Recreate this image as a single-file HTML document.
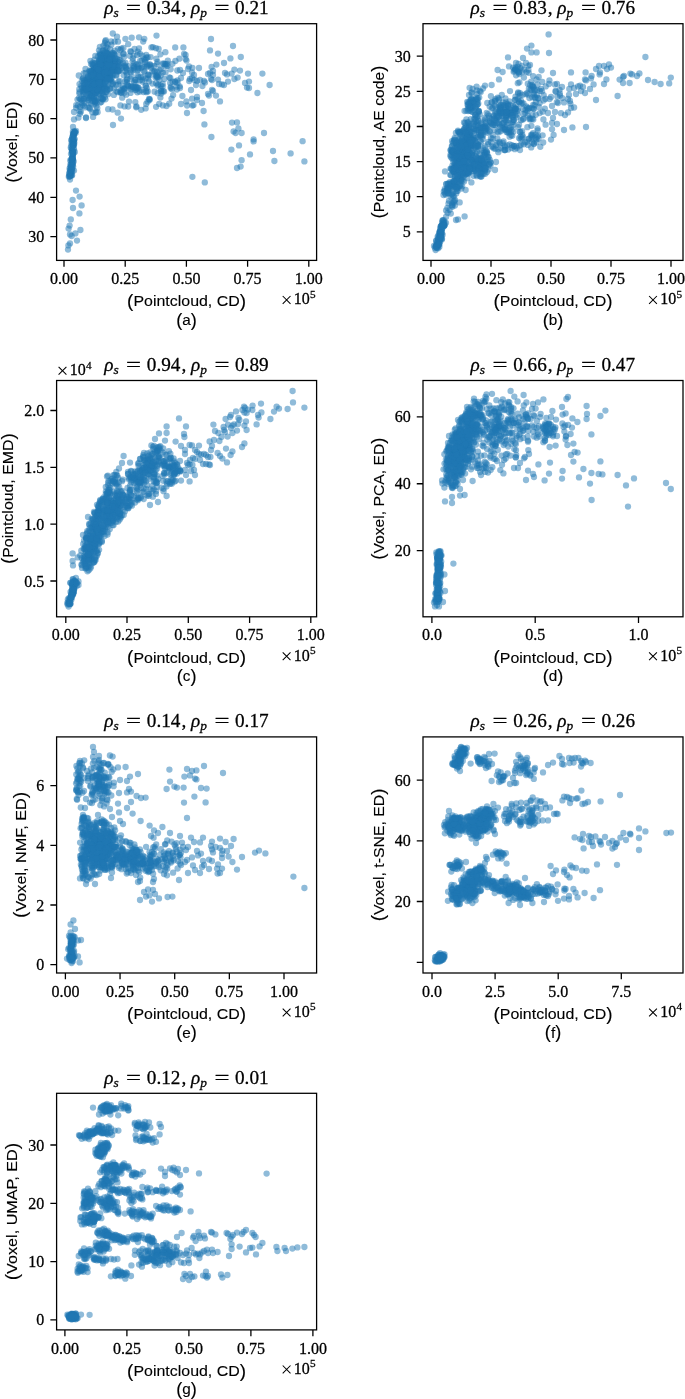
<!DOCTYPE html>
<html lang="en">
<head>
<meta charset="utf-8">
<title>Scatter plots: distance correlations</title>
<style>
html,body{margin:0;padding:0;background:#fff;}
body{width:685px;height:1399px;overflow:hidden;font-family:"Liberation Serif",serif;}
svg{display:block;will-change:transform;}
text{fill:#000;stroke:#000;stroke-width:0.28px;}
text.sans{stroke-width:0.12px;}
</style>
</head>
<body>
<svg width="685" height="1399" viewBox="0 0 685 1399">
<rect width="685" height="1399" fill="#fff"/>
<g id="plot-a">
<clipPath id="clip-a"><rect x="56.6" y="23.7" width="260" height="236.7"/></clipPath>
<g clip-path="url(#clip-a)" fill="#1f77b4" fill-opacity="0.5">
<circle cx="74.8" cy="152.0" r="3.15"/><circle cx="73.5" cy="152.5" r="3.15"/><circle cx="73.0" cy="154.4" r="3.15"/><circle cx="72.8" cy="154.6" r="3.15"/><circle cx="71.9" cy="160.0" r="3.15"/><circle cx="73.6" cy="145.0" r="3.15"/><circle cx="73.4" cy="135.1" r="3.15"/><circle cx="75.6" cy="133.0" r="3.15"/><circle cx="69.3" cy="176.1" r="3.15"/><circle cx="72.4" cy="159.3" r="3.15"/><circle cx="72.5" cy="138.1" r="3.15"/><circle cx="74.0" cy="133.7" r="3.15"/><circle cx="73.6" cy="139.7" r="3.15"/><circle cx="72.4" cy="152.3" r="3.15"/><circle cx="72.1" cy="151.2" r="3.15"/><circle cx="73.0" cy="160.5" r="3.15"/><circle cx="73.1" cy="154.0" r="3.15"/><circle cx="74.2" cy="143.9" r="3.15"/><circle cx="68.8" cy="176.7" r="3.15"/><circle cx="71.8" cy="163.6" r="3.15"/><circle cx="73.1" cy="145.5" r="3.15"/><circle cx="73.2" cy="134.2" r="3.15"/><circle cx="73.1" cy="166.4" r="3.15"/><circle cx="71.8" cy="148.7" r="3.15"/><circle cx="70.8" cy="175.1" r="3.15"/><circle cx="73.6" cy="140.6" r="3.15"/><circle cx="70.5" cy="172.8" r="3.15"/><circle cx="71.6" cy="149.2" r="3.15"/><circle cx="70.9" cy="166.8" r="3.15"/><circle cx="72.6" cy="143.3" r="3.15"/><circle cx="70.4" cy="175.3" r="3.15"/><circle cx="71.0" cy="165.8" r="3.15"/><circle cx="73.4" cy="135.6" r="3.15"/><circle cx="73.9" cy="133.7" r="3.15"/><circle cx="72.9" cy="156.8" r="3.15"/><circle cx="72.1" cy="151.5" r="3.15"/><circle cx="72.3" cy="136.9" r="3.15"/><circle cx="71.2" cy="160.6" r="3.15"/><circle cx="72.8" cy="140.7" r="3.15"/><circle cx="71.6" cy="143.3" r="3.15"/><circle cx="73.5" cy="145.0" r="3.15"/><circle cx="70.9" cy="171.7" r="3.15"/><circle cx="70.3" cy="170.2" r="3.15"/><circle cx="70.2" cy="160.4" r="3.15"/><circle cx="73.6" cy="140.8" r="3.15"/><circle cx="71.4" cy="146.0" r="3.15"/><circle cx="72.8" cy="144.6" r="3.15"/><circle cx="72.0" cy="157.8" r="3.15"/><circle cx="74.2" cy="142.2" r="3.15"/><circle cx="73.2" cy="151.9" r="3.15"/><circle cx="72.1" cy="175.2" r="3.15"/><circle cx="71.0" cy="170.8" r="3.15"/><circle cx="72.4" cy="139.3" r="3.15"/><circle cx="69.6" cy="168.5" r="3.15"/><circle cx="72.8" cy="142.4" r="3.15"/><circle cx="69.4" cy="174.1" r="3.15"/><circle cx="71.6" cy="139.9" r="3.15"/><circle cx="72.8" cy="158.8" r="3.15"/><circle cx="72.6" cy="150.4" r="3.15"/><circle cx="70.7" cy="175.3" r="3.15"/><circle cx="73.7" cy="142.0" r="3.15"/><circle cx="72.1" cy="168.9" r="3.15"/><circle cx="72.3" cy="158.5" r="3.15"/><circle cx="71.1" cy="164.1" r="3.15"/><circle cx="73.9" cy="134.2" r="3.15"/><circle cx="70.0" cy="170.1" r="3.15"/><circle cx="72.5" cy="159.3" r="3.15"/><circle cx="71.4" cy="140.2" r="3.15"/><circle cx="74.4" cy="131.8" r="3.15"/><circle cx="73.0" cy="133.7" r="3.15"/><circle cx="74.5" cy="139.2" r="3.15"/><circle cx="72.9" cy="137.0" r="3.15"/><circle cx="70.8" cy="147.5" r="3.15"/><circle cx="73.7" cy="161.4" r="3.15"/><circle cx="72.3" cy="162.8" r="3.15"/><circle cx="74.5" cy="132.6" r="3.15"/><circle cx="72.9" cy="131.7" r="3.15"/><circle cx="71.7" cy="175.4" r="3.15"/><circle cx="75.0" cy="132.0" r="3.15"/><circle cx="72.5" cy="164.7" r="3.15"/><circle cx="72.8" cy="145.6" r="3.15"/><circle cx="72.3" cy="156.1" r="3.15"/><circle cx="70.3" cy="164.8" r="3.15"/><circle cx="72.7" cy="163.4" r="3.15"/><circle cx="70.6" cy="167.4" r="3.15"/><circle cx="72.3" cy="162.6" r="3.15"/><circle cx="70.3" cy="172.4" r="3.15"/><circle cx="72.2" cy="167.4" r="3.15"/><circle cx="72.4" cy="170.8" r="3.15"/><circle cx="73.5" cy="148.6" r="3.15"/><circle cx="72.5" cy="157.8" r="3.15"/><circle cx="72.3" cy="160.4" r="3.15"/><circle cx="69.6" cy="176.6" r="3.15"/><circle cx="74.0" cy="149.0" r="3.15"/><circle cx="72.6" cy="164.9" r="3.15"/><circle cx="71.8" cy="169.6" r="3.15"/><circle cx="74.0" cy="134.9" r="3.15"/><circle cx="72.4" cy="158.7" r="3.15"/><circle cx="72.4" cy="153.1" r="3.15"/><circle cx="71.0" cy="153.8" r="3.15"/><circle cx="71.4" cy="159.2" r="3.15"/><circle cx="74.6" cy="131.5" r="3.15"/><circle cx="73.5" cy="144.9" r="3.15"/><circle cx="74.3" cy="138.8" r="3.15"/><circle cx="71.6" cy="172.7" r="3.15"/><circle cx="70.0" cy="176.0" r="3.15"/><circle cx="70.0" cy="179.6" r="3.15"/><circle cx="74.0" cy="170.6" r="3.15"/><circle cx="69.2" cy="173.0" r="3.15"/><circle cx="76.0" cy="190.6" r="3.15"/><circle cx="79.6" cy="196.6" r="3.15"/><circle cx="72.6" cy="200.0" r="3.15"/><circle cx="81.6" cy="205.4" r="3.15"/><circle cx="73.0" cy="208.0" r="3.15"/><circle cx="79.4" cy="213.4" r="3.15"/><circle cx="70.8" cy="219.4" r="3.15"/><circle cx="69.6" cy="225.6" r="3.15"/><circle cx="68.6" cy="228.6" r="3.15"/><circle cx="80.4" cy="230.0" r="3.15"/><circle cx="75.4" cy="233.4" r="3.15"/><circle cx="70.0" cy="234.4" r="3.15"/><circle cx="71.6" cy="236.0" r="3.15"/><circle cx="77.0" cy="240.6" r="3.15"/><circle cx="70.0" cy="243.4" r="3.15"/><circle cx="68.4" cy="245.4" r="3.15"/><circle cx="68.0" cy="249.6" r="3.15"/><circle cx="74.0" cy="119.4" r="3.15"/><circle cx="73.0" cy="127.0" r="3.15"/><circle cx="76.0" cy="131.0" r="3.15"/><circle cx="74.0" cy="112.0" r="3.15"/><circle cx="79.6" cy="111.0" r="3.15"/><circle cx="86.0" cy="117.4" r="3.15"/><circle cx="96.0" cy="112.0" r="3.15"/><circle cx="113.0" cy="125.0" r="3.15"/><circle cx="121.0" cy="118.6" r="3.15"/><circle cx="96.5" cy="91.9" r="3.15"/><circle cx="93.5" cy="84.1" r="3.15"/><circle cx="86.4" cy="81.3" r="3.15"/><circle cx="113.5" cy="69.2" r="3.15"/><circle cx="86.7" cy="90.1" r="3.15"/><circle cx="103.7" cy="62.7" r="3.15"/><circle cx="92.2" cy="64.6" r="3.15"/><circle cx="104.1" cy="78.0" r="3.15"/><circle cx="94.4" cy="97.6" r="3.15"/><circle cx="100.2" cy="81.5" r="3.15"/><circle cx="104.8" cy="61.8" r="3.15"/><circle cx="97.2" cy="63.3" r="3.15"/><circle cx="99.2" cy="63.6" r="3.15"/><circle cx="107.2" cy="79.5" r="3.15"/><circle cx="80.9" cy="111.8" r="3.15"/><circle cx="110.3" cy="79.5" r="3.15"/><circle cx="109.7" cy="74.1" r="3.15"/><circle cx="97.6" cy="68.6" r="3.15"/><circle cx="96.8" cy="82.2" r="3.15"/><circle cx="101.6" cy="81.1" r="3.15"/><circle cx="114.4" cy="68.4" r="3.15"/><circle cx="101.2" cy="72.2" r="3.15"/><circle cx="109.8" cy="71.4" r="3.15"/><circle cx="94.7" cy="67.2" r="3.15"/><circle cx="96.7" cy="67.1" r="3.15"/><circle cx="96.7" cy="102.6" r="3.15"/><circle cx="98.3" cy="83.2" r="3.15"/><circle cx="106.6" cy="60.4" r="3.15"/><circle cx="91.6" cy="70.8" r="3.15"/><circle cx="102.7" cy="73.2" r="3.15"/><circle cx="99.2" cy="63.6" r="3.15"/><circle cx="100.3" cy="54.1" r="3.15"/><circle cx="98.0" cy="79.3" r="3.15"/><circle cx="95.3" cy="92.9" r="3.15"/><circle cx="95.4" cy="112.8" r="3.15"/><circle cx="106.6" cy="58.0" r="3.15"/><circle cx="88.4" cy="81.2" r="3.15"/><circle cx="106.1" cy="72.4" r="3.15"/><circle cx="85.6" cy="80.0" r="3.15"/><circle cx="96.9" cy="91.1" r="3.15"/><circle cx="76.1" cy="107.8" r="3.15"/><circle cx="103.6" cy="72.6" r="3.15"/><circle cx="112.5" cy="54.8" r="3.15"/><circle cx="89.5" cy="95.8" r="3.15"/><circle cx="106.5" cy="92.1" r="3.15"/><circle cx="94.4" cy="104.3" r="3.15"/><circle cx="99.0" cy="79.7" r="3.15"/><circle cx="102.1" cy="93.2" r="3.15"/><circle cx="90.6" cy="91.8" r="3.15"/><circle cx="95.0" cy="68.6" r="3.15"/><circle cx="102.8" cy="69.9" r="3.15"/><circle cx="100.8" cy="98.0" r="3.15"/><circle cx="109.9" cy="75.5" r="3.15"/><circle cx="105.9" cy="66.9" r="3.15"/><circle cx="105.1" cy="64.8" r="3.15"/><circle cx="99.2" cy="86.3" r="3.15"/><circle cx="103.8" cy="61.1" r="3.15"/><circle cx="81.6" cy="102.8" r="3.15"/><circle cx="103.0" cy="76.2" r="3.15"/><circle cx="97.1" cy="69.1" r="3.15"/><circle cx="97.1" cy="78.1" r="3.15"/><circle cx="79.4" cy="93.3" r="3.15"/><circle cx="92.9" cy="78.7" r="3.15"/><circle cx="89.4" cy="77.9" r="3.15"/><circle cx="110.7" cy="58.0" r="3.15"/><circle cx="104.6" cy="86.2" r="3.15"/><circle cx="77.9" cy="105.4" r="3.15"/><circle cx="99.7" cy="80.4" r="3.15"/><circle cx="99.7" cy="55.5" r="3.15"/><circle cx="96.7" cy="67.2" r="3.15"/><circle cx="100.5" cy="79.0" r="3.15"/><circle cx="82.7" cy="91.3" r="3.15"/><circle cx="105.6" cy="77.9" r="3.15"/><circle cx="91.0" cy="63.9" r="3.15"/><circle cx="111.4" cy="58.7" r="3.15"/><circle cx="93.8" cy="80.8" r="3.15"/><circle cx="90.7" cy="71.2" r="3.15"/><circle cx="108.9" cy="67.5" r="3.15"/><circle cx="93.1" cy="85.9" r="3.15"/><circle cx="94.1" cy="63.6" r="3.15"/><circle cx="95.0" cy="102.5" r="3.15"/><circle cx="110.9" cy="59.0" r="3.15"/><circle cx="100.8" cy="75.6" r="3.15"/><circle cx="107.0" cy="52.8" r="3.15"/><circle cx="102.8" cy="63.0" r="3.15"/><circle cx="96.5" cy="81.2" r="3.15"/><circle cx="91.6" cy="82.4" r="3.15"/><circle cx="100.8" cy="78.2" r="3.15"/><circle cx="102.1" cy="56.8" r="3.15"/><circle cx="96.0" cy="68.4" r="3.15"/><circle cx="105.2" cy="67.8" r="3.15"/><circle cx="97.7" cy="65.6" r="3.15"/><circle cx="81.8" cy="87.8" r="3.15"/><circle cx="88.6" cy="78.4" r="3.15"/><circle cx="91.4" cy="96.1" r="3.15"/><circle cx="114.2" cy="53.8" r="3.15"/><circle cx="83.7" cy="105.9" r="3.15"/><circle cx="107.6" cy="66.0" r="3.15"/><circle cx="107.9" cy="86.4" r="3.15"/><circle cx="101.5" cy="78.0" r="3.15"/><circle cx="102.1" cy="67.9" r="3.15"/><circle cx="102.1" cy="91.7" r="3.15"/><circle cx="98.0" cy="56.5" r="3.15"/><circle cx="108.4" cy="65.6" r="3.15"/><circle cx="103.5" cy="65.4" r="3.15"/><circle cx="100.3" cy="80.2" r="3.15"/><circle cx="120.5" cy="60.0" r="3.15"/><circle cx="94.4" cy="99.5" r="3.15"/><circle cx="104.6" cy="64.8" r="3.15"/><circle cx="89.7" cy="93.7" r="3.15"/><circle cx="97.3" cy="86.5" r="3.15"/><circle cx="106.9" cy="76.3" r="3.15"/><circle cx="94.1" cy="69.0" r="3.15"/><circle cx="100.2" cy="79.2" r="3.15"/><circle cx="105.3" cy="70.1" r="3.15"/><circle cx="123.4" cy="54.2" r="3.15"/><circle cx="99.6" cy="79.3" r="3.15"/><circle cx="106.0" cy="76.0" r="3.15"/><circle cx="97.2" cy="81.7" r="3.15"/><circle cx="86.8" cy="87.1" r="3.15"/><circle cx="94.2" cy="69.9" r="3.15"/><circle cx="111.1" cy="71.5" r="3.15"/><circle cx="101.7" cy="75.4" r="3.15"/><circle cx="87.2" cy="80.7" r="3.15"/><circle cx="99.2" cy="68.2" r="3.15"/><circle cx="104.7" cy="72.4" r="3.15"/><circle cx="117.1" cy="65.9" r="3.15"/><circle cx="103.0" cy="74.6" r="3.15"/><circle cx="93.9" cy="100.9" r="3.15"/><circle cx="85.8" cy="90.2" r="3.15"/><circle cx="99.9" cy="78.3" r="3.15"/><circle cx="101.5" cy="90.8" r="3.15"/><circle cx="94.8" cy="90.4" r="3.15"/><circle cx="77.5" cy="99.6" r="3.15"/><circle cx="112.9" cy="61.2" r="3.15"/><circle cx="92.9" cy="92.8" r="3.15"/><circle cx="80.6" cy="98.9" r="3.15"/><circle cx="109.4" cy="65.0" r="3.15"/><circle cx="100.9" cy="70.3" r="3.15"/><circle cx="94.5" cy="74.0" r="3.15"/><circle cx="103.8" cy="58.3" r="3.15"/><circle cx="103.0" cy="87.5" r="3.15"/><circle cx="91.5" cy="82.3" r="3.15"/><circle cx="101.5" cy="55.0" r="3.15"/><circle cx="92.0" cy="95.3" r="3.15"/><circle cx="100.0" cy="73.4" r="3.15"/><circle cx="92.5" cy="87.5" r="3.15"/><circle cx="102.0" cy="74.5" r="3.15"/><circle cx="108.4" cy="64.2" r="3.15"/><circle cx="107.5" cy="72.3" r="3.15"/><circle cx="83.7" cy="94.1" r="3.15"/><circle cx="96.0" cy="100.3" r="3.15"/><circle cx="103.3" cy="67.2" r="3.15"/><circle cx="99.8" cy="82.3" r="3.15"/><circle cx="94.1" cy="78.9" r="3.15"/><circle cx="92.4" cy="71.6" r="3.15"/><circle cx="111.2" cy="81.2" r="3.15"/><circle cx="99.1" cy="60.9" r="3.15"/><circle cx="98.8" cy="65.9" r="3.15"/><circle cx="93.6" cy="84.0" r="3.15"/><circle cx="104.5" cy="53.3" r="3.15"/><circle cx="96.0" cy="80.7" r="3.15"/><circle cx="97.5" cy="90.6" r="3.15"/><circle cx="102.4" cy="76.8" r="3.15"/><circle cx="100.2" cy="74.2" r="3.15"/><circle cx="99.4" cy="94.6" r="3.15"/><circle cx="107.2" cy="63.4" r="3.15"/><circle cx="102.8" cy="80.6" r="3.15"/><circle cx="101.8" cy="70.9" r="3.15"/><circle cx="115.0" cy="61.7" r="3.15"/><circle cx="105.6" cy="69.5" r="3.15"/><circle cx="96.2" cy="97.7" r="3.15"/><circle cx="101.8" cy="61.0" r="3.15"/><circle cx="106.4" cy="76.4" r="3.15"/><circle cx="105.7" cy="72.4" r="3.15"/><circle cx="101.2" cy="63.7" r="3.15"/><circle cx="92.0" cy="90.7" r="3.15"/><circle cx="99.8" cy="53.1" r="3.15"/><circle cx="102.8" cy="90.2" r="3.15"/><circle cx="96.0" cy="83.8" r="3.15"/><circle cx="109.5" cy="72.3" r="3.15"/><circle cx="88.1" cy="91.4" r="3.15"/><circle cx="93.4" cy="86.1" r="3.15"/><circle cx="102.6" cy="50.9" r="3.15"/><circle cx="89.5" cy="81.9" r="3.15"/><circle cx="92.1" cy="95.9" r="3.15"/><circle cx="115.4" cy="71.1" r="3.15"/><circle cx="98.2" cy="81.2" r="3.15"/><circle cx="101.6" cy="81.2" r="3.15"/><circle cx="94.4" cy="69.1" r="3.15"/><circle cx="108.5" cy="69.3" r="3.15"/><circle cx="106.1" cy="66.1" r="3.15"/><circle cx="97.3" cy="72.3" r="3.15"/><circle cx="87.9" cy="92.0" r="3.15"/><circle cx="90.6" cy="85.6" r="3.15"/><circle cx="94.8" cy="72.9" r="3.15"/><circle cx="109.3" cy="56.3" r="3.15"/><circle cx="103.8" cy="84.7" r="3.15"/><circle cx="100.9" cy="54.9" r="3.15"/><circle cx="92.2" cy="95.2" r="3.15"/><circle cx="105.4" cy="60.9" r="3.15"/><circle cx="106.0" cy="46.7" r="3.15"/><circle cx="110.9" cy="62.5" r="3.15"/><circle cx="90.2" cy="73.7" r="3.15"/><circle cx="100.6" cy="86.2" r="3.15"/><circle cx="94.0" cy="83.4" r="3.15"/><circle cx="102.7" cy="72.2" r="3.15"/><circle cx="103.0" cy="83.4" r="3.15"/><circle cx="95.3" cy="63.2" r="3.15"/><circle cx="97.2" cy="73.1" r="3.15"/><circle cx="113.3" cy="53.1" r="3.15"/><circle cx="100.0" cy="71.2" r="3.15"/><circle cx="93.8" cy="80.5" r="3.15"/><circle cx="107.7" cy="53.0" r="3.15"/><circle cx="97.0" cy="89.4" r="3.15"/><circle cx="103.2" cy="65.1" r="3.15"/><circle cx="98.8" cy="93.5" r="3.15"/><circle cx="95.3" cy="55.8" r="3.15"/><circle cx="103.6" cy="95.6" r="3.15"/><circle cx="84.7" cy="84.9" r="3.15"/><circle cx="102.0" cy="65.5" r="3.15"/><circle cx="94.5" cy="59.6" r="3.15"/><circle cx="111.4" cy="57.1" r="3.15"/><circle cx="92.6" cy="82.0" r="3.15"/><circle cx="100.4" cy="64.0" r="3.15"/><circle cx="101.4" cy="63.9" r="3.15"/><circle cx="93.2" cy="66.2" r="3.15"/><circle cx="84.6" cy="82.7" r="3.15"/><circle cx="92.7" cy="82.4" r="3.15"/><circle cx="98.0" cy="80.4" r="3.15"/><circle cx="85.0" cy="107.4" r="3.15"/><circle cx="93.8" cy="70.4" r="3.15"/><circle cx="85.6" cy="72.8" r="3.15"/><circle cx="86.2" cy="90.2" r="3.15"/><circle cx="95.3" cy="101.4" r="3.15"/><circle cx="102.8" cy="69.3" r="3.15"/><circle cx="103.8" cy="86.0" r="3.15"/><circle cx="106.2" cy="65.2" r="3.15"/><circle cx="95.4" cy="79.4" r="3.15"/><circle cx="96.0" cy="82.7" r="3.15"/><circle cx="89.4" cy="98.4" r="3.15"/><circle cx="104.4" cy="66.1" r="3.15"/><circle cx="91.4" cy="94.9" r="3.15"/><circle cx="85.0" cy="88.3" r="3.15"/><circle cx="111.1" cy="41.5" r="3.15"/><circle cx="83.8" cy="88.4" r="3.15"/><circle cx="93.4" cy="80.7" r="3.15"/><circle cx="76.2" cy="105.1" r="3.15"/><circle cx="100.5" cy="59.2" r="3.15"/><circle cx="91.1" cy="103.6" r="3.15"/><circle cx="97.3" cy="107.9" r="3.15"/><circle cx="84.0" cy="99.1" r="3.15"/><circle cx="90.3" cy="89.6" r="3.15"/><circle cx="82.4" cy="100.6" r="3.15"/><circle cx="107.6" cy="71.4" r="3.15"/><circle cx="112.9" cy="59.1" r="3.15"/><circle cx="100.4" cy="78.1" r="3.15"/><circle cx="99.0" cy="65.9" r="3.15"/><circle cx="103.4" cy="71.6" r="3.15"/><circle cx="97.6" cy="77.1" r="3.15"/><circle cx="96.6" cy="67.1" r="3.15"/><circle cx="90.5" cy="97.8" r="3.15"/><circle cx="94.4" cy="68.6" r="3.15"/><circle cx="102.5" cy="71.9" r="3.15"/><circle cx="100.6" cy="79.9" r="3.15"/><circle cx="102.5" cy="70.8" r="3.15"/><circle cx="102.4" cy="65.0" r="3.15"/><circle cx="90.7" cy="96.6" r="3.15"/><circle cx="102.6" cy="66.7" r="3.15"/><circle cx="103.3" cy="67.5" r="3.15"/><circle cx="83.9" cy="85.4" r="3.15"/><circle cx="91.2" cy="83.0" r="3.15"/><circle cx="108.6" cy="79.0" r="3.15"/><circle cx="85.7" cy="96.6" r="3.15"/><circle cx="111.9" cy="63.2" r="3.15"/><circle cx="97.3" cy="81.3" r="3.15"/><circle cx="110.1" cy="75.8" r="3.15"/><circle cx="90.2" cy="83.1" r="3.15"/><circle cx="100.2" cy="62.4" r="3.15"/><circle cx="106.2" cy="81.1" r="3.15"/><circle cx="98.5" cy="77.9" r="3.15"/><circle cx="95.0" cy="72.0" r="3.15"/><circle cx="102.5" cy="75.1" r="3.15"/><circle cx="86.4" cy="98.2" r="3.15"/><circle cx="99.2" cy="83.1" r="3.15"/><circle cx="103.3" cy="65.1" r="3.15"/><circle cx="105.0" cy="42.8" r="3.15"/><circle cx="102.2" cy="80.5" r="3.15"/><circle cx="95.8" cy="75.7" r="3.15"/><circle cx="98.2" cy="78.4" r="3.15"/><circle cx="103.1" cy="79.3" r="3.15"/><circle cx="88.3" cy="103.2" r="3.15"/><circle cx="95.4" cy="81.7" r="3.15"/><circle cx="114.5" cy="55.0" r="3.15"/><circle cx="90.4" cy="60.8" r="3.15"/><circle cx="93.3" cy="65.2" r="3.15"/><circle cx="89.1" cy="90.5" r="3.15"/><circle cx="99.9" cy="46.8" r="3.15"/><circle cx="114.8" cy="63.5" r="3.15"/><circle cx="107.5" cy="62.0" r="3.15"/><circle cx="104.1" cy="56.9" r="3.15"/><circle cx="100.6" cy="78.9" r="3.15"/><circle cx="93.2" cy="87.5" r="3.15"/><circle cx="99.4" cy="70.0" r="3.15"/><circle cx="105.0" cy="60.1" r="3.15"/><circle cx="91.8" cy="90.0" r="3.15"/><circle cx="91.4" cy="81.0" r="3.15"/><circle cx="113.4" cy="70.5" r="3.15"/><circle cx="95.9" cy="82.1" r="3.15"/><circle cx="92.2" cy="75.8" r="3.15"/><circle cx="106.9" cy="60.2" r="3.15"/><circle cx="106.9" cy="56.8" r="3.15"/><circle cx="108.7" cy="80.2" r="3.15"/><circle cx="100.3" cy="78.8" r="3.15"/><circle cx="106.7" cy="55.8" r="3.15"/><circle cx="101.0" cy="60.4" r="3.15"/><circle cx="94.8" cy="78.4" r="3.15"/><circle cx="102.7" cy="62.8" r="3.15"/><circle cx="97.2" cy="87.7" r="3.15"/><circle cx="103.2" cy="50.5" r="3.15"/><circle cx="105.3" cy="41.1" r="3.15"/><circle cx="90.0" cy="83.6" r="3.15"/><circle cx="112.4" cy="53.0" r="3.15"/><circle cx="107.6" cy="74.9" r="3.15"/><circle cx="103.8" cy="63.4" r="3.15"/><circle cx="86.7" cy="82.0" r="3.15"/><circle cx="104.4" cy="59.1" r="3.15"/><circle cx="97.8" cy="80.3" r="3.15"/><circle cx="106.7" cy="69.5" r="3.15"/><circle cx="114.5" cy="70.4" r="3.15"/><circle cx="100.0" cy="59.0" r="3.15"/><circle cx="97.1" cy="66.1" r="3.15"/><circle cx="92.1" cy="98.1" r="3.15"/><circle cx="90.3" cy="88.7" r="3.15"/><circle cx="110.4" cy="65.3" r="3.15"/><circle cx="95.0" cy="73.0" r="3.15"/><circle cx="88.6" cy="97.6" r="3.15"/><circle cx="95.8" cy="77.3" r="3.15"/><circle cx="102.9" cy="63.8" r="3.15"/><circle cx="91.9" cy="80.3" r="3.15"/><circle cx="106.9" cy="65.0" r="3.15"/><circle cx="84.5" cy="102.8" r="3.15"/><circle cx="97.6" cy="82.7" r="3.15"/><circle cx="79.9" cy="106.8" r="3.15"/><circle cx="94.2" cy="79.4" r="3.15"/><circle cx="95.4" cy="74.9" r="3.15"/><circle cx="99.7" cy="79.7" r="3.15"/><circle cx="102.2" cy="88.2" r="3.15"/><circle cx="96.5" cy="84.0" r="3.15"/><circle cx="101.9" cy="70.7" r="3.15"/><circle cx="106.2" cy="56.1" r="3.15"/><circle cx="97.9" cy="91.2" r="3.15"/><circle cx="93.6" cy="81.5" r="3.15"/><circle cx="102.6" cy="76.0" r="3.15"/><circle cx="103.9" cy="80.3" r="3.15"/><circle cx="87.9" cy="84.4" r="3.15"/><circle cx="94.7" cy="83.2" r="3.15"/><circle cx="123.4" cy="48.0" r="3.15"/><circle cx="96.2" cy="76.9" r="3.15"/><circle cx="98.9" cy="82.0" r="3.15"/><circle cx="97.2" cy="89.0" r="3.15"/><circle cx="87.1" cy="79.3" r="3.15"/><circle cx="96.0" cy="90.3" r="3.15"/><circle cx="108.0" cy="59.6" r="3.15"/><circle cx="106.4" cy="77.7" r="3.15"/><circle cx="92.5" cy="83.5" r="3.15"/><circle cx="108.0" cy="55.3" r="3.15"/><circle cx="84.4" cy="87.7" r="3.15"/><circle cx="95.9" cy="92.9" r="3.15"/><circle cx="96.6" cy="74.2" r="3.15"/><circle cx="94.5" cy="72.5" r="3.15"/><circle cx="107.7" cy="65.0" r="3.15"/><circle cx="105.6" cy="60.0" r="3.15"/><circle cx="103.9" cy="55.4" r="3.15"/><circle cx="115.0" cy="61.1" r="3.15"/><circle cx="109.6" cy="74.9" r="3.15"/><circle cx="107.6" cy="44.2" r="3.15"/><circle cx="88.3" cy="83.7" r="3.15"/><circle cx="100.6" cy="63.9" r="3.15"/><circle cx="88.6" cy="100.1" r="3.15"/><circle cx="101.4" cy="98.4" r="3.15"/><circle cx="101.9" cy="79.0" r="3.15"/><circle cx="87.3" cy="85.9" r="3.15"/><circle cx="107.9" cy="71.0" r="3.15"/><circle cx="88.8" cy="84.3" r="3.15"/><circle cx="101.7" cy="80.7" r="3.15"/><circle cx="103.7" cy="87.6" r="3.15"/><circle cx="109.6" cy="71.4" r="3.15"/><circle cx="85.4" cy="87.6" r="3.15"/><circle cx="90.2" cy="89.9" r="3.15"/><circle cx="109.9" cy="58.6" r="3.15"/><circle cx="94.6" cy="70.6" r="3.15"/><circle cx="100.2" cy="70.1" r="3.15"/><circle cx="98.1" cy="72.5" r="3.15"/><circle cx="91.6" cy="94.0" r="3.15"/><circle cx="101.6" cy="62.3" r="3.15"/><circle cx="112.6" cy="74.5" r="3.15"/><circle cx="112.8" cy="66.1" r="3.15"/><circle cx="100.6" cy="82.8" r="3.15"/><circle cx="95.1" cy="88.8" r="3.15"/><circle cx="94.4" cy="86.5" r="3.15"/><circle cx="92.3" cy="96.9" r="3.15"/><circle cx="98.0" cy="80.7" r="3.15"/><circle cx="83.0" cy="78.3" r="3.15"/><circle cx="99.1" cy="86.9" r="3.15"/><circle cx="97.6" cy="75.8" r="3.15"/><circle cx="115.1" cy="68.4" r="3.15"/><circle cx="106.6" cy="65.2" r="3.15"/><circle cx="88.4" cy="88.5" r="3.15"/><circle cx="107.3" cy="61.4" r="3.15"/><circle cx="103.1" cy="77.0" r="3.15"/><circle cx="83.2" cy="78.7" r="3.15"/><circle cx="105.1" cy="78.8" r="3.15"/><circle cx="99.1" cy="79.5" r="3.15"/><circle cx="114.4" cy="68.8" r="3.15"/><circle cx="95.7" cy="93.0" r="3.15"/><circle cx="107.4" cy="47.8" r="3.15"/><circle cx="110.2" cy="65.3" r="3.15"/><circle cx="114.7" cy="50.7" r="3.15"/><circle cx="96.5" cy="75.8" r="3.15"/><circle cx="98.8" cy="88.4" r="3.15"/><circle cx="110.0" cy="88.5" r="3.15"/><circle cx="99.3" cy="61.2" r="3.15"/><circle cx="123.6" cy="53.6" r="3.15"/><circle cx="101.3" cy="102.1" r="3.15"/><circle cx="117.2" cy="66.1" r="3.15"/><circle cx="102.9" cy="89.0" r="3.15"/><circle cx="97.3" cy="72.5" r="3.15"/><circle cx="112.1" cy="58.0" r="3.15"/><circle cx="105.4" cy="71.3" r="3.15"/><circle cx="112.4" cy="58.1" r="3.15"/><circle cx="83.6" cy="90.1" r="3.15"/><circle cx="82.2" cy="105.0" r="3.15"/><circle cx="90.8" cy="83.1" r="3.15"/><circle cx="111.3" cy="44.7" r="3.15"/><circle cx="92.6" cy="89.7" r="3.15"/><circle cx="107.5" cy="89.6" r="3.15"/><circle cx="88.1" cy="76.9" r="3.15"/><circle cx="110.4" cy="88.7" r="3.15"/><circle cx="101.1" cy="73.4" r="3.15"/><circle cx="106.4" cy="69.0" r="3.15"/><circle cx="93.9" cy="84.8" r="3.15"/><circle cx="111.5" cy="54.6" r="3.15"/><circle cx="100.0" cy="64.9" r="3.15"/><circle cx="120.3" cy="92.6" r="3.15"/><circle cx="97.6" cy="112.2" r="3.15"/><circle cx="101.6" cy="76.4" r="3.15"/><circle cx="102.9" cy="99.6" r="3.15"/><circle cx="101.5" cy="90.1" r="3.15"/><circle cx="102.7" cy="59.7" r="3.15"/><circle cx="86.1" cy="87.7" r="3.15"/><circle cx="79.1" cy="98.0" r="3.15"/><circle cx="107.0" cy="85.4" r="3.15"/><circle cx="105.1" cy="88.2" r="3.15"/><circle cx="117.0" cy="58.8" r="3.15"/><circle cx="109.1" cy="62.1" r="3.15"/><circle cx="109.7" cy="64.4" r="3.15"/><circle cx="89.7" cy="107.8" r="3.15"/><circle cx="88.7" cy="88.1" r="3.15"/><circle cx="90.9" cy="75.1" r="3.15"/><circle cx="108.1" cy="94.2" r="3.15"/><circle cx="99.4" cy="74.2" r="3.15"/><circle cx="95.2" cy="101.5" r="3.15"/><circle cx="97.9" cy="87.5" r="3.15"/><circle cx="91.3" cy="73.3" r="3.15"/><circle cx="93.5" cy="76.6" r="3.15"/><circle cx="103.0" cy="76.1" r="3.15"/><circle cx="107.3" cy="90.2" r="3.15"/><circle cx="79.5" cy="84.1" r="3.15"/><circle cx="97.1" cy="87.6" r="3.15"/><circle cx="102.9" cy="70.8" r="3.15"/><circle cx="96.9" cy="73.5" r="3.15"/><circle cx="101.8" cy="57.0" r="3.15"/><circle cx="95.8" cy="80.5" r="3.15"/><circle cx="100.8" cy="84.6" r="3.15"/><circle cx="96.0" cy="88.5" r="3.15"/><circle cx="97.8" cy="68.0" r="3.15"/><circle cx="88.6" cy="107.6" r="3.15"/><circle cx="90.2" cy="82.1" r="3.15"/><circle cx="108.6" cy="74.4" r="3.15"/><circle cx="128.2" cy="44.2" r="3.15"/><circle cx="104.0" cy="76.1" r="3.15"/><circle cx="105.9" cy="66.5" r="3.15"/><circle cx="99.2" cy="84.9" r="3.15"/><circle cx="120.3" cy="50.0" r="3.15"/><circle cx="102.5" cy="66.7" r="3.15"/><circle cx="109.1" cy="65.4" r="3.15"/><circle cx="116.3" cy="85.0" r="3.15"/><circle cx="99.1" cy="80.3" r="3.15"/><circle cx="94.8" cy="91.1" r="3.15"/><circle cx="109.3" cy="60.6" r="3.15"/><circle cx="115.6" cy="66.3" r="3.15"/><circle cx="83.9" cy="80.1" r="3.15"/><circle cx="114.7" cy="41.7" r="3.15"/><circle cx="87.9" cy="78.0" r="3.15"/><circle cx="113.5" cy="70.6" r="3.15"/><circle cx="96.1" cy="72.1" r="3.15"/><circle cx="83.3" cy="93.5" r="3.15"/><circle cx="106.5" cy="78.6" r="3.15"/><circle cx="95.6" cy="93.2" r="3.15"/><circle cx="91.9" cy="89.1" r="3.15"/><circle cx="98.4" cy="69.6" r="3.15"/><circle cx="100.6" cy="83.7" r="3.15"/><circle cx="96.9" cy="66.2" r="3.15"/><circle cx="99.3" cy="60.5" r="3.15"/><circle cx="90.1" cy="109.1" r="3.15"/><circle cx="119.1" cy="71.0" r="3.15"/><circle cx="99.9" cy="67.4" r="3.15"/><circle cx="110.0" cy="73.1" r="3.15"/><circle cx="99.8" cy="78.5" r="3.15"/><circle cx="119.7" cy="70.2" r="3.15"/><circle cx="93.9" cy="90.9" r="3.15"/><circle cx="118.7" cy="70.8" r="3.15"/><circle cx="103.4" cy="45.6" r="3.15"/><circle cx="105.8" cy="58.1" r="3.15"/><circle cx="93.1" cy="116.9" r="3.15"/><circle cx="97.9" cy="77.0" r="3.15"/><circle cx="107.9" cy="78.4" r="3.15"/><circle cx="97.3" cy="89.9" r="3.15"/><circle cx="100.3" cy="102.5" r="3.15"/><circle cx="102.5" cy="74.8" r="3.15"/><circle cx="109.2" cy="78.7" r="3.15"/><circle cx="115.3" cy="66.5" r="3.15"/><circle cx="91.0" cy="72.8" r="3.15"/><circle cx="113.4" cy="75.2" r="3.15"/><circle cx="107.2" cy="61.2" r="3.15"/><circle cx="108.5" cy="53.9" r="3.15"/><circle cx="98.7" cy="88.5" r="3.15"/><circle cx="103.2" cy="66.9" r="3.15"/><circle cx="79.3" cy="89.2" r="3.15"/><circle cx="110.2" cy="60.1" r="3.15"/><circle cx="102.1" cy="65.6" r="3.15"/><circle cx="106.0" cy="71.9" r="3.15"/><circle cx="92.3" cy="75.5" r="3.15"/><circle cx="102.5" cy="98.7" r="3.15"/><circle cx="78.4" cy="117.7" r="3.15"/><circle cx="115.4" cy="60.4" r="3.15"/><circle cx="92.6" cy="83.0" r="3.15"/><circle cx="108.2" cy="109.2" r="3.15"/><circle cx="97.4" cy="89.3" r="3.15"/><circle cx="117.9" cy="61.8" r="3.15"/><circle cx="101.4" cy="70.1" r="3.15"/><circle cx="95.5" cy="73.9" r="3.15"/><circle cx="96.7" cy="67.4" r="3.15"/><circle cx="105.1" cy="82.0" r="3.15"/><circle cx="100.4" cy="64.3" r="3.15"/><circle cx="97.2" cy="77.0" r="3.15"/><circle cx="102.6" cy="93.0" r="3.15"/><circle cx="98.9" cy="70.1" r="3.15"/><circle cx="89.5" cy="70.3" r="3.15"/><circle cx="81.3" cy="86.0" r="3.15"/><circle cx="105.5" cy="91.9" r="3.15"/><circle cx="98.8" cy="76.8" r="3.15"/><circle cx="99.4" cy="74.7" r="3.15"/><circle cx="89.2" cy="71.7" r="3.15"/><circle cx="92.3" cy="75.9" r="3.15"/><circle cx="101.1" cy="77.3" r="3.15"/><circle cx="90.5" cy="71.7" r="3.15"/><circle cx="105.4" cy="50.3" r="3.15"/><circle cx="95.0" cy="83.6" r="3.15"/><circle cx="83.7" cy="83.2" r="3.15"/><circle cx="110.2" cy="79.6" r="3.15"/><circle cx="78.8" cy="75.5" r="3.15"/><circle cx="94.1" cy="97.9" r="3.15"/><circle cx="83.6" cy="98.6" r="3.15"/><circle cx="88.8" cy="88.2" r="3.15"/><circle cx="111.8" cy="77.7" r="3.15"/><circle cx="115.0" cy="59.1" r="3.15"/><circle cx="93.0" cy="74.5" r="3.15"/><circle cx="83.7" cy="73.5" r="3.15"/><circle cx="118.1" cy="48.8" r="3.15"/><circle cx="105.5" cy="72.6" r="3.15"/><circle cx="110.4" cy="56.8" r="3.15"/><circle cx="91.5" cy="75.4" r="3.15"/><circle cx="98.8" cy="84.5" r="3.15"/><circle cx="101.3" cy="58.9" r="3.15"/><circle cx="84.6" cy="92.1" r="3.15"/><circle cx="105.5" cy="99.3" r="3.15"/><circle cx="79.9" cy="113.8" r="3.15"/><circle cx="111.5" cy="70.3" r="3.15"/><circle cx="93.1" cy="87.5" r="3.15"/><circle cx="80.4" cy="99.3" r="3.15"/><circle cx="86.0" cy="118.0" r="3.15"/><circle cx="88.7" cy="84.8" r="3.15"/><circle cx="86.4" cy="88.9" r="3.15"/><circle cx="94.0" cy="84.3" r="3.15"/><circle cx="104.6" cy="51.9" r="3.15"/><circle cx="99.0" cy="82.4" r="3.15"/><circle cx="110.9" cy="68.4" r="3.15"/><circle cx="109.8" cy="64.3" r="3.15"/><circle cx="105.6" cy="77.7" r="3.15"/><circle cx="100.1" cy="76.4" r="3.15"/><circle cx="81.8" cy="80.6" r="3.15"/><circle cx="98.2" cy="69.6" r="3.15"/><circle cx="112.8" cy="84.4" r="3.15"/><circle cx="96.2" cy="106.3" r="3.15"/><circle cx="85.5" cy="68.8" r="3.15"/><circle cx="88.1" cy="76.3" r="3.15"/><circle cx="106.7" cy="64.5" r="3.15"/><circle cx="107.1" cy="53.7" r="3.15"/><circle cx="106.5" cy="68.1" r="3.15"/><circle cx="92.3" cy="112.3" r="3.15"/><circle cx="79.5" cy="92.1" r="3.15"/><circle cx="92.8" cy="62.9" r="3.15"/><circle cx="92.4" cy="101.1" r="3.15"/><circle cx="86.9" cy="83.3" r="3.15"/><circle cx="107.9" cy="64.2" r="3.15"/><circle cx="116.5" cy="75.5" r="3.15"/><circle cx="123.4" cy="88.3" r="3.15"/><circle cx="102.7" cy="99.1" r="3.15"/><circle cx="167.8" cy="60.6" r="3.15"/><circle cx="158.6" cy="49.0" r="3.15"/><circle cx="170.7" cy="86.8" r="3.15"/><circle cx="137.7" cy="75.0" r="3.15"/><circle cx="124.6" cy="88.3" r="3.15"/><circle cx="144.0" cy="71.6" r="3.15"/><circle cx="149.7" cy="99.2" r="3.15"/><circle cx="145.1" cy="62.0" r="3.15"/><circle cx="141.9" cy="66.7" r="3.15"/><circle cx="176.8" cy="89.6" r="3.15"/><circle cx="124.0" cy="57.1" r="3.15"/><circle cx="158.1" cy="84.4" r="3.15"/><circle cx="165.4" cy="52.2" r="3.15"/><circle cx="125.0" cy="81.4" r="3.15"/><circle cx="145.6" cy="108.4" r="3.15"/><circle cx="172.5" cy="81.7" r="3.15"/><circle cx="164.0" cy="91.4" r="3.15"/><circle cx="149.5" cy="100.0" r="3.15"/><circle cx="139.7" cy="91.7" r="3.15"/><circle cx="164.4" cy="78.9" r="3.15"/><circle cx="157.1" cy="63.9" r="3.15"/><circle cx="140.6" cy="77.0" r="3.15"/><circle cx="141.2" cy="109.8" r="3.15"/><circle cx="158.1" cy="77.4" r="3.15"/><circle cx="145.9" cy="86.0" r="3.15"/><circle cx="161.4" cy="91.5" r="3.15"/><circle cx="135.9" cy="89.6" r="3.15"/><circle cx="121.3" cy="48.7" r="3.15"/><circle cx="160.7" cy="75.6" r="3.15"/><circle cx="146.2" cy="55.0" r="3.15"/><circle cx="128.5" cy="66.1" r="3.15"/><circle cx="120.4" cy="105.4" r="3.15"/><circle cx="117.7" cy="92.2" r="3.15"/><circle cx="135.2" cy="90.1" r="3.15"/><circle cx="104.7" cy="74.1" r="3.15"/><circle cx="142.4" cy="81.7" r="3.15"/><circle cx="146.5" cy="92.2" r="3.15"/><circle cx="148.1" cy="78.7" r="3.15"/><circle cx="117.9" cy="71.8" r="3.15"/><circle cx="136.3" cy="87.2" r="3.15"/><circle cx="193.5" cy="105.1" r="3.15"/><circle cx="138.5" cy="88.0" r="3.15"/><circle cx="112.7" cy="83.7" r="3.15"/><circle cx="175.4" cy="61.0" r="3.15"/><circle cx="159.4" cy="79.9" r="3.15"/><circle cx="187.1" cy="105.5" r="3.15"/><circle cx="142.3" cy="80.0" r="3.15"/><circle cx="163.6" cy="64.0" r="3.15"/><circle cx="162.6" cy="86.4" r="3.15"/><circle cx="118.4" cy="64.2" r="3.15"/><circle cx="122.0" cy="68.1" r="3.15"/><circle cx="189.2" cy="81.0" r="3.15"/><circle cx="149.4" cy="64.7" r="3.15"/><circle cx="170.8" cy="88.2" r="3.15"/><circle cx="179.4" cy="58.7" r="3.15"/><circle cx="127.2" cy="79.0" r="3.15"/><circle cx="146.8" cy="87.9" r="3.15"/><circle cx="155.6" cy="77.4" r="3.15"/><circle cx="141.7" cy="60.6" r="3.15"/><circle cx="138.8" cy="68.1" r="3.15"/><circle cx="163.1" cy="91.3" r="3.15"/><circle cx="131.8" cy="86.8" r="3.15"/><circle cx="123.7" cy="75.2" r="3.15"/><circle cx="124.2" cy="92.7" r="3.15"/><circle cx="134.4" cy="87.9" r="3.15"/><circle cx="137.1" cy="55.0" r="3.15"/><circle cx="157.5" cy="85.6" r="3.15"/><circle cx="157.5" cy="61.9" r="3.15"/><circle cx="155.9" cy="48.2" r="3.15"/><circle cx="192.1" cy="98.7" r="3.15"/><circle cx="167.4" cy="63.9" r="3.15"/><circle cx="160.9" cy="85.6" r="3.15"/><circle cx="166.5" cy="106.0" r="3.15"/><circle cx="109.5" cy="59.3" r="3.15"/><circle cx="118.7" cy="66.8" r="3.15"/><circle cx="131.3" cy="89.4" r="3.15"/><circle cx="110.2" cy="49.5" r="3.15"/><circle cx="150.2" cy="64.4" r="3.15"/><circle cx="149.0" cy="81.4" r="3.15"/><circle cx="172.4" cy="63.8" r="3.15"/><circle cx="122.2" cy="97.7" r="3.15"/><circle cx="147.6" cy="57.2" r="3.15"/><circle cx="152.9" cy="47.1" r="3.15"/><circle cx="105.7" cy="83.3" r="3.15"/><circle cx="156.1" cy="106.8" r="3.15"/><circle cx="137.7" cy="66.5" r="3.15"/><circle cx="171.5" cy="98.6" r="3.15"/><circle cx="135.6" cy="82.5" r="3.15"/><circle cx="126.2" cy="94.7" r="3.15"/><circle cx="135.8" cy="79.9" r="3.15"/><circle cx="186.5" cy="60.6" r="3.15"/><circle cx="128.2" cy="106.5" r="3.15"/><circle cx="157.4" cy="76.7" r="3.15"/><circle cx="119.6" cy="80.9" r="3.15"/><circle cx="118.0" cy="41.7" r="3.15"/><circle cx="126.6" cy="79.9" r="3.15"/><circle cx="156.7" cy="75.6" r="3.15"/><circle cx="134.5" cy="48.9" r="3.15"/><circle cx="125.5" cy="62.9" r="3.15"/><circle cx="137.6" cy="87.1" r="3.15"/><circle cx="104.9" cy="97.0" r="3.15"/><circle cx="113.0" cy="82.7" r="3.15"/><circle cx="156.0" cy="83.2" r="3.15"/><circle cx="144.4" cy="59.0" r="3.15"/><circle cx="176.6" cy="86.6" r="3.15"/><circle cx="126.8" cy="82.3" r="3.15"/><circle cx="157.6" cy="93.2" r="3.15"/><circle cx="110.5" cy="78.4" r="3.15"/><circle cx="131.1" cy="87.3" r="3.15"/><circle cx="140.0" cy="53.8" r="3.15"/><circle cx="123.6" cy="66.3" r="3.15"/><circle cx="113.9" cy="88.7" r="3.15"/><circle cx="141.4" cy="68.1" r="3.15"/><circle cx="169.3" cy="77.4" r="3.15"/><circle cx="170.3" cy="78.0" r="3.15"/><circle cx="121.4" cy="92.4" r="3.15"/><circle cx="165.5" cy="72.3" r="3.15"/><circle cx="136.5" cy="106.4" r="3.15"/><circle cx="177.3" cy="70.5" r="3.15"/><circle cx="121.3" cy="92.6" r="3.15"/><circle cx="154.8" cy="71.5" r="3.15"/><circle cx="146.9" cy="66.4" r="3.15"/><circle cx="118.6" cy="81.6" r="3.15"/><circle cx="118.6" cy="55.2" r="3.15"/><circle cx="143.6" cy="92.1" r="3.15"/><circle cx="130.6" cy="72.5" r="3.15"/><circle cx="123.0" cy="62.9" r="3.15"/><circle cx="127.4" cy="85.0" r="3.15"/><circle cx="121.9" cy="90.0" r="3.15"/><circle cx="156.4" cy="58.7" r="3.15"/><circle cx="165.4" cy="66.2" r="3.15"/><circle cx="120.4" cy="90.5" r="3.15"/><circle cx="148.2" cy="74.9" r="3.15"/><circle cx="161.3" cy="93.6" r="3.15"/><circle cx="133.6" cy="67.9" r="3.15"/><circle cx="104.5" cy="72.9" r="3.15"/><circle cx="159.2" cy="103.9" r="3.15"/><circle cx="175.3" cy="82.1" r="3.15"/><circle cx="165.1" cy="64.0" r="3.15"/><circle cx="173.1" cy="95.1" r="3.15"/><circle cx="113.3" cy="66.2" r="3.15"/><circle cx="134.1" cy="82.2" r="3.15"/><circle cx="133.3" cy="65.8" r="3.15"/><circle cx="156.0" cy="75.4" r="3.15"/><circle cx="105.9" cy="52.7" r="3.15"/><circle cx="179.7" cy="86.3" r="3.15"/><circle cx="138.1" cy="64.4" r="3.15"/><circle cx="119.8" cy="62.4" r="3.15"/><circle cx="159.7" cy="70.0" r="3.15"/><circle cx="175.2" cy="47.4" r="3.15"/><circle cx="130.4" cy="51.2" r="3.15"/><circle cx="167.4" cy="65.9" r="3.15"/><circle cx="107.3" cy="78.9" r="3.15"/><circle cx="140.1" cy="60.9" r="3.15"/><circle cx="144.6" cy="71.4" r="3.15"/><circle cx="122.6" cy="86.2" r="3.15"/><circle cx="137.8" cy="70.6" r="3.15"/><circle cx="150.6" cy="57.1" r="3.15"/><circle cx="160.8" cy="88.9" r="3.15"/><circle cx="147.1" cy="64.5" r="3.15"/><circle cx="111.4" cy="72.6" r="3.15"/><circle cx="118.5" cy="84.4" r="3.15"/><circle cx="126.6" cy="72.5" r="3.15"/><circle cx="135.3" cy="102.1" r="3.15"/><circle cx="136.5" cy="64.5" r="3.15"/><circle cx="162.8" cy="72.6" r="3.15"/><circle cx="135.1" cy="80.0" r="3.15"/><circle cx="119.7" cy="65.8" r="3.15"/><circle cx="138.5" cy="69.1" r="3.15"/><circle cx="130.5" cy="92.9" r="3.15"/><circle cx="154.1" cy="71.4" r="3.15"/><circle cx="177.6" cy="82.9" r="3.15"/><circle cx="161.0" cy="91.2" r="3.15"/><circle cx="146.4" cy="57.9" r="3.15"/><circle cx="151.4" cy="47.4" r="3.15"/><circle cx="146.2" cy="103.9" r="3.15"/><circle cx="162.8" cy="105.4" r="3.15"/><circle cx="192.4" cy="67.8" r="3.15"/><circle cx="137.7" cy="51.6" r="3.15"/><circle cx="104.9" cy="89.1" r="3.15"/><circle cx="131.1" cy="85.6" r="3.15"/><circle cx="137.4" cy="88.2" r="3.15"/><circle cx="125.1" cy="71.2" r="3.15"/><circle cx="135.4" cy="87.5" r="3.15"/><circle cx="147.6" cy="101.7" r="3.15"/><circle cx="130.4" cy="78.9" r="3.15"/><circle cx="132.8" cy="70.5" r="3.15"/><circle cx="142.9" cy="77.1" r="3.15"/><circle cx="147.8" cy="91.4" r="3.15"/><circle cx="131.0" cy="51.8" r="3.15"/><circle cx="136.2" cy="107.3" r="3.15"/><circle cx="124.5" cy="88.8" r="3.15"/><circle cx="125.6" cy="66.9" r="3.15"/><circle cx="175.2" cy="81.4" r="3.15"/><circle cx="163.1" cy="63.4" r="3.15"/><circle cx="151.2" cy="67.7" r="3.15"/><circle cx="158.3" cy="74.8" r="3.15"/><circle cx="139.9" cy="80.3" r="3.15"/><circle cx="133.6" cy="55.7" r="3.15"/><circle cx="134.1" cy="66.9" r="3.15"/><circle cx="146.1" cy="91.2" r="3.15"/><circle cx="152.4" cy="71.5" r="3.15"/><circle cx="162.7" cy="83.9" r="3.15"/><circle cx="177.5" cy="80.3" r="3.15"/><circle cx="143.2" cy="41.6" r="3.15"/><circle cx="169.2" cy="103.7" r="3.15"/><circle cx="137.3" cy="92.3" r="3.15"/><circle cx="134.3" cy="63.4" r="3.15"/><circle cx="125.8" cy="68.1" r="3.15"/><circle cx="170.6" cy="69.3" r="3.15"/><circle cx="129.7" cy="55.8" r="3.15"/><circle cx="138.4" cy="77.2" r="3.15"/><circle cx="128.7" cy="86.3" r="3.15"/><circle cx="148.5" cy="74.7" r="3.15"/><circle cx="184.1" cy="54.0" r="3.15"/><circle cx="160.8" cy="69.0" r="3.15"/><circle cx="149.6" cy="75.6" r="3.15"/><circle cx="124.6" cy="106.4" r="3.15"/><circle cx="134.5" cy="69.6" r="3.15"/><circle cx="154.6" cy="91.7" r="3.15"/><circle cx="131.6" cy="76.5" r="3.15"/><circle cx="132.6" cy="61.3" r="3.15"/><circle cx="113.8" cy="94.9" r="3.15"/><circle cx="117.7" cy="112.7" r="3.15"/><circle cx="145.7" cy="78.5" r="3.15"/><circle cx="142.4" cy="55.7" r="3.15"/><circle cx="129.0" cy="101.6" r="3.15"/><circle cx="160.4" cy="54.3" r="3.15"/><circle cx="154.3" cy="66.2" r="3.15"/><circle cx="157.0" cy="72.0" r="3.15"/><circle cx="144.2" cy="66.3" r="3.15"/><circle cx="172.0" cy="89.2" r="3.15"/><circle cx="141.4" cy="89.9" r="3.15"/><circle cx="108.7" cy="65.1" r="3.15"/><circle cx="133.1" cy="86.9" r="3.15"/><circle cx="149.0" cy="99.0" r="3.15"/><circle cx="127.9" cy="85.7" r="3.15"/><circle cx="132.8" cy="58.5" r="3.15"/><circle cx="152.4" cy="83.6" r="3.15"/><circle cx="125.9" cy="88.5" r="3.15"/><circle cx="116.4" cy="91.3" r="3.15"/><circle cx="145.4" cy="60.1" r="3.15"/><circle cx="160.4" cy="97.6" r="3.15"/><circle cx="126.8" cy="69.3" r="3.15"/><circle cx="115.9" cy="75.3" r="3.15"/><circle cx="127.0" cy="75.0" r="3.15"/><circle cx="125.0" cy="65.6" r="3.15"/><circle cx="130.6" cy="70.3" r="3.15"/><circle cx="151.5" cy="65.8" r="3.15"/><circle cx="166.0" cy="64.5" r="3.15"/><circle cx="139.0" cy="48.5" r="3.15"/><circle cx="119.4" cy="60.5" r="3.15"/><circle cx="147.8" cy="66.3" r="3.15"/><circle cx="170.2" cy="82.9" r="3.15"/><circle cx="156.8" cy="77.0" r="3.15"/><circle cx="107.2" cy="72.4" r="3.15"/><circle cx="145.6" cy="85.4" r="3.15"/><circle cx="117.9" cy="70.5" r="3.15"/><circle cx="115.4" cy="58.1" r="3.15"/><circle cx="112.5" cy="109.5" r="3.15"/><circle cx="112.8" cy="33.5" r="3.15"/><circle cx="117.0" cy="36.7" r="3.15"/><circle cx="125.4" cy="38.8" r="3.15"/><circle cx="131.7" cy="37.7" r="3.15"/><circle cx="139.0" cy="37.3" r="3.15"/><circle cx="144.3" cy="38.8" r="3.15"/><circle cx="156.5" cy="35.6" r="3.15"/><circle cx="105.8" cy="40.2" r="3.15"/><circle cx="99.0" cy="50.3" r="3.15"/><circle cx="211.0" cy="39.0" r="3.15"/><circle cx="233.0" cy="46.0" r="3.15"/><circle cx="210.0" cy="50.4" r="3.15"/><circle cx="218.0" cy="53.6" r="3.15"/><circle cx="230.4" cy="58.4" r="3.15"/><circle cx="240.8" cy="57.0" r="3.15"/><circle cx="183.4" cy="47.4" r="3.15"/><circle cx="185.6" cy="55.0" r="3.15"/><circle cx="185.6" cy="59.0" r="3.15"/><circle cx="224.0" cy="63.0" r="3.15"/><circle cx="216.4" cy="64.6" r="3.15"/><circle cx="211.6" cy="67.0" r="3.15"/><circle cx="199.0" cy="68.0" r="3.15"/><circle cx="189.0" cy="66.4" r="3.15"/><circle cx="188.0" cy="69.0" r="3.15"/><circle cx="192.0" cy="72.4" r="3.15"/><circle cx="194.0" cy="75.0" r="3.15"/><circle cx="192.0" cy="78.0" r="3.15"/><circle cx="190.0" cy="79.0" r="3.15"/><circle cx="194.4" cy="80.0" r="3.15"/><circle cx="197.0" cy="81.0" r="3.15"/><circle cx="200.0" cy="80.0" r="3.15"/><circle cx="204.0" cy="81.0" r="3.15"/><circle cx="205.0" cy="82.4" r="3.15"/><circle cx="196.0" cy="85.0" r="3.15"/><circle cx="202.4" cy="86.0" r="3.15"/><circle cx="191.0" cy="90.0" r="3.15"/><circle cx="208.0" cy="74.0" r="3.15"/><circle cx="210.0" cy="73.0" r="3.15"/><circle cx="213.0" cy="71.0" r="3.15"/><circle cx="213.0" cy="75.0" r="3.15"/><circle cx="211.0" cy="79.0" r="3.15"/><circle cx="212.0" cy="80.0" r="3.15"/><circle cx="218.0" cy="79.6" r="3.15"/><circle cx="219.0" cy="84.0" r="3.15"/><circle cx="222.0" cy="84.4" r="3.15"/><circle cx="224.0" cy="85.0" r="3.15"/><circle cx="228.0" cy="81.6" r="3.15"/><circle cx="225.0" cy="73.0" r="3.15"/><circle cx="227.0" cy="74.4" r="3.15"/><circle cx="231.6" cy="73.6" r="3.15"/><circle cx="234.4" cy="69.6" r="3.15"/><circle cx="240.0" cy="70.6" r="3.15"/><circle cx="234.4" cy="79.0" r="3.15"/><circle cx="237.6" cy="77.6" r="3.15"/><circle cx="248.0" cy="73.6" r="3.15"/><circle cx="262.4" cy="73.6" r="3.15"/><circle cx="269.6" cy="85.0" r="3.15"/><circle cx="249.0" cy="81.6" r="3.15"/><circle cx="245.0" cy="83.0" r="3.15"/><circle cx="247.0" cy="87.6" r="3.15"/><circle cx="249.0" cy="88.0" r="3.15"/><circle cx="257.4" cy="93.0" r="3.15"/><circle cx="212.0" cy="90.0" r="3.15"/><circle cx="213.0" cy="91.0" r="3.15"/><circle cx="208.0" cy="94.0" r="3.15"/><circle cx="209.0" cy="95.6" r="3.15"/><circle cx="216.0" cy="95.6" r="3.15"/><circle cx="220.0" cy="101.4" r="3.15"/><circle cx="197.0" cy="97.0" r="3.15"/><circle cx="197.0" cy="100.0" r="3.15"/><circle cx="202.0" cy="103.0" r="3.15"/><circle cx="203.6" cy="111.0" r="3.15"/><circle cx="192.4" cy="105.6" r="3.15"/><circle cx="187.0" cy="113.0" r="3.15"/><circle cx="186.4" cy="101.4" r="3.15"/><circle cx="182.4" cy="96.0" r="3.15"/><circle cx="181.0" cy="104.0" r="3.15"/><circle cx="180.0" cy="88.0" r="3.15"/><circle cx="181.0" cy="78.0" r="3.15"/><circle cx="183.0" cy="73.0" r="3.15"/><circle cx="180.0" cy="70.0" r="3.15"/><circle cx="204.4" cy="124.4" r="3.15"/><circle cx="211.4" cy="137.0" r="3.15"/><circle cx="232.0" cy="122.6" r="3.15"/><circle cx="237.0" cy="122.4" r="3.15"/><circle cx="238.4" cy="128.4" r="3.15"/><circle cx="233.6" cy="131.4" r="3.15"/><circle cx="235.6" cy="133.0" r="3.15"/><circle cx="241.6" cy="133.0" r="3.15"/><circle cx="264.0" cy="133.0" r="3.15"/><circle cx="253.6" cy="139.4" r="3.15"/><circle cx="253.6" cy="141.4" r="3.15"/><circle cx="239.0" cy="145.4" r="3.15"/><circle cx="231.4" cy="149.6" r="3.15"/><circle cx="250.0" cy="154.4" r="3.15"/><circle cx="273.0" cy="151.0" r="3.15"/><circle cx="290.6" cy="153.4" r="3.15"/><circle cx="302.6" cy="141.2" r="3.15"/><circle cx="241.6" cy="160.2" r="3.15"/><circle cx="240.6" cy="166.6" r="3.15"/><circle cx="237.0" cy="168.0" r="3.15"/><circle cx="274.4" cy="161.0" r="3.15"/><circle cx="304.4" cy="161.4" r="3.15"/><circle cx="192.4" cy="176.8" r="3.15"/><circle cx="204.8" cy="182.4" r="3.15"/>
</g>
<rect x="56.6" y="23.7" width="260" height="236.7" fill="none" stroke="#000" stroke-width="1.28"/>
<text x="64" y="284" font-family='"Liberation Serif", serif' font-size="16" text-anchor="middle">0.00</text>
<text x="125.2" y="284" font-family='"Liberation Serif", serif' font-size="16" text-anchor="middle">0.25</text>
<text x="186.4" y="284" font-family='"Liberation Serif", serif' font-size="16" text-anchor="middle">0.50</text>
<text x="247.6" y="284" font-family='"Liberation Serif", serif' font-size="16" text-anchor="middle">0.75</text>
<text x="308.8" y="284" font-family='"Liberation Serif", serif' font-size="16" text-anchor="middle">1.00</text>
<text x="44.3" y="45.5" font-family='"Liberation Serif", serif' font-size="16" text-anchor="end">80</text>
<text x="44.3" y="84.8" font-family='"Liberation Serif", serif' font-size="16" text-anchor="end">70</text>
<text x="44.3" y="124.1" font-family='"Liberation Serif", serif' font-size="16" text-anchor="end">60</text>
<text x="44.3" y="163.4" font-family='"Liberation Serif", serif' font-size="16" text-anchor="end">50</text>
<text x="44.3" y="202.8" font-family='"Liberation Serif", serif' font-size="16" text-anchor="end">40</text>
<text x="44.3" y="242.1" font-family='"Liberation Serif", serif' font-size="16" text-anchor="end">30</text>
<path d="M64 260.4v6.24M125.2 260.4v6.24M186.4 260.4v6.24M247.6 260.4v6.24M308.8 260.4v6.24M56.6 40h-6.24M56.6 79.3h-6.24M56.6 118.6h-6.24M56.6 157.9h-6.24M56.6 197.3h-6.24M56.6 236.6h-6.24" stroke="#000" stroke-width="1.28" fill="none"/>
<path d="M282.7 296L290.5 303.8M282.7 303.8L290.5 296" stroke="#000" stroke-width="1.05" fill="none"/>
<text x="293.8" y="304.4" font-family='"Liberation Serif", serif' font-size="16" text-anchor="start">10</text>
<text x="310" y="297.8" font-family='"Liberation Serif", serif' font-size="11.2" text-anchor="start">5</text>
<text x="104.2" y="13.9" font-family='"Liberation Serif", serif' font-size="19.2" text-anchor="start" font-style="italic">ρ</text>
<text x="113.4" y="16.9" font-family='"Liberation Serif", serif' font-size="13.4" text-anchor="start" font-style="italic">s</text>
<text x="126" y="13.9" font-family='"Liberation Serif", serif' font-size="19.2" text-anchor="start" textLength="15" lengthAdjust="spacingAndGlyphs">=</text>
<text x="146.8" y="13.9" font-family='"Liberation Serif", serif' font-size="19.2" text-anchor="start">0.34</text>
<text x="181.4" y="13.9" font-family='"Liberation Serif", serif' font-size="19.2" text-anchor="start">,</text>
<text x="190.9" y="13.9" font-family='"Liberation Serif", serif' font-size="19.2" text-anchor="start" font-style="italic">ρ</text>
<text x="200.2" y="16.9" font-family='"Liberation Serif", serif' font-size="13.4" text-anchor="start" font-style="italic">p</text>
<text x="214.5" y="13.9" font-family='"Liberation Serif", serif' font-size="19.2" text-anchor="start" textLength="15" lengthAdjust="spacingAndGlyphs">=</text>
<text x="235" y="13.9" font-family='"Liberation Serif", serif' font-size="19.2" text-anchor="start">0.21</text>
<text x="186.6" y="306.3" font-family='"Liberation Sans", sans-serif' font-size="15.3" text-anchor="middle" textLength="119" lengthAdjust="spacingAndGlyphs" class="sans"><tspan font-size="18.2" dy="0.7">(</tspan><tspan dy="-0.7">Pointcloud, CD</tspan><tspan font-size="18.2" dy="0.7">)</tspan></text>
<text x="186.6" y="324.9" font-family='"Liberation Sans", sans-serif' font-size="15.3" text-anchor="middle" class="sans"><tspan font-size="18.2" dy="0.7">(</tspan><tspan dy="-0.7">a</tspan><tspan font-size="18.2" dy="0.7">)</tspan></text>
<g transform="translate(17.1 142.05) rotate(-90)"><text x="0" y="0" font-family='"Liberation Sans", sans-serif' font-size="15.3" text-anchor="middle" textLength="81.5" lengthAdjust="spacingAndGlyphs" class="sans"><tspan font-size="18.2" dy="0.7">(</tspan><tspan dy="-0.7">Voxel, ED</tspan><tspan font-size="18.2" dy="0.7">)</tspan></text></g>
</g>
<g id="plot-b">
<clipPath id="clip-b"><rect x="423" y="23.7" width="260" height="236.7"/></clipPath>
<g clip-path="url(#clip-b)" fill="#1f77b4" fill-opacity="0.5">
<circle cx="446.0" cy="222.8" r="3.15"/><circle cx="436.3" cy="245.9" r="3.15"/><circle cx="439.8" cy="231.3" r="3.15"/><circle cx="438.1" cy="245.0" r="3.15"/><circle cx="437.1" cy="242.8" r="3.15"/><circle cx="440.3" cy="235.6" r="3.15"/><circle cx="438.2" cy="248.2" r="3.15"/><circle cx="440.7" cy="236.8" r="3.15"/><circle cx="440.3" cy="233.9" r="3.15"/><circle cx="435.8" cy="246.6" r="3.15"/><circle cx="441.2" cy="225.8" r="3.15"/><circle cx="440.4" cy="230.6" r="3.15"/><circle cx="442.8" cy="220.5" r="3.15"/><circle cx="440.8" cy="238.4" r="3.15"/><circle cx="440.4" cy="232.0" r="3.15"/><circle cx="436.2" cy="245.8" r="3.15"/><circle cx="439.8" cy="234.9" r="3.15"/><circle cx="438.4" cy="235.3" r="3.15"/><circle cx="441.8" cy="230.3" r="3.15"/><circle cx="439.6" cy="239.5" r="3.15"/><circle cx="443.0" cy="225.3" r="3.15"/><circle cx="437.7" cy="245.8" r="3.15"/><circle cx="436.5" cy="247.3" r="3.15"/><circle cx="444.4" cy="225.5" r="3.15"/><circle cx="438.4" cy="238.9" r="3.15"/><circle cx="439.5" cy="240.0" r="3.15"/><circle cx="441.7" cy="226.1" r="3.15"/><circle cx="437.0" cy="245.4" r="3.15"/><circle cx="442.0" cy="226.0" r="3.15"/><circle cx="436.2" cy="241.1" r="3.15"/><circle cx="442.1" cy="233.3" r="3.15"/><circle cx="443.1" cy="221.3" r="3.15"/><circle cx="438.1" cy="243.8" r="3.15"/><circle cx="439.6" cy="236.6" r="3.15"/><circle cx="437.2" cy="248.0" r="3.15"/><circle cx="442.5" cy="220.3" r="3.15"/><circle cx="444.1" cy="225.9" r="3.15"/><circle cx="443.8" cy="220.2" r="3.15"/><circle cx="440.5" cy="226.7" r="3.15"/><circle cx="442.0" cy="238.5" r="3.15"/><circle cx="439.1" cy="243.3" r="3.15"/><circle cx="438.5" cy="243.1" r="3.15"/><circle cx="444.5" cy="222.1" r="3.15"/><circle cx="437.0" cy="245.5" r="3.15"/><circle cx="441.3" cy="233.6" r="3.15"/><circle cx="444.1" cy="225.7" r="3.15"/><circle cx="436.2" cy="240.7" r="3.15"/><circle cx="441.1" cy="236.2" r="3.15"/><circle cx="440.8" cy="239.2" r="3.15"/><circle cx="442.1" cy="222.6" r="3.15"/><circle cx="440.3" cy="228.5" r="3.15"/><circle cx="443.9" cy="225.1" r="3.15"/><circle cx="441.5" cy="230.3" r="3.15"/><circle cx="440.6" cy="237.1" r="3.15"/><circle cx="441.1" cy="226.1" r="3.15"/><circle cx="442.4" cy="224.8" r="3.15"/><circle cx="436.6" cy="245.2" r="3.15"/><circle cx="440.1" cy="232.3" r="3.15"/><circle cx="443.0" cy="224.7" r="3.15"/><circle cx="435.7" cy="245.9" r="3.15"/><circle cx="437.7" cy="241.6" r="3.15"/><circle cx="439.6" cy="232.2" r="3.15"/><circle cx="442.3" cy="228.1" r="3.15"/><circle cx="435.0" cy="248.0" r="3.15"/><circle cx="438.9" cy="244.8" r="3.15"/><circle cx="443.8" cy="223.9" r="3.15"/><circle cx="439.4" cy="244.0" r="3.15"/><circle cx="439.5" cy="235.6" r="3.15"/><circle cx="442.2" cy="228.6" r="3.15"/><circle cx="439.7" cy="234.7" r="3.15"/><circle cx="439.5" cy="232.3" r="3.15"/><circle cx="439.8" cy="233.3" r="3.15"/><circle cx="439.4" cy="246.7" r="3.15"/><circle cx="444.2" cy="223.8" r="3.15"/><circle cx="441.5" cy="226.1" r="3.15"/><circle cx="441.0" cy="229.1" r="3.15"/><circle cx="438.3" cy="239.2" r="3.15"/><circle cx="438.2" cy="238.3" r="3.15"/><circle cx="441.9" cy="239.5" r="3.15"/><circle cx="437.6" cy="236.9" r="3.15"/><circle cx="441.2" cy="235.2" r="3.15"/><circle cx="440.7" cy="232.7" r="3.15"/><circle cx="438.0" cy="246.2" r="3.15"/><circle cx="437.9" cy="242.3" r="3.15"/><circle cx="442.6" cy="234.8" r="3.15"/><circle cx="436.7" cy="245.2" r="3.15"/><circle cx="441.0" cy="232.4" r="3.15"/><circle cx="440.5" cy="236.1" r="3.15"/><circle cx="442.4" cy="224.1" r="3.15"/><circle cx="440.0" cy="241.9" r="3.15"/><circle cx="436.6" cy="247.2" r="3.15"/><circle cx="442.6" cy="225.4" r="3.15"/><circle cx="438.6" cy="244.6" r="3.15"/><circle cx="444.6" cy="225.1" r="3.15"/><circle cx="440.5" cy="237.5" r="3.15"/><circle cx="434.0" cy="246.0" r="3.15"/><circle cx="435.6" cy="250.0" r="3.15"/><circle cx="446.0" cy="217.0" r="3.15"/><circle cx="451.9" cy="203.3" r="3.15"/><circle cx="455.1" cy="199.9" r="3.15"/><circle cx="454.9" cy="205.5" r="3.15"/><circle cx="459.7" cy="202.4" r="3.15"/><circle cx="450.8" cy="213.6" r="3.15"/><circle cx="447.6" cy="212.8" r="3.15"/><circle cx="449.0" cy="200.7" r="3.15"/><circle cx="451.8" cy="205.7" r="3.15"/><circle cx="454.3" cy="202.6" r="3.15"/><circle cx="448.5" cy="203.5" r="3.15"/><circle cx="449.6" cy="209.8" r="3.15"/><circle cx="454.5" cy="200.8" r="3.15"/><circle cx="446.1" cy="210.5" r="3.15"/><circle cx="452.5" cy="204.9" r="3.15"/><circle cx="452.4" cy="206.8" r="3.15"/><circle cx="447.4" cy="207.8" r="3.15"/><circle cx="444.8" cy="188.9" r="3.15"/><circle cx="453.8" cy="182.1" r="3.15"/><circle cx="454.3" cy="184.1" r="3.15"/><circle cx="453.9" cy="196.3" r="3.15"/><circle cx="452.4" cy="185.7" r="3.15"/><circle cx="453.1" cy="195.9" r="3.15"/><circle cx="448.3" cy="183.8" r="3.15"/><circle cx="457.7" cy="188.0" r="3.15"/><circle cx="456.7" cy="183.5" r="3.15"/><circle cx="451.3" cy="197.6" r="3.15"/><circle cx="448.2" cy="190.3" r="3.15"/><circle cx="456.5" cy="188.9" r="3.15"/><circle cx="447.6" cy="187.5" r="3.15"/><circle cx="462.1" cy="186.3" r="3.15"/><circle cx="447.7" cy="193.3" r="3.15"/><circle cx="451.7" cy="194.8" r="3.15"/><circle cx="447.7" cy="187.9" r="3.15"/><circle cx="461.2" cy="179.5" r="3.15"/><circle cx="453.2" cy="192.4" r="3.15"/><circle cx="454.1" cy="185.9" r="3.15"/><circle cx="453.6" cy="201.8" r="3.15"/><circle cx="446.5" cy="183.9" r="3.15"/><circle cx="449.1" cy="187.4" r="3.15"/><circle cx="459.7" cy="186.3" r="3.15"/><circle cx="458.7" cy="181.8" r="3.15"/><circle cx="448.8" cy="193.2" r="3.15"/><circle cx="454.8" cy="186.2" r="3.15"/><circle cx="451.7" cy="190.1" r="3.15"/><circle cx="448.7" cy="188.3" r="3.15"/><circle cx="444.8" cy="190.7" r="3.15"/><circle cx="447.1" cy="190.3" r="3.15"/><circle cx="457.4" cy="187.4" r="3.15"/><circle cx="454.9" cy="182.7" r="3.15"/><circle cx="456.8" cy="190.9" r="3.15"/><circle cx="445.9" cy="194.7" r="3.15"/><circle cx="459.2" cy="178.5" r="3.15"/><circle cx="443.5" cy="195.0" r="3.15"/><circle cx="460.6" cy="185.3" r="3.15"/><circle cx="455.3" cy="178.6" r="3.15"/><circle cx="464.0" cy="181.5" r="3.15"/><circle cx="454.1" cy="184.3" r="3.15"/><circle cx="452.1" cy="185.2" r="3.15"/><circle cx="461.1" cy="180.9" r="3.15"/><circle cx="447.1" cy="189.2" r="3.15"/><circle cx="457.6" cy="190.9" r="3.15"/><circle cx="457.1" cy="179.4" r="3.15"/><circle cx="452.5" cy="183.5" r="3.15"/><circle cx="446.1" cy="184.1" r="3.15"/><circle cx="461.2" cy="180.1" r="3.15"/><circle cx="456.4" cy="186.8" r="3.15"/><circle cx="459.3" cy="181.2" r="3.15"/><circle cx="458.5" cy="177.5" r="3.15"/><circle cx="448.1" cy="183.6" r="3.15"/><circle cx="445.1" cy="193.6" r="3.15"/><circle cx="450.3" cy="187.9" r="3.15"/><circle cx="450.3" cy="183.5" r="3.15"/><circle cx="447.5" cy="191.0" r="3.15"/><circle cx="453.2" cy="181.2" r="3.15"/><circle cx="452.4" cy="184.9" r="3.15"/><circle cx="456.2" cy="193.6" r="3.15"/><circle cx="443.8" cy="191.7" r="3.15"/><circle cx="461.4" cy="188.6" r="3.15"/><circle cx="451.3" cy="185.0" r="3.15"/><circle cx="459.6" cy="185.0" r="3.15"/><circle cx="456.3" cy="179.4" r="3.15"/><circle cx="451.9" cy="193.8" r="3.15"/><circle cx="449.8" cy="182.1" r="3.15"/><circle cx="447.9" cy="193.1" r="3.15"/><circle cx="454.9" cy="176.8" r="3.15"/><circle cx="451.6" cy="183.3" r="3.15"/><circle cx="475.1" cy="169.7" r="3.15"/><circle cx="480.0" cy="176.3" r="3.15"/><circle cx="471.2" cy="145.7" r="3.15"/><circle cx="458.5" cy="153.1" r="3.15"/><circle cx="454.0" cy="140.1" r="3.15"/><circle cx="465.4" cy="172.9" r="3.15"/><circle cx="469.2" cy="135.5" r="3.15"/><circle cx="473.0" cy="140.1" r="3.15"/><circle cx="451.5" cy="157.8" r="3.15"/><circle cx="480.8" cy="135.2" r="3.15"/><circle cx="473.4" cy="160.1" r="3.15"/><circle cx="481.7" cy="150.3" r="3.15"/><circle cx="461.0" cy="165.3" r="3.15"/><circle cx="469.4" cy="167.4" r="3.15"/><circle cx="464.0" cy="132.1" r="3.15"/><circle cx="467.8" cy="152.0" r="3.15"/><circle cx="483.1" cy="148.1" r="3.15"/><circle cx="477.8" cy="146.7" r="3.15"/><circle cx="480.6" cy="136.3" r="3.15"/><circle cx="482.5" cy="163.0" r="3.15"/><circle cx="454.3" cy="165.0" r="3.15"/><circle cx="482.2" cy="159.6" r="3.15"/><circle cx="476.5" cy="174.9" r="3.15"/><circle cx="455.9" cy="142.7" r="3.15"/><circle cx="472.1" cy="154.2" r="3.15"/><circle cx="489.8" cy="160.0" r="3.15"/><circle cx="475.9" cy="159.3" r="3.15"/><circle cx="480.9" cy="158.2" r="3.15"/><circle cx="466.8" cy="144.8" r="3.15"/><circle cx="464.0" cy="142.8" r="3.15"/><circle cx="453.3" cy="152.3" r="3.15"/><circle cx="464.6" cy="175.0" r="3.15"/><circle cx="482.6" cy="161.5" r="3.15"/><circle cx="454.8" cy="158.7" r="3.15"/><circle cx="467.7" cy="172.9" r="3.15"/><circle cx="460.2" cy="132.2" r="3.15"/><circle cx="476.2" cy="163.0" r="3.15"/><circle cx="460.6" cy="175.0" r="3.15"/><circle cx="490.7" cy="162.7" r="3.15"/><circle cx="456.1" cy="164.9" r="3.15"/><circle cx="481.2" cy="165.0" r="3.15"/><circle cx="464.1" cy="155.3" r="3.15"/><circle cx="474.5" cy="171.1" r="3.15"/><circle cx="452.0" cy="146.6" r="3.15"/><circle cx="463.1" cy="168.1" r="3.15"/><circle cx="468.1" cy="171.9" r="3.15"/><circle cx="464.8" cy="132.5" r="3.15"/><circle cx="478.0" cy="144.5" r="3.15"/><circle cx="473.8" cy="165.8" r="3.15"/><circle cx="469.0" cy="165.1" r="3.15"/><circle cx="475.9" cy="171.1" r="3.15"/><circle cx="481.9" cy="173.7" r="3.15"/><circle cx="481.2" cy="141.9" r="3.15"/><circle cx="471.0" cy="167.1" r="3.15"/><circle cx="482.8" cy="164.9" r="3.15"/><circle cx="485.2" cy="169.7" r="3.15"/><circle cx="472.6" cy="160.3" r="3.15"/><circle cx="451.7" cy="151.9" r="3.15"/><circle cx="480.4" cy="174.3" r="3.15"/><circle cx="485.5" cy="149.9" r="3.15"/><circle cx="459.5" cy="172.9" r="3.15"/><circle cx="477.4" cy="137.2" r="3.15"/><circle cx="474.1" cy="133.0" r="3.15"/><circle cx="481.7" cy="168.8" r="3.15"/><circle cx="460.6" cy="154.2" r="3.15"/><circle cx="457.1" cy="158.8" r="3.15"/><circle cx="468.1" cy="168.0" r="3.15"/><circle cx="454.7" cy="137.9" r="3.15"/><circle cx="466.1" cy="127.4" r="3.15"/><circle cx="459.9" cy="160.1" r="3.15"/><circle cx="462.2" cy="137.7" r="3.15"/><circle cx="458.0" cy="174.2" r="3.15"/><circle cx="451.6" cy="155.1" r="3.15"/><circle cx="458.8" cy="164.4" r="3.15"/><circle cx="467.1" cy="144.1" r="3.15"/><circle cx="470.2" cy="159.7" r="3.15"/><circle cx="453.2" cy="171.9" r="3.15"/><circle cx="461.2" cy="167.0" r="3.15"/><circle cx="458.0" cy="131.7" r="3.15"/><circle cx="460.3" cy="134.5" r="3.15"/><circle cx="453.5" cy="171.2" r="3.15"/><circle cx="472.0" cy="152.9" r="3.15"/><circle cx="471.2" cy="169.0" r="3.15"/><circle cx="471.1" cy="159.5" r="3.15"/><circle cx="466.7" cy="143.4" r="3.15"/><circle cx="474.2" cy="129.0" r="3.15"/><circle cx="481.5" cy="176.6" r="3.15"/><circle cx="472.9" cy="161.6" r="3.15"/><circle cx="484.9" cy="170.7" r="3.15"/><circle cx="484.2" cy="152.4" r="3.15"/><circle cx="453.6" cy="168.2" r="3.15"/><circle cx="485.3" cy="163.4" r="3.15"/><circle cx="476.0" cy="143.4" r="3.15"/><circle cx="482.8" cy="138.9" r="3.15"/><circle cx="460.0" cy="173.9" r="3.15"/><circle cx="466.5" cy="156.8" r="3.15"/><circle cx="478.9" cy="173.8" r="3.15"/><circle cx="459.1" cy="132.1" r="3.15"/><circle cx="471.4" cy="138.9" r="3.15"/><circle cx="467.7" cy="133.0" r="3.15"/><circle cx="453.7" cy="156.5" r="3.15"/><circle cx="452.1" cy="141.1" r="3.15"/><circle cx="466.2" cy="132.2" r="3.15"/><circle cx="483.7" cy="173.7" r="3.15"/><circle cx="451.2" cy="168.8" r="3.15"/><circle cx="457.3" cy="164.9" r="3.15"/><circle cx="452.4" cy="165.7" r="3.15"/><circle cx="456.8" cy="144.9" r="3.15"/><circle cx="485.9" cy="167.5" r="3.15"/><circle cx="456.5" cy="173.7" r="3.15"/><circle cx="480.9" cy="176.6" r="3.15"/><circle cx="457.9" cy="154.9" r="3.15"/><circle cx="459.7" cy="138.6" r="3.15"/><circle cx="464.9" cy="151.0" r="3.15"/><circle cx="488.4" cy="157.2" r="3.15"/><circle cx="473.2" cy="164.3" r="3.15"/><circle cx="457.8" cy="168.7" r="3.15"/><circle cx="481.9" cy="169.2" r="3.15"/><circle cx="468.8" cy="155.2" r="3.15"/><circle cx="453.0" cy="150.9" r="3.15"/><circle cx="476.9" cy="176.2" r="3.15"/><circle cx="481.6" cy="171.4" r="3.15"/><circle cx="490.2" cy="162.3" r="3.15"/><circle cx="463.7" cy="172.3" r="3.15"/><circle cx="450.6" cy="156.5" r="3.15"/><circle cx="469.1" cy="172.7" r="3.15"/><circle cx="475.9" cy="137.7" r="3.15"/><circle cx="481.4" cy="167.6" r="3.15"/><circle cx="465.5" cy="138.8" r="3.15"/><circle cx="473.3" cy="137.4" r="3.15"/><circle cx="472.0" cy="145.0" r="3.15"/><circle cx="463.3" cy="162.9" r="3.15"/><circle cx="460.3" cy="144.4" r="3.15"/><circle cx="473.5" cy="175.8" r="3.15"/><circle cx="456.2" cy="143.1" r="3.15"/><circle cx="461.3" cy="143.5" r="3.15"/><circle cx="470.3" cy="169.5" r="3.15"/><circle cx="457.5" cy="164.3" r="3.15"/><circle cx="468.0" cy="156.8" r="3.15"/><circle cx="471.0" cy="158.4" r="3.15"/><circle cx="457.4" cy="159.0" r="3.15"/><circle cx="466.7" cy="167.7" r="3.15"/><circle cx="474.9" cy="148.3" r="3.15"/><circle cx="478.8" cy="132.1" r="3.15"/><circle cx="480.7" cy="131.9" r="3.15"/><circle cx="462.4" cy="159.3" r="3.15"/><circle cx="450.8" cy="149.6" r="3.15"/><circle cx="466.2" cy="174.1" r="3.15"/><circle cx="473.8" cy="169.0" r="3.15"/><circle cx="464.3" cy="147.0" r="3.15"/><circle cx="479.3" cy="166.5" r="3.15"/><circle cx="478.9" cy="135.1" r="3.15"/><circle cx="467.6" cy="143.7" r="3.15"/><circle cx="459.6" cy="133.3" r="3.15"/><circle cx="481.3" cy="134.6" r="3.15"/><circle cx="464.7" cy="128.3" r="3.15"/><circle cx="479.4" cy="159.5" r="3.15"/><circle cx="483.7" cy="163.5" r="3.15"/><circle cx="476.7" cy="157.7" r="3.15"/><circle cx="465.1" cy="165.8" r="3.15"/><circle cx="459.7" cy="141.8" r="3.15"/><circle cx="454.7" cy="139.4" r="3.15"/><circle cx="485.6" cy="152.5" r="3.15"/><circle cx="480.8" cy="172.0" r="3.15"/><circle cx="477.8" cy="145.9" r="3.15"/><circle cx="467.2" cy="172.9" r="3.15"/><circle cx="478.5" cy="145.5" r="3.15"/><circle cx="484.6" cy="166.3" r="3.15"/><circle cx="480.2" cy="141.1" r="3.15"/><circle cx="478.4" cy="161.1" r="3.15"/><circle cx="485.1" cy="153.7" r="3.15"/><circle cx="488.9" cy="164.4" r="3.15"/><circle cx="458.7" cy="157.1" r="3.15"/><circle cx="458.1" cy="159.1" r="3.15"/><circle cx="464.2" cy="168.0" r="3.15"/><circle cx="484.9" cy="146.5" r="3.15"/><circle cx="474.6" cy="139.3" r="3.15"/><circle cx="465.6" cy="149.9" r="3.15"/><circle cx="479.7" cy="153.5" r="3.15"/><circle cx="456.6" cy="160.7" r="3.15"/><circle cx="471.5" cy="154.4" r="3.15"/><circle cx="468.6" cy="171.9" r="3.15"/><circle cx="477.3" cy="161.4" r="3.15"/><circle cx="470.9" cy="148.0" r="3.15"/><circle cx="467.8" cy="162.3" r="3.15"/><circle cx="468.2" cy="130.9" r="3.15"/><circle cx="451.9" cy="145.8" r="3.15"/><circle cx="465.7" cy="150.8" r="3.15"/><circle cx="458.3" cy="139.3" r="3.15"/><circle cx="468.6" cy="142.3" r="3.15"/><circle cx="460.8" cy="152.6" r="3.15"/><circle cx="450.5" cy="150.4" r="3.15"/><circle cx="487.4" cy="159.8" r="3.15"/><circle cx="478.3" cy="169.8" r="3.15"/><circle cx="458.1" cy="168.0" r="3.15"/><circle cx="466.3" cy="173.6" r="3.15"/><circle cx="475.9" cy="148.5" r="3.15"/><circle cx="484.7" cy="154.9" r="3.15"/><circle cx="469.2" cy="136.8" r="3.15"/><circle cx="482.8" cy="134.9" r="3.15"/><circle cx="462.5" cy="131.9" r="3.15"/><circle cx="451.7" cy="151.5" r="3.15"/><circle cx="464.4" cy="128.3" r="3.15"/><circle cx="469.3" cy="142.1" r="3.15"/><circle cx="459.6" cy="155.2" r="3.15"/><circle cx="463.8" cy="130.1" r="3.15"/><circle cx="459.8" cy="161.3" r="3.15"/><circle cx="474.4" cy="140.1" r="3.15"/><circle cx="472.5" cy="141.0" r="3.15"/><circle cx="461.4" cy="150.7" r="3.15"/><circle cx="463.7" cy="171.1" r="3.15"/><circle cx="463.4" cy="173.3" r="3.15"/><circle cx="468.8" cy="172.2" r="3.15"/><circle cx="455.6" cy="147.6" r="3.15"/><circle cx="464.3" cy="167.5" r="3.15"/><circle cx="467.1" cy="136.2" r="3.15"/><circle cx="453.0" cy="142.9" r="3.15"/><circle cx="467.9" cy="173.9" r="3.15"/><circle cx="477.2" cy="166.5" r="3.15"/><circle cx="463.7" cy="143.9" r="3.15"/><circle cx="467.2" cy="139.3" r="3.15"/><circle cx="471.0" cy="139.3" r="3.15"/><circle cx="471.3" cy="164.6" r="3.15"/><circle cx="469.3" cy="134.7" r="3.15"/><circle cx="488.7" cy="169.4" r="3.15"/><circle cx="486.9" cy="171.9" r="3.15"/><circle cx="465.4" cy="159.5" r="3.15"/><circle cx="469.6" cy="157.4" r="3.15"/><circle cx="465.8" cy="171.3" r="3.15"/><circle cx="462.8" cy="156.2" r="3.15"/><circle cx="480.2" cy="135.3" r="3.15"/><circle cx="472.7" cy="152.2" r="3.15"/><circle cx="475.2" cy="141.4" r="3.15"/><circle cx="461.4" cy="175.9" r="3.15"/><circle cx="474.9" cy="155.7" r="3.15"/><circle cx="478.9" cy="166.0" r="3.15"/><circle cx="457.4" cy="167.6" r="3.15"/><circle cx="470.1" cy="135.1" r="3.15"/><circle cx="485.3" cy="173.8" r="3.15"/><circle cx="470.9" cy="160.1" r="3.15"/><circle cx="466.5" cy="165.1" r="3.15"/><circle cx="472.3" cy="145.7" r="3.15"/><circle cx="451.6" cy="169.2" r="3.15"/><circle cx="453.9" cy="141.7" r="3.15"/><circle cx="468.9" cy="138.2" r="3.15"/><circle cx="468.7" cy="150.0" r="3.15"/><circle cx="472.1" cy="160.9" r="3.15"/><circle cx="478.6" cy="129.9" r="3.15"/><circle cx="459.8" cy="133.3" r="3.15"/><circle cx="463.8" cy="150.8" r="3.15"/><circle cx="462.3" cy="151.4" r="3.15"/><circle cx="460.8" cy="149.3" r="3.15"/><circle cx="452.4" cy="151.4" r="3.15"/><circle cx="467.6" cy="135.4" r="3.15"/><circle cx="467.2" cy="143.1" r="3.15"/><circle cx="459.5" cy="172.3" r="3.15"/><circle cx="469.2" cy="125.7" r="3.15"/><circle cx="465.6" cy="146.9" r="3.15"/><circle cx="458.0" cy="157.4" r="3.15"/><circle cx="455.1" cy="165.8" r="3.15"/><circle cx="457.4" cy="164.4" r="3.15"/><circle cx="463.3" cy="142.9" r="3.15"/><circle cx="463.1" cy="158.8" r="3.15"/><circle cx="464.5" cy="155.6" r="3.15"/><circle cx="461.2" cy="154.5" r="3.15"/><circle cx="471.8" cy="154.8" r="3.15"/><circle cx="461.2" cy="144.6" r="3.15"/><circle cx="452.8" cy="152.4" r="3.15"/><circle cx="453.4" cy="162.1" r="3.15"/><circle cx="458.3" cy="151.3" r="3.15"/><circle cx="464.2" cy="159.1" r="3.15"/><circle cx="469.0" cy="153.0" r="3.15"/><circle cx="459.0" cy="161.1" r="3.15"/><circle cx="463.9" cy="150.6" r="3.15"/><circle cx="465.9" cy="152.1" r="3.15"/><circle cx="450.5" cy="168.6" r="3.15"/><circle cx="454.9" cy="171.2" r="3.15"/><circle cx="461.9" cy="157.9" r="3.15"/><circle cx="453.9" cy="150.7" r="3.15"/><circle cx="468.1" cy="147.2" r="3.15"/><circle cx="452.7" cy="159.3" r="3.15"/><circle cx="468.9" cy="147.6" r="3.15"/><circle cx="462.5" cy="166.9" r="3.15"/><circle cx="461.0" cy="149.0" r="3.15"/><circle cx="463.4" cy="177.0" r="3.15"/><circle cx="466.5" cy="150.2" r="3.15"/><circle cx="457.1" cy="146.6" r="3.15"/><circle cx="458.6" cy="167.8" r="3.15"/><circle cx="470.9" cy="136.3" r="3.15"/><circle cx="467.4" cy="156.0" r="3.15"/><circle cx="464.6" cy="138.1" r="3.15"/><circle cx="462.1" cy="163.7" r="3.15"/><circle cx="467.9" cy="159.2" r="3.15"/><circle cx="459.7" cy="153.6" r="3.15"/><circle cx="467.0" cy="139.7" r="3.15"/><circle cx="471.2" cy="145.8" r="3.15"/><circle cx="470.2" cy="146.2" r="3.15"/><circle cx="464.5" cy="158.6" r="3.15"/><circle cx="465.4" cy="165.2" r="3.15"/><circle cx="466.4" cy="153.6" r="3.15"/><circle cx="455.3" cy="155.0" r="3.15"/><circle cx="474.2" cy="131.1" r="3.15"/><circle cx="468.0" cy="146.2" r="3.15"/><circle cx="456.4" cy="166.6" r="3.15"/><circle cx="460.0" cy="151.3" r="3.15"/><circle cx="458.4" cy="156.9" r="3.15"/><circle cx="472.6" cy="139.3" r="3.15"/><circle cx="460.5" cy="151.2" r="3.15"/><circle cx="466.0" cy="144.5" r="3.15"/><circle cx="461.0" cy="155.8" r="3.15"/><circle cx="463.0" cy="150.5" r="3.15"/><circle cx="453.2" cy="151.3" r="3.15"/><circle cx="462.6" cy="173.2" r="3.15"/><circle cx="473.5" cy="145.1" r="3.15"/><circle cx="450.6" cy="174.8" r="3.15"/><circle cx="456.2" cy="143.9" r="3.15"/><circle cx="461.8" cy="145.4" r="3.15"/><circle cx="465.7" cy="145.2" r="3.15"/><circle cx="456.4" cy="151.3" r="3.15"/><circle cx="457.8" cy="168.1" r="3.15"/><circle cx="474.0" cy="123.6" r="3.15"/><circle cx="454.5" cy="168.1" r="3.15"/><circle cx="453.9" cy="180.8" r="3.15"/><circle cx="458.2" cy="169.7" r="3.15"/><circle cx="460.6" cy="149.9" r="3.15"/><circle cx="459.1" cy="142.5" r="3.15"/><circle cx="463.7" cy="157.5" r="3.15"/><circle cx="458.5" cy="163.9" r="3.15"/><circle cx="470.7" cy="128.2" r="3.15"/><circle cx="451.8" cy="149.9" r="3.15"/><circle cx="457.8" cy="150.3" r="3.15"/><circle cx="463.4" cy="143.9" r="3.15"/><circle cx="467.8" cy="155.5" r="3.15"/><circle cx="459.6" cy="155.0" r="3.15"/><circle cx="475.9" cy="125.5" r="3.15"/><circle cx="470.3" cy="131.4" r="3.15"/><circle cx="454.2" cy="186.9" r="3.15"/><circle cx="461.3" cy="142.2" r="3.15"/><circle cx="453.9" cy="172.0" r="3.15"/><circle cx="463.4" cy="153.5" r="3.15"/><circle cx="467.6" cy="136.2" r="3.15"/><circle cx="458.3" cy="146.0" r="3.15"/><circle cx="465.3" cy="147.8" r="3.15"/><circle cx="476.3" cy="153.8" r="3.15"/><circle cx="460.2" cy="147.3" r="3.15"/><circle cx="456.1" cy="187.4" r="3.15"/><circle cx="458.6" cy="164.6" r="3.15"/><circle cx="459.4" cy="160.8" r="3.15"/><circle cx="460.2" cy="157.4" r="3.15"/><circle cx="460.1" cy="159.3" r="3.15"/><circle cx="471.6" cy="132.0" r="3.15"/><circle cx="459.9" cy="160.8" r="3.15"/><circle cx="461.4" cy="177.4" r="3.15"/><circle cx="463.3" cy="160.8" r="3.15"/><circle cx="454.7" cy="181.5" r="3.15"/><circle cx="455.1" cy="163.0" r="3.15"/><circle cx="456.4" cy="160.6" r="3.15"/><circle cx="464.1" cy="142.8" r="3.15"/><circle cx="469.1" cy="151.8" r="3.15"/><circle cx="456.8" cy="143.2" r="3.15"/><circle cx="462.1" cy="153.4" r="3.15"/><circle cx="455.0" cy="140.7" r="3.15"/><circle cx="466.8" cy="147.6" r="3.15"/><circle cx="465.5" cy="152.4" r="3.15"/><circle cx="470.2" cy="144.9" r="3.15"/><circle cx="455.7" cy="156.4" r="3.15"/><circle cx="454.2" cy="172.0" r="3.15"/><circle cx="455.9" cy="133.0" r="3.15"/><circle cx="455.5" cy="155.4" r="3.15"/><circle cx="467.3" cy="143.0" r="3.15"/><circle cx="478.1" cy="144.9" r="3.15"/><circle cx="459.6" cy="153.1" r="3.15"/><circle cx="464.5" cy="161.7" r="3.15"/><circle cx="465.8" cy="165.4" r="3.15"/><circle cx="460.1" cy="179.4" r="3.15"/><circle cx="455.1" cy="175.7" r="3.15"/><circle cx="452.6" cy="170.1" r="3.15"/><circle cx="457.7" cy="151.0" r="3.15"/><circle cx="459.1" cy="171.2" r="3.15"/><circle cx="454.8" cy="154.8" r="3.15"/><circle cx="463.7" cy="164.2" r="3.15"/><circle cx="458.0" cy="165.9" r="3.15"/><circle cx="463.4" cy="155.6" r="3.15"/><circle cx="466.0" cy="146.3" r="3.15"/><circle cx="468.6" cy="142.8" r="3.15"/><circle cx="465.8" cy="139.5" r="3.15"/><circle cx="464.2" cy="134.4" r="3.15"/><circle cx="465.2" cy="134.5" r="3.15"/><circle cx="467.7" cy="129.0" r="3.15"/><circle cx="462.9" cy="152.2" r="3.15"/><circle cx="465.2" cy="140.8" r="3.15"/><circle cx="467.3" cy="136.6" r="3.15"/><circle cx="465.6" cy="163.3" r="3.15"/><circle cx="459.8" cy="154.3" r="3.15"/><circle cx="462.2" cy="152.5" r="3.15"/><circle cx="462.3" cy="174.6" r="3.15"/><circle cx="462.6" cy="130.8" r="3.15"/><circle cx="461.6" cy="142.0" r="3.15"/><circle cx="460.7" cy="167.4" r="3.15"/><circle cx="459.1" cy="162.1" r="3.15"/><circle cx="463.2" cy="164.8" r="3.15"/><circle cx="468.9" cy="136.0" r="3.15"/><circle cx="470.1" cy="138.1" r="3.15"/><circle cx="466.2" cy="145.4" r="3.15"/><circle cx="457.6" cy="175.4" r="3.15"/><circle cx="469.2" cy="130.2" r="3.15"/><circle cx="459.6" cy="145.5" r="3.15"/><circle cx="456.4" cy="169.4" r="3.15"/><circle cx="468.9" cy="127.0" r="3.15"/><circle cx="469.7" cy="132.9" r="3.15"/><circle cx="450.5" cy="155.0" r="3.15"/><circle cx="464.3" cy="140.2" r="3.15"/><circle cx="461.6" cy="162.0" r="3.15"/><circle cx="475.1" cy="146.4" r="3.15"/><circle cx="452.8" cy="151.2" r="3.15"/><circle cx="466.8" cy="165.5" r="3.15"/><circle cx="468.1" cy="137.6" r="3.15"/><circle cx="465.0" cy="158.6" r="3.15"/><circle cx="462.8" cy="151.9" r="3.15"/><circle cx="466.6" cy="133.3" r="3.15"/><circle cx="466.7" cy="139.4" r="3.15"/><circle cx="463.2" cy="138.2" r="3.15"/><circle cx="453.9" cy="168.6" r="3.15"/><circle cx="468.8" cy="156.5" r="3.15"/><circle cx="464.1" cy="151.8" r="3.15"/><circle cx="461.2" cy="153.2" r="3.15"/><circle cx="463.5" cy="144.0" r="3.15"/><circle cx="463.4" cy="142.6" r="3.15"/><circle cx="457.3" cy="154.2" r="3.15"/><circle cx="458.6" cy="154.9" r="3.15"/><circle cx="466.8" cy="152.8" r="3.15"/><circle cx="470.6" cy="124.1" r="3.15"/><circle cx="462.4" cy="181.0" r="3.15"/><circle cx="463.6" cy="145.9" r="3.15"/><circle cx="458.0" cy="159.0" r="3.15"/><circle cx="463.9" cy="160.5" r="3.15"/><circle cx="469.9" cy="152.2" r="3.15"/><circle cx="467.6" cy="152.0" r="3.15"/><circle cx="467.7" cy="147.3" r="3.15"/><circle cx="459.0" cy="150.0" r="3.15"/><circle cx="464.1" cy="146.5" r="3.15"/><circle cx="466.4" cy="143.3" r="3.15"/><circle cx="458.4" cy="164.3" r="3.15"/><circle cx="461.5" cy="172.5" r="3.15"/><circle cx="457.7" cy="157.1" r="3.15"/><circle cx="462.3" cy="142.8" r="3.15"/><circle cx="456.8" cy="163.7" r="3.15"/><circle cx="456.3" cy="150.1" r="3.15"/><circle cx="459.9" cy="161.2" r="3.15"/><circle cx="467.3" cy="144.4" r="3.15"/><circle cx="459.2" cy="132.2" r="3.15"/><circle cx="462.2" cy="157.6" r="3.15"/><circle cx="476.7" cy="146.7" r="3.15"/><circle cx="469.3" cy="144.6" r="3.15"/><circle cx="469.6" cy="139.8" r="3.15"/><circle cx="467.3" cy="178.2" r="3.15"/><circle cx="467.0" cy="137.1" r="3.15"/><circle cx="459.4" cy="140.7" r="3.15"/><circle cx="457.3" cy="175.9" r="3.15"/><circle cx="465.7" cy="145.3" r="3.15"/><circle cx="459.6" cy="144.0" r="3.15"/><circle cx="453.9" cy="158.4" r="3.15"/><circle cx="461.1" cy="146.5" r="3.15"/><circle cx="467.7" cy="149.3" r="3.15"/><circle cx="461.6" cy="140.9" r="3.15"/><circle cx="454.7" cy="148.3" r="3.15"/><circle cx="465.4" cy="167.2" r="3.15"/><circle cx="457.9" cy="147.5" r="3.15"/><circle cx="456.8" cy="167.5" r="3.15"/><circle cx="460.6" cy="162.1" r="3.15"/><circle cx="450.5" cy="175.1" r="3.15"/><circle cx="467.5" cy="155.1" r="3.15"/><circle cx="462.9" cy="161.8" r="3.15"/><circle cx="465.2" cy="132.6" r="3.15"/><circle cx="470.0" cy="140.3" r="3.15"/><circle cx="463.9" cy="161.7" r="3.15"/><circle cx="471.3" cy="140.5" r="3.15"/><circle cx="464.1" cy="167.6" r="3.15"/><circle cx="470.4" cy="142.6" r="3.15"/><circle cx="459.2" cy="171.6" r="3.15"/><circle cx="488.4" cy="156.9" r="3.15"/><circle cx="474.1" cy="166.6" r="3.15"/><circle cx="489.4" cy="164.2" r="3.15"/><circle cx="484.4" cy="156.3" r="3.15"/><circle cx="480.5" cy="168.0" r="3.15"/><circle cx="479.9" cy="159.7" r="3.15"/><circle cx="478.9" cy="163.2" r="3.15"/><circle cx="478.2" cy="165.6" r="3.15"/><circle cx="486.5" cy="156.8" r="3.15"/><circle cx="479.6" cy="159.1" r="3.15"/><circle cx="461.7" cy="168.2" r="3.15"/><circle cx="481.5" cy="163.6" r="3.15"/><circle cx="476.5" cy="164.7" r="3.15"/><circle cx="466.3" cy="168.4" r="3.15"/><circle cx="478.1" cy="159.8" r="3.15"/><circle cx="471.1" cy="167.4" r="3.15"/><circle cx="476.2" cy="167.0" r="3.15"/><circle cx="474.3" cy="164.1" r="3.15"/><circle cx="475.4" cy="162.4" r="3.15"/><circle cx="486.9" cy="152.5" r="3.15"/><circle cx="479.6" cy="169.2" r="3.15"/><circle cx="472.4" cy="168.7" r="3.15"/><circle cx="487.2" cy="153.9" r="3.15"/><circle cx="481.3" cy="158.0" r="3.15"/><circle cx="480.8" cy="167.0" r="3.15"/><circle cx="470.3" cy="162.5" r="3.15"/><circle cx="469.9" cy="167.9" r="3.15"/><circle cx="483.2" cy="168.0" r="3.15"/><circle cx="470.5" cy="169.3" r="3.15"/><circle cx="459.9" cy="164.3" r="3.15"/><circle cx="485.7" cy="162.1" r="3.15"/><circle cx="474.3" cy="164.4" r="3.15"/><circle cx="478.2" cy="167.9" r="3.15"/><circle cx="469.3" cy="169.4" r="3.15"/><circle cx="482.6" cy="167.8" r="3.15"/><circle cx="483.8" cy="165.3" r="3.15"/><circle cx="486.8" cy="151.3" r="3.15"/><circle cx="478.5" cy="168.9" r="3.15"/><circle cx="490.5" cy="165.7" r="3.15"/><circle cx="478.6" cy="161.0" r="3.15"/><circle cx="475.2" cy="169.4" r="3.15"/><circle cx="485.2" cy="168.1" r="3.15"/><circle cx="476.1" cy="157.3" r="3.15"/><circle cx="483.4" cy="155.1" r="3.15"/><circle cx="485.3" cy="168.4" r="3.15"/><circle cx="484.6" cy="162.3" r="3.15"/><circle cx="474.1" cy="164.8" r="3.15"/><circle cx="484.2" cy="161.2" r="3.15"/><circle cx="477.5" cy="158.7" r="3.15"/><circle cx="473.0" cy="171.2" r="3.15"/><circle cx="483.8" cy="164.4" r="3.15"/><circle cx="477.3" cy="151.6" r="3.15"/><circle cx="469.8" cy="168.1" r="3.15"/><circle cx="481.4" cy="159.2" r="3.15"/><circle cx="478.3" cy="165.2" r="3.15"/><circle cx="493.1" cy="146.8" r="3.15"/><circle cx="499.4" cy="142.0" r="3.15"/><circle cx="488.1" cy="144.1" r="3.15"/><circle cx="505.0" cy="150.0" r="3.15"/><circle cx="505.2" cy="150.0" r="3.15"/><circle cx="512.1" cy="145.1" r="3.15"/><circle cx="514.0" cy="146.1" r="3.15"/><circle cx="495.2" cy="148.8" r="3.15"/><circle cx="514.8" cy="149.2" r="3.15"/><circle cx="498.4" cy="149.3" r="3.15"/><circle cx="493.6" cy="148.3" r="3.15"/><circle cx="504.8" cy="146.8" r="3.15"/><circle cx="495.9" cy="145.2" r="3.15"/><circle cx="500.8" cy="148.0" r="3.15"/><circle cx="507.3" cy="145.3" r="3.15"/><circle cx="504.1" cy="150.0" r="3.15"/><circle cx="514.0" cy="146.2" r="3.15"/><circle cx="508.2" cy="149.5" r="3.15"/><circle cx="498.3" cy="152.2" r="3.15"/><circle cx="511.6" cy="148.0" r="3.15"/><circle cx="504.6" cy="145.5" r="3.15"/><circle cx="490.8" cy="141.6" r="3.15"/><circle cx="491.5" cy="146.5" r="3.15"/><circle cx="488.3" cy="141.9" r="3.15"/><circle cx="516.8" cy="147.8" r="3.15"/><circle cx="503.5" cy="141.3" r="3.15"/><circle cx="509.7" cy="144.5" r="3.15"/><circle cx="499.9" cy="143.3" r="3.15"/><circle cx="537.7" cy="130.5" r="3.15"/><circle cx="527.8" cy="144.9" r="3.15"/><circle cx="542.6" cy="135.3" r="3.15"/><circle cx="533.7" cy="143.5" r="3.15"/><circle cx="536.5" cy="139.3" r="3.15"/><circle cx="531.8" cy="136.0" r="3.15"/><circle cx="520.6" cy="136.6" r="3.15"/><circle cx="538.0" cy="135.7" r="3.15"/><circle cx="538.5" cy="138.7" r="3.15"/><circle cx="522.3" cy="134.9" r="3.15"/><circle cx="532.3" cy="137.3" r="3.15"/><circle cx="521.0" cy="144.7" r="3.15"/><circle cx="531.2" cy="147.4" r="3.15"/><circle cx="537.3" cy="136.8" r="3.15"/><circle cx="529.0" cy="138.6" r="3.15"/><circle cx="519.9" cy="131.9" r="3.15"/><circle cx="531.1" cy="134.9" r="3.15"/><circle cx="531.5" cy="138.7" r="3.15"/><circle cx="528.5" cy="139.0" r="3.15"/><circle cx="526.6" cy="142.1" r="3.15"/><circle cx="543.2" cy="142.5" r="3.15"/><circle cx="533.1" cy="133.1" r="3.15"/><circle cx="536.7" cy="142.3" r="3.15"/><circle cx="533.9" cy="144.0" r="3.15"/><circle cx="520.4" cy="131.9" r="3.15"/><circle cx="532.0" cy="142.4" r="3.15"/><circle cx="540.3" cy="146.8" r="3.15"/><circle cx="532.2" cy="134.6" r="3.15"/><circle cx="519.7" cy="145.7" r="3.15"/><circle cx="521.9" cy="138.4" r="3.15"/><circle cx="523.7" cy="144.3" r="3.15"/><circle cx="535.5" cy="137.8" r="3.15"/><circle cx="537.5" cy="128.3" r="3.15"/><circle cx="520.5" cy="139.2" r="3.15"/><circle cx="525.2" cy="142.3" r="3.15"/><circle cx="519.0" cy="138.1" r="3.15"/><circle cx="497.0" cy="143.0" r="3.15"/><circle cx="491.0" cy="138.0" r="3.15"/><circle cx="516.0" cy="146.0" r="3.15"/><circle cx="520.0" cy="150.0" r="3.15"/><circle cx="489.8" cy="122.2" r="3.15"/><circle cx="481.2" cy="132.6" r="3.15"/><circle cx="495.7" cy="120.1" r="3.15"/><circle cx="483.5" cy="126.8" r="3.15"/><circle cx="488.5" cy="126.7" r="3.15"/><circle cx="477.9" cy="125.5" r="3.15"/><circle cx="478.7" cy="121.1" r="3.15"/><circle cx="489.8" cy="131.8" r="3.15"/><circle cx="480.5" cy="128.5" r="3.15"/><circle cx="476.6" cy="130.1" r="3.15"/><circle cx="480.7" cy="126.7" r="3.15"/><circle cx="491.9" cy="124.0" r="3.15"/><circle cx="479.9" cy="128.4" r="3.15"/><circle cx="493.6" cy="124.8" r="3.15"/><circle cx="474.2" cy="121.9" r="3.15"/><circle cx="485.1" cy="130.8" r="3.15"/><circle cx="484.9" cy="126.5" r="3.15"/><circle cx="483.6" cy="128.6" r="3.15"/><circle cx="478.3" cy="120.0" r="3.15"/><circle cx="485.1" cy="121.3" r="3.15"/><circle cx="485.1" cy="119.3" r="3.15"/><circle cx="493.1" cy="135.2" r="3.15"/><circle cx="487.0" cy="126.0" r="3.15"/><circle cx="481.1" cy="122.8" r="3.15"/><circle cx="495.1" cy="125.0" r="3.15"/><circle cx="485.4" cy="127.0" r="3.15"/><circle cx="497.7" cy="131.5" r="3.15"/><circle cx="492.7" cy="138.7" r="3.15"/><circle cx="482.4" cy="136.4" r="3.15"/><circle cx="486.6" cy="128.3" r="3.15"/><circle cx="482.1" cy="124.4" r="3.15"/><circle cx="475.8" cy="129.3" r="3.15"/><circle cx="482.3" cy="128.1" r="3.15"/><circle cx="498.6" cy="132.4" r="3.15"/><circle cx="490.0" cy="121.2" r="3.15"/><circle cx="469.1" cy="124.3" r="3.15"/><circle cx="494.6" cy="129.8" r="3.15"/><circle cx="484.5" cy="117.8" r="3.15"/><circle cx="474.1" cy="128.5" r="3.15"/><circle cx="485.5" cy="131.7" r="3.15"/><circle cx="487.4" cy="132.8" r="3.15"/><circle cx="484.5" cy="129.8" r="3.15"/><circle cx="519.0" cy="124.7" r="3.15"/><circle cx="504.7" cy="126.9" r="3.15"/><circle cx="511.5" cy="126.9" r="3.15"/><circle cx="511.1" cy="135.2" r="3.15"/><circle cx="535.7" cy="134.6" r="3.15"/><circle cx="502.6" cy="127.9" r="3.15"/><circle cx="500.6" cy="131.2" r="3.15"/><circle cx="507.6" cy="132.5" r="3.15"/><circle cx="505.4" cy="128.7" r="3.15"/><circle cx="508.9" cy="132.4" r="3.15"/><circle cx="512.3" cy="135.8" r="3.15"/><circle cx="510.6" cy="132.1" r="3.15"/><circle cx="497.4" cy="138.6" r="3.15"/><circle cx="504.7" cy="129.7" r="3.15"/><circle cx="509.3" cy="129.8" r="3.15"/><circle cx="513.4" cy="131.7" r="3.15"/><circle cx="522.9" cy="137.0" r="3.15"/><circle cx="502.7" cy="143.0" r="3.15"/><circle cx="506.8" cy="124.7" r="3.15"/><circle cx="527.4" cy="127.2" r="3.15"/><circle cx="499.7" cy="126.9" r="3.15"/><circle cx="503.8" cy="129.4" r="3.15"/><circle cx="508.6" cy="130.8" r="3.15"/><circle cx="511.6" cy="130.2" r="3.15"/><circle cx="471.7" cy="92.5" r="3.15"/><circle cx="471.6" cy="93.2" r="3.15"/><circle cx="475.5" cy="115.4" r="3.15"/><circle cx="473.3" cy="110.0" r="3.15"/><circle cx="470.7" cy="102.9" r="3.15"/><circle cx="477.3" cy="104.7" r="3.15"/><circle cx="468.1" cy="109.0" r="3.15"/><circle cx="478.5" cy="111.0" r="3.15"/><circle cx="475.6" cy="108.6" r="3.15"/><circle cx="468.2" cy="102.5" r="3.15"/><circle cx="471.9" cy="106.7" r="3.15"/><circle cx="473.2" cy="100.0" r="3.15"/><circle cx="471.6" cy="111.5" r="3.15"/><circle cx="479.7" cy="114.2" r="3.15"/><circle cx="480.7" cy="92.0" r="3.15"/><circle cx="471.3" cy="98.8" r="3.15"/><circle cx="471.7" cy="99.2" r="3.15"/><circle cx="468.7" cy="107.9" r="3.15"/><circle cx="470.8" cy="119.1" r="3.15"/><circle cx="470.0" cy="100.7" r="3.15"/><circle cx="475.5" cy="99.5" r="3.15"/><circle cx="468.6" cy="106.1" r="3.15"/><circle cx="473.8" cy="119.4" r="3.15"/><circle cx="477.0" cy="122.9" r="3.15"/><circle cx="475.3" cy="115.2" r="3.15"/><circle cx="472.1" cy="103.7" r="3.15"/><circle cx="476.8" cy="116.9" r="3.15"/><circle cx="468.2" cy="111.1" r="3.15"/><circle cx="475.3" cy="125.5" r="3.15"/><circle cx="471.3" cy="99.9" r="3.15"/><circle cx="473.1" cy="107.2" r="3.15"/><circle cx="476.4" cy="99.4" r="3.15"/><circle cx="477.6" cy="116.4" r="3.15"/><circle cx="477.6" cy="99.7" r="3.15"/><circle cx="471.2" cy="103.2" r="3.15"/><circle cx="477.5" cy="104.5" r="3.15"/><circle cx="465.8" cy="125.3" r="3.15"/><circle cx="478.3" cy="103.6" r="3.15"/><circle cx="466.4" cy="119.5" r="3.15"/><circle cx="469.6" cy="87.8" r="3.15"/><circle cx="477.1" cy="102.0" r="3.15"/><circle cx="473.6" cy="103.7" r="3.15"/><circle cx="475.4" cy="114.4" r="3.15"/><circle cx="464.0" cy="122.5" r="3.15"/><circle cx="483.0" cy="88.5" r="3.15"/><circle cx="470.4" cy="107.1" r="3.15"/><circle cx="470.6" cy="107.7" r="3.15"/><circle cx="477.2" cy="93.8" r="3.15"/><circle cx="479.2" cy="97.6" r="3.15"/><circle cx="475.1" cy="118.8" r="3.15"/><circle cx="478.6" cy="111.7" r="3.15"/><circle cx="479.8" cy="91.0" r="3.15"/><circle cx="468.9" cy="103.1" r="3.15"/><circle cx="471.1" cy="108.3" r="3.15"/><circle cx="470.0" cy="110.7" r="3.15"/><circle cx="472.8" cy="101.3" r="3.15"/><circle cx="476.6" cy="86.6" r="3.15"/><circle cx="466.4" cy="110.7" r="3.15"/><circle cx="476.5" cy="97.5" r="3.15"/><circle cx="471.1" cy="106.3" r="3.15"/><circle cx="467.2" cy="101.8" r="3.15"/><circle cx="477.8" cy="98.2" r="3.15"/><circle cx="476.0" cy="121.0" r="3.15"/><circle cx="468.0" cy="122.2" r="3.15"/><circle cx="467.5" cy="104.8" r="3.15"/><circle cx="478.7" cy="112.0" r="3.15"/><circle cx="470.6" cy="102.6" r="3.15"/><circle cx="477.0" cy="90.4" r="3.15"/><circle cx="470.1" cy="106.4" r="3.15"/><circle cx="478.9" cy="110.9" r="3.15"/><circle cx="467.8" cy="122.6" r="3.15"/><circle cx="472.8" cy="112.1" r="3.15"/><circle cx="468.1" cy="104.7" r="3.15"/><circle cx="475.6" cy="106.8" r="3.15"/><circle cx="475.5" cy="106.2" r="3.15"/><circle cx="515.4" cy="115.3" r="3.15"/><circle cx="510.7" cy="112.7" r="3.15"/><circle cx="500.3" cy="110.3" r="3.15"/><circle cx="503.9" cy="111.6" r="3.15"/><circle cx="506.4" cy="117.7" r="3.15"/><circle cx="495.3" cy="118.0" r="3.15"/><circle cx="499.1" cy="106.1" r="3.15"/><circle cx="505.0" cy="109.9" r="3.15"/><circle cx="501.8" cy="113.4" r="3.15"/><circle cx="506.5" cy="132.1" r="3.15"/><circle cx="507.2" cy="115.1" r="3.15"/><circle cx="506.1" cy="111.9" r="3.15"/><circle cx="499.8" cy="113.5" r="3.15"/><circle cx="488.0" cy="114.2" r="3.15"/><circle cx="525.3" cy="113.1" r="3.15"/><circle cx="500.9" cy="111.4" r="3.15"/><circle cx="512.7" cy="116.8" r="3.15"/><circle cx="497.6" cy="97.6" r="3.15"/><circle cx="521.0" cy="120.2" r="3.15"/><circle cx="502.6" cy="113.1" r="3.15"/><circle cx="498.3" cy="116.7" r="3.15"/><circle cx="489.6" cy="117.8" r="3.15"/><circle cx="508.6" cy="112.9" r="3.15"/><circle cx="515.9" cy="108.8" r="3.15"/><circle cx="500.2" cy="108.3" r="3.15"/><circle cx="491.6" cy="102.2" r="3.15"/><circle cx="501.9" cy="116.0" r="3.15"/><circle cx="508.7" cy="110.4" r="3.15"/><circle cx="494.8" cy="101.2" r="3.15"/><circle cx="515.7" cy="104.8" r="3.15"/><circle cx="507.9" cy="105.8" r="3.15"/><circle cx="514.9" cy="99.8" r="3.15"/><circle cx="510.0" cy="115.5" r="3.15"/><circle cx="504.4" cy="105.7" r="3.15"/><circle cx="506.5" cy="112.1" r="3.15"/><circle cx="492.8" cy="108.1" r="3.15"/><circle cx="522.9" cy="119.5" r="3.15"/><circle cx="505.1" cy="119.7" r="3.15"/><circle cx="513.5" cy="121.9" r="3.15"/><circle cx="495.4" cy="99.2" r="3.15"/><circle cx="517.6" cy="109.2" r="3.15"/><circle cx="505.7" cy="116.6" r="3.15"/><circle cx="499.7" cy="111.8" r="3.15"/><circle cx="529.1" cy="107.9" r="3.15"/><circle cx="515.0" cy="108.8" r="3.15"/><circle cx="503.6" cy="118.5" r="3.15"/><circle cx="507.5" cy="110.6" r="3.15"/><circle cx="512.7" cy="110.1" r="3.15"/><circle cx="493.4" cy="115.3" r="3.15"/><circle cx="495.6" cy="106.8" r="3.15"/><circle cx="515.2" cy="112.3" r="3.15"/><circle cx="509.6" cy="136.7" r="3.15"/><circle cx="496.7" cy="120.5" r="3.15"/><circle cx="502.7" cy="112.2" r="3.15"/><circle cx="509.5" cy="114.0" r="3.15"/><circle cx="507.3" cy="112.0" r="3.15"/><circle cx="510.5" cy="105.0" r="3.15"/><circle cx="500.7" cy="108.0" r="3.15"/><circle cx="523.1" cy="109.2" r="3.15"/><circle cx="515.0" cy="109.3" r="3.15"/><circle cx="498.7" cy="123.3" r="3.15"/><circle cx="500.3" cy="113.3" r="3.15"/><circle cx="505.6" cy="107.0" r="3.15"/><circle cx="506.7" cy="115.2" r="3.15"/><circle cx="513.8" cy="120.1" r="3.15"/><circle cx="489.5" cy="130.7" r="3.15"/><circle cx="503.3" cy="105.0" r="3.15"/><circle cx="507.9" cy="122.8" r="3.15"/><circle cx="509.0" cy="120.0" r="3.15"/><circle cx="498.8" cy="111.7" r="3.15"/><circle cx="515.5" cy="96.6" r="3.15"/><circle cx="491.8" cy="108.5" r="3.15"/><circle cx="513.2" cy="105.9" r="3.15"/><circle cx="499.8" cy="125.3" r="3.15"/><circle cx="500.5" cy="105.0" r="3.15"/><circle cx="494.7" cy="105.4" r="3.15"/><circle cx="514.3" cy="111.1" r="3.15"/><circle cx="486.7" cy="113.0" r="3.15"/><circle cx="506.1" cy="116.5" r="3.15"/><circle cx="491.8" cy="102.5" r="3.15"/><circle cx="491.4" cy="119.1" r="3.15"/><circle cx="506.1" cy="120.6" r="3.15"/><circle cx="509.2" cy="112.9" r="3.15"/><circle cx="498.9" cy="98.4" r="3.15"/><circle cx="493.8" cy="116.4" r="3.15"/><circle cx="491.1" cy="122.8" r="3.15"/><circle cx="511.3" cy="111.7" r="3.15"/><circle cx="529.6" cy="117.9" r="3.15"/><circle cx="494.0" cy="123.0" r="3.15"/><circle cx="509.7" cy="128.0" r="3.15"/><circle cx="500.9" cy="105.5" r="3.15"/><circle cx="500.4" cy="106.8" r="3.15"/><circle cx="518.2" cy="92.3" r="3.15"/><circle cx="496.6" cy="115.8" r="3.15"/><circle cx="497.1" cy="112.7" r="3.15"/><circle cx="512.7" cy="112.9" r="3.15"/><circle cx="502.9" cy="123.2" r="3.15"/><circle cx="485.9" cy="123.0" r="3.15"/><circle cx="495.4" cy="111.4" r="3.15"/><circle cx="493.0" cy="124.9" r="3.15"/><circle cx="506.1" cy="102.3" r="3.15"/><circle cx="505.6" cy="129.5" r="3.15"/><circle cx="509.5" cy="101.3" r="3.15"/><circle cx="533.9" cy="108.8" r="3.15"/><circle cx="557.3" cy="96.6" r="3.15"/><circle cx="533.1" cy="87.0" r="3.15"/><circle cx="543.6" cy="100.5" r="3.15"/><circle cx="527.6" cy="110.8" r="3.15"/><circle cx="487.3" cy="103.0" r="3.15"/><circle cx="536.6" cy="79.4" r="3.15"/><circle cx="531.4" cy="125.8" r="3.15"/><circle cx="523.4" cy="118.7" r="3.15"/><circle cx="523.5" cy="103.4" r="3.15"/><circle cx="508.0" cy="104.2" r="3.15"/><circle cx="510.1" cy="113.4" r="3.15"/><circle cx="552.0" cy="129.2" r="3.15"/><circle cx="511.0" cy="113.4" r="3.15"/><circle cx="490.9" cy="96.1" r="3.15"/><circle cx="497.2" cy="117.5" r="3.15"/><circle cx="533.1" cy="76.1" r="3.15"/><circle cx="499.6" cy="119.7" r="3.15"/><circle cx="533.2" cy="108.9" r="3.15"/><circle cx="538.0" cy="98.0" r="3.15"/><circle cx="509.3" cy="109.4" r="3.15"/><circle cx="538.8" cy="107.0" r="3.15"/><circle cx="512.1" cy="115.6" r="3.15"/><circle cx="537.0" cy="95.1" r="3.15"/><circle cx="545.7" cy="86.4" r="3.15"/><circle cx="539.8" cy="90.8" r="3.15"/><circle cx="535.9" cy="102.2" r="3.15"/><circle cx="534.6" cy="105.2" r="3.15"/><circle cx="539.6" cy="103.1" r="3.15"/><circle cx="494.2" cy="119.1" r="3.15"/><circle cx="535.8" cy="114.8" r="3.15"/><circle cx="521.0" cy="100.6" r="3.15"/><circle cx="519.3" cy="102.3" r="3.15"/><circle cx="559.8" cy="93.5" r="3.15"/><circle cx="495.5" cy="113.3" r="3.15"/><circle cx="523.7" cy="113.9" r="3.15"/><circle cx="506.4" cy="108.2" r="3.15"/><circle cx="559.6" cy="89.8" r="3.15"/><circle cx="532.2" cy="97.3" r="3.15"/><circle cx="513.5" cy="120.0" r="3.15"/><circle cx="544.8" cy="108.6" r="3.15"/><circle cx="507.9" cy="105.4" r="3.15"/><circle cx="527.2" cy="107.7" r="3.15"/><circle cx="532.4" cy="118.7" r="3.15"/><circle cx="555.7" cy="91.7" r="3.15"/><circle cx="527.8" cy="115.5" r="3.15"/><circle cx="545.6" cy="124.7" r="3.15"/><circle cx="569.3" cy="88.9" r="3.15"/><circle cx="522.3" cy="95.0" r="3.15"/><circle cx="513.9" cy="107.6" r="3.15"/><circle cx="519.0" cy="101.7" r="3.15"/><circle cx="543.7" cy="95.2" r="3.15"/><circle cx="549.4" cy="80.5" r="3.15"/><circle cx="506.2" cy="104.1" r="3.15"/><circle cx="488.9" cy="115.8" r="3.15"/><circle cx="542.7" cy="111.7" r="3.15"/><circle cx="506.7" cy="112.3" r="3.15"/><circle cx="499.6" cy="110.0" r="3.15"/><circle cx="516.5" cy="117.3" r="3.15"/><circle cx="503.3" cy="112.9" r="3.15"/><circle cx="525.6" cy="109.9" r="3.15"/><circle cx="496.8" cy="123.0" r="3.15"/><circle cx="561.0" cy="113.2" r="3.15"/><circle cx="532.0" cy="107.8" r="3.15"/><circle cx="562.2" cy="98.1" r="3.15"/><circle cx="528.4" cy="108.9" r="3.15"/><circle cx="515.3" cy="99.8" r="3.15"/><circle cx="513.1" cy="125.0" r="3.15"/><circle cx="501.9" cy="124.4" r="3.15"/><circle cx="505.4" cy="98.4" r="3.15"/><circle cx="519.7" cy="95.9" r="3.15"/><circle cx="539.7" cy="113.1" r="3.15"/><circle cx="530.5" cy="89.5" r="3.15"/><circle cx="482.8" cy="127.4" r="3.15"/><circle cx="541.5" cy="70.3" r="3.15"/><circle cx="510.0" cy="91.1" r="3.15"/><circle cx="513.0" cy="115.7" r="3.15"/><circle cx="537.5" cy="84.7" r="3.15"/><circle cx="538.3" cy="98.5" r="3.15"/><circle cx="534.8" cy="97.2" r="3.15"/><circle cx="518.0" cy="93.4" r="3.15"/><circle cx="532.2" cy="85.9" r="3.15"/><circle cx="522.2" cy="131.1" r="3.15"/><circle cx="543.4" cy="119.4" r="3.15"/><circle cx="495.3" cy="100.6" r="3.15"/><circle cx="529.4" cy="98.1" r="3.15"/><circle cx="542.3" cy="81.9" r="3.15"/><circle cx="528.4" cy="69.7" r="3.15"/><circle cx="489.7" cy="106.6" r="3.15"/><circle cx="498.9" cy="116.5" r="3.15"/><circle cx="545.4" cy="98.9" r="3.15"/><circle cx="526.3" cy="106.3" r="3.15"/><circle cx="515.9" cy="108.5" r="3.15"/><circle cx="574.1" cy="107.5" r="3.15"/><circle cx="532.4" cy="115.0" r="3.15"/><circle cx="522.0" cy="103.1" r="3.15"/><circle cx="534.7" cy="89.5" r="3.15"/><circle cx="533.2" cy="105.0" r="3.15"/><circle cx="518.1" cy="127.2" r="3.15"/><circle cx="506.2" cy="112.1" r="3.15"/><circle cx="556.8" cy="102.2" r="3.15"/><circle cx="529.4" cy="119.2" r="3.15"/><circle cx="503.9" cy="123.0" r="3.15"/><circle cx="554.9" cy="84.4" r="3.15"/><circle cx="533.8" cy="94.7" r="3.15"/><circle cx="498.9" cy="100.0" r="3.15"/><circle cx="520.0" cy="93.1" r="3.15"/><circle cx="542.0" cy="91.2" r="3.15"/><circle cx="537.0" cy="89.8" r="3.15"/><circle cx="517.7" cy="98.9" r="3.15"/><circle cx="533.3" cy="119.5" r="3.15"/><circle cx="503.1" cy="102.4" r="3.15"/><circle cx="538.7" cy="77.0" r="3.15"/><circle cx="517.6" cy="110.9" r="3.15"/><circle cx="517.8" cy="114.5" r="3.15"/><circle cx="527.9" cy="94.5" r="3.15"/><circle cx="501.8" cy="95.0" r="3.15"/><circle cx="485.6" cy="128.5" r="3.15"/><circle cx="512.2" cy="122.1" r="3.15"/><circle cx="535.4" cy="98.2" r="3.15"/><circle cx="520.9" cy="103.9" r="3.15"/><circle cx="530.7" cy="119.5" r="3.15"/><circle cx="530.0" cy="64.9" r="3.15"/><circle cx="520.4" cy="68.2" r="3.15"/><circle cx="515.5" cy="69.6" r="3.15"/><circle cx="528.7" cy="72.8" r="3.15"/><circle cx="521.9" cy="66.0" r="3.15"/><circle cx="514.9" cy="69.5" r="3.15"/><circle cx="519.0" cy="72.2" r="3.15"/><circle cx="518.5" cy="63.9" r="3.15"/><circle cx="519.3" cy="74.1" r="3.15"/><circle cx="524.1" cy="69.6" r="3.15"/><circle cx="517.7" cy="70.8" r="3.15"/><circle cx="528.3" cy="65.8" r="3.15"/><circle cx="514.3" cy="70.7" r="3.15"/><circle cx="522.3" cy="72.2" r="3.15"/><circle cx="515.5" cy="67.4" r="3.15"/><circle cx="516.1" cy="75.3" r="3.15"/><circle cx="523.9" cy="77.6" r="3.15"/><circle cx="517.4" cy="69.5" r="3.15"/><circle cx="518.4" cy="72.4" r="3.15"/><circle cx="513.6" cy="71.7" r="3.15"/><circle cx="517.7" cy="66.9" r="3.15"/><circle cx="513.0" cy="67.6" r="3.15"/><circle cx="526.5" cy="72.1" r="3.15"/><circle cx="515.5" cy="69.3" r="3.15"/><circle cx="525.7" cy="94.2" r="3.15"/><circle cx="519.4" cy="82.3" r="3.15"/><circle cx="534.6" cy="90.4" r="3.15"/><circle cx="532.4" cy="84.9" r="3.15"/><circle cx="533.4" cy="87.1" r="3.15"/><circle cx="531.4" cy="90.0" r="3.15"/><circle cx="527.2" cy="92.9" r="3.15"/><circle cx="533.5" cy="93.1" r="3.15"/><circle cx="527.8" cy="83.7" r="3.15"/><circle cx="528.9" cy="88.7" r="3.15"/><circle cx="540.9" cy="88.9" r="3.15"/><circle cx="530.2" cy="85.1" r="3.15"/><circle cx="517.8" cy="83.2" r="3.15"/><circle cx="531.2" cy="81.6" r="3.15"/><circle cx="548.6" cy="34.4" r="3.15"/><circle cx="531.4" cy="45.6" r="3.15"/><circle cx="527.0" cy="48.6" r="3.15"/><circle cx="531.4" cy="52.4" r="3.15"/><circle cx="536.6" cy="52.4" r="3.15"/><circle cx="549.0" cy="53.0" r="3.15"/><circle cx="508.0" cy="57.4" r="3.15"/><circle cx="523.0" cy="58.0" r="3.15"/><circle cx="516.0" cy="63.0" r="3.15"/><circle cx="526.0" cy="63.0" r="3.15"/><circle cx="497.6" cy="70.0" r="3.15"/><circle cx="502.6" cy="72.0" r="3.15"/><circle cx="509.0" cy="66.4" r="3.15"/><circle cx="499.0" cy="79.4" r="3.15"/><circle cx="472.6" cy="89.0" r="3.15"/><circle cx="485.0" cy="85.6" r="3.15"/><circle cx="491.6" cy="85.0" r="3.15"/><circle cx="469.0" cy="95.0" r="3.15"/><circle cx="458.0" cy="130.6" r="3.15"/><circle cx="465.0" cy="123.0" r="3.15"/><circle cx="464.6" cy="111.0" r="3.15"/><circle cx="464.6" cy="216.4" r="3.15"/><circle cx="456.0" cy="220.0" r="3.15"/><circle cx="458.0" cy="219.4" r="3.15"/><circle cx="465.6" cy="190.0" r="3.15"/><circle cx="471.4" cy="182.4" r="3.15"/><circle cx="496.0" cy="162.0" r="3.15"/><circle cx="495.0" cy="170.0" r="3.15"/><circle cx="445.0" cy="171.4" r="3.15"/><circle cx="645.4" cy="57.0" r="3.15"/><circle cx="553.0" cy="73.0" r="3.15"/><circle cx="571.0" cy="72.4" r="3.15"/><circle cx="585.6" cy="72.4" r="3.15"/><circle cx="599.0" cy="66.0" r="3.15"/><circle cx="604.0" cy="66.0" r="3.15"/><circle cx="609.0" cy="64.4" r="3.15"/><circle cx="611.0" cy="67.6" r="3.15"/><circle cx="607.0" cy="69.0" r="3.15"/><circle cx="596.0" cy="69.0" r="3.15"/><circle cx="600.0" cy="72.4" r="3.15"/><circle cx="599.6" cy="74.4" r="3.15"/><circle cx="591.6" cy="76.0" r="3.15"/><circle cx="591.0" cy="78.4" r="3.15"/><circle cx="585.0" cy="79.4" r="3.15"/><circle cx="586.0" cy="80.4" r="3.15"/><circle cx="606.4" cy="79.4" r="3.15"/><circle cx="604.0" cy="84.0" r="3.15"/><circle cx="593.6" cy="84.4" r="3.15"/><circle cx="590.0" cy="89.0" r="3.15"/><circle cx="585.0" cy="93.0" r="3.15"/><circle cx="580.0" cy="85.6" r="3.15"/><circle cx="578.0" cy="86.4" r="3.15"/><circle cx="574.0" cy="88.0" r="3.15"/><circle cx="571.0" cy="84.4" r="3.15"/><circle cx="583.0" cy="87.0" r="3.15"/><circle cx="581.0" cy="91.0" r="3.15"/><circle cx="576.0" cy="94.0" r="3.15"/><circle cx="569.0" cy="95.0" r="3.15"/><circle cx="568.0" cy="99.0" r="3.15"/><circle cx="570.0" cy="101.0" r="3.15"/><circle cx="570.4" cy="103.6" r="3.15"/><circle cx="564.0" cy="102.4" r="3.15"/><circle cx="558.0" cy="103.0" r="3.15"/><circle cx="560.0" cy="95.6" r="3.15"/><circle cx="555.6" cy="91.0" r="3.15"/><circle cx="557.0" cy="84.0" r="3.15"/><circle cx="562.0" cy="87.0" r="3.15"/><circle cx="549.0" cy="84.0" r="3.15"/><circle cx="551.0" cy="97.0" r="3.15"/><circle cx="549.6" cy="99.0" r="3.15"/><circle cx="552.0" cy="106.0" r="3.15"/><circle cx="555.0" cy="112.0" r="3.15"/><circle cx="548.0" cy="113.0" r="3.15"/><circle cx="553.0" cy="118.0" r="3.15"/><circle cx="552.0" cy="123.0" r="3.15"/><circle cx="557.0" cy="124.0" r="3.15"/><circle cx="564.0" cy="130.0" r="3.15"/><circle cx="572.4" cy="127.4" r="3.15"/><circle cx="586.0" cy="127.0" r="3.15"/><circle cx="553.6" cy="135.0" r="3.15"/><circle cx="551.0" cy="139.6" r="3.15"/><circle cx="571.0" cy="108.0" r="3.15"/><circle cx="568.0" cy="112.4" r="3.15"/><circle cx="565.0" cy="115.0" r="3.15"/><circle cx="596.0" cy="100.0" r="3.15"/><circle cx="617.6" cy="96.0" r="3.15"/><circle cx="619.6" cy="79.6" r="3.15"/><circle cx="623.0" cy="77.0" r="3.15"/><circle cx="624.0" cy="76.0" r="3.15"/><circle cx="623.0" cy="83.0" r="3.15"/><circle cx="629.6" cy="83.0" r="3.15"/><circle cx="630.4" cy="73.6" r="3.15"/><circle cx="632.0" cy="74.4" r="3.15"/><circle cx="637.0" cy="76.0" r="3.15"/><circle cx="639.4" cy="73.4" r="3.15"/><circle cx="648.0" cy="80.0" r="3.15"/><circle cx="654.6" cy="82.0" r="3.15"/><circle cx="660.6" cy="84.0" r="3.15"/><circle cx="669.2" cy="83.4" r="3.15"/><circle cx="670.8" cy="77.6" r="3.15"/>
</g>
<rect x="423" y="23.7" width="260" height="236.7" fill="none" stroke="#000" stroke-width="1.28"/>
<text x="431" y="284" font-family='"Liberation Serif", serif' font-size="16" text-anchor="middle">0.00</text>
<text x="491" y="284" font-family='"Liberation Serif", serif' font-size="16" text-anchor="middle">0.25</text>
<text x="551" y="284" font-family='"Liberation Serif", serif' font-size="16" text-anchor="middle">0.50</text>
<text x="611" y="284" font-family='"Liberation Serif", serif' font-size="16" text-anchor="middle">0.75</text>
<text x="671" y="284" font-family='"Liberation Serif", serif' font-size="16" text-anchor="middle">1.00</text>
<text x="410.7" y="61.7" font-family='"Liberation Serif", serif' font-size="16" text-anchor="end">30</text>
<text x="410.7" y="96.8" font-family='"Liberation Serif", serif' font-size="16" text-anchor="end">25</text>
<text x="410.7" y="132" font-family='"Liberation Serif", serif' font-size="16" text-anchor="end">20</text>
<text x="410.7" y="167.1" font-family='"Liberation Serif", serif' font-size="16" text-anchor="end">15</text>
<text x="410.7" y="202.2" font-family='"Liberation Serif", serif' font-size="16" text-anchor="end">10</text>
<text x="410.7" y="237.4" font-family='"Liberation Serif", serif' font-size="16" text-anchor="end">5</text>
<path d="M431 260.4v6.24M491 260.4v6.24M551 260.4v6.24M611 260.4v6.24M671 260.4v6.24M423 56.2h-6.24M423 91.3h-6.24M423 126.5h-6.24M423 161.6h-6.24M423 196.7h-6.24M423 231.9h-6.24" stroke="#000" stroke-width="1.28" fill="none"/>
<path d="M649.1 296L656.9 303.8M649.1 303.8L656.9 296" stroke="#000" stroke-width="1.05" fill="none"/>
<text x="660.2" y="304.4" font-family='"Liberation Serif", serif' font-size="16" text-anchor="start">10</text>
<text x="676.4" y="297.8" font-family='"Liberation Serif", serif' font-size="11.2" text-anchor="start">5</text>
<text x="470.6" y="13.9" font-family='"Liberation Serif", serif' font-size="19.2" text-anchor="start" font-style="italic">ρ</text>
<text x="479.8" y="16.9" font-family='"Liberation Serif", serif' font-size="13.4" text-anchor="start" font-style="italic">s</text>
<text x="492.4" y="13.9" font-family='"Liberation Serif", serif' font-size="19.2" text-anchor="start" textLength="15" lengthAdjust="spacingAndGlyphs">=</text>
<text x="513.2" y="13.9" font-family='"Liberation Serif", serif' font-size="19.2" text-anchor="start">0.83</text>
<text x="547.8" y="13.9" font-family='"Liberation Serif", serif' font-size="19.2" text-anchor="start">,</text>
<text x="557.3" y="13.9" font-family='"Liberation Serif", serif' font-size="19.2" text-anchor="start" font-style="italic">ρ</text>
<text x="566.6" y="16.9" font-family='"Liberation Serif", serif' font-size="13.4" text-anchor="start" font-style="italic">p</text>
<text x="580.9" y="13.9" font-family='"Liberation Serif", serif' font-size="19.2" text-anchor="start" textLength="15" lengthAdjust="spacingAndGlyphs">=</text>
<text x="601.4" y="13.9" font-family='"Liberation Serif", serif' font-size="19.2" text-anchor="start">0.76</text>
<text x="553" y="306.3" font-family='"Liberation Sans", sans-serif' font-size="15.3" text-anchor="middle" textLength="119" lengthAdjust="spacingAndGlyphs" class="sans"><tspan font-size="18.2" dy="0.7">(</tspan><tspan dy="-0.7">Pointcloud, CD</tspan><tspan font-size="18.2" dy="0.7">)</tspan></text>
<text x="553" y="324.9" font-family='"Liberation Sans", sans-serif' font-size="15.3" text-anchor="middle" class="sans"><tspan font-size="18.2" dy="0.7">(</tspan><tspan dy="-0.7">b</tspan><tspan font-size="18.2" dy="0.7">)</tspan></text>
<g transform="translate(383.5 142.05) rotate(-90)"><text x="0" y="0" font-family='"Liberation Sans", sans-serif' font-size="15.3" text-anchor="middle" textLength="152.9" lengthAdjust="spacingAndGlyphs" class="sans"><tspan font-size="18.2" dy="0.7">(</tspan><tspan dy="-0.7">Pointcloud, AE code</tspan><tspan font-size="18.2" dy="0.7">)</tspan></text></g>
</g>
<g id="plot-c">
<clipPath id="clip-c"><rect x="56.6" y="380.5" width="260" height="236.3"/></clipPath>
<g clip-path="url(#clip-c)" fill="#1f77b4" fill-opacity="0.5">
<circle cx="74.0" cy="588.9" r="3.15"/><circle cx="74.5" cy="585.0" r="3.15"/><circle cx="72.2" cy="584.6" r="3.15"/><circle cx="70.9" cy="596.1" r="3.15"/><circle cx="73.2" cy="592.6" r="3.15"/><circle cx="73.3" cy="590.8" r="3.15"/><circle cx="69.2" cy="597.9" r="3.15"/><circle cx="72.6" cy="594.6" r="3.15"/><circle cx="76.4" cy="582.4" r="3.15"/><circle cx="69.1" cy="602.7" r="3.15"/><circle cx="69.1" cy="603.1" r="3.15"/><circle cx="73.9" cy="588.3" r="3.15"/><circle cx="72.2" cy="584.8" r="3.15"/><circle cx="71.6" cy="591.1" r="3.15"/><circle cx="68.4" cy="604.0" r="3.15"/><circle cx="71.2" cy="595.0" r="3.15"/><circle cx="67.6" cy="604.5" r="3.15"/><circle cx="67.3" cy="602.9" r="3.15"/><circle cx="73.2" cy="591.3" r="3.15"/><circle cx="70.0" cy="601.2" r="3.15"/><circle cx="73.5" cy="584.3" r="3.15"/><circle cx="67.9" cy="599.2" r="3.15"/><circle cx="72.6" cy="587.7" r="3.15"/><circle cx="72.9" cy="582.7" r="3.15"/><circle cx="72.1" cy="589.9" r="3.15"/><circle cx="73.3" cy="593.8" r="3.15"/><circle cx="69.9" cy="599.8" r="3.15"/><circle cx="71.2" cy="594.2" r="3.15"/><circle cx="73.6" cy="592.0" r="3.15"/><circle cx="69.4" cy="602.9" r="3.15"/><circle cx="72.5" cy="589.4" r="3.15"/><circle cx="74.8" cy="581.1" r="3.15"/><circle cx="70.0" cy="603.6" r="3.15"/><circle cx="71.4" cy="599.4" r="3.15"/><circle cx="70.5" cy="591.9" r="3.15"/><circle cx="72.2" cy="592.0" r="3.15"/><circle cx="71.0" cy="598.0" r="3.15"/><circle cx="72.9" cy="595.1" r="3.15"/><circle cx="72.0" cy="592.5" r="3.15"/><circle cx="70.4" cy="598.3" r="3.15"/><circle cx="73.8" cy="591.9" r="3.15"/><circle cx="71.8" cy="595.5" r="3.15"/><circle cx="71.7" cy="597.6" r="3.15"/><circle cx="69.9" cy="604.1" r="3.15"/><circle cx="72.5" cy="583.1" r="3.15"/><circle cx="72.1" cy="588.0" r="3.15"/><circle cx="75.3" cy="583.1" r="3.15"/><circle cx="70.1" cy="604.2" r="3.15"/><circle cx="68.7" cy="600.0" r="3.15"/><circle cx="74.4" cy="581.8" r="3.15"/><circle cx="70.5" cy="598.6" r="3.15"/><circle cx="73.2" cy="593.0" r="3.15"/><circle cx="71.7" cy="594.4" r="3.15"/><circle cx="70.8" cy="597.0" r="3.15"/><circle cx="72.9" cy="581.5" r="3.15"/><circle cx="75.4" cy="584.5" r="3.15"/><circle cx="71.8" cy="584.1" r="3.15"/><circle cx="72.7" cy="593.6" r="3.15"/><circle cx="72.9" cy="590.2" r="3.15"/><circle cx="73.6" cy="581.5" r="3.15"/><circle cx="68.2" cy="602.7" r="3.15"/><circle cx="73.2" cy="589.5" r="3.15"/><circle cx="69.3" cy="604.0" r="3.15"/><circle cx="74.4" cy="587.7" r="3.15"/><circle cx="68.9" cy="602.8" r="3.15"/><circle cx="73.9" cy="587.4" r="3.15"/><circle cx="74.3" cy="589.1" r="3.15"/><circle cx="74.7" cy="582.4" r="3.15"/><circle cx="71.4" cy="597.5" r="3.15"/><circle cx="70.7" cy="603.5" r="3.15"/><circle cx="74.2" cy="583.3" r="3.15"/><circle cx="76.8" cy="585.7" r="3.15"/><circle cx="78.5" cy="581.4" r="3.15"/><circle cx="75.3" cy="581.4" r="3.15"/><circle cx="73.2" cy="579.4" r="3.15"/><circle cx="72.1" cy="583.7" r="3.15"/><circle cx="76.5" cy="582.9" r="3.15"/><circle cx="74.7" cy="581.5" r="3.15"/><circle cx="78.5" cy="585.0" r="3.15"/><circle cx="76.6" cy="583.1" r="3.15"/><circle cx="70.2" cy="582.8" r="3.15"/><circle cx="72.7" cy="579.1" r="3.15"/><circle cx="75.9" cy="577.9" r="3.15"/><circle cx="70.7" cy="582.8" r="3.15"/><circle cx="68.6" cy="606.6" r="3.15"/><circle cx="106.6" cy="509.6" r="3.15"/><circle cx="89.2" cy="554.6" r="3.15"/><circle cx="94.9" cy="529.2" r="3.15"/><circle cx="87.4" cy="543.3" r="3.15"/><circle cx="126.7" cy="495.6" r="3.15"/><circle cx="110.8" cy="500.7" r="3.15"/><circle cx="111.2" cy="509.9" r="3.15"/><circle cx="112.6" cy="509.4" r="3.15"/><circle cx="109.1" cy="512.8" r="3.15"/><circle cx="114.9" cy="494.3" r="3.15"/><circle cx="92.9" cy="530.6" r="3.15"/><circle cx="101.3" cy="501.1" r="3.15"/><circle cx="92.9" cy="525.5" r="3.15"/><circle cx="109.7" cy="494.2" r="3.15"/><circle cx="129.7" cy="492.5" r="3.15"/><circle cx="94.8" cy="518.1" r="3.15"/><circle cx="88.5" cy="555.2" r="3.15"/><circle cx="98.4" cy="505.8" r="3.15"/><circle cx="107.0" cy="518.5" r="3.15"/><circle cx="94.6" cy="544.0" r="3.15"/><circle cx="120.1" cy="494.4" r="3.15"/><circle cx="86.3" cy="538.1" r="3.15"/><circle cx="89.8" cy="547.9" r="3.15"/><circle cx="113.4" cy="513.0" r="3.15"/><circle cx="89.8" cy="542.7" r="3.15"/><circle cx="107.6" cy="532.4" r="3.15"/><circle cx="106.6" cy="502.2" r="3.15"/><circle cx="86.5" cy="539.4" r="3.15"/><circle cx="99.7" cy="536.7" r="3.15"/><circle cx="127.3" cy="507.6" r="3.15"/><circle cx="96.7" cy="515.5" r="3.15"/><circle cx="88.7" cy="570.2" r="3.15"/><circle cx="83.6" cy="548.8" r="3.15"/><circle cx="83.9" cy="559.6" r="3.15"/><circle cx="95.7" cy="557.5" r="3.15"/><circle cx="96.8" cy="536.6" r="3.15"/><circle cx="107.5" cy="523.2" r="3.15"/><circle cx="106.4" cy="510.6" r="3.15"/><circle cx="104.7" cy="498.8" r="3.15"/><circle cx="89.3" cy="557.4" r="3.15"/><circle cx="107.7" cy="526.9" r="3.15"/><circle cx="106.8" cy="504.3" r="3.15"/><circle cx="115.3" cy="514.8" r="3.15"/><circle cx="120.2" cy="515.8" r="3.15"/><circle cx="101.9" cy="541.0" r="3.15"/><circle cx="89.4" cy="539.1" r="3.15"/><circle cx="96.5" cy="526.6" r="3.15"/><circle cx="112.8" cy="521.2" r="3.15"/><circle cx="97.0" cy="504.8" r="3.15"/><circle cx="97.2" cy="517.6" r="3.15"/><circle cx="81.8" cy="558.2" r="3.15"/><circle cx="127.1" cy="498.6" r="3.15"/><circle cx="93.9" cy="527.0" r="3.15"/><circle cx="94.3" cy="522.1" r="3.15"/><circle cx="99.9" cy="524.4" r="3.15"/><circle cx="99.6" cy="529.8" r="3.15"/><circle cx="98.7" cy="509.4" r="3.15"/><circle cx="92.1" cy="541.2" r="3.15"/><circle cx="94.8" cy="513.6" r="3.15"/><circle cx="86.5" cy="547.2" r="3.15"/><circle cx="122.7" cy="501.3" r="3.15"/><circle cx="99.1" cy="549.8" r="3.15"/><circle cx="101.7" cy="531.8" r="3.15"/><circle cx="99.6" cy="530.1" r="3.15"/><circle cx="100.9" cy="511.0" r="3.15"/><circle cx="109.7" cy="492.3" r="3.15"/><circle cx="87.0" cy="544.5" r="3.15"/><circle cx="99.2" cy="517.4" r="3.15"/><circle cx="123.6" cy="495.4" r="3.15"/><circle cx="85.7" cy="553.1" r="3.15"/><circle cx="123.7" cy="515.0" r="3.15"/><circle cx="100.8" cy="532.5" r="3.15"/><circle cx="89.5" cy="524.9" r="3.15"/><circle cx="85.0" cy="545.9" r="3.15"/><circle cx="92.6" cy="526.9" r="3.15"/><circle cx="94.0" cy="561.4" r="3.15"/><circle cx="99.1" cy="523.5" r="3.15"/><circle cx="117.3" cy="506.4" r="3.15"/><circle cx="91.7" cy="518.6" r="3.15"/><circle cx="108.0" cy="523.6" r="3.15"/><circle cx="89.9" cy="548.4" r="3.15"/><circle cx="101.5" cy="532.7" r="3.15"/><circle cx="130.6" cy="504.8" r="3.15"/><circle cx="137.1" cy="499.3" r="3.15"/><circle cx="94.1" cy="546.6" r="3.15"/><circle cx="96.1" cy="530.3" r="3.15"/><circle cx="112.7" cy="524.9" r="3.15"/><circle cx="100.2" cy="541.4" r="3.15"/><circle cx="90.6" cy="523.1" r="3.15"/><circle cx="97.4" cy="528.7" r="3.15"/><circle cx="99.1" cy="503.7" r="3.15"/><circle cx="99.3" cy="509.7" r="3.15"/><circle cx="121.4" cy="492.1" r="3.15"/><circle cx="95.0" cy="523.8" r="3.15"/><circle cx="106.4" cy="515.2" r="3.15"/><circle cx="119.5" cy="513.4" r="3.15"/><circle cx="117.4" cy="517.1" r="3.15"/><circle cx="125.8" cy="505.5" r="3.15"/><circle cx="110.7" cy="503.1" r="3.15"/><circle cx="105.8" cy="494.0" r="3.15"/><circle cx="115.8" cy="521.9" r="3.15"/><circle cx="113.8" cy="503.6" r="3.15"/><circle cx="97.3" cy="512.9" r="3.15"/><circle cx="105.9" cy="497.8" r="3.15"/><circle cx="128.5" cy="507.9" r="3.15"/><circle cx="99.9" cy="511.5" r="3.15"/><circle cx="98.7" cy="511.8" r="3.15"/><circle cx="107.1" cy="496.0" r="3.15"/><circle cx="98.3" cy="506.4" r="3.15"/><circle cx="126.6" cy="496.9" r="3.15"/><circle cx="109.7" cy="529.2" r="3.15"/><circle cx="107.0" cy="503.2" r="3.15"/><circle cx="89.1" cy="524.0" r="3.15"/><circle cx="135.1" cy="502.5" r="3.15"/><circle cx="107.3" cy="503.6" r="3.15"/><circle cx="131.9" cy="505.7" r="3.15"/><circle cx="91.0" cy="545.8" r="3.15"/><circle cx="88.2" cy="567.2" r="3.15"/><circle cx="116.0" cy="498.8" r="3.15"/><circle cx="91.3" cy="558.7" r="3.15"/><circle cx="91.0" cy="566.8" r="3.15"/><circle cx="85.7" cy="561.5" r="3.15"/><circle cx="90.2" cy="540.5" r="3.15"/><circle cx="109.1" cy="498.0" r="3.15"/><circle cx="112.0" cy="505.4" r="3.15"/><circle cx="115.1" cy="495.2" r="3.15"/><circle cx="89.1" cy="538.3" r="3.15"/><circle cx="92.2" cy="528.8" r="3.15"/><circle cx="86.9" cy="537.9" r="3.15"/><circle cx="129.7" cy="491.4" r="3.15"/><circle cx="90.6" cy="560.0" r="3.15"/><circle cx="118.2" cy="521.5" r="3.15"/><circle cx="97.4" cy="552.8" r="3.15"/><circle cx="117.3" cy="513.1" r="3.15"/><circle cx="87.2" cy="531.2" r="3.15"/><circle cx="118.4" cy="513.6" r="3.15"/><circle cx="89.2" cy="555.9" r="3.15"/><circle cx="117.0" cy="491.1" r="3.15"/><circle cx="95.6" cy="560.1" r="3.15"/><circle cx="102.8" cy="498.8" r="3.15"/><circle cx="94.8" cy="528.2" r="3.15"/><circle cx="87.1" cy="547.7" r="3.15"/><circle cx="120.9" cy="517.6" r="3.15"/><circle cx="96.2" cy="526.3" r="3.15"/><circle cx="106.7" cy="514.1" r="3.15"/><circle cx="91.8" cy="559.2" r="3.15"/><circle cx="93.8" cy="543.0" r="3.15"/><circle cx="112.3" cy="511.2" r="3.15"/><circle cx="121.7" cy="497.0" r="3.15"/><circle cx="85.4" cy="568.4" r="3.15"/><circle cx="104.6" cy="536.0" r="3.15"/><circle cx="104.2" cy="509.2" r="3.15"/><circle cx="91.7" cy="550.8" r="3.15"/><circle cx="119.4" cy="510.8" r="3.15"/><circle cx="107.5" cy="494.1" r="3.15"/><circle cx="98.4" cy="510.7" r="3.15"/><circle cx="124.2" cy="502.1" r="3.15"/><circle cx="105.2" cy="499.6" r="3.15"/><circle cx="95.2" cy="556.4" r="3.15"/><circle cx="81.5" cy="564.4" r="3.15"/><circle cx="131.8" cy="502.4" r="3.15"/><circle cx="110.2" cy="522.9" r="3.15"/><circle cx="86.4" cy="567.6" r="3.15"/><circle cx="93.2" cy="540.9" r="3.15"/><circle cx="98.3" cy="508.1" r="3.15"/><circle cx="111.0" cy="500.7" r="3.15"/><circle cx="104.8" cy="510.0" r="3.15"/><circle cx="86.7" cy="556.1" r="3.15"/><circle cx="112.9" cy="519.2" r="3.15"/><circle cx="120.0" cy="516.7" r="3.15"/><circle cx="118.3" cy="496.6" r="3.15"/><circle cx="97.4" cy="540.2" r="3.15"/><circle cx="96.6" cy="521.6" r="3.15"/><circle cx="102.3" cy="534.4" r="3.15"/><circle cx="91.4" cy="527.2" r="3.15"/><circle cx="101.4" cy="504.4" r="3.15"/><circle cx="124.8" cy="511.4" r="3.15"/><circle cx="96.5" cy="518.9" r="3.15"/><circle cx="102.1" cy="512.7" r="3.15"/><circle cx="128.0" cy="506.0" r="3.15"/><circle cx="89.6" cy="555.9" r="3.15"/><circle cx="97.1" cy="539.3" r="3.15"/><circle cx="128.6" cy="498.8" r="3.15"/><circle cx="87.2" cy="548.6" r="3.15"/><circle cx="112.5" cy="519.2" r="3.15"/><circle cx="97.9" cy="553.4" r="3.15"/><circle cx="101.5" cy="512.3" r="3.15"/><circle cx="102.7" cy="502.6" r="3.15"/><circle cx="96.3" cy="538.5" r="3.15"/><circle cx="96.6" cy="523.6" r="3.15"/><circle cx="90.3" cy="568.4" r="3.15"/><circle cx="118.6" cy="500.5" r="3.15"/><circle cx="88.5" cy="549.9" r="3.15"/><circle cx="118.3" cy="492.2" r="3.15"/><circle cx="96.4" cy="515.7" r="3.15"/><circle cx="82.0" cy="567.9" r="3.15"/><circle cx="108.4" cy="503.4" r="3.15"/><circle cx="116.3" cy="493.1" r="3.15"/><circle cx="89.5" cy="565.4" r="3.15"/><circle cx="137.6" cy="497.5" r="3.15"/><circle cx="120.6" cy="505.2" r="3.15"/><circle cx="124.7" cy="507.2" r="3.15"/><circle cx="107.4" cy="499.4" r="3.15"/><circle cx="113.9" cy="500.4" r="3.15"/><circle cx="111.4" cy="506.0" r="3.15"/><circle cx="130.3" cy="499.5" r="3.15"/><circle cx="111.1" cy="499.8" r="3.15"/><circle cx="87.5" cy="547.8" r="3.15"/><circle cx="131.1" cy="494.9" r="3.15"/><circle cx="113.0" cy="512.4" r="3.15"/><circle cx="113.7" cy="518.0" r="3.15"/><circle cx="92.6" cy="520.5" r="3.15"/><circle cx="118.0" cy="515.9" r="3.15"/><circle cx="129.2" cy="501.7" r="3.15"/><circle cx="113.4" cy="504.0" r="3.15"/><circle cx="93.6" cy="562.4" r="3.15"/><circle cx="84.1" cy="540.4" r="3.15"/><circle cx="123.2" cy="509.5" r="3.15"/><circle cx="97.0" cy="541.9" r="3.15"/><circle cx="90.2" cy="541.9" r="3.15"/><circle cx="109.2" cy="492.1" r="3.15"/><circle cx="89.7" cy="536.0" r="3.15"/><circle cx="128.8" cy="498.1" r="3.15"/><circle cx="84.6" cy="557.4" r="3.15"/><circle cx="107.0" cy="493.3" r="3.15"/><circle cx="101.9" cy="504.2" r="3.15"/><circle cx="113.2" cy="513.8" r="3.15"/><circle cx="103.0" cy="531.1" r="3.15"/><circle cx="121.8" cy="505.5" r="3.15"/><circle cx="126.8" cy="503.3" r="3.15"/><circle cx="116.9" cy="504.8" r="3.15"/><circle cx="119.8" cy="514.1" r="3.15"/><circle cx="94.3" cy="546.9" r="3.15"/><circle cx="104.0" cy="526.6" r="3.15"/><circle cx="112.7" cy="520.9" r="3.15"/><circle cx="118.9" cy="499.2" r="3.15"/><circle cx="96.8" cy="525.2" r="3.15"/><circle cx="108.8" cy="510.6" r="3.15"/><circle cx="97.4" cy="512.1" r="3.15"/><circle cx="96.9" cy="555.7" r="3.15"/><circle cx="116.9" cy="509.9" r="3.15"/><circle cx="93.4" cy="519.5" r="3.15"/><circle cx="87.4" cy="563.7" r="3.15"/><circle cx="103.6" cy="497.4" r="3.15"/><circle cx="138.6" cy="498.8" r="3.15"/><circle cx="122.7" cy="502.8" r="3.15"/><circle cx="110.4" cy="508.4" r="3.15"/><circle cx="88.5" cy="559.4" r="3.15"/><circle cx="88.5" cy="548.3" r="3.15"/><circle cx="86.1" cy="538.8" r="3.15"/><circle cx="138.5" cy="497.9" r="3.15"/><circle cx="111.5" cy="523.1" r="3.15"/><circle cx="98.2" cy="544.2" r="3.15"/><circle cx="122.4" cy="490.9" r="3.15"/><circle cx="104.5" cy="531.5" r="3.15"/><circle cx="83.2" cy="544.0" r="3.15"/><circle cx="129.5" cy="505.6" r="3.15"/><circle cx="94.4" cy="562.0" r="3.15"/><circle cx="106.2" cy="509.0" r="3.15"/><circle cx="92.9" cy="528.7" r="3.15"/><circle cx="96.2" cy="550.8" r="3.15"/><circle cx="90.0" cy="548.3" r="3.15"/><circle cx="94.5" cy="512.9" r="3.15"/><circle cx="128.4" cy="496.8" r="3.15"/><circle cx="93.1" cy="548.5" r="3.15"/><circle cx="98.7" cy="522.7" r="3.15"/><circle cx="85.4" cy="566.0" r="3.15"/><circle cx="111.2" cy="515.6" r="3.15"/><circle cx="99.1" cy="544.2" r="3.15"/><circle cx="100.0" cy="501.0" r="3.15"/><circle cx="94.7" cy="512.9" r="3.15"/><circle cx="99.0" cy="543.1" r="3.15"/><circle cx="111.3" cy="511.0" r="3.15"/><circle cx="131.6" cy="495.6" r="3.15"/><circle cx="108.8" cy="521.8" r="3.15"/><circle cx="110.1" cy="493.3" r="3.15"/><circle cx="100.4" cy="502.4" r="3.15"/><circle cx="86.6" cy="533.8" r="3.15"/><circle cx="114.4" cy="491.5" r="3.15"/><circle cx="87.4" cy="557.8" r="3.15"/><circle cx="102.7" cy="499.2" r="3.15"/><circle cx="113.4" cy="519.9" r="3.15"/><circle cx="95.2" cy="546.6" r="3.15"/><circle cx="126.8" cy="505.8" r="3.15"/><circle cx="98.3" cy="532.2" r="3.15"/><circle cx="110.6" cy="512.3" r="3.15"/><circle cx="94.9" cy="543.0" r="3.15"/><circle cx="117.2" cy="518.7" r="3.15"/><circle cx="90.2" cy="531.7" r="3.15"/><circle cx="137.9" cy="500.2" r="3.15"/><circle cx="93.5" cy="523.3" r="3.15"/><circle cx="85.8" cy="552.2" r="3.15"/><circle cx="87.3" cy="554.9" r="3.15"/><circle cx="122.0" cy="499.3" r="3.15"/><circle cx="93.8" cy="551.6" r="3.15"/><circle cx="88.8" cy="558.1" r="3.15"/><circle cx="92.6" cy="538.5" r="3.15"/><circle cx="107.2" cy="508.3" r="3.15"/><circle cx="94.0" cy="511.8" r="3.15"/><circle cx="88.7" cy="530.8" r="3.15"/><circle cx="98.4" cy="511.4" r="3.15"/><circle cx="97.9" cy="515.9" r="3.15"/><circle cx="134.2" cy="495.9" r="3.15"/><circle cx="105.3" cy="520.4" r="3.15"/><circle cx="121.7" cy="500.6" r="3.15"/><circle cx="98.7" cy="538.9" r="3.15"/><circle cx="110.3" cy="516.2" r="3.15"/><circle cx="119.2" cy="513.2" r="3.15"/><circle cx="112.0" cy="509.3" r="3.15"/><circle cx="91.5" cy="541.5" r="3.15"/><circle cx="116.2" cy="517.3" r="3.15"/><circle cx="116.8" cy="505.0" r="3.15"/><circle cx="116.5" cy="496.1" r="3.15"/><circle cx="99.1" cy="536.9" r="3.15"/><circle cx="120.5" cy="490.8" r="3.15"/><circle cx="96.4" cy="524.5" r="3.15"/><circle cx="122.7" cy="494.6" r="3.15"/><circle cx="111.9" cy="503.0" r="3.15"/><circle cx="87.5" cy="532.8" r="3.15"/><circle cx="85.3" cy="547.6" r="3.15"/><circle cx="111.6" cy="517.0" r="3.15"/><circle cx="121.7" cy="498.0" r="3.15"/><circle cx="104.6" cy="510.3" r="3.15"/><circle cx="128.1" cy="508.4" r="3.15"/><circle cx="86.6" cy="537.9" r="3.15"/><circle cx="104.9" cy="528.9" r="3.15"/><circle cx="108.4" cy="513.6" r="3.15"/><circle cx="105.6" cy="526.6" r="3.15"/><circle cx="113.5" cy="507.3" r="3.15"/><circle cx="121.9" cy="515.2" r="3.15"/><circle cx="125.5" cy="502.6" r="3.15"/><circle cx="87.2" cy="547.3" r="3.15"/><circle cx="90.0" cy="555.8" r="3.15"/><circle cx="115.7" cy="503.1" r="3.15"/><circle cx="103.4" cy="501.8" r="3.15"/><circle cx="102.9" cy="520.7" r="3.15"/><circle cx="96.3" cy="534.4" r="3.15"/><circle cx="99.0" cy="513.5" r="3.15"/><circle cx="89.3" cy="536.0" r="3.15"/><circle cx="107.1" cy="503.8" r="3.15"/><circle cx="113.0" cy="504.1" r="3.15"/><circle cx="118.4" cy="504.8" r="3.15"/><circle cx="92.8" cy="518.8" r="3.15"/><circle cx="102.3" cy="515.8" r="3.15"/><circle cx="119.7" cy="519.6" r="3.15"/><circle cx="86.0" cy="537.4" r="3.15"/><circle cx="100.3" cy="500.0" r="3.15"/><circle cx="131.7" cy="500.2" r="3.15"/><circle cx="103.3" cy="511.0" r="3.15"/><circle cx="113.5" cy="525.3" r="3.15"/><circle cx="94.3" cy="548.8" r="3.15"/><circle cx="107.5" cy="534.6" r="3.15"/><circle cx="99.5" cy="515.7" r="3.15"/><circle cx="94.0" cy="547.3" r="3.15"/><circle cx="91.7" cy="539.1" r="3.15"/><circle cx="92.9" cy="532.4" r="3.15"/><circle cx="110.3" cy="518.4" r="3.15"/><circle cx="90.0" cy="548.9" r="3.15"/><circle cx="104.3" cy="520.5" r="3.15"/><circle cx="91.5" cy="555.9" r="3.15"/><circle cx="84.3" cy="548.7" r="3.15"/><circle cx="94.2" cy="539.7" r="3.15"/><circle cx="77.7" cy="557.4" r="3.15"/><circle cx="117.6" cy="499.0" r="3.15"/><circle cx="92.8" cy="538.0" r="3.15"/><circle cx="86.2" cy="547.7" r="3.15"/><circle cx="85.3" cy="563.4" r="3.15"/><circle cx="91.5" cy="542.5" r="3.15"/><circle cx="100.3" cy="518.6" r="3.15"/><circle cx="87.7" cy="551.0" r="3.15"/><circle cx="91.5" cy="539.1" r="3.15"/><circle cx="97.0" cy="537.1" r="3.15"/><circle cx="110.2" cy="511.8" r="3.15"/><circle cx="119.8" cy="506.9" r="3.15"/><circle cx="91.1" cy="551.6" r="3.15"/><circle cx="91.9" cy="549.7" r="3.15"/><circle cx="88.2" cy="546.5" r="3.15"/><circle cx="116.0" cy="507.6" r="3.15"/><circle cx="94.3" cy="546.3" r="3.15"/><circle cx="85.3" cy="549.3" r="3.15"/><circle cx="108.5" cy="513.3" r="3.15"/><circle cx="105.9" cy="514.8" r="3.15"/><circle cx="96.2" cy="530.5" r="3.15"/><circle cx="104.5" cy="509.8" r="3.15"/><circle cx="83.8" cy="555.8" r="3.15"/><circle cx="111.6" cy="510.6" r="3.15"/><circle cx="108.6" cy="510.2" r="3.15"/><circle cx="101.8" cy="541.9" r="3.15"/><circle cx="107.7" cy="519.0" r="3.15"/><circle cx="105.3" cy="524.0" r="3.15"/><circle cx="98.4" cy="526.5" r="3.15"/><circle cx="116.9" cy="512.5" r="3.15"/><circle cx="95.0" cy="547.0" r="3.15"/><circle cx="115.0" cy="509.1" r="3.15"/><circle cx="90.5" cy="559.2" r="3.15"/><circle cx="109.4" cy="517.1" r="3.15"/><circle cx="119.2" cy="502.2" r="3.15"/><circle cx="92.5" cy="544.3" r="3.15"/><circle cx="105.8" cy="519.8" r="3.15"/><circle cx="96.3" cy="531.4" r="3.15"/><circle cx="118.8" cy="504.6" r="3.15"/><circle cx="85.9" cy="568.1" r="3.15"/><circle cx="93.7" cy="536.2" r="3.15"/><circle cx="112.6" cy="511.7" r="3.15"/><circle cx="106.5" cy="512.4" r="3.15"/><circle cx="90.9" cy="548.6" r="3.15"/><circle cx="87.5" cy="571.3" r="3.15"/><circle cx="95.3" cy="545.5" r="3.15"/><circle cx="103.2" cy="507.3" r="3.15"/><circle cx="98.2" cy="518.4" r="3.15"/><circle cx="91.1" cy="547.5" r="3.15"/><circle cx="95.1" cy="536.8" r="3.15"/><circle cx="111.9" cy="512.0" r="3.15"/><circle cx="116.0" cy="511.9" r="3.15"/><circle cx="89.0" cy="554.7" r="3.15"/><circle cx="92.7" cy="535.4" r="3.15"/><circle cx="94.9" cy="559.5" r="3.15"/><circle cx="115.3" cy="504.5" r="3.15"/><circle cx="90.3" cy="549.6" r="3.15"/><circle cx="93.0" cy="535.7" r="3.15"/><circle cx="101.5" cy="527.8" r="3.15"/><circle cx="88.7" cy="557.7" r="3.15"/><circle cx="86.3" cy="549.3" r="3.15"/><circle cx="95.4" cy="551.2" r="3.15"/><circle cx="119.4" cy="506.1" r="3.15"/><circle cx="116.5" cy="500.6" r="3.15"/><circle cx="100.8" cy="536.0" r="3.15"/><circle cx="108.6" cy="510.0" r="3.15"/><circle cx="89.6" cy="528.1" r="3.15"/><circle cx="106.9" cy="516.0" r="3.15"/><circle cx="108.5" cy="508.8" r="3.15"/><circle cx="118.1" cy="508.3" r="3.15"/><circle cx="99.4" cy="519.7" r="3.15"/><circle cx="115.0" cy="503.6" r="3.15"/><circle cx="92.3" cy="546.0" r="3.15"/><circle cx="113.6" cy="503.7" r="3.15"/><circle cx="96.3" cy="521.8" r="3.15"/><circle cx="117.7" cy="503.3" r="3.15"/><circle cx="91.9" cy="539.0" r="3.15"/><circle cx="93.2" cy="548.7" r="3.15"/><circle cx="101.8" cy="515.2" r="3.15"/><circle cx="89.1" cy="563.3" r="3.15"/><circle cx="105.9" cy="518.4" r="3.15"/><circle cx="103.3" cy="522.2" r="3.15"/><circle cx="92.5" cy="563.1" r="3.15"/><circle cx="94.6" cy="543.5" r="3.15"/><circle cx="117.0" cy="503.0" r="3.15"/><circle cx="93.2" cy="535.7" r="3.15"/><circle cx="107.4" cy="502.5" r="3.15"/><circle cx="84.9" cy="557.0" r="3.15"/><circle cx="103.5" cy="531.3" r="3.15"/><circle cx="103.0" cy="528.3" r="3.15"/><circle cx="88.3" cy="552.2" r="3.15"/><circle cx="95.7" cy="527.2" r="3.15"/><circle cx="91.0" cy="537.9" r="3.15"/><circle cx="109.6" cy="497.3" r="3.15"/><circle cx="96.4" cy="536.5" r="3.15"/><circle cx="96.9" cy="539.9" r="3.15"/><circle cx="84.0" cy="561.0" r="3.15"/><circle cx="110.4" cy="510.6" r="3.15"/><circle cx="81.8" cy="565.2" r="3.15"/><circle cx="103.3" cy="525.8" r="3.15"/><circle cx="83.0" cy="561.9" r="3.15"/><circle cx="84.4" cy="558.9" r="3.15"/><circle cx="104.8" cy="517.7" r="3.15"/><circle cx="97.2" cy="550.4" r="3.15"/><circle cx="96.2" cy="527.9" r="3.15"/><circle cx="108.1" cy="523.6" r="3.15"/><circle cx="88.6" cy="555.0" r="3.15"/><circle cx="93.1" cy="536.6" r="3.15"/><circle cx="116.0" cy="498.1" r="3.15"/><circle cx="86.7" cy="564.2" r="3.15"/><circle cx="97.9" cy="529.5" r="3.15"/><circle cx="92.5" cy="534.4" r="3.15"/><circle cx="81.3" cy="550.7" r="3.15"/><circle cx="120.0" cy="511.4" r="3.15"/><circle cx="120.2" cy="513.1" r="3.15"/><circle cx="116.9" cy="496.0" r="3.15"/><circle cx="95.5" cy="524.8" r="3.15"/><circle cx="106.4" cy="515.2" r="3.15"/><circle cx="125.4" cy="500.6" r="3.15"/><circle cx="116.7" cy="507.8" r="3.15"/><circle cx="100.1" cy="528.7" r="3.15"/><circle cx="118.5" cy="500.4" r="3.15"/><circle cx="96.0" cy="538.1" r="3.15"/><circle cx="97.1" cy="532.0" r="3.15"/><circle cx="80.3" cy="555.4" r="3.15"/><circle cx="103.4" cy="508.6" r="3.15"/><circle cx="115.0" cy="506.4" r="3.15"/><circle cx="88.1" cy="558.7" r="3.15"/><circle cx="113.0" cy="515.4" r="3.15"/><circle cx="105.9" cy="516.6" r="3.15"/><circle cx="94.8" cy="540.1" r="3.15"/><circle cx="122.9" cy="494.8" r="3.15"/><circle cx="86.7" cy="559.7" r="3.15"/><circle cx="90.9" cy="554.4" r="3.15"/><circle cx="96.6" cy="538.8" r="3.15"/><circle cx="109.3" cy="516.1" r="3.15"/><circle cx="84.6" cy="563.6" r="3.15"/><circle cx="86.1" cy="545.3" r="3.15"/><circle cx="93.4" cy="552.7" r="3.15"/><circle cx="98.3" cy="532.3" r="3.15"/><circle cx="101.8" cy="519.7" r="3.15"/><circle cx="90.5" cy="552.2" r="3.15"/><circle cx="115.1" cy="507.1" r="3.15"/><circle cx="98.8" cy="535.8" r="3.15"/><circle cx="104.8" cy="516.9" r="3.15"/><circle cx="89.2" cy="547.2" r="3.15"/><circle cx="88.1" cy="554.3" r="3.15"/><circle cx="102.0" cy="525.8" r="3.15"/><circle cx="88.7" cy="560.3" r="3.15"/><circle cx="107.1" cy="521.3" r="3.15"/><circle cx="103.3" cy="517.2" r="3.15"/><circle cx="90.5" cy="538.8" r="3.15"/><circle cx="114.6" cy="508.7" r="3.15"/><circle cx="86.2" cy="566.2" r="3.15"/><circle cx="118.1" cy="510.8" r="3.15"/><circle cx="107.3" cy="510.3" r="3.15"/><circle cx="97.2" cy="529.2" r="3.15"/><circle cx="112.3" cy="506.5" r="3.15"/><circle cx="157.0" cy="482.2" r="3.15"/><circle cx="138.8" cy="482.1" r="3.15"/><circle cx="134.2" cy="482.9" r="3.15"/><circle cx="170.1" cy="483.9" r="3.15"/><circle cx="163.8" cy="461.2" r="3.15"/><circle cx="171.3" cy="482.6" r="3.15"/><circle cx="143.6" cy="491.6" r="3.15"/><circle cx="180.4" cy="471.4" r="3.15"/><circle cx="169.3" cy="467.7" r="3.15"/><circle cx="131.3" cy="471.4" r="3.15"/><circle cx="122.7" cy="479.6" r="3.15"/><circle cx="133.8" cy="478.2" r="3.15"/><circle cx="163.6" cy="488.8" r="3.15"/><circle cx="163.3" cy="480.8" r="3.15"/><circle cx="147.1" cy="484.9" r="3.15"/><circle cx="166.3" cy="481.1" r="3.15"/><circle cx="148.1" cy="456.4" r="3.15"/><circle cx="147.2" cy="495.4" r="3.15"/><circle cx="157.1" cy="482.9" r="3.15"/><circle cx="143.2" cy="455.2" r="3.15"/><circle cx="149.2" cy="455.4" r="3.15"/><circle cx="176.7" cy="464.6" r="3.15"/><circle cx="141.1" cy="477.8" r="3.15"/><circle cx="144.2" cy="460.7" r="3.15"/><circle cx="146.1" cy="481.2" r="3.15"/><circle cx="130.1" cy="485.7" r="3.15"/><circle cx="171.3" cy="478.5" r="3.15"/><circle cx="160.1" cy="457.9" r="3.15"/><circle cx="108.7" cy="492.3" r="3.15"/><circle cx="170.5" cy="474.3" r="3.15"/><circle cx="162.3" cy="465.3" r="3.15"/><circle cx="158.2" cy="456.2" r="3.15"/><circle cx="171.8" cy="483.7" r="3.15"/><circle cx="175.0" cy="466.0" r="3.15"/><circle cx="168.7" cy="467.2" r="3.15"/><circle cx="117.2" cy="475.6" r="3.15"/><circle cx="169.7" cy="459.5" r="3.15"/><circle cx="146.6" cy="470.2" r="3.15"/><circle cx="142.5" cy="492.6" r="3.15"/><circle cx="140.1" cy="472.5" r="3.15"/><circle cx="117.6" cy="486.2" r="3.15"/><circle cx="153.7" cy="489.4" r="3.15"/><circle cx="115.2" cy="481.6" r="3.15"/><circle cx="175.4" cy="472.6" r="3.15"/><circle cx="155.9" cy="493.9" r="3.15"/><circle cx="107.3" cy="492.5" r="3.15"/><circle cx="158.2" cy="447.2" r="3.15"/><circle cx="116.4" cy="475.2" r="3.15"/><circle cx="167.0" cy="465.7" r="3.15"/><circle cx="140.8" cy="480.0" r="3.15"/><circle cx="177.1" cy="464.4" r="3.15"/><circle cx="142.9" cy="473.9" r="3.15"/><circle cx="159.0" cy="461.6" r="3.15"/><circle cx="157.2" cy="449.9" r="3.15"/><circle cx="156.0" cy="491.2" r="3.15"/><circle cx="143.4" cy="456.8" r="3.15"/><circle cx="137.1" cy="490.7" r="3.15"/><circle cx="158.2" cy="450.5" r="3.15"/><circle cx="178.5" cy="470.4" r="3.15"/><circle cx="156.0" cy="481.1" r="3.15"/><circle cx="144.0" cy="488.6" r="3.15"/><circle cx="168.9" cy="451.1" r="3.15"/><circle cx="158.2" cy="479.0" r="3.15"/><circle cx="112.4" cy="483.6" r="3.15"/><circle cx="166.0" cy="460.2" r="3.15"/><circle cx="157.4" cy="451.1" r="3.15"/><circle cx="177.7" cy="467.0" r="3.15"/><circle cx="174.2" cy="461.4" r="3.15"/><circle cx="133.4" cy="473.9" r="3.15"/><circle cx="172.6" cy="471.2" r="3.15"/><circle cx="159.1" cy="448.4" r="3.15"/><circle cx="154.6" cy="481.0" r="3.15"/><circle cx="170.8" cy="466.6" r="3.15"/><circle cx="152.1" cy="454.1" r="3.15"/><circle cx="152.3" cy="491.1" r="3.15"/><circle cx="118.2" cy="478.0" r="3.15"/><circle cx="143.4" cy="480.0" r="3.15"/><circle cx="156.7" cy="486.9" r="3.15"/><circle cx="139.6" cy="469.4" r="3.15"/><circle cx="179.5" cy="469.3" r="3.15"/><circle cx="175.6" cy="469.4" r="3.15"/><circle cx="169.5" cy="458.9" r="3.15"/><circle cx="174.2" cy="474.0" r="3.15"/><circle cx="152.5" cy="486.0" r="3.15"/><circle cx="138.6" cy="466.0" r="3.15"/><circle cx="110.5" cy="487.7" r="3.15"/><circle cx="166.5" cy="486.4" r="3.15"/><circle cx="164.6" cy="463.0" r="3.15"/><circle cx="143.3" cy="468.1" r="3.15"/><circle cx="164.1" cy="473.1" r="3.15"/><circle cx="114.6" cy="474.8" r="3.15"/><circle cx="167.0" cy="483.7" r="3.15"/><circle cx="114.9" cy="483.1" r="3.15"/><circle cx="136.6" cy="493.1" r="3.15"/><circle cx="149.1" cy="493.8" r="3.15"/><circle cx="130.5" cy="477.4" r="3.15"/><circle cx="127.5" cy="488.0" r="3.15"/><circle cx="167.8" cy="481.1" r="3.15"/><circle cx="174.9" cy="462.9" r="3.15"/><circle cx="136.7" cy="481.3" r="3.15"/><circle cx="145.8" cy="471.1" r="3.15"/><circle cx="170.0" cy="468.0" r="3.15"/><circle cx="108.0" cy="491.6" r="3.15"/><circle cx="173.6" cy="458.5" r="3.15"/><circle cx="175.6" cy="480.7" r="3.15"/><circle cx="162.6" cy="476.0" r="3.15"/><circle cx="173.5" cy="465.2" r="3.15"/><circle cx="139.7" cy="482.5" r="3.15"/><circle cx="166.7" cy="472.9" r="3.15"/><circle cx="170.8" cy="457.9" r="3.15"/><circle cx="122.1" cy="481.2" r="3.15"/><circle cx="157.2" cy="450.9" r="3.15"/><circle cx="165.2" cy="454.6" r="3.15"/><circle cx="141.0" cy="487.8" r="3.15"/><circle cx="163.5" cy="491.2" r="3.15"/><circle cx="174.5" cy="474.3" r="3.15"/><circle cx="153.0" cy="453.7" r="3.15"/><circle cx="140.4" cy="458.9" r="3.15"/><circle cx="136.2" cy="482.4" r="3.15"/><circle cx="163.5" cy="464.4" r="3.15"/><circle cx="180.3" cy="470.7" r="3.15"/><circle cx="151.4" cy="445.4" r="3.15"/><circle cx="140.2" cy="479.6" r="3.15"/><circle cx="144.1" cy="459.8" r="3.15"/><circle cx="159.2" cy="456.3" r="3.15"/><circle cx="168.8" cy="468.7" r="3.15"/><circle cx="164.4" cy="472.8" r="3.15"/><circle cx="171.9" cy="480.2" r="3.15"/><circle cx="163.2" cy="448.3" r="3.15"/><circle cx="137.8" cy="489.0" r="3.15"/><circle cx="148.2" cy="494.2" r="3.15"/><circle cx="119.2" cy="487.0" r="3.15"/><circle cx="141.7" cy="470.5" r="3.15"/><circle cx="164.5" cy="474.4" r="3.15"/><circle cx="154.7" cy="457.5" r="3.15"/><circle cx="140.7" cy="497.9" r="3.15"/><circle cx="156.5" cy="447.7" r="3.15"/><circle cx="141.2" cy="496.6" r="3.15"/><circle cx="158.8" cy="457.2" r="3.15"/><circle cx="109.5" cy="489.9" r="3.15"/><circle cx="172.7" cy="465.8" r="3.15"/><circle cx="148.8" cy="495.9" r="3.15"/><circle cx="129.0" cy="479.6" r="3.15"/><circle cx="153.0" cy="446.8" r="3.15"/><circle cx="140.1" cy="484.6" r="3.15"/><circle cx="130.4" cy="476.8" r="3.15"/><circle cx="153.7" cy="481.5" r="3.15"/><circle cx="143.6" cy="470.3" r="3.15"/><circle cx="150.5" cy="476.4" r="3.15"/><circle cx="154.9" cy="451.8" r="3.15"/><circle cx="156.9" cy="468.8" r="3.15"/><circle cx="148.3" cy="459.8" r="3.15"/><circle cx="113.5" cy="475.1" r="3.15"/><circle cx="163.5" cy="461.7" r="3.15"/><circle cx="128.0" cy="471.8" r="3.15"/><circle cx="140.4" cy="471.0" r="3.15"/><circle cx="135.1" cy="471.4" r="3.15"/><circle cx="147.3" cy="453.5" r="3.15"/><circle cx="173.6" cy="469.6" r="3.15"/><circle cx="131.4" cy="480.1" r="3.15"/><circle cx="150.3" cy="489.3" r="3.15"/><circle cx="152.9" cy="496.7" r="3.15"/><circle cx="141.0" cy="480.9" r="3.15"/><circle cx="153.0" cy="469.6" r="3.15"/><circle cx="113.6" cy="482.1" r="3.15"/><circle cx="105.9" cy="491.3" r="3.15"/><circle cx="155.6" cy="452.7" r="3.15"/><circle cx="143.7" cy="499.0" r="3.15"/><circle cx="148.7" cy="478.8" r="3.15"/><circle cx="136.2" cy="487.3" r="3.15"/><circle cx="105.8" cy="486.9" r="3.15"/><circle cx="141.7" cy="482.4" r="3.15"/><circle cx="108.6" cy="480.9" r="3.15"/><circle cx="159.4" cy="447.0" r="3.15"/><circle cx="135.1" cy="477.3" r="3.15"/><circle cx="130.3" cy="490.1" r="3.15"/><circle cx="150.1" cy="459.1" r="3.15"/><circle cx="165.2" cy="468.4" r="3.15"/><circle cx="170.6" cy="457.7" r="3.15"/><circle cx="161.5" cy="487.7" r="3.15"/><circle cx="156.0" cy="482.9" r="3.15"/><circle cx="138.2" cy="463.8" r="3.15"/><circle cx="147.4" cy="468.0" r="3.15"/><circle cx="164.3" cy="464.8" r="3.15"/><circle cx="147.6" cy="459.1" r="3.15"/><circle cx="146.2" cy="488.8" r="3.15"/><circle cx="128.1" cy="473.9" r="3.15"/><circle cx="148.5" cy="474.0" r="3.15"/><circle cx="138.6" cy="462.9" r="3.15"/><circle cx="116.5" cy="483.3" r="3.15"/><circle cx="147.9" cy="462.9" r="3.15"/><circle cx="145.8" cy="460.6" r="3.15"/><circle cx="143.7" cy="476.9" r="3.15"/><circle cx="136.0" cy="473.9" r="3.15"/><circle cx="138.3" cy="476.4" r="3.15"/><circle cx="136.2" cy="476.1" r="3.15"/><circle cx="129.7" cy="489.9" r="3.15"/><circle cx="135.1" cy="478.9" r="3.15"/><circle cx="143.2" cy="457.5" r="3.15"/><circle cx="152.1" cy="467.8" r="3.15"/><circle cx="159.2" cy="463.6" r="3.15"/><circle cx="132.9" cy="477.1" r="3.15"/><circle cx="147.8" cy="460.5" r="3.15"/><circle cx="143.7" cy="476.7" r="3.15"/><circle cx="150.2" cy="452.4" r="3.15"/><circle cx="151.1" cy="464.0" r="3.15"/><circle cx="158.5" cy="457.9" r="3.15"/><circle cx="132.9" cy="477.8" r="3.15"/><circle cx="142.6" cy="475.2" r="3.15"/><circle cx="131.6" cy="489.6" r="3.15"/><circle cx="134.7" cy="478.3" r="3.15"/><circle cx="143.9" cy="483.0" r="3.15"/><circle cx="140.4" cy="482.2" r="3.15"/><circle cx="158.0" cy="461.4" r="3.15"/><circle cx="162.9" cy="452.4" r="3.15"/><circle cx="138.4" cy="478.8" r="3.15"/><circle cx="137.2" cy="487.7" r="3.15"/><circle cx="148.6" cy="465.6" r="3.15"/><circle cx="154.0" cy="474.5" r="3.15"/><circle cx="146.2" cy="467.2" r="3.15"/><circle cx="142.5" cy="467.8" r="3.15"/><circle cx="153.3" cy="464.1" r="3.15"/><circle cx="143.5" cy="465.1" r="3.15"/><circle cx="134.7" cy="474.4" r="3.15"/><circle cx="154.2" cy="468.6" r="3.15"/><circle cx="138.1" cy="470.9" r="3.15"/><circle cx="145.9" cy="467.3" r="3.15"/><circle cx="154.8" cy="465.5" r="3.15"/><circle cx="154.8" cy="474.3" r="3.15"/><circle cx="152.1" cy="464.3" r="3.15"/><circle cx="154.1" cy="463.4" r="3.15"/><circle cx="141.7" cy="471.7" r="3.15"/><circle cx="149.2" cy="466.0" r="3.15"/><circle cx="139.8" cy="476.8" r="3.15"/><circle cx="146.3" cy="467.9" r="3.15"/><circle cx="157.2" cy="451.9" r="3.15"/><circle cx="148.4" cy="473.5" r="3.15"/><circle cx="155.5" cy="470.2" r="3.15"/><circle cx="133.3" cy="480.0" r="3.15"/><circle cx="148.3" cy="474.6" r="3.15"/><circle cx="153.8" cy="476.9" r="3.15"/><circle cx="151.3" cy="466.3" r="3.15"/><circle cx="160.3" cy="446.2" r="3.15"/><circle cx="131.4" cy="477.3" r="3.15"/><circle cx="156.8" cy="475.5" r="3.15"/><circle cx="150.2" cy="470.5" r="3.15"/><circle cx="151.6" cy="458.6" r="3.15"/><circle cx="142.1" cy="470.0" r="3.15"/><circle cx="152.5" cy="462.5" r="3.15"/><circle cx="153.4" cy="448.8" r="3.15"/><circle cx="160.5" cy="450.6" r="3.15"/><circle cx="144.5" cy="463.2" r="3.15"/><circle cx="145.0" cy="472.5" r="3.15"/><circle cx="150.2" cy="459.6" r="3.15"/><circle cx="146.7" cy="463.4" r="3.15"/><circle cx="151.8" cy="466.3" r="3.15"/><circle cx="153.6" cy="477.4" r="3.15"/><circle cx="147.4" cy="469.2" r="3.15"/><circle cx="144.5" cy="479.9" r="3.15"/><circle cx="156.0" cy="461.2" r="3.15"/><circle cx="151.5" cy="471.5" r="3.15"/><circle cx="150.6" cy="470.5" r="3.15"/><circle cx="158.1" cy="464.5" r="3.15"/><circle cx="152.6" cy="458.5" r="3.15"/><circle cx="139.8" cy="480.6" r="3.15"/><circle cx="149.5" cy="457.9" r="3.15"/><circle cx="166.5" cy="454.6" r="3.15"/><circle cx="146.4" cy="464.5" r="3.15"/><circle cx="140.8" cy="482.8" r="3.15"/><circle cx="148.1" cy="470.0" r="3.15"/><circle cx="157.1" cy="465.9" r="3.15"/><circle cx="138.2" cy="482.4" r="3.15"/><circle cx="149.6" cy="466.6" r="3.15"/><circle cx="128.6" cy="477.7" r="3.15"/><circle cx="153.8" cy="462.1" r="3.15"/><circle cx="154.2" cy="473.6" r="3.15"/><circle cx="138.4" cy="482.6" r="3.15"/><circle cx="136.7" cy="472.0" r="3.15"/><circle cx="131.2" cy="482.4" r="3.15"/><circle cx="132.8" cy="475.2" r="3.15"/><circle cx="148.4" cy="470.8" r="3.15"/><circle cx="152.1" cy="465.4" r="3.15"/><circle cx="145.3" cy="472.8" r="3.15"/><circle cx="140.2" cy="477.0" r="3.15"/><circle cx="144.2" cy="467.6" r="3.15"/><circle cx="113.3" cy="480.9" r="3.15"/><circle cx="108.0" cy="485.3" r="3.15"/><circle cx="109.3" cy="487.5" r="3.15"/><circle cx="107.0" cy="476.4" r="3.15"/><circle cx="116.3" cy="472.0" r="3.15"/><circle cx="112.5" cy="478.4" r="3.15"/><circle cx="114.9" cy="479.9" r="3.15"/><circle cx="111.7" cy="479.1" r="3.15"/><circle cx="107.9" cy="475.6" r="3.15"/><circle cx="108.6" cy="489.7" r="3.15"/><circle cx="110.5" cy="480.7" r="3.15"/><circle cx="119.0" cy="468.4" r="3.15"/><circle cx="116.3" cy="484.5" r="3.15"/><circle cx="118.8" cy="482.3" r="3.15"/><circle cx="108.2" cy="482.6" r="3.15"/><circle cx="113.1" cy="481.2" r="3.15"/><circle cx="174.7" cy="481.5" r="3.15"/><circle cx="169.5" cy="466.8" r="3.15"/><circle cx="177.1" cy="473.6" r="3.15"/><circle cx="172.6" cy="469.2" r="3.15"/><circle cx="164.6" cy="460.9" r="3.15"/><circle cx="175.7" cy="471.5" r="3.15"/><circle cx="164.5" cy="466.6" r="3.15"/><circle cx="177.9" cy="470.9" r="3.15"/><circle cx="173.6" cy="467.0" r="3.15"/><circle cx="172.0" cy="462.8" r="3.15"/><circle cx="165.7" cy="466.1" r="3.15"/><circle cx="169.6" cy="482.2" r="3.15"/><circle cx="173.7" cy="474.7" r="3.15"/><circle cx="168.4" cy="465.6" r="3.15"/><circle cx="174.8" cy="473.1" r="3.15"/><circle cx="173.1" cy="479.7" r="3.15"/><circle cx="170.4" cy="453.7" r="3.15"/><circle cx="171.4" cy="473.0" r="3.15"/><circle cx="72.6" cy="553.4" r="3.15"/><circle cx="72.6" cy="561.0" r="3.15"/><circle cx="73.0" cy="565.4" r="3.15"/><circle cx="83.0" cy="535.0" r="3.15"/><circle cx="88.0" cy="517.0" r="3.15"/><circle cx="166.6" cy="496.0" r="3.15"/><circle cx="158.0" cy="502.0" r="3.15"/><circle cx="150.0" cy="505.0" r="3.15"/><circle cx="123.6" cy="456.0" r="3.15"/><circle cx="122.0" cy="463.0" r="3.15"/><circle cx="130.0" cy="462.6" r="3.15"/><circle cx="131.0" cy="471.0" r="3.15"/><circle cx="128.0" cy="474.0" r="3.15"/><circle cx="179.0" cy="418.4" r="3.15"/><circle cx="166.6" cy="426.4" r="3.15"/><circle cx="166.6" cy="433.0" r="3.15"/><circle cx="159.0" cy="433.4" r="3.15"/><circle cx="165.0" cy="440.6" r="3.15"/><circle cx="175.6" cy="441.6" r="3.15"/><circle cx="155.0" cy="439.0" r="3.15"/><circle cx="154.0" cy="446.0" r="3.15"/><circle cx="144.0" cy="453.0" r="3.15"/><circle cx="140.0" cy="459.0" r="3.15"/><circle cx="292.6" cy="391.0" r="3.15"/><circle cx="293.0" cy="402.4" r="3.15"/><circle cx="304.4" cy="407.6" r="3.15"/><circle cx="287.6" cy="409.0" r="3.15"/><circle cx="276.6" cy="406.6" r="3.15"/><circle cx="279.0" cy="408.6" r="3.15"/><circle cx="274.0" cy="411.6" r="3.15"/><circle cx="270.4" cy="419.0" r="3.15"/><circle cx="261.0" cy="403.6" r="3.15"/><circle cx="261.4" cy="412.4" r="3.15"/><circle cx="258.0" cy="415.0" r="3.15"/><circle cx="258.6" cy="417.6" r="3.15"/><circle cx="256.6" cy="424.4" r="3.15"/><circle cx="252.6" cy="405.6" r="3.15"/><circle cx="252.4" cy="410.0" r="3.15"/><circle cx="244.0" cy="406.6" r="3.15"/><circle cx="245.0" cy="408.0" r="3.15"/><circle cx="248.0" cy="409.6" r="3.15"/><circle cx="242.4" cy="410.0" r="3.15"/><circle cx="244.4" cy="412.6" r="3.15"/><circle cx="246.6" cy="413.0" r="3.15"/><circle cx="236.0" cy="411.4" r="3.15"/><circle cx="231.0" cy="415.0" r="3.15"/><circle cx="230.0" cy="417.0" r="3.15"/><circle cx="225.6" cy="419.0" r="3.15"/><circle cx="238.4" cy="418.0" r="3.15"/><circle cx="239.4" cy="420.0" r="3.15"/><circle cx="246.0" cy="421.4" r="3.15"/><circle cx="244.4" cy="425.6" r="3.15"/><circle cx="238.0" cy="424.0" r="3.15"/><circle cx="234.0" cy="424.4" r="3.15"/><circle cx="232.4" cy="425.6" r="3.15"/><circle cx="228.0" cy="424.6" r="3.15"/><circle cx="231.0" cy="428.0" r="3.15"/><circle cx="246.6" cy="430.0" r="3.15"/><circle cx="237.0" cy="430.6" r="3.15"/><circle cx="232.4" cy="433.0" r="3.15"/><circle cx="223.6" cy="427.0" r="3.15"/><circle cx="224.0" cy="430.0" r="3.15"/><circle cx="225.0" cy="432.0" r="3.15"/><circle cx="227.6" cy="436.6" r="3.15"/><circle cx="213.4" cy="424.6" r="3.15"/><circle cx="215.0" cy="431.0" r="3.15"/><circle cx="218.4" cy="433.0" r="3.15"/><circle cx="221.4" cy="437.0" r="3.15"/><circle cx="219.4" cy="441.0" r="3.15"/><circle cx="214.0" cy="440.0" r="3.15"/><circle cx="209.6" cy="441.4" r="3.15"/><circle cx="212.0" cy="446.0" r="3.15"/><circle cx="211.0" cy="450.0" r="3.15"/><circle cx="226.0" cy="448.6" r="3.15"/><circle cx="232.4" cy="451.4" r="3.15"/><circle cx="230.6" cy="455.0" r="3.15"/><circle cx="242.0" cy="447.0" r="3.15"/><circle cx="244.4" cy="443.4" r="3.15"/><circle cx="217.6" cy="453.0" r="3.15"/><circle cx="220.0" cy="456.0" r="3.15"/><circle cx="222.4" cy="458.6" r="3.15"/><circle cx="227.0" cy="462.4" r="3.15"/><circle cx="186.0" cy="426.4" r="3.15"/><circle cx="184.0" cy="434.0" r="3.15"/><circle cx="184.4" cy="437.0" r="3.15"/><circle cx="181.0" cy="446.0" r="3.15"/><circle cx="185.0" cy="450.0" r="3.15"/><circle cx="185.0" cy="454.0" r="3.15"/><circle cx="189.6" cy="445.0" r="3.15"/><circle cx="192.0" cy="445.4" r="3.15"/><circle cx="199.0" cy="445.6" r="3.15"/><circle cx="195.0" cy="450.0" r="3.15"/><circle cx="197.0" cy="452.0" r="3.15"/><circle cx="199.0" cy="454.0" r="3.15"/><circle cx="201.0" cy="454.6" r="3.15"/><circle cx="204.0" cy="454.0" r="3.15"/><circle cx="206.0" cy="455.0" r="3.15"/><circle cx="208.0" cy="457.0" r="3.15"/><circle cx="210.4" cy="457.0" r="3.15"/><circle cx="193.0" cy="458.0" r="3.15"/><circle cx="195.0" cy="459.0" r="3.15"/><circle cx="190.0" cy="460.0" r="3.15"/><circle cx="187.0" cy="463.0" r="3.15"/><circle cx="188.0" cy="465.0" r="3.15"/><circle cx="189.6" cy="464.4" r="3.15"/><circle cx="192.4" cy="465.0" r="3.15"/><circle cx="194.0" cy="470.0" r="3.15"/><circle cx="191.0" cy="471.0" r="3.15"/><circle cx="185.0" cy="470.0" r="3.15"/><circle cx="186.0" cy="475.0" r="3.15"/><circle cx="195.0" cy="475.0" r="3.15"/><circle cx="189.6" cy="481.4" r="3.15"/><circle cx="181.0" cy="480.6" r="3.15"/><circle cx="180.0" cy="461.0" r="3.15"/><circle cx="200.0" cy="460.0" r="3.15"/><circle cx="203.0" cy="464.0" r="3.15"/><circle cx="206.0" cy="464.0" r="3.15"/><circle cx="209.0" cy="464.4" r="3.15"/><circle cx="210.0" cy="465.0" r="3.15"/><circle cx="180.0" cy="471.0" r="3.15"/>
</g>
<rect x="56.6" y="380.5" width="260" height="236.3" fill="none" stroke="#000" stroke-width="1.28"/>
<text x="65.8" y="640.4" font-family='"Liberation Serif", serif' font-size="16" text-anchor="middle">0.00</text>
<text x="127" y="640.4" font-family='"Liberation Serif", serif' font-size="16" text-anchor="middle">0.25</text>
<text x="188.3" y="640.4" font-family='"Liberation Serif", serif' font-size="16" text-anchor="middle">0.50</text>
<text x="249.6" y="640.4" font-family='"Liberation Serif", serif' font-size="16" text-anchor="middle">0.75</text>
<text x="310.8" y="640.4" font-family='"Liberation Serif", serif' font-size="16" text-anchor="middle">1.00</text>
<text x="44.3" y="416" font-family='"Liberation Serif", serif' font-size="16" text-anchor="end">2.0</text>
<text x="44.3" y="472.8" font-family='"Liberation Serif", serif' font-size="16" text-anchor="end">1.5</text>
<text x="44.3" y="529.7" font-family='"Liberation Serif", serif' font-size="16" text-anchor="end">1.0</text>
<text x="44.3" y="586.5" font-family='"Liberation Serif", serif' font-size="16" text-anchor="end">0.5</text>
<path d="M65.8 616.8v6.24M127 616.8v6.24M188.3 616.8v6.24M249.6 616.8v6.24M310.8 616.8v6.24M56.6 410.5h-6.24M56.6 467.3h-6.24M56.6 524.2h-6.24M56.6 581h-6.24" stroke="#000" stroke-width="1.28" fill="none"/>
<path d="M282.7 652.4L290.5 660.2M282.7 660.2L290.5 652.4" stroke="#000" stroke-width="1.05" fill="none"/>
<text x="293.8" y="660.8" font-family='"Liberation Serif", serif' font-size="16" text-anchor="start">10</text>
<text x="310" y="654.2" font-family='"Liberation Serif", serif' font-size="11.2" text-anchor="start">5</text>
<path d="M58.6 366.8L66.4 374.6M58.6 374.6L66.4 366.8" stroke="#000" stroke-width="1.05" fill="none"/>
<text x="69.7" y="375.2" font-family='"Liberation Serif", serif' font-size="16" text-anchor="start">10</text>
<text x="85.9" y="368.6" font-family='"Liberation Serif", serif' font-size="11.2" text-anchor="start">4</text>
<text x="104.2" y="370.7" font-family='"Liberation Serif", serif' font-size="19.2" text-anchor="start" font-style="italic">ρ</text>
<text x="113.4" y="373.7" font-family='"Liberation Serif", serif' font-size="13.4" text-anchor="start" font-style="italic">s</text>
<text x="126" y="370.7" font-family='"Liberation Serif", serif' font-size="19.2" text-anchor="start" textLength="15" lengthAdjust="spacingAndGlyphs">=</text>
<text x="146.8" y="370.7" font-family='"Liberation Serif", serif' font-size="19.2" text-anchor="start">0.94</text>
<text x="181.4" y="370.7" font-family='"Liberation Serif", serif' font-size="19.2" text-anchor="start">,</text>
<text x="190.9" y="370.7" font-family='"Liberation Serif", serif' font-size="19.2" text-anchor="start" font-style="italic">ρ</text>
<text x="200.2" y="373.7" font-family='"Liberation Serif", serif' font-size="13.4" text-anchor="start" font-style="italic">p</text>
<text x="214.5" y="370.7" font-family='"Liberation Serif", serif' font-size="19.2" text-anchor="start" textLength="15" lengthAdjust="spacingAndGlyphs">=</text>
<text x="235" y="370.7" font-family='"Liberation Serif", serif' font-size="19.2" text-anchor="start">0.89</text>
<text x="186.6" y="662.7" font-family='"Liberation Sans", sans-serif' font-size="15.3" text-anchor="middle" textLength="119" lengthAdjust="spacingAndGlyphs" class="sans"><tspan font-size="18.2" dy="0.7">(</tspan><tspan dy="-0.7">Pointcloud, CD</tspan><tspan font-size="18.2" dy="0.7">)</tspan></text>
<text x="186.6" y="681.3" font-family='"Liberation Sans", sans-serif' font-size="15.3" text-anchor="middle" class="sans"><tspan font-size="18.2" dy="0.7">(</tspan><tspan dy="-0.7">c</tspan><tspan font-size="18.2" dy="0.7">)</tspan></text>
<g transform="translate(13.4 498.65) rotate(-90)"><text x="0" y="0" font-family='"Liberation Sans", sans-serif' font-size="15.3" text-anchor="middle" textLength="130.7" lengthAdjust="spacingAndGlyphs" class="sans"><tspan font-size="18.2" dy="0.7">(</tspan><tspan dy="-0.7">Pointcloud, EMD</tspan><tspan font-size="18.2" dy="0.7">)</tspan></text></g>
</g>
<g id="plot-d">
<clipPath id="clip-d"><rect x="423" y="380.5" width="260" height="236.3"/></clipPath>
<g clip-path="url(#clip-d)" fill="#1f77b4" fill-opacity="0.5">
<circle cx="438.1" cy="583.2" r="3.15"/><circle cx="440.0" cy="555.5" r="3.15"/><circle cx="437.9" cy="572.9" r="3.15"/><circle cx="436.5" cy="583.0" r="3.15"/><circle cx="436.8" cy="564.9" r="3.15"/><circle cx="437.6" cy="568.6" r="3.15"/><circle cx="438.3" cy="559.3" r="3.15"/><circle cx="437.8" cy="595.2" r="3.15"/><circle cx="439.7" cy="565.4" r="3.15"/><circle cx="440.2" cy="570.8" r="3.15"/><circle cx="437.4" cy="599.9" r="3.15"/><circle cx="438.8" cy="557.9" r="3.15"/><circle cx="439.5" cy="559.3" r="3.15"/><circle cx="440.9" cy="565.0" r="3.15"/><circle cx="437.2" cy="596.5" r="3.15"/><circle cx="438.6" cy="555.5" r="3.15"/><circle cx="439.1" cy="567.2" r="3.15"/><circle cx="437.8" cy="586.5" r="3.15"/><circle cx="437.9" cy="570.7" r="3.15"/><circle cx="438.6" cy="556.8" r="3.15"/><circle cx="438.8" cy="559.0" r="3.15"/><circle cx="439.4" cy="568.3" r="3.15"/><circle cx="437.3" cy="581.8" r="3.15"/><circle cx="436.8" cy="582.4" r="3.15"/><circle cx="438.2" cy="601.9" r="3.15"/><circle cx="439.9" cy="565.2" r="3.15"/><circle cx="438.1" cy="580.9" r="3.15"/><circle cx="437.5" cy="557.2" r="3.15"/><circle cx="438.3" cy="568.9" r="3.15"/><circle cx="438.0" cy="599.6" r="3.15"/><circle cx="439.0" cy="601.0" r="3.15"/><circle cx="436.8" cy="563.8" r="3.15"/><circle cx="437.1" cy="597.3" r="3.15"/><circle cx="438.6" cy="556.7" r="3.15"/><circle cx="438.6" cy="568.9" r="3.15"/><circle cx="436.3" cy="581.2" r="3.15"/><circle cx="440.0" cy="558.9" r="3.15"/><circle cx="437.9" cy="580.2" r="3.15"/><circle cx="438.2" cy="564.8" r="3.15"/><circle cx="437.0" cy="579.5" r="3.15"/><circle cx="439.2" cy="552.7" r="3.15"/><circle cx="439.6" cy="567.4" r="3.15"/><circle cx="438.7" cy="588.6" r="3.15"/><circle cx="438.5" cy="554.9" r="3.15"/><circle cx="439.7" cy="583.3" r="3.15"/><circle cx="437.4" cy="564.9" r="3.15"/><circle cx="437.8" cy="591.9" r="3.15"/><circle cx="437.9" cy="593.6" r="3.15"/><circle cx="439.5" cy="568.4" r="3.15"/><circle cx="438.8" cy="573.5" r="3.15"/><circle cx="437.1" cy="594.9" r="3.15"/><circle cx="439.5" cy="567.9" r="3.15"/><circle cx="439.2" cy="596.9" r="3.15"/><circle cx="438.7" cy="565.9" r="3.15"/><circle cx="438.5" cy="574.3" r="3.15"/><circle cx="439.3" cy="556.5" r="3.15"/><circle cx="438.2" cy="572.3" r="3.15"/><circle cx="438.3" cy="554.0" r="3.15"/><circle cx="437.4" cy="569.2" r="3.15"/><circle cx="437.3" cy="593.8" r="3.15"/><circle cx="435.1" cy="599.2" r="3.15"/><circle cx="437.3" cy="576.4" r="3.15"/><circle cx="438.0" cy="567.5" r="3.15"/><circle cx="440.2" cy="555.1" r="3.15"/><circle cx="436.9" cy="595.1" r="3.15"/><circle cx="437.2" cy="558.5" r="3.15"/><circle cx="437.5" cy="557.7" r="3.15"/><circle cx="436.9" cy="588.4" r="3.15"/><circle cx="438.4" cy="561.5" r="3.15"/><circle cx="438.8" cy="567.0" r="3.15"/><circle cx="440.0" cy="572.2" r="3.15"/><circle cx="438.3" cy="590.9" r="3.15"/><circle cx="438.7" cy="599.3" r="3.15"/><circle cx="440.5" cy="577.3" r="3.15"/><circle cx="436.4" cy="600.1" r="3.15"/><circle cx="438.6" cy="560.0" r="3.15"/><circle cx="435.3" cy="601.5" r="3.15"/><circle cx="439.7" cy="563.5" r="3.15"/><circle cx="440.1" cy="586.3" r="3.15"/><circle cx="439.2" cy="584.0" r="3.15"/><circle cx="440.0" cy="591.6" r="3.15"/><circle cx="438.4" cy="557.6" r="3.15"/><circle cx="438.6" cy="568.9" r="3.15"/><circle cx="440.8" cy="575.5" r="3.15"/><circle cx="438.2" cy="588.9" r="3.15"/><circle cx="437.5" cy="601.8" r="3.15"/><circle cx="436.0" cy="582.9" r="3.15"/><circle cx="435.9" cy="593.2" r="3.15"/><circle cx="438.4" cy="567.1" r="3.15"/><circle cx="436.4" cy="577.5" r="3.15"/><circle cx="436.8" cy="593.1" r="3.15"/><circle cx="435.4" cy="593.5" r="3.15"/><circle cx="439.2" cy="561.3" r="3.15"/><circle cx="437.2" cy="558.5" r="3.15"/><circle cx="438.2" cy="597.5" r="3.15"/><circle cx="440.3" cy="582.9" r="3.15"/><circle cx="440.4" cy="551.1" r="3.15"/><circle cx="438.7" cy="568.2" r="3.15"/><circle cx="437.7" cy="561.6" r="3.15"/><circle cx="436.6" cy="598.5" r="3.15"/><circle cx="440.0" cy="558.1" r="3.15"/><circle cx="437.9" cy="594.0" r="3.15"/><circle cx="439.5" cy="559.2" r="3.15"/><circle cx="438.8" cy="586.6" r="3.15"/><circle cx="438.4" cy="559.5" r="3.15"/><circle cx="440.5" cy="593.0" r="3.15"/><circle cx="437.1" cy="557.2" r="3.15"/><circle cx="441.0" cy="567.1" r="3.15"/><circle cx="437.6" cy="552.8" r="3.15"/><circle cx="439.1" cy="588.7" r="3.15"/><circle cx="436.1" cy="584.9" r="3.15"/><circle cx="438.8" cy="594.3" r="3.15"/><circle cx="437.5" cy="575.4" r="3.15"/><circle cx="438.2" cy="556.9" r="3.15"/><circle cx="438.8" cy="567.3" r="3.15"/><circle cx="438.1" cy="575.3" r="3.15"/><circle cx="441.2" cy="556.1" r="3.15"/><circle cx="438.6" cy="590.2" r="3.15"/><circle cx="436.3" cy="575.7" r="3.15"/><circle cx="437.1" cy="592.9" r="3.15"/><circle cx="436.8" cy="589.9" r="3.15"/><circle cx="439.0" cy="558.6" r="3.15"/><circle cx="439.6" cy="559.1" r="3.15"/><circle cx="438.9" cy="551.2" r="3.15"/><circle cx="439.6" cy="574.7" r="3.15"/><circle cx="440.7" cy="563.9" r="3.15"/><circle cx="437.9" cy="590.9" r="3.15"/><circle cx="436.6" cy="554.6" r="3.15"/><circle cx="439.8" cy="579.7" r="3.15"/><circle cx="439.5" cy="569.0" r="3.15"/><circle cx="438.1" cy="587.6" r="3.15"/><circle cx="438.6" cy="583.8" r="3.15"/><circle cx="438.6" cy="598.5" r="3.15"/><circle cx="440.9" cy="573.7" r="3.15"/><circle cx="438.0" cy="570.6" r="3.15"/><circle cx="439.1" cy="551.9" r="3.15"/><circle cx="436.4" cy="579.1" r="3.15"/><circle cx="439.5" cy="598.8" r="3.15"/><circle cx="437.3" cy="561.1" r="3.15"/><circle cx="440.0" cy="567.2" r="3.15"/><circle cx="436.3" cy="552.3" r="3.15"/><circle cx="439.2" cy="563.0" r="3.15"/><circle cx="437.1" cy="573.4" r="3.15"/><circle cx="438.2" cy="589.0" r="3.15"/><circle cx="435.9" cy="601.2" r="3.15"/><circle cx="436.2" cy="598.5" r="3.15"/><circle cx="441.4" cy="555.1" r="3.15"/><circle cx="436.9" cy="575.0" r="3.15"/><circle cx="436.8" cy="582.9" r="3.15"/><circle cx="439.5" cy="553.3" r="3.15"/><circle cx="440.5" cy="555.2" r="3.15"/><circle cx="437.4" cy="576.4" r="3.15"/><circle cx="438.5" cy="567.3" r="3.15"/><circle cx="440.2" cy="551.8" r="3.15"/><circle cx="437.6" cy="589.0" r="3.15"/><circle cx="438.9" cy="598.5" r="3.15"/><circle cx="439.7" cy="575.8" r="3.15"/><circle cx="439.4" cy="598.8" r="3.15"/><circle cx="438.7" cy="561.3" r="3.15"/><circle cx="441.2" cy="561.5" r="3.15"/><circle cx="434.0" cy="602.4" r="3.15"/><circle cx="435.0" cy="606.4" r="3.15"/><circle cx="439.0" cy="606.4" r="3.15"/><circle cx="443.0" cy="602.0" r="3.15"/><circle cx="453.4" cy="563.6" r="3.15"/><circle cx="445.0" cy="591.0" r="3.15"/><circle cx="444.4" cy="574.4" r="3.15"/><circle cx="437.0" cy="605.0" r="3.15"/><circle cx="451.5" cy="440.4" r="3.15"/><circle cx="466.1" cy="421.8" r="3.15"/><circle cx="464.8" cy="436.6" r="3.15"/><circle cx="458.2" cy="442.3" r="3.15"/><circle cx="458.1" cy="433.9" r="3.15"/><circle cx="475.3" cy="412.5" r="3.15"/><circle cx="455.8" cy="441.9" r="3.15"/><circle cx="457.6" cy="483.8" r="3.15"/><circle cx="465.5" cy="466.6" r="3.15"/><circle cx="471.4" cy="452.5" r="3.15"/><circle cx="464.5" cy="419.8" r="3.15"/><circle cx="483.0" cy="400.8" r="3.15"/><circle cx="462.0" cy="421.4" r="3.15"/><circle cx="460.6" cy="474.5" r="3.15"/><circle cx="455.8" cy="434.9" r="3.15"/><circle cx="461.7" cy="474.5" r="3.15"/><circle cx="456.3" cy="479.9" r="3.15"/><circle cx="451.5" cy="460.5" r="3.15"/><circle cx="457.3" cy="474.4" r="3.15"/><circle cx="463.2" cy="447.9" r="3.15"/><circle cx="463.1" cy="437.1" r="3.15"/><circle cx="462.1" cy="439.4" r="3.15"/><circle cx="475.5" cy="420.6" r="3.15"/><circle cx="463.7" cy="467.6" r="3.15"/><circle cx="445.9" cy="459.5" r="3.15"/><circle cx="458.8" cy="440.8" r="3.15"/><circle cx="446.7" cy="450.6" r="3.15"/><circle cx="460.4" cy="472.1" r="3.15"/><circle cx="472.9" cy="440.4" r="3.15"/><circle cx="460.1" cy="447.3" r="3.15"/><circle cx="448.1" cy="455.6" r="3.15"/><circle cx="449.3" cy="459.4" r="3.15"/><circle cx="469.0" cy="460.8" r="3.15"/><circle cx="451.4" cy="463.3" r="3.15"/><circle cx="475.3" cy="413.3" r="3.15"/><circle cx="475.7" cy="415.1" r="3.15"/><circle cx="484.1" cy="402.1" r="3.15"/><circle cx="479.6" cy="430.7" r="3.15"/><circle cx="477.5" cy="410.4" r="3.15"/><circle cx="453.5" cy="439.2" r="3.15"/><circle cx="463.4" cy="452.8" r="3.15"/><circle cx="472.6" cy="423.0" r="3.15"/><circle cx="470.1" cy="439.9" r="3.15"/><circle cx="475.0" cy="415.9" r="3.15"/><circle cx="462.2" cy="457.1" r="3.15"/><circle cx="471.7" cy="418.5" r="3.15"/><circle cx="455.6" cy="446.2" r="3.15"/><circle cx="478.2" cy="402.0" r="3.15"/><circle cx="456.3" cy="468.9" r="3.15"/><circle cx="465.1" cy="460.2" r="3.15"/><circle cx="454.5" cy="461.2" r="3.15"/><circle cx="474.1" cy="428.3" r="3.15"/><circle cx="473.6" cy="429.3" r="3.15"/><circle cx="453.7" cy="471.9" r="3.15"/><circle cx="459.9" cy="467.2" r="3.15"/><circle cx="452.7" cy="488.0" r="3.15"/><circle cx="468.7" cy="425.4" r="3.15"/><circle cx="455.3" cy="482.4" r="3.15"/><circle cx="465.5" cy="462.9" r="3.15"/><circle cx="470.0" cy="436.6" r="3.15"/><circle cx="472.2" cy="449.1" r="3.15"/><circle cx="460.3" cy="448.4" r="3.15"/><circle cx="448.1" cy="457.1" r="3.15"/><circle cx="471.1" cy="441.8" r="3.15"/><circle cx="448.3" cy="451.1" r="3.15"/><circle cx="466.4" cy="412.2" r="3.15"/><circle cx="472.7" cy="451.2" r="3.15"/><circle cx="454.2" cy="435.0" r="3.15"/><circle cx="480.6" cy="418.1" r="3.15"/><circle cx="462.9" cy="451.8" r="3.15"/><circle cx="480.2" cy="415.6" r="3.15"/><circle cx="472.2" cy="434.5" r="3.15"/><circle cx="461.2" cy="426.1" r="3.15"/><circle cx="461.5" cy="466.3" r="3.15"/><circle cx="458.3" cy="461.9" r="3.15"/><circle cx="464.8" cy="419.4" r="3.15"/><circle cx="476.8" cy="414.9" r="3.15"/><circle cx="449.3" cy="464.7" r="3.15"/><circle cx="472.7" cy="407.6" r="3.15"/><circle cx="457.6" cy="446.9" r="3.15"/><circle cx="460.7" cy="420.6" r="3.15"/><circle cx="450.5" cy="459.0" r="3.15"/><circle cx="454.7" cy="477.3" r="3.15"/><circle cx="456.6" cy="436.1" r="3.15"/><circle cx="461.6" cy="436.1" r="3.15"/><circle cx="455.6" cy="485.9" r="3.15"/><circle cx="477.6" cy="417.3" r="3.15"/><circle cx="452.5" cy="434.3" r="3.15"/><circle cx="476.2" cy="415.1" r="3.15"/><circle cx="482.2" cy="414.9" r="3.15"/><circle cx="452.6" cy="440.6" r="3.15"/><circle cx="475.0" cy="401.9" r="3.15"/><circle cx="455.8" cy="482.3" r="3.15"/><circle cx="464.0" cy="454.1" r="3.15"/><circle cx="449.0" cy="477.9" r="3.15"/><circle cx="455.2" cy="474.4" r="3.15"/><circle cx="464.3" cy="453.2" r="3.15"/><circle cx="465.0" cy="440.5" r="3.15"/><circle cx="479.1" cy="406.1" r="3.15"/><circle cx="461.9" cy="418.9" r="3.15"/><circle cx="461.4" cy="417.9" r="3.15"/><circle cx="448.8" cy="480.3" r="3.15"/><circle cx="451.2" cy="456.6" r="3.15"/><circle cx="468.1" cy="429.3" r="3.15"/><circle cx="448.1" cy="469.9" r="3.15"/><circle cx="456.7" cy="446.5" r="3.15"/><circle cx="459.3" cy="466.2" r="3.15"/><circle cx="463.6" cy="442.6" r="3.15"/><circle cx="459.4" cy="421.7" r="3.15"/><circle cx="473.4" cy="431.0" r="3.15"/><circle cx="462.0" cy="450.0" r="3.15"/><circle cx="455.0" cy="434.0" r="3.15"/><circle cx="446.5" cy="478.0" r="3.15"/><circle cx="447.4" cy="458.4" r="3.15"/><circle cx="453.2" cy="472.0" r="3.15"/><circle cx="462.0" cy="457.6" r="3.15"/><circle cx="476.0" cy="444.5" r="3.15"/><circle cx="456.5" cy="441.1" r="3.15"/><circle cx="455.9" cy="461.5" r="3.15"/><circle cx="477.7" cy="404.3" r="3.15"/><circle cx="474.5" cy="441.9" r="3.15"/><circle cx="460.5" cy="433.4" r="3.15"/><circle cx="452.2" cy="461.1" r="3.15"/><circle cx="448.6" cy="449.5" r="3.15"/><circle cx="455.6" cy="428.3" r="3.15"/><circle cx="469.4" cy="429.6" r="3.15"/><circle cx="453.3" cy="454.3" r="3.15"/><circle cx="461.0" cy="447.8" r="3.15"/><circle cx="472.6" cy="412.4" r="3.15"/><circle cx="470.8" cy="406.9" r="3.15"/><circle cx="467.7" cy="446.7" r="3.15"/><circle cx="462.7" cy="472.0" r="3.15"/><circle cx="472.6" cy="419.1" r="3.15"/><circle cx="464.1" cy="436.6" r="3.15"/><circle cx="453.0" cy="454.7" r="3.15"/><circle cx="464.3" cy="440.6" r="3.15"/><circle cx="466.0" cy="413.8" r="3.15"/><circle cx="451.1" cy="483.2" r="3.15"/><circle cx="463.0" cy="443.2" r="3.15"/><circle cx="452.9" cy="455.9" r="3.15"/><circle cx="459.5" cy="450.3" r="3.15"/><circle cx="479.8" cy="407.4" r="3.15"/><circle cx="469.1" cy="423.8" r="3.15"/><circle cx="457.9" cy="445.4" r="3.15"/><circle cx="465.3" cy="451.4" r="3.15"/><circle cx="484.3" cy="402.5" r="3.15"/><circle cx="471.2" cy="418.2" r="3.15"/><circle cx="472.7" cy="429.2" r="3.15"/><circle cx="458.6" cy="475.5" r="3.15"/><circle cx="473.7" cy="401.3" r="3.15"/><circle cx="456.1" cy="434.1" r="3.15"/><circle cx="452.3" cy="437.6" r="3.15"/><circle cx="461.3" cy="442.2" r="3.15"/><circle cx="445.7" cy="469.0" r="3.15"/><circle cx="461.4" cy="472.3" r="3.15"/><circle cx="446.9" cy="467.0" r="3.15"/><circle cx="456.1" cy="435.5" r="3.15"/><circle cx="468.5" cy="428.6" r="3.15"/><circle cx="457.3" cy="473.3" r="3.15"/><circle cx="470.3" cy="447.1" r="3.15"/><circle cx="456.4" cy="433.1" r="3.15"/><circle cx="454.8" cy="450.3" r="3.15"/><circle cx="476.5" cy="404.2" r="3.15"/><circle cx="453.2" cy="467.9" r="3.15"/><circle cx="461.7" cy="456.1" r="3.15"/><circle cx="463.0" cy="469.3" r="3.15"/><circle cx="468.3" cy="412.6" r="3.15"/><circle cx="467.8" cy="409.6" r="3.15"/><circle cx="453.6" cy="453.8" r="3.15"/><circle cx="474.3" cy="412.3" r="3.15"/><circle cx="469.7" cy="433.2" r="3.15"/><circle cx="463.3" cy="418.5" r="3.15"/><circle cx="462.8" cy="431.7" r="3.15"/><circle cx="454.1" cy="444.6" r="3.15"/><circle cx="456.3" cy="438.6" r="3.15"/><circle cx="479.0" cy="405.0" r="3.15"/><circle cx="475.9" cy="434.2" r="3.15"/><circle cx="456.3" cy="447.3" r="3.15"/><circle cx="446.7" cy="464.5" r="3.15"/><circle cx="463.9" cy="452.0" r="3.15"/><circle cx="478.4" cy="426.1" r="3.15"/><circle cx="474.3" cy="427.3" r="3.15"/><circle cx="454.8" cy="429.6" r="3.15"/><circle cx="456.0" cy="466.7" r="3.15"/><circle cx="462.3" cy="460.0" r="3.15"/><circle cx="465.8" cy="454.6" r="3.15"/><circle cx="454.8" cy="477.2" r="3.15"/><circle cx="458.1" cy="439.8" r="3.15"/><circle cx="448.8" cy="445.9" r="3.15"/><circle cx="452.3" cy="484.8" r="3.15"/><circle cx="462.2" cy="420.1" r="3.15"/><circle cx="471.2" cy="411.7" r="3.15"/><circle cx="465.4" cy="439.7" r="3.15"/><circle cx="468.5" cy="459.4" r="3.15"/><circle cx="450.8" cy="468.7" r="3.15"/><circle cx="458.7" cy="467.9" r="3.15"/><circle cx="479.6" cy="431.2" r="3.15"/><circle cx="450.1" cy="458.0" r="3.15"/><circle cx="458.9" cy="453.5" r="3.15"/><circle cx="462.4" cy="417.2" r="3.15"/><circle cx="451.4" cy="440.5" r="3.15"/><circle cx="464.2" cy="441.7" r="3.15"/><circle cx="469.2" cy="427.4" r="3.15"/><circle cx="460.5" cy="436.5" r="3.15"/><circle cx="473.1" cy="422.4" r="3.15"/><circle cx="465.3" cy="467.4" r="3.15"/><circle cx="456.9" cy="449.7" r="3.15"/><circle cx="480.0" cy="408.0" r="3.15"/><circle cx="477.9" cy="430.0" r="3.15"/><circle cx="472.2" cy="410.2" r="3.15"/><circle cx="467.9" cy="442.4" r="3.15"/><circle cx="456.8" cy="432.4" r="3.15"/><circle cx="459.2" cy="425.3" r="3.15"/><circle cx="480.1" cy="426.4" r="3.15"/><circle cx="457.0" cy="435.9" r="3.15"/><circle cx="460.5" cy="440.1" r="3.15"/><circle cx="449.9" cy="442.9" r="3.15"/><circle cx="462.4" cy="459.1" r="3.15"/><circle cx="479.7" cy="416.5" r="3.15"/><circle cx="467.9" cy="424.2" r="3.15"/><circle cx="469.8" cy="418.5" r="3.15"/><circle cx="476.5" cy="425.2" r="3.15"/><circle cx="476.5" cy="432.7" r="3.15"/><circle cx="456.4" cy="457.3" r="3.15"/><circle cx="451.9" cy="487.7" r="3.15"/><circle cx="469.1" cy="457.9" r="3.15"/><circle cx="469.0" cy="445.7" r="3.15"/><circle cx="470.4" cy="423.0" r="3.15"/><circle cx="466.6" cy="449.9" r="3.15"/><circle cx="479.5" cy="413.5" r="3.15"/><circle cx="463.7" cy="456.3" r="3.15"/><circle cx="459.8" cy="464.4" r="3.15"/><circle cx="469.0" cy="408.7" r="3.15"/><circle cx="467.1" cy="422.3" r="3.15"/><circle cx="458.3" cy="447.7" r="3.15"/><circle cx="451.3" cy="456.0" r="3.15"/><circle cx="455.0" cy="473.4" r="3.15"/><circle cx="453.7" cy="461.3" r="3.15"/><circle cx="473.7" cy="438.4" r="3.15"/><circle cx="460.7" cy="430.8" r="3.15"/><circle cx="451.6" cy="485.7" r="3.15"/><circle cx="469.6" cy="444.3" r="3.15"/><circle cx="472.6" cy="449.0" r="3.15"/><circle cx="457.2" cy="459.2" r="3.15"/><circle cx="470.9" cy="425.5" r="3.15"/><circle cx="447.2" cy="475.8" r="3.15"/><circle cx="471.8" cy="413.8" r="3.15"/><circle cx="459.6" cy="442.1" r="3.15"/><circle cx="453.7" cy="455.8" r="3.15"/><circle cx="470.1" cy="410.6" r="3.15"/><circle cx="477.4" cy="413.7" r="3.15"/><circle cx="467.7" cy="441.4" r="3.15"/><circle cx="474.0" cy="413.6" r="3.15"/><circle cx="454.0" cy="476.1" r="3.15"/><circle cx="461.6" cy="461.1" r="3.15"/><circle cx="447.8" cy="479.3" r="3.15"/><circle cx="474.7" cy="434.5" r="3.15"/><circle cx="459.9" cy="430.6" r="3.15"/><circle cx="477.3" cy="423.3" r="3.15"/><circle cx="461.1" cy="453.6" r="3.15"/><circle cx="464.9" cy="444.2" r="3.15"/><circle cx="449.8" cy="457.2" r="3.15"/><circle cx="455.2" cy="485.7" r="3.15"/><circle cx="452.6" cy="487.1" r="3.15"/><circle cx="460.6" cy="432.3" r="3.15"/><circle cx="452.8" cy="451.6" r="3.15"/><circle cx="466.5" cy="458.5" r="3.15"/><circle cx="466.7" cy="415.8" r="3.15"/><circle cx="444.5" cy="463.6" r="3.15"/><circle cx="467.0" cy="425.4" r="3.15"/><circle cx="467.2" cy="423.3" r="3.15"/><circle cx="474.0" cy="417.2" r="3.15"/><circle cx="474.8" cy="425.8" r="3.15"/><circle cx="462.6" cy="459.0" r="3.15"/><circle cx="457.9" cy="435.2" r="3.15"/><circle cx="467.7" cy="420.7" r="3.15"/><circle cx="469.4" cy="429.8" r="3.15"/><circle cx="466.0" cy="429.0" r="3.15"/><circle cx="471.6" cy="424.8" r="3.15"/><circle cx="459.5" cy="426.2" r="3.15"/><circle cx="468.3" cy="415.5" r="3.15"/><circle cx="467.9" cy="463.9" r="3.15"/><circle cx="453.4" cy="451.5" r="3.15"/><circle cx="481.9" cy="408.0" r="3.15"/><circle cx="448.3" cy="481.6" r="3.15"/><circle cx="463.1" cy="447.4" r="3.15"/><circle cx="455.5" cy="468.2" r="3.15"/><circle cx="476.5" cy="425.5" r="3.15"/><circle cx="476.5" cy="424.4" r="3.15"/><circle cx="469.0" cy="445.7" r="3.15"/><circle cx="476.4" cy="431.6" r="3.15"/><circle cx="466.4" cy="460.0" r="3.15"/><circle cx="477.0" cy="436.7" r="3.15"/><circle cx="464.8" cy="421.1" r="3.15"/><circle cx="465.7" cy="441.7" r="3.15"/><circle cx="481.0" cy="415.1" r="3.15"/><circle cx="470.3" cy="414.0" r="3.15"/><circle cx="474.8" cy="406.6" r="3.15"/><circle cx="456.9" cy="456.1" r="3.15"/><circle cx="453.8" cy="473.3" r="3.15"/><circle cx="450.3" cy="461.0" r="3.15"/><circle cx="457.0" cy="444.3" r="3.15"/><circle cx="454.6" cy="458.9" r="3.15"/><circle cx="455.2" cy="471.2" r="3.15"/><circle cx="470.6" cy="417.3" r="3.15"/><circle cx="449.1" cy="452.6" r="3.15"/><circle cx="453.5" cy="477.6" r="3.15"/><circle cx="469.7" cy="446.4" r="3.15"/><circle cx="459.5" cy="442.5" r="3.15"/><circle cx="455.0" cy="463.7" r="3.15"/><circle cx="459.9" cy="436.3" r="3.15"/><circle cx="466.2" cy="450.1" r="3.15"/><circle cx="482.3" cy="430.0" r="3.15"/><circle cx="466.3" cy="445.4" r="3.15"/><circle cx="457.3" cy="439.5" r="3.15"/><circle cx="467.4" cy="439.8" r="3.15"/><circle cx="464.9" cy="433.4" r="3.15"/><circle cx="465.0" cy="415.8" r="3.15"/><circle cx="453.0" cy="465.7" r="3.15"/><circle cx="459.6" cy="450.1" r="3.15"/><circle cx="472.2" cy="437.7" r="3.15"/><circle cx="457.2" cy="436.1" r="3.15"/><circle cx="460.5" cy="436.5" r="3.15"/><circle cx="472.4" cy="456.5" r="3.15"/><circle cx="457.5" cy="455.1" r="3.15"/><circle cx="453.4" cy="449.5" r="3.15"/><circle cx="458.4" cy="446.2" r="3.15"/><circle cx="458.5" cy="475.3" r="3.15"/><circle cx="447.7" cy="460.8" r="3.15"/><circle cx="460.0" cy="458.1" r="3.15"/><circle cx="449.7" cy="450.8" r="3.15"/><circle cx="462.4" cy="447.1" r="3.15"/><circle cx="459.6" cy="470.1" r="3.15"/><circle cx="476.3" cy="429.5" r="3.15"/><circle cx="460.1" cy="445.8" r="3.15"/><circle cx="461.6" cy="454.2" r="3.15"/><circle cx="462.8" cy="458.2" r="3.15"/><circle cx="478.5" cy="420.1" r="3.15"/><circle cx="465.3" cy="447.8" r="3.15"/><circle cx="467.5" cy="436.0" r="3.15"/><circle cx="466.5" cy="445.6" r="3.15"/><circle cx="459.9" cy="434.1" r="3.15"/><circle cx="457.8" cy="460.8" r="3.15"/><circle cx="448.3" cy="475.3" r="3.15"/><circle cx="455.6" cy="454.1" r="3.15"/><circle cx="457.5" cy="449.4" r="3.15"/><circle cx="456.0" cy="463.1" r="3.15"/><circle cx="472.4" cy="434.0" r="3.15"/><circle cx="468.1" cy="448.5" r="3.15"/><circle cx="463.3" cy="432.4" r="3.15"/><circle cx="454.4" cy="451.0" r="3.15"/><circle cx="456.4" cy="444.0" r="3.15"/><circle cx="474.0" cy="442.8" r="3.15"/><circle cx="455.1" cy="460.2" r="3.15"/><circle cx="452.2" cy="460.7" r="3.15"/><circle cx="456.5" cy="450.8" r="3.15"/><circle cx="467.1" cy="455.2" r="3.15"/><circle cx="456.2" cy="459.2" r="3.15"/><circle cx="456.2" cy="462.9" r="3.15"/><circle cx="463.5" cy="433.7" r="3.15"/><circle cx="455.4" cy="440.9" r="3.15"/><circle cx="445.6" cy="480.3" r="3.15"/><circle cx="451.9" cy="456.2" r="3.15"/><circle cx="457.1" cy="462.7" r="3.15"/><circle cx="451.0" cy="467.0" r="3.15"/><circle cx="448.6" cy="447.9" r="3.15"/><circle cx="460.7" cy="448.1" r="3.15"/><circle cx="469.3" cy="424.3" r="3.15"/><circle cx="471.3" cy="417.3" r="3.15"/><circle cx="449.6" cy="472.4" r="3.15"/><circle cx="464.6" cy="438.8" r="3.15"/><circle cx="454.5" cy="459.0" r="3.15"/><circle cx="447.2" cy="461.2" r="3.15"/><circle cx="463.8" cy="458.1" r="3.15"/><circle cx="457.3" cy="437.6" r="3.15"/><circle cx="442.1" cy="480.4" r="3.15"/><circle cx="451.4" cy="452.8" r="3.15"/><circle cx="462.6" cy="464.3" r="3.15"/><circle cx="458.3" cy="465.4" r="3.15"/><circle cx="472.9" cy="430.7" r="3.15"/><circle cx="467.8" cy="439.2" r="3.15"/><circle cx="462.4" cy="446.3" r="3.15"/><circle cx="451.3" cy="448.1" r="3.15"/><circle cx="468.7" cy="434.2" r="3.15"/><circle cx="459.6" cy="433.2" r="3.15"/><circle cx="462.2" cy="448.8" r="3.15"/><circle cx="452.6" cy="451.8" r="3.15"/><circle cx="448.5" cy="469.8" r="3.15"/><circle cx="462.0" cy="449.3" r="3.15"/><circle cx="454.7" cy="437.1" r="3.15"/><circle cx="460.1" cy="435.3" r="3.15"/><circle cx="452.7" cy="448.3" r="3.15"/><circle cx="468.5" cy="439.0" r="3.15"/><circle cx="460.4" cy="459.0" r="3.15"/><circle cx="460.9" cy="464.8" r="3.15"/><circle cx="468.9" cy="440.1" r="3.15"/><circle cx="470.8" cy="451.5" r="3.15"/><circle cx="459.7" cy="445.8" r="3.15"/><circle cx="460.9" cy="428.7" r="3.15"/><circle cx="468.9" cy="434.9" r="3.15"/><circle cx="454.8" cy="457.4" r="3.15"/><circle cx="450.8" cy="482.6" r="3.15"/><circle cx="452.9" cy="453.9" r="3.15"/><circle cx="469.0" cy="430.3" r="3.15"/><circle cx="471.5" cy="427.4" r="3.15"/><circle cx="464.0" cy="451.5" r="3.15"/><circle cx="464.4" cy="432.1" r="3.15"/><circle cx="468.8" cy="433.6" r="3.15"/><circle cx="460.6" cy="449.3" r="3.15"/><circle cx="467.2" cy="459.4" r="3.15"/><circle cx="448.3" cy="469.7" r="3.15"/><circle cx="463.7" cy="450.1" r="3.15"/><circle cx="466.7" cy="436.0" r="3.15"/><circle cx="460.3" cy="429.6" r="3.15"/><circle cx="454.1" cy="457.5" r="3.15"/><circle cx="450.1" cy="463.6" r="3.15"/><circle cx="456.8" cy="463.7" r="3.15"/><circle cx="468.6" cy="450.9" r="3.15"/><circle cx="454.7" cy="459.9" r="3.15"/><circle cx="476.8" cy="424.9" r="3.15"/><circle cx="456.8" cy="470.9" r="3.15"/><circle cx="472.9" cy="415.7" r="3.15"/><circle cx="468.4" cy="444.3" r="3.15"/><circle cx="467.0" cy="417.4" r="3.15"/><circle cx="467.8" cy="448.7" r="3.15"/><circle cx="461.6" cy="422.2" r="3.15"/><circle cx="448.9" cy="447.2" r="3.15"/><circle cx="482.8" cy="419.2" r="3.15"/><circle cx="455.1" cy="455.7" r="3.15"/><circle cx="466.3" cy="424.4" r="3.15"/><circle cx="465.6" cy="444.5" r="3.15"/><circle cx="468.8" cy="457.6" r="3.15"/><circle cx="459.9" cy="436.6" r="3.15"/><circle cx="460.5" cy="440.4" r="3.15"/><circle cx="464.9" cy="445.7" r="3.15"/><circle cx="465.1" cy="437.8" r="3.15"/><circle cx="464.3" cy="453.7" r="3.15"/><circle cx="448.0" cy="442.9" r="3.15"/><circle cx="461.6" cy="451.2" r="3.15"/><circle cx="442.4" cy="483.6" r="3.15"/><circle cx="457.2" cy="457.0" r="3.15"/><circle cx="450.1" cy="462.3" r="3.15"/><circle cx="462.9" cy="424.8" r="3.15"/><circle cx="445.3" cy="482.4" r="3.15"/><circle cx="456.5" cy="448.9" r="3.15"/><circle cx="459.1" cy="452.8" r="3.15"/><circle cx="464.8" cy="429.1" r="3.15"/><circle cx="461.5" cy="448.3" r="3.15"/><circle cx="471.7" cy="424.6" r="3.15"/><circle cx="459.5" cy="429.7" r="3.15"/><circle cx="473.4" cy="431.1" r="3.15"/><circle cx="459.0" cy="453.0" r="3.15"/><circle cx="446.4" cy="463.5" r="3.15"/><circle cx="464.8" cy="458.0" r="3.15"/><circle cx="472.3" cy="424.1" r="3.15"/><circle cx="464.6" cy="445.1" r="3.15"/><circle cx="461.8" cy="431.4" r="3.15"/><circle cx="458.7" cy="465.9" r="3.15"/><circle cx="459.2" cy="456.1" r="3.15"/><circle cx="469.1" cy="413.6" r="3.15"/><circle cx="481.1" cy="415.7" r="3.15"/><circle cx="469.3" cy="450.6" r="3.15"/><circle cx="456.4" cy="443.6" r="3.15"/><circle cx="460.5" cy="458.2" r="3.15"/><circle cx="460.2" cy="444.3" r="3.15"/><circle cx="475.5" cy="431.5" r="3.15"/><circle cx="449.8" cy="447.6" r="3.15"/><circle cx="459.7" cy="458.6" r="3.15"/><circle cx="446.2" cy="474.6" r="3.15"/><circle cx="471.3" cy="433.7" r="3.15"/><circle cx="459.9" cy="444.5" r="3.15"/><circle cx="452.6" cy="462.8" r="3.15"/><circle cx="464.9" cy="440.5" r="3.15"/><circle cx="466.8" cy="433.0" r="3.15"/><circle cx="454.9" cy="451.1" r="3.15"/><circle cx="448.3" cy="463.3" r="3.15"/><circle cx="456.0" cy="466.6" r="3.15"/><circle cx="453.5" cy="485.5" r="3.15"/><circle cx="453.4" cy="463.5" r="3.15"/><circle cx="462.9" cy="440.8" r="3.15"/><circle cx="463.6" cy="446.6" r="3.15"/><circle cx="462.9" cy="451.6" r="3.15"/><circle cx="461.1" cy="449.2" r="3.15"/><circle cx="459.8" cy="446.7" r="3.15"/><circle cx="461.6" cy="456.6" r="3.15"/><circle cx="469.6" cy="428.5" r="3.15"/><circle cx="454.8" cy="450.0" r="3.15"/><circle cx="460.0" cy="431.9" r="3.15"/><circle cx="466.1" cy="433.9" r="3.15"/><circle cx="459.7" cy="448.4" r="3.15"/><circle cx="467.4" cy="421.1" r="3.15"/><circle cx="458.3" cy="441.6" r="3.15"/><circle cx="459.6" cy="456.1" r="3.15"/><circle cx="456.6" cy="456.1" r="3.15"/><circle cx="452.1" cy="472.6" r="3.15"/><circle cx="453.1" cy="440.9" r="3.15"/><circle cx="457.9" cy="463.8" r="3.15"/><circle cx="455.5" cy="453.1" r="3.15"/><circle cx="457.7" cy="456.5" r="3.15"/><circle cx="449.7" cy="465.9" r="3.15"/><circle cx="460.7" cy="449.0" r="3.15"/><circle cx="459.3" cy="460.9" r="3.15"/><circle cx="473.8" cy="428.6" r="3.15"/><circle cx="458.4" cy="467.6" r="3.15"/><circle cx="456.7" cy="463.6" r="3.15"/><circle cx="457.8" cy="455.6" r="3.15"/><circle cx="451.0" cy="473.7" r="3.15"/><circle cx="467.4" cy="436.3" r="3.15"/><circle cx="480.2" cy="433.4" r="3.15"/><circle cx="456.1" cy="454.2" r="3.15"/><circle cx="480.3" cy="413.0" r="3.15"/><circle cx="461.0" cy="462.5" r="3.15"/><circle cx="454.0" cy="443.4" r="3.15"/><circle cx="468.0" cy="430.2" r="3.15"/><circle cx="451.1" cy="462.4" r="3.15"/><circle cx="466.5" cy="418.9" r="3.15"/><circle cx="451.9" cy="478.5" r="3.15"/><circle cx="459.6" cy="451.3" r="3.15"/><circle cx="466.5" cy="428.1" r="3.15"/><circle cx="466.6" cy="414.5" r="3.15"/><circle cx="468.3" cy="461.2" r="3.15"/><circle cx="472.2" cy="456.7" r="3.15"/><circle cx="464.8" cy="416.0" r="3.15"/><circle cx="460.5" cy="469.0" r="3.15"/><circle cx="457.3" cy="480.7" r="3.15"/><circle cx="456.9" cy="460.6" r="3.15"/><circle cx="447.2" cy="470.5" r="3.15"/><circle cx="465.0" cy="444.8" r="3.15"/><circle cx="452.3" cy="444.9" r="3.15"/><circle cx="452.6" cy="455.9" r="3.15"/><circle cx="454.3" cy="463.7" r="3.15"/><circle cx="451.1" cy="466.6" r="3.15"/><circle cx="453.5" cy="449.5" r="3.15"/><circle cx="459.6" cy="466.7" r="3.15"/><circle cx="478.9" cy="414.1" r="3.15"/><circle cx="455.8" cy="452.5" r="3.15"/><circle cx="469.3" cy="435.4" r="3.15"/><circle cx="467.6" cy="434.8" r="3.15"/><circle cx="461.7" cy="434.9" r="3.15"/><circle cx="465.1" cy="473.6" r="3.15"/><circle cx="447.8" cy="447.7" r="3.15"/><circle cx="448.3" cy="449.4" r="3.15"/><circle cx="447.4" cy="459.9" r="3.15"/><circle cx="456.1" cy="452.2" r="3.15"/><circle cx="457.0" cy="437.6" r="3.15"/><circle cx="470.2" cy="428.9" r="3.15"/><circle cx="479.2" cy="439.0" r="3.15"/><circle cx="454.6" cy="455.9" r="3.15"/><circle cx="464.9" cy="444.1" r="3.15"/><circle cx="452.9" cy="458.7" r="3.15"/><circle cx="459.4" cy="458.8" r="3.15"/><circle cx="446.4" cy="451.6" r="3.15"/><circle cx="443.5" cy="469.3" r="3.15"/><circle cx="469.9" cy="430.8" r="3.15"/><circle cx="444.4" cy="454.2" r="3.15"/><circle cx="456.3" cy="447.8" r="3.15"/><circle cx="451.3" cy="475.5" r="3.15"/><circle cx="465.8" cy="443.8" r="3.15"/><circle cx="463.9" cy="431.5" r="3.15"/><circle cx="462.6" cy="450.9" r="3.15"/><circle cx="448.8" cy="461.1" r="3.15"/><circle cx="456.7" cy="446.6" r="3.15"/><circle cx="454.9" cy="449.0" r="3.15"/><circle cx="456.5" cy="454.8" r="3.15"/><circle cx="476.5" cy="434.7" r="3.15"/><circle cx="460.6" cy="447.5" r="3.15"/><circle cx="465.5" cy="427.4" r="3.15"/><circle cx="466.9" cy="431.6" r="3.15"/><circle cx="447.6" cy="483.7" r="3.15"/><circle cx="454.8" cy="478.0" r="3.15"/><circle cx="494.1" cy="411.5" r="3.15"/><circle cx="495.0" cy="429.6" r="3.15"/><circle cx="506.3" cy="423.6" r="3.15"/><circle cx="502.0" cy="464.7" r="3.15"/><circle cx="513.4" cy="423.1" r="3.15"/><circle cx="508.3" cy="402.0" r="3.15"/><circle cx="498.0" cy="418.9" r="3.15"/><circle cx="507.7" cy="422.3" r="3.15"/><circle cx="490.5" cy="435.7" r="3.15"/><circle cx="509.4" cy="406.0" r="3.15"/><circle cx="489.3" cy="405.5" r="3.15"/><circle cx="510.3" cy="455.6" r="3.15"/><circle cx="482.4" cy="445.6" r="3.15"/><circle cx="497.6" cy="427.5" r="3.15"/><circle cx="508.1" cy="418.8" r="3.15"/><circle cx="515.9" cy="457.4" r="3.15"/><circle cx="520.2" cy="439.2" r="3.15"/><circle cx="512.7" cy="440.8" r="3.15"/><circle cx="489.7" cy="437.3" r="3.15"/><circle cx="484.9" cy="422.9" r="3.15"/><circle cx="513.8" cy="422.9" r="3.15"/><circle cx="490.5" cy="408.7" r="3.15"/><circle cx="495.1" cy="411.6" r="3.15"/><circle cx="501.1" cy="428.5" r="3.15"/><circle cx="528.0" cy="418.9" r="3.15"/><circle cx="501.3" cy="402.2" r="3.15"/><circle cx="493.0" cy="445.6" r="3.15"/><circle cx="515.6" cy="457.2" r="3.15"/><circle cx="495.6" cy="432.6" r="3.15"/><circle cx="505.7" cy="458.6" r="3.15"/><circle cx="528.4" cy="430.8" r="3.15"/><circle cx="486.9" cy="409.1" r="3.15"/><circle cx="493.2" cy="439.5" r="3.15"/><circle cx="492.7" cy="432.2" r="3.15"/><circle cx="496.4" cy="400.2" r="3.15"/><circle cx="494.5" cy="411.5" r="3.15"/><circle cx="485.1" cy="430.3" r="3.15"/><circle cx="494.8" cy="421.5" r="3.15"/><circle cx="502.1" cy="441.4" r="3.15"/><circle cx="493.3" cy="408.5" r="3.15"/><circle cx="487.1" cy="427.1" r="3.15"/><circle cx="504.9" cy="423.0" r="3.15"/><circle cx="505.9" cy="433.0" r="3.15"/><circle cx="515.9" cy="443.9" r="3.15"/><circle cx="507.1" cy="439.9" r="3.15"/><circle cx="526.4" cy="427.0" r="3.15"/><circle cx="486.7" cy="425.5" r="3.15"/><circle cx="510.0" cy="426.5" r="3.15"/><circle cx="503.9" cy="427.8" r="3.15"/><circle cx="494.3" cy="453.6" r="3.15"/><circle cx="483.8" cy="435.2" r="3.15"/><circle cx="512.6" cy="425.5" r="3.15"/><circle cx="528.1" cy="440.6" r="3.15"/><circle cx="491.6" cy="431.9" r="3.15"/><circle cx="505.3" cy="428.5" r="3.15"/><circle cx="511.6" cy="432.4" r="3.15"/><circle cx="485.8" cy="423.1" r="3.15"/><circle cx="508.9" cy="423.3" r="3.15"/><circle cx="489.9" cy="424.7" r="3.15"/><circle cx="496.6" cy="428.3" r="3.15"/><circle cx="516.0" cy="450.1" r="3.15"/><circle cx="483.6" cy="443.0" r="3.15"/><circle cx="487.1" cy="449.1" r="3.15"/><circle cx="527.7" cy="436.5" r="3.15"/><circle cx="523.1" cy="427.9" r="3.15"/><circle cx="504.0" cy="433.8" r="3.15"/><circle cx="508.8" cy="412.1" r="3.15"/><circle cx="515.1" cy="419.0" r="3.15"/><circle cx="516.2" cy="455.0" r="3.15"/><circle cx="505.0" cy="437.0" r="3.15"/><circle cx="483.8" cy="434.0" r="3.15"/><circle cx="504.3" cy="428.0" r="3.15"/><circle cx="503.2" cy="430.0" r="3.15"/><circle cx="501.2" cy="435.6" r="3.15"/><circle cx="491.0" cy="421.6" r="3.15"/><circle cx="499.5" cy="426.7" r="3.15"/><circle cx="502.8" cy="399.4" r="3.15"/><circle cx="511.2" cy="443.9" r="3.15"/><circle cx="492.5" cy="451.4" r="3.15"/><circle cx="489.1" cy="413.6" r="3.15"/><circle cx="506.0" cy="441.2" r="3.15"/><circle cx="504.1" cy="409.4" r="3.15"/><circle cx="514.3" cy="396.6" r="3.15"/><circle cx="534.1" cy="436.4" r="3.15"/><circle cx="524.6" cy="421.8" r="3.15"/><circle cx="512.2" cy="413.9" r="3.15"/><circle cx="496.5" cy="426.9" r="3.15"/><circle cx="501.1" cy="425.6" r="3.15"/><circle cx="492.0" cy="393.8" r="3.15"/><circle cx="494.3" cy="426.7" r="3.15"/><circle cx="496.5" cy="429.0" r="3.15"/><circle cx="508.8" cy="420.2" r="3.15"/><circle cx="523.2" cy="431.1" r="3.15"/><circle cx="482.5" cy="419.4" r="3.15"/><circle cx="505.5" cy="429.5" r="3.15"/><circle cx="496.2" cy="423.8" r="3.15"/><circle cx="498.4" cy="427.2" r="3.15"/><circle cx="499.4" cy="425.4" r="3.15"/><circle cx="526.4" cy="402.5" r="3.15"/><circle cx="512.4" cy="432.9" r="3.15"/><circle cx="505.8" cy="454.4" r="3.15"/><circle cx="499.3" cy="407.7" r="3.15"/><circle cx="487.2" cy="439.6" r="3.15"/><circle cx="496.7" cy="442.1" r="3.15"/><circle cx="497.5" cy="430.1" r="3.15"/><circle cx="517.3" cy="429.5" r="3.15"/><circle cx="519.1" cy="435.2" r="3.15"/><circle cx="496.9" cy="419.9" r="3.15"/><circle cx="505.3" cy="443.6" r="3.15"/><circle cx="511.8" cy="420.4" r="3.15"/><circle cx="498.9" cy="425.5" r="3.15"/><circle cx="499.4" cy="440.2" r="3.15"/><circle cx="489.8" cy="431.3" r="3.15"/><circle cx="490.7" cy="450.9" r="3.15"/><circle cx="499.1" cy="435.2" r="3.15"/><circle cx="495.3" cy="427.7" r="3.15"/><circle cx="517.6" cy="413.7" r="3.15"/><circle cx="482.8" cy="432.2" r="3.15"/><circle cx="515.0" cy="443.1" r="3.15"/><circle cx="520.0" cy="428.9" r="3.15"/><circle cx="501.3" cy="416.8" r="3.15"/><circle cx="516.9" cy="435.8" r="3.15"/><circle cx="511.2" cy="410.9" r="3.15"/><circle cx="511.2" cy="407.1" r="3.15"/><circle cx="508.2" cy="446.5" r="3.15"/><circle cx="491.2" cy="415.2" r="3.15"/><circle cx="495.4" cy="445.8" r="3.15"/><circle cx="512.8" cy="419.7" r="3.15"/><circle cx="488.4" cy="437.2" r="3.15"/><circle cx="524.0" cy="458.3" r="3.15"/><circle cx="494.3" cy="436.1" r="3.15"/><circle cx="528.3" cy="450.1" r="3.15"/><circle cx="483.1" cy="417.4" r="3.15"/><circle cx="500.9" cy="408.0" r="3.15"/><circle cx="489.5" cy="442.6" r="3.15"/><circle cx="498.8" cy="415.6" r="3.15"/><circle cx="499.4" cy="422.2" r="3.15"/><circle cx="491.9" cy="427.0" r="3.15"/><circle cx="493.8" cy="458.8" r="3.15"/><circle cx="489.3" cy="436.7" r="3.15"/><circle cx="486.2" cy="425.4" r="3.15"/><circle cx="495.4" cy="432.9" r="3.15"/><circle cx="528.2" cy="413.3" r="3.15"/><circle cx="483.6" cy="446.4" r="3.15"/><circle cx="502.0" cy="406.7" r="3.15"/><circle cx="492.5" cy="442.1" r="3.15"/><circle cx="518.8" cy="417.4" r="3.15"/><circle cx="503.7" cy="445.0" r="3.15"/><circle cx="508.6" cy="405.0" r="3.15"/><circle cx="514.3" cy="449.1" r="3.15"/><circle cx="497.9" cy="421.3" r="3.15"/><circle cx="498.3" cy="412.2" r="3.15"/><circle cx="491.9" cy="412.6" r="3.15"/><circle cx="500.6" cy="420.6" r="3.15"/><circle cx="495.8" cy="415.8" r="3.15"/><circle cx="496.5" cy="438.3" r="3.15"/><circle cx="511.1" cy="408.6" r="3.15"/><circle cx="488.7" cy="429.0" r="3.15"/><circle cx="494.3" cy="433.1" r="3.15"/><circle cx="495.5" cy="446.0" r="3.15"/><circle cx="501.6" cy="455.6" r="3.15"/><circle cx="509.2" cy="432.9" r="3.15"/><circle cx="500.6" cy="436.3" r="3.15"/><circle cx="486.1" cy="420.5" r="3.15"/><circle cx="485.4" cy="401.2" r="3.15"/><circle cx="512.0" cy="438.5" r="3.15"/><circle cx="496.2" cy="444.0" r="3.15"/><circle cx="492.2" cy="421.2" r="3.15"/><circle cx="496.0" cy="408.4" r="3.15"/><circle cx="494.9" cy="444.2" r="3.15"/><circle cx="518.6" cy="422.3" r="3.15"/><circle cx="498.9" cy="414.1" r="3.15"/><circle cx="497.0" cy="416.7" r="3.15"/><circle cx="507.4" cy="420.3" r="3.15"/><circle cx="521.3" cy="426.7" r="3.15"/><circle cx="486.5" cy="394.5" r="3.15"/><circle cx="509.3" cy="402.3" r="3.15"/><circle cx="505.6" cy="409.5" r="3.15"/><circle cx="499.5" cy="412.6" r="3.15"/><circle cx="504.6" cy="410.2" r="3.15"/><circle cx="498.0" cy="431.5" r="3.15"/><circle cx="492.3" cy="433.3" r="3.15"/><circle cx="494.9" cy="429.4" r="3.15"/><circle cx="492.3" cy="444.9" r="3.15"/><circle cx="494.3" cy="427.2" r="3.15"/><circle cx="505.0" cy="403.5" r="3.15"/><circle cx="497.8" cy="450.0" r="3.15"/><circle cx="525.7" cy="416.4" r="3.15"/><circle cx="488.3" cy="413.0" r="3.15"/><circle cx="516.2" cy="423.4" r="3.15"/><circle cx="496.1" cy="430.2" r="3.15"/><circle cx="516.5" cy="437.8" r="3.15"/><circle cx="486.3" cy="398.6" r="3.15"/><circle cx="526.2" cy="414.7" r="3.15"/><circle cx="499.7" cy="431.2" r="3.15"/><circle cx="507.3" cy="453.8" r="3.15"/><circle cx="495.5" cy="459.1" r="3.15"/><circle cx="499.6" cy="423.9" r="3.15"/><circle cx="495.7" cy="417.7" r="3.15"/><circle cx="500.2" cy="438.9" r="3.15"/><circle cx="475.0" cy="461.7" r="3.15"/><circle cx="485.5" cy="466.6" r="3.15"/><circle cx="492.3" cy="467.2" r="3.15"/><circle cx="471.0" cy="469.3" r="3.15"/><circle cx="480.8" cy="464.3" r="3.15"/><circle cx="480.1" cy="472.1" r="3.15"/><circle cx="490.5" cy="456.0" r="3.15"/><circle cx="478.0" cy="460.5" r="3.15"/><circle cx="490.3" cy="457.5" r="3.15"/><circle cx="477.1" cy="467.9" r="3.15"/><circle cx="485.9" cy="463.0" r="3.15"/><circle cx="500.3" cy="470.1" r="3.15"/><circle cx="482.5" cy="469.1" r="3.15"/><circle cx="477.1" cy="456.1" r="3.15"/><circle cx="481.0" cy="455.7" r="3.15"/><circle cx="478.9" cy="465.2" r="3.15"/><circle cx="484.5" cy="455.3" r="3.15"/><circle cx="485.2" cy="471.9" r="3.15"/><circle cx="477.9" cy="451.6" r="3.15"/><circle cx="472.0" cy="466.7" r="3.15"/><circle cx="477.3" cy="465.8" r="3.15"/><circle cx="485.9" cy="468.0" r="3.15"/><circle cx="484.1" cy="467.9" r="3.15"/><circle cx="487.0" cy="464.3" r="3.15"/><circle cx="477.6" cy="464.0" r="3.15"/><circle cx="472.4" cy="459.6" r="3.15"/><circle cx="484.7" cy="461.9" r="3.15"/><circle cx="478.4" cy="468.2" r="3.15"/><circle cx="546.1" cy="425.7" r="3.15"/><circle cx="536.7" cy="437.7" r="3.15"/><circle cx="510.8" cy="419.1" r="3.15"/><circle cx="534.2" cy="416.1" r="3.15"/><circle cx="543.4" cy="442.2" r="3.15"/><circle cx="532.0" cy="425.5" r="3.15"/><circle cx="566.1" cy="436.0" r="3.15"/><circle cx="537.6" cy="431.8" r="3.15"/><circle cx="545.0" cy="438.1" r="3.15"/><circle cx="513.5" cy="408.3" r="3.15"/><circle cx="568.1" cy="424.9" r="3.15"/><circle cx="572.4" cy="418.4" r="3.15"/><circle cx="528.1" cy="426.8" r="3.15"/><circle cx="544.8" cy="440.5" r="3.15"/><circle cx="548.6" cy="424.2" r="3.15"/><circle cx="518.4" cy="425.2" r="3.15"/><circle cx="533.3" cy="431.7" r="3.15"/><circle cx="533.7" cy="415.2" r="3.15"/><circle cx="528.0" cy="441.7" r="3.15"/><circle cx="527.2" cy="417.4" r="3.15"/><circle cx="551.2" cy="432.9" r="3.15"/><circle cx="520.2" cy="433.7" r="3.15"/><circle cx="528.2" cy="418.4" r="3.15"/><circle cx="553.0" cy="436.3" r="3.15"/><circle cx="545.5" cy="426.8" r="3.15"/><circle cx="538.9" cy="426.2" r="3.15"/><circle cx="523.5" cy="419.1" r="3.15"/><circle cx="523.8" cy="405.4" r="3.15"/><circle cx="534.0" cy="427.0" r="3.15"/><circle cx="565.0" cy="425.5" r="3.15"/><circle cx="522.7" cy="416.2" r="3.15"/><circle cx="545.0" cy="430.0" r="3.15"/><circle cx="550.2" cy="429.0" r="3.15"/><circle cx="525.8" cy="414.4" r="3.15"/><circle cx="545.1" cy="433.1" r="3.15"/><circle cx="510.6" cy="413.4" r="3.15"/><circle cx="565.8" cy="436.6" r="3.15"/><circle cx="539.5" cy="436.6" r="3.15"/><circle cx="510.0" cy="433.3" r="3.15"/><circle cx="523.1" cy="430.3" r="3.15"/><circle cx="549.2" cy="423.3" r="3.15"/><circle cx="540.0" cy="417.1" r="3.15"/><circle cx="546.3" cy="417.8" r="3.15"/><circle cx="545.0" cy="425.0" r="3.15"/><circle cx="536.7" cy="428.0" r="3.15"/><circle cx="553.6" cy="432.0" r="3.15"/><circle cx="540.6" cy="413.8" r="3.15"/><circle cx="548.6" cy="429.6" r="3.15"/><circle cx="538.2" cy="434.3" r="3.15"/><circle cx="548.7" cy="423.6" r="3.15"/><circle cx="523.3" cy="437.9" r="3.15"/><circle cx="522.9" cy="410.3" r="3.15"/><circle cx="526.9" cy="425.9" r="3.15"/><circle cx="536.9" cy="421.0" r="3.15"/><circle cx="547.1" cy="434.2" r="3.15"/><circle cx="545.1" cy="440.7" r="3.15"/><circle cx="530.6" cy="419.0" r="3.15"/><circle cx="518.9" cy="422.7" r="3.15"/><circle cx="542.7" cy="427.9" r="3.15"/><circle cx="545.2" cy="423.4" r="3.15"/><circle cx="546.7" cy="424.3" r="3.15"/><circle cx="546.5" cy="430.4" r="3.15"/><circle cx="555.4" cy="427.3" r="3.15"/><circle cx="553.5" cy="429.1" r="3.15"/><circle cx="542.9" cy="426.6" r="3.15"/><circle cx="546.4" cy="432.1" r="3.15"/><circle cx="553.1" cy="434.8" r="3.15"/><circle cx="547.7" cy="426.7" r="3.15"/><circle cx="548.5" cy="432.9" r="3.15"/><circle cx="543.5" cy="431.6" r="3.15"/><circle cx="543.6" cy="428.9" r="3.15"/><circle cx="546.4" cy="435.6" r="3.15"/><circle cx="510.6" cy="391.0" r="3.15"/><circle cx="523.6" cy="395.0" r="3.15"/><circle cx="517.6" cy="401.4" r="3.15"/><circle cx="485.4" cy="397.0" r="3.15"/><circle cx="474.0" cy="398.6" r="3.15"/><circle cx="543.4" cy="399.4" r="3.15"/><circle cx="538.0" cy="402.4" r="3.15"/><circle cx="533.0" cy="404.0" r="3.15"/><circle cx="532.0" cy="409.0" r="3.15"/><circle cx="535.6" cy="408.6" r="3.15"/><circle cx="445.0" cy="501.4" r="3.15"/><circle cx="452.0" cy="503.0" r="3.15"/><circle cx="452.0" cy="497.0" r="3.15"/><circle cx="460.0" cy="495.6" r="3.15"/><circle cx="464.6" cy="495.0" r="3.15"/><circle cx="444.4" cy="487.6" r="3.15"/><circle cx="460.0" cy="489.0" r="3.15"/><circle cx="463.0" cy="480.0" r="3.15"/><circle cx="472.6" cy="481.0" r="3.15"/><circle cx="481.0" cy="475.0" r="3.15"/><circle cx="488.0" cy="472.6" r="3.15"/><circle cx="490.6" cy="470.0" r="3.15"/><circle cx="503.4" cy="473.4" r="3.15"/><circle cx="497.0" cy="461.0" r="3.15"/><circle cx="504.0" cy="460.0" r="3.15"/><circle cx="514.0" cy="468.0" r="3.15"/><circle cx="518.0" cy="468.0" r="3.15"/><circle cx="520.0" cy="463.0" r="3.15"/><circle cx="526.0" cy="480.0" r="3.15"/><circle cx="528.0" cy="470.6" r="3.15"/><circle cx="533.0" cy="474.0" r="3.15"/><circle cx="534.0" cy="477.0" r="3.15"/><circle cx="538.4" cy="464.4" r="3.15"/><circle cx="544.6" cy="480.4" r="3.15"/><circle cx="549.0" cy="473.6" r="3.15"/><circle cx="550.0" cy="462.6" r="3.15"/><circle cx="525.0" cy="457.0" r="3.15"/><circle cx="529.0" cy="454.0" r="3.15"/><circle cx="449.0" cy="436.0" r="3.15"/><circle cx="458.0" cy="420.0" r="3.15"/><circle cx="467.0" cy="407.0" r="3.15"/><circle cx="568.0" cy="397.0" r="3.15"/><circle cx="566.4" cy="399.0" r="3.15"/><circle cx="562.0" cy="407.0" r="3.15"/><circle cx="586.6" cy="406.0" r="3.15"/><circle cx="605.4" cy="410.6" r="3.15"/><circle cx="552.4" cy="411.0" r="3.15"/><circle cx="565.6" cy="413.4" r="3.15"/><circle cx="562.6" cy="414.6" r="3.15"/><circle cx="587.0" cy="414.0" r="3.15"/><circle cx="600.4" cy="416.0" r="3.15"/><circle cx="586.6" cy="419.0" r="3.15"/><circle cx="556.0" cy="419.6" r="3.15"/><circle cx="551.0" cy="417.0" r="3.15"/><circle cx="577.4" cy="422.0" r="3.15"/><circle cx="562.4" cy="423.4" r="3.15"/><circle cx="563.6" cy="427.0" r="3.15"/><circle cx="572.0" cy="427.6" r="3.15"/><circle cx="551.0" cy="425.0" r="3.15"/><circle cx="553.0" cy="427.0" r="3.15"/><circle cx="555.0" cy="429.4" r="3.15"/><circle cx="550.0" cy="431.0" r="3.15"/><circle cx="549.0" cy="435.0" r="3.15"/><circle cx="557.0" cy="436.0" r="3.15"/><circle cx="564.4" cy="431.6" r="3.15"/><circle cx="570.6" cy="434.0" r="3.15"/><circle cx="591.4" cy="434.4" r="3.15"/><circle cx="565.6" cy="439.6" r="3.15"/><circle cx="573.4" cy="443.6" r="3.15"/><circle cx="567.4" cy="445.0" r="3.15"/><circle cx="555.6" cy="445.6" r="3.15"/><circle cx="549.6" cy="447.0" r="3.15"/><circle cx="574.6" cy="452.0" r="3.15"/><circle cx="577.6" cy="452.6" r="3.15"/><circle cx="571.0" cy="455.0" r="3.15"/><circle cx="573.4" cy="461.6" r="3.15"/><circle cx="600.4" cy="461.4" r="3.15"/><circle cx="583.4" cy="469.0" r="3.15"/><circle cx="562.6" cy="471.0" r="3.15"/><circle cx="591.4" cy="473.0" r="3.15"/><circle cx="598.6" cy="474.0" r="3.15"/><circle cx="602.4" cy="474.4" r="3.15"/><circle cx="617.6" cy="475.0" r="3.15"/><circle cx="579.0" cy="477.4" r="3.15"/><circle cx="562.0" cy="478.6" r="3.15"/><circle cx="634.0" cy="478.4" r="3.15"/><circle cx="590.0" cy="483.6" r="3.15"/><circle cx="626.0" cy="485.4" r="3.15"/><circle cx="666.0" cy="483.0" r="3.15"/><circle cx="670.8" cy="489.0" r="3.15"/><circle cx="591.6" cy="500.0" r="3.15"/><circle cx="628.0" cy="506.6" r="3.15"/>
</g>
<rect x="423" y="380.5" width="260" height="236.3" fill="none" stroke="#000" stroke-width="1.28"/>
<text x="431.9" y="640.4" font-family='"Liberation Serif", serif' font-size="16" text-anchor="middle">0.0</text>
<text x="535.2" y="640.4" font-family='"Liberation Serif", serif' font-size="16" text-anchor="middle">0.5</text>
<text x="638.5" y="640.4" font-family='"Liberation Serif", serif' font-size="16" text-anchor="middle">1.0</text>
<text x="410.7" y="422.3" font-family='"Liberation Serif", serif' font-size="16" text-anchor="end">60</text>
<text x="410.7" y="489.25" font-family='"Liberation Serif", serif' font-size="16" text-anchor="end">40</text>
<text x="410.7" y="556.2" font-family='"Liberation Serif", serif' font-size="16" text-anchor="end">20</text>
<path d="M431.9 616.8v6.24M535.2 616.8v6.24M638.5 616.8v6.24M423 416.8h-6.24M423 483.75h-6.24M423 550.7h-6.24" stroke="#000" stroke-width="1.28" fill="none"/>
<path d="M649.1 652.4L656.9 660.2M649.1 660.2L656.9 652.4" stroke="#000" stroke-width="1.05" fill="none"/>
<text x="660.2" y="660.8" font-family='"Liberation Serif", serif' font-size="16" text-anchor="start">10</text>
<text x="676.4" y="654.2" font-family='"Liberation Serif", serif' font-size="11.2" text-anchor="start">5</text>
<text x="470.6" y="370.7" font-family='"Liberation Serif", serif' font-size="19.2" text-anchor="start" font-style="italic">ρ</text>
<text x="479.8" y="373.7" font-family='"Liberation Serif", serif' font-size="13.4" text-anchor="start" font-style="italic">s</text>
<text x="492.4" y="370.7" font-family='"Liberation Serif", serif' font-size="19.2" text-anchor="start" textLength="15" lengthAdjust="spacingAndGlyphs">=</text>
<text x="513.2" y="370.7" font-family='"Liberation Serif", serif' font-size="19.2" text-anchor="start">0.66</text>
<text x="547.8" y="370.7" font-family='"Liberation Serif", serif' font-size="19.2" text-anchor="start">,</text>
<text x="557.3" y="370.7" font-family='"Liberation Serif", serif' font-size="19.2" text-anchor="start" font-style="italic">ρ</text>
<text x="566.6" y="373.7" font-family='"Liberation Serif", serif' font-size="13.4" text-anchor="start" font-style="italic">p</text>
<text x="580.9" y="370.7" font-family='"Liberation Serif", serif' font-size="19.2" text-anchor="start" textLength="15" lengthAdjust="spacingAndGlyphs">=</text>
<text x="601.4" y="370.7" font-family='"Liberation Serif", serif' font-size="19.2" text-anchor="start">0.47</text>
<text x="553" y="662.7" font-family='"Liberation Sans", sans-serif' font-size="15.3" text-anchor="middle" textLength="119" lengthAdjust="spacingAndGlyphs" class="sans"><tspan font-size="18.2" dy="0.7">(</tspan><tspan dy="-0.7">Pointcloud, CD</tspan><tspan font-size="18.2" dy="0.7">)</tspan></text>
<text x="553" y="681.3" font-family='"Liberation Sans", sans-serif' font-size="15.3" text-anchor="middle" class="sans"><tspan font-size="18.2" dy="0.7">(</tspan><tspan dy="-0.7">d</tspan><tspan font-size="18.2" dy="0.7">)</tspan></text>
<g transform="translate(383.5 498.65) rotate(-90)"><text x="0" y="0" font-family='"Liberation Sans", sans-serif' font-size="15.3" text-anchor="middle" textLength="122.4" lengthAdjust="spacingAndGlyphs" class="sans"><tspan font-size="18.2" dy="0.7">(</tspan><tspan dy="-0.7">Voxel, PCA, ED</tspan><tspan font-size="18.2" dy="0.7">)</tspan></text></g>
</g>
<g id="plot-e">
<clipPath id="clip-e"><rect x="56.6" y="736.9" width="260" height="236.1"/></clipPath>
<g clip-path="url(#clip-e)" fill="#1f77b4" fill-opacity="0.5">
<circle cx="73.3" cy="945.8" r="3.15"/><circle cx="71.1" cy="943.3" r="3.15"/><circle cx="70.0" cy="937.5" r="3.15"/><circle cx="71.8" cy="942.9" r="3.15"/><circle cx="73.3" cy="939.7" r="3.15"/><circle cx="72.8" cy="936.1" r="3.15"/><circle cx="72.0" cy="942.4" r="3.15"/><circle cx="73.8" cy="957.3" r="3.15"/><circle cx="70.5" cy="952.2" r="3.15"/><circle cx="71.6" cy="958.0" r="3.15"/><circle cx="71.0" cy="948.5" r="3.15"/><circle cx="71.0" cy="944.6" r="3.15"/><circle cx="73.7" cy="936.5" r="3.15"/><circle cx="71.6" cy="959.2" r="3.15"/><circle cx="70.7" cy="944.1" r="3.15"/><circle cx="72.3" cy="955.3" r="3.15"/><circle cx="72.3" cy="941.7" r="3.15"/><circle cx="70.6" cy="940.4" r="3.15"/><circle cx="69.2" cy="955.5" r="3.15"/><circle cx="74.6" cy="955.9" r="3.15"/><circle cx="73.5" cy="958.0" r="3.15"/><circle cx="72.8" cy="940.6" r="3.15"/><circle cx="69.5" cy="960.1" r="3.15"/><circle cx="71.7" cy="953.2" r="3.15"/><circle cx="70.7" cy="955.5" r="3.15"/><circle cx="73.0" cy="938.0" r="3.15"/><circle cx="69.2" cy="956.3" r="3.15"/><circle cx="71.6" cy="944.7" r="3.15"/><circle cx="68.2" cy="949.2" r="3.15"/><circle cx="70.8" cy="957.0" r="3.15"/><circle cx="70.5" cy="956.3" r="3.15"/><circle cx="74.1" cy="950.9" r="3.15"/><circle cx="72.3" cy="951.6" r="3.15"/><circle cx="72.4" cy="944.9" r="3.15"/><circle cx="70.3" cy="955.6" r="3.15"/><circle cx="71.8" cy="953.6" r="3.15"/><circle cx="73.1" cy="956.7" r="3.15"/><circle cx="70.6" cy="949.0" r="3.15"/><circle cx="72.4" cy="955.7" r="3.15"/><circle cx="69.5" cy="958.0" r="3.15"/><circle cx="72.6" cy="957.0" r="3.15"/><circle cx="71.2" cy="951.0" r="3.15"/><circle cx="72.0" cy="959.1" r="3.15"/><circle cx="71.1" cy="947.1" r="3.15"/><circle cx="70.7" cy="943.0" r="3.15"/><circle cx="71.1" cy="954.8" r="3.15"/><circle cx="72.0" cy="943.8" r="3.15"/><circle cx="74.7" cy="937.2" r="3.15"/><circle cx="71.5" cy="937.9" r="3.15"/><circle cx="69.4" cy="957.4" r="3.15"/><circle cx="73.5" cy="940.8" r="3.15"/><circle cx="70.3" cy="959.9" r="3.15"/><circle cx="69.1" cy="947.8" r="3.15"/><circle cx="73.5" cy="942.4" r="3.15"/><circle cx="70.0" cy="950.4" r="3.15"/><circle cx="71.7" cy="944.6" r="3.15"/><circle cx="71.4" cy="945.2" r="3.15"/><circle cx="71.4" cy="940.9" r="3.15"/><circle cx="70.9" cy="960.1" r="3.15"/><circle cx="73.0" cy="961.0" r="3.15"/><circle cx="71.4" cy="946.1" r="3.15"/><circle cx="72.4" cy="959.5" r="3.15"/><circle cx="71.2" cy="951.8" r="3.15"/><circle cx="72.1" cy="940.2" r="3.15"/><circle cx="70.6" cy="936.3" r="3.15"/><circle cx="72.0" cy="940.6" r="3.15"/><circle cx="71.2" cy="944.8" r="3.15"/><circle cx="70.3" cy="948.1" r="3.15"/><circle cx="73.7" cy="952.4" r="3.15"/><circle cx="73.7" cy="944.6" r="3.15"/><circle cx="71.8" cy="961.4" r="3.15"/><circle cx="72.6" cy="951.1" r="3.15"/><circle cx="71.5" cy="945.3" r="3.15"/><circle cx="71.2" cy="941.0" r="3.15"/><circle cx="71.9" cy="958.1" r="3.15"/><circle cx="73.4" cy="920.4" r="3.15"/><circle cx="70.6" cy="924.4" r="3.15"/><circle cx="75.0" cy="929.0" r="3.15"/><circle cx="70.6" cy="932.4" r="3.15"/><circle cx="69.0" cy="936.0" r="3.15"/><circle cx="81.0" cy="940.0" r="3.15"/><circle cx="78.0" cy="940.4" r="3.15"/><circle cx="79.6" cy="962.4" r="3.15"/><circle cx="78.0" cy="956.4" r="3.15"/><circle cx="71.6" cy="963.0" r="3.15"/><circle cx="67.0" cy="958.6" r="3.15"/><circle cx="79.0" cy="786.2" r="3.15"/><circle cx="76.2" cy="789.5" r="3.15"/><circle cx="78.8" cy="771.3" r="3.15"/><circle cx="77.9" cy="791.8" r="3.15"/><circle cx="78.5" cy="795.1" r="3.15"/><circle cx="76.9" cy="790.5" r="3.15"/><circle cx="77.0" cy="781.7" r="3.15"/><circle cx="81.2" cy="781.7" r="3.15"/><circle cx="80.5" cy="780.5" r="3.15"/><circle cx="79.5" cy="782.9" r="3.15"/><circle cx="80.2" cy="786.2" r="3.15"/><circle cx="76.1" cy="783.3" r="3.15"/><circle cx="79.6" cy="766.4" r="3.15"/><circle cx="79.6" cy="776.3" r="3.15"/><circle cx="76.9" cy="788.0" r="3.15"/><circle cx="79.7" cy="779.3" r="3.15"/><circle cx="76.2" cy="790.6" r="3.15"/><circle cx="80.8" cy="807.5" r="3.15"/><circle cx="80.2" cy="763.0" r="3.15"/><circle cx="78.7" cy="777.5" r="3.15"/><circle cx="81.0" cy="774.9" r="3.15"/><circle cx="79.9" cy="791.5" r="3.15"/><circle cx="81.9" cy="763.5" r="3.15"/><circle cx="77.6" cy="778.5" r="3.15"/><circle cx="80.0" cy="773.3" r="3.15"/><circle cx="76.3" cy="774.5" r="3.15"/><circle cx="77.4" cy="768.4" r="3.15"/><circle cx="78.1" cy="792.6" r="3.15"/><circle cx="79.2" cy="763.2" r="3.15"/><circle cx="76.8" cy="798.9" r="3.15"/><circle cx="77.1" cy="799.8" r="3.15"/><circle cx="78.1" cy="772.2" r="3.15"/><circle cx="82.9" cy="767.4" r="3.15"/><circle cx="77.7" cy="779.3" r="3.15"/><circle cx="82.4" cy="792.7" r="3.15"/><circle cx="78.5" cy="778.8" r="3.15"/><circle cx="103.5" cy="779.9" r="3.15"/><circle cx="99.3" cy="781.4" r="3.15"/><circle cx="99.3" cy="768.9" r="3.15"/><circle cx="94.3" cy="788.3" r="3.15"/><circle cx="105.9" cy="778.4" r="3.15"/><circle cx="102.7" cy="786.4" r="3.15"/><circle cx="83.1" cy="768.3" r="3.15"/><circle cx="104.5" cy="794.0" r="3.15"/><circle cx="96.2" cy="788.0" r="3.15"/><circle cx="96.0" cy="776.0" r="3.15"/><circle cx="96.9" cy="775.0" r="3.15"/><circle cx="102.6" cy="784.9" r="3.15"/><circle cx="107.5" cy="787.5" r="3.15"/><circle cx="106.6" cy="803.6" r="3.15"/><circle cx="107.3" cy="792.4" r="3.15"/><circle cx="104.6" cy="785.7" r="3.15"/><circle cx="97.4" cy="780.9" r="3.15"/><circle cx="100.4" cy="805.2" r="3.15"/><circle cx="96.6" cy="778.8" r="3.15"/><circle cx="111.3" cy="795.5" r="3.15"/><circle cx="103.7" cy="776.1" r="3.15"/><circle cx="99.3" cy="787.3" r="3.15"/><circle cx="107.9" cy="764.6" r="3.15"/><circle cx="104.2" cy="777.5" r="3.15"/><circle cx="91.6" cy="795.0" r="3.15"/><circle cx="109.2" cy="782.6" r="3.15"/><circle cx="101.7" cy="780.0" r="3.15"/><circle cx="90.0" cy="802.6" r="3.15"/><circle cx="101.7" cy="800.9" r="3.15"/><circle cx="92.6" cy="792.6" r="3.15"/><circle cx="98.9" cy="786.0" r="3.15"/><circle cx="113.3" cy="769.4" r="3.15"/><circle cx="98.3" cy="761.5" r="3.15"/><circle cx="111.6" cy="771.9" r="3.15"/><circle cx="103.1" cy="763.1" r="3.15"/><circle cx="106.5" cy="777.3" r="3.15"/><circle cx="91.0" cy="768.7" r="3.15"/><circle cx="99.9" cy="793.9" r="3.15"/><circle cx="95.5" cy="799.3" r="3.15"/><circle cx="101.7" cy="764.7" r="3.15"/><circle cx="94.7" cy="775.9" r="3.15"/><circle cx="101.3" cy="769.6" r="3.15"/><circle cx="98.8" cy="783.7" r="3.15"/><circle cx="100.2" cy="778.3" r="3.15"/><circle cx="100.1" cy="777.6" r="3.15"/><circle cx="104.8" cy="772.7" r="3.15"/><circle cx="92.0" cy="794.1" r="3.15"/><circle cx="94.3" cy="760.9" r="3.15"/><circle cx="92.7" cy="780.3" r="3.15"/><circle cx="92.1" cy="772.3" r="3.15"/><circle cx="92.2" cy="777.2" r="3.15"/><circle cx="99.0" cy="776.6" r="3.15"/><circle cx="103.9" cy="791.1" r="3.15"/><circle cx="108.5" cy="792.6" r="3.15"/><circle cx="96.7" cy="774.6" r="3.15"/><circle cx="97.4" cy="783.5" r="3.15"/><circle cx="84.2" cy="778.0" r="3.15"/><circle cx="95.3" cy="790.3" r="3.15"/><circle cx="98.3" cy="774.6" r="3.15"/><circle cx="102.2" cy="799.4" r="3.15"/><circle cx="99.6" cy="769.6" r="3.15"/><circle cx="92.9" cy="763.3" r="3.15"/><circle cx="99.9" cy="767.9" r="3.15"/><circle cx="94.3" cy="785.8" r="3.15"/><circle cx="108.6" cy="764.5" r="3.15"/><circle cx="114.0" cy="782.6" r="3.15"/><circle cx="96.5" cy="766.8" r="3.15"/><circle cx="113.6" cy="786.2" r="3.15"/><circle cx="93.4" cy="794.3" r="3.15"/><circle cx="106.8" cy="799.2" r="3.15"/><circle cx="101.8" cy="782.0" r="3.15"/><circle cx="98.9" cy="781.5" r="3.15"/><circle cx="109.3" cy="777.3" r="3.15"/><circle cx="103.1" cy="786.7" r="3.15"/><circle cx="104.3" cy="785.8" r="3.15"/><circle cx="84.2" cy="760.3" r="3.15"/><circle cx="92.4" cy="777.9" r="3.15"/><circle cx="93.3" cy="800.2" r="3.15"/><circle cx="106.1" cy="791.4" r="3.15"/><circle cx="98.3" cy="791.0" r="3.15"/><circle cx="110.5" cy="767.2" r="3.15"/><circle cx="99.5" cy="772.9" r="3.15"/><circle cx="96.5" cy="788.6" r="3.15"/><circle cx="88.2" cy="776.0" r="3.15"/><circle cx="94.1" cy="767.7" r="3.15"/><circle cx="99.0" cy="785.1" r="3.15"/><circle cx="98.1" cy="786.5" r="3.15"/><circle cx="105.6" cy="792.9" r="3.15"/><circle cx="98.4" cy="781.8" r="3.15"/><circle cx="90.5" cy="785.7" r="3.15"/><circle cx="108.5" cy="777.1" r="3.15"/><circle cx="87.9" cy="778.2" r="3.15"/><circle cx="88.9" cy="774.4" r="3.15"/><circle cx="104.1" cy="806.4" r="3.15"/><circle cx="99.4" cy="763.3" r="3.15"/><circle cx="102.6" cy="787.7" r="3.15"/><circle cx="101.3" cy="790.8" r="3.15"/><circle cx="92.4" cy="791.4" r="3.15"/><circle cx="101.3" cy="769.9" r="3.15"/><circle cx="104.5" cy="790.6" r="3.15"/><circle cx="104.3" cy="777.7" r="3.15"/><circle cx="109.9" cy="755.5" r="3.15"/><circle cx="98.6" cy="795.8" r="3.15"/><circle cx="107.5" cy="800.2" r="3.15"/><circle cx="90.4" cy="786.6" r="3.15"/><circle cx="93.2" cy="776.8" r="3.15"/><circle cx="102.4" cy="797.9" r="3.15"/><circle cx="101.0" cy="775.3" r="3.15"/><circle cx="98.5" cy="784.5" r="3.15"/><circle cx="107.9" cy="786.7" r="3.15"/><circle cx="96.2" cy="789.0" r="3.15"/><circle cx="100.6" cy="789.3" r="3.15"/><circle cx="98.6" cy="776.7" r="3.15"/><circle cx="105.1" cy="787.5" r="3.15"/><circle cx="109.2" cy="785.2" r="3.15"/><circle cx="93.0" cy="747.0" r="3.15"/><circle cx="94.0" cy="752.0" r="3.15"/><circle cx="93.0" cy="757.0" r="3.15"/><circle cx="99.0" cy="756.0" r="3.15"/><circle cx="112.6" cy="756.6" r="3.15"/><circle cx="99.0" cy="760.0" r="3.15"/><circle cx="104.0" cy="763.0" r="3.15"/><circle cx="108.0" cy="764.0" r="3.15"/><circle cx="80.0" cy="761.0" r="3.15"/><circle cx="76.4" cy="766.0" r="3.15"/><circle cx="118.0" cy="767.4" r="3.15"/><circle cx="125.6" cy="767.0" r="3.15"/><circle cx="138.0" cy="774.0" r="3.15"/><circle cx="130.0" cy="776.6" r="3.15"/><circle cx="127.0" cy="781.0" r="3.15"/><circle cx="120.0" cy="780.0" r="3.15"/><circle cx="129.0" cy="789.0" r="3.15"/><circle cx="127.0" cy="792.4" r="3.15"/><circle cx="131.0" cy="791.6" r="3.15"/><circle cx="136.6" cy="796.0" r="3.15"/><circle cx="141.0" cy="798.0" r="3.15"/><circle cx="145.6" cy="797.6" r="3.15"/><circle cx="131.0" cy="802.0" r="3.15"/><circle cx="118.0" cy="803.6" r="3.15"/><circle cx="119.0" cy="793.0" r="3.15"/><circle cx="127.0" cy="808.0" r="3.15"/><circle cx="119.0" cy="812.4" r="3.15"/><circle cx="132.6" cy="813.6" r="3.15"/><circle cx="140.6" cy="821.0" r="3.15"/><circle cx="149.6" cy="825.6" r="3.15"/><circle cx="154.0" cy="830.4" r="3.15"/><circle cx="162.4" cy="827.0" r="3.15"/><circle cx="158.0" cy="833.0" r="3.15"/><circle cx="151.0" cy="836.0" r="3.15"/><circle cx="170.0" cy="833.0" r="3.15"/><circle cx="180.0" cy="836.0" r="3.15"/><circle cx="169.4" cy="769.6" r="3.15"/><circle cx="170.0" cy="781.6" r="3.15"/><circle cx="174.4" cy="786.6" r="3.15"/><circle cx="177.0" cy="787.6" r="3.15"/><circle cx="166.6" cy="789.0" r="3.15"/><circle cx="183.6" cy="787.6" r="3.15"/><circle cx="184.4" cy="776.6" r="3.15"/><circle cx="187.0" cy="769.0" r="3.15"/><circle cx="184.0" cy="802.6" r="3.15"/><circle cx="187.0" cy="818.0" r="3.15"/><circle cx="87.0" cy="771.0" r="3.15"/><circle cx="88.0" cy="781.0" r="3.15"/><circle cx="84.0" cy="791.0" r="3.15"/><circle cx="86.0" cy="799.0" r="3.15"/><circle cx="85.0" cy="808.0" r="3.15"/><circle cx="92.0" cy="803.0" r="3.15"/><circle cx="98.0" cy="815.0" r="3.15"/><circle cx="83.0" cy="815.0" r="3.15"/><circle cx="87.0" cy="818.0" r="3.15"/><circle cx="110.0" cy="809.0" r="3.15"/><circle cx="112.0" cy="817.0" r="3.15"/><circle cx="120.0" cy="821.0" r="3.15"/><circle cx="123.0" cy="824.0" r="3.15"/><circle cx="107.4" cy="869.5" r="3.15"/><circle cx="106.4" cy="823.1" r="3.15"/><circle cx="90.7" cy="844.6" r="3.15"/><circle cx="116.2" cy="857.2" r="3.15"/><circle cx="113.6" cy="839.7" r="3.15"/><circle cx="92.6" cy="851.6" r="3.15"/><circle cx="115.7" cy="847.2" r="3.15"/><circle cx="100.4" cy="855.3" r="3.15"/><circle cx="90.3" cy="863.7" r="3.15"/><circle cx="94.6" cy="849.8" r="3.15"/><circle cx="115.6" cy="863.8" r="3.15"/><circle cx="86.9" cy="880.3" r="3.15"/><circle cx="104.0" cy="864.9" r="3.15"/><circle cx="94.5" cy="840.6" r="3.15"/><circle cx="88.3" cy="841.8" r="3.15"/><circle cx="108.9" cy="824.7" r="3.15"/><circle cx="83.2" cy="832.4" r="3.15"/><circle cx="91.8" cy="875.4" r="3.15"/><circle cx="115.9" cy="855.5" r="3.15"/><circle cx="82.7" cy="858.4" r="3.15"/><circle cx="83.1" cy="820.5" r="3.15"/><circle cx="100.4" cy="861.4" r="3.15"/><circle cx="101.6" cy="822.9" r="3.15"/><circle cx="105.2" cy="869.8" r="3.15"/><circle cx="93.2" cy="849.0" r="3.15"/><circle cx="89.4" cy="823.5" r="3.15"/><circle cx="87.6" cy="843.9" r="3.15"/><circle cx="111.9" cy="849.8" r="3.15"/><circle cx="103.6" cy="822.8" r="3.15"/><circle cx="112.2" cy="867.7" r="3.15"/><circle cx="93.1" cy="858.3" r="3.15"/><circle cx="104.9" cy="821.6" r="3.15"/><circle cx="113.0" cy="863.1" r="3.15"/><circle cx="81.4" cy="849.5" r="3.15"/><circle cx="102.1" cy="866.5" r="3.15"/><circle cx="109.8" cy="833.6" r="3.15"/><circle cx="109.1" cy="840.2" r="3.15"/><circle cx="98.5" cy="864.6" r="3.15"/><circle cx="92.6" cy="847.9" r="3.15"/><circle cx="106.6" cy="825.0" r="3.15"/><circle cx="93.2" cy="868.6" r="3.15"/><circle cx="110.3" cy="836.2" r="3.15"/><circle cx="85.0" cy="870.0" r="3.15"/><circle cx="109.3" cy="846.0" r="3.15"/><circle cx="99.4" cy="822.9" r="3.15"/><circle cx="109.5" cy="842.0" r="3.15"/><circle cx="99.1" cy="837.7" r="3.15"/><circle cx="103.4" cy="845.0" r="3.15"/><circle cx="83.5" cy="878.5" r="3.15"/><circle cx="113.7" cy="859.2" r="3.15"/><circle cx="85.2" cy="855.4" r="3.15"/><circle cx="97.6" cy="853.8" r="3.15"/><circle cx="84.2" cy="869.1" r="3.15"/><circle cx="99.9" cy="848.8" r="3.15"/><circle cx="95.2" cy="849.0" r="3.15"/><circle cx="112.9" cy="860.1" r="3.15"/><circle cx="83.2" cy="817.5" r="3.15"/><circle cx="88.5" cy="821.6" r="3.15"/><circle cx="95.2" cy="855.9" r="3.15"/><circle cx="93.6" cy="828.7" r="3.15"/><circle cx="92.0" cy="851.3" r="3.15"/><circle cx="96.3" cy="846.4" r="3.15"/><circle cx="88.8" cy="846.3" r="3.15"/><circle cx="96.0" cy="859.9" r="3.15"/><circle cx="106.7" cy="863.6" r="3.15"/><circle cx="102.1" cy="853.6" r="3.15"/><circle cx="102.5" cy="849.7" r="3.15"/><circle cx="105.5" cy="847.4" r="3.15"/><circle cx="97.0" cy="854.8" r="3.15"/><circle cx="82.1" cy="818.4" r="3.15"/><circle cx="103.2" cy="840.8" r="3.15"/><circle cx="107.8" cy="868.3" r="3.15"/><circle cx="84.5" cy="859.6" r="3.15"/><circle cx="109.2" cy="849.2" r="3.15"/><circle cx="97.9" cy="854.1" r="3.15"/><circle cx="103.4" cy="842.4" r="3.15"/><circle cx="103.5" cy="820.6" r="3.15"/><circle cx="99.9" cy="847.8" r="3.15"/><circle cx="85.7" cy="836.1" r="3.15"/><circle cx="109.9" cy="836.8" r="3.15"/><circle cx="107.9" cy="831.2" r="3.15"/><circle cx="82.7" cy="861.0" r="3.15"/><circle cx="89.8" cy="831.7" r="3.15"/><circle cx="107.4" cy="841.4" r="3.15"/><circle cx="98.8" cy="840.0" r="3.15"/><circle cx="108.0" cy="834.9" r="3.15"/><circle cx="102.7" cy="841.8" r="3.15"/><circle cx="86.5" cy="849.2" r="3.15"/><circle cx="84.4" cy="865.3" r="3.15"/><circle cx="83.9" cy="818.1" r="3.15"/><circle cx="103.7" cy="836.1" r="3.15"/><circle cx="97.4" cy="860.3" r="3.15"/><circle cx="105.2" cy="850.6" r="3.15"/><circle cx="82.5" cy="875.7" r="3.15"/><circle cx="112.6" cy="847.2" r="3.15"/><circle cx="103.5" cy="824.3" r="3.15"/><circle cx="94.2" cy="854.2" r="3.15"/><circle cx="96.9" cy="823.1" r="3.15"/><circle cx="101.7" cy="819.3" r="3.15"/><circle cx="86.2" cy="873.8" r="3.15"/><circle cx="116.3" cy="858.1" r="3.15"/><circle cx="99.1" cy="867.4" r="3.15"/><circle cx="81.4" cy="855.4" r="3.15"/><circle cx="95.0" cy="835.3" r="3.15"/><circle cx="88.0" cy="822.8" r="3.15"/><circle cx="83.4" cy="871.1" r="3.15"/><circle cx="101.4" cy="850.9" r="3.15"/><circle cx="110.9" cy="833.6" r="3.15"/><circle cx="82.1" cy="821.5" r="3.15"/><circle cx="99.7" cy="859.7" r="3.15"/><circle cx="85.5" cy="874.8" r="3.15"/><circle cx="103.0" cy="862.4" r="3.15"/><circle cx="84.1" cy="836.7" r="3.15"/><circle cx="115.7" cy="846.8" r="3.15"/><circle cx="115.1" cy="851.4" r="3.15"/><circle cx="106.3" cy="846.8" r="3.15"/><circle cx="104.6" cy="834.0" r="3.15"/><circle cx="95.1" cy="864.7" r="3.15"/><circle cx="91.0" cy="867.5" r="3.15"/><circle cx="91.5" cy="831.2" r="3.15"/><circle cx="84.5" cy="875.0" r="3.15"/><circle cx="89.9" cy="860.9" r="3.15"/><circle cx="112.0" cy="864.1" r="3.15"/><circle cx="82.9" cy="832.6" r="3.15"/><circle cx="109.1" cy="854.7" r="3.15"/><circle cx="104.7" cy="869.7" r="3.15"/><circle cx="93.6" cy="867.2" r="3.15"/><circle cx="101.2" cy="846.5" r="3.15"/><circle cx="82.7" cy="819.7" r="3.15"/><circle cx="111.2" cy="867.0" r="3.15"/><circle cx="82.6" cy="873.7" r="3.15"/><circle cx="89.0" cy="827.4" r="3.15"/><circle cx="88.8" cy="847.2" r="3.15"/><circle cx="95.4" cy="856.0" r="3.15"/><circle cx="106.9" cy="858.5" r="3.15"/><circle cx="100.8" cy="822.7" r="3.15"/><circle cx="113.5" cy="864.5" r="3.15"/><circle cx="101.2" cy="867.1" r="3.15"/><circle cx="100.0" cy="857.5" r="3.15"/><circle cx="82.9" cy="878.1" r="3.15"/><circle cx="112.7" cy="848.5" r="3.15"/><circle cx="98.8" cy="843.3" r="3.15"/><circle cx="87.9" cy="858.5" r="3.15"/><circle cx="83.8" cy="821.8" r="3.15"/><circle cx="81.9" cy="865.7" r="3.15"/><circle cx="112.4" cy="866.4" r="3.15"/><circle cx="94.0" cy="846.8" r="3.15"/><circle cx="107.4" cy="850.1" r="3.15"/><circle cx="88.7" cy="853.7" r="3.15"/><circle cx="111.2" cy="844.5" r="3.15"/><circle cx="94.8" cy="831.3" r="3.15"/><circle cx="116.0" cy="844.8" r="3.15"/><circle cx="95.3" cy="826.9" r="3.15"/><circle cx="84.2" cy="825.1" r="3.15"/><circle cx="102.7" cy="829.6" r="3.15"/><circle cx="92.1" cy="857.7" r="3.15"/><circle cx="109.1" cy="849.8" r="3.15"/><circle cx="84.0" cy="816.9" r="3.15"/><circle cx="90.8" cy="855.3" r="3.15"/><circle cx="80.6" cy="828.2" r="3.15"/><circle cx="103.3" cy="830.5" r="3.15"/><circle cx="115.2" cy="839.9" r="3.15"/><circle cx="114.8" cy="859.8" r="3.15"/><circle cx="97.6" cy="836.0" r="3.15"/><circle cx="82.2" cy="859.1" r="3.15"/><circle cx="106.0" cy="850.6" r="3.15"/><circle cx="100.4" cy="832.3" r="3.15"/><circle cx="95.5" cy="836.7" r="3.15"/><circle cx="108.6" cy="858.1" r="3.15"/><circle cx="89.1" cy="825.3" r="3.15"/><circle cx="90.6" cy="878.5" r="3.15"/><circle cx="97.1" cy="860.5" r="3.15"/><circle cx="80.9" cy="858.7" r="3.15"/><circle cx="112.0" cy="834.1" r="3.15"/><circle cx="87.6" cy="843.7" r="3.15"/><circle cx="82.4" cy="836.7" r="3.15"/><circle cx="112.5" cy="846.1" r="3.15"/><circle cx="102.5" cy="831.7" r="3.15"/><circle cx="114.1" cy="847.1" r="3.15"/><circle cx="91.1" cy="839.5" r="3.15"/><circle cx="98.5" cy="865.0" r="3.15"/><circle cx="82.0" cy="869.5" r="3.15"/><circle cx="90.2" cy="834.9" r="3.15"/><circle cx="96.7" cy="841.3" r="3.15"/><circle cx="110.9" cy="835.5" r="3.15"/><circle cx="83.7" cy="817.8" r="3.15"/><circle cx="107.6" cy="830.9" r="3.15"/><circle cx="102.7" cy="844.1" r="3.15"/><circle cx="93.3" cy="837.2" r="3.15"/><circle cx="110.1" cy="846.7" r="3.15"/><circle cx="103.0" cy="861.1" r="3.15"/><circle cx="102.3" cy="835.8" r="3.15"/><circle cx="96.9" cy="836.6" r="3.15"/><circle cx="93.2" cy="837.9" r="3.15"/><circle cx="102.3" cy="861.5" r="3.15"/><circle cx="82.4" cy="859.6" r="3.15"/><circle cx="83.2" cy="834.2" r="3.15"/><circle cx="103.2" cy="846.3" r="3.15"/><circle cx="91.8" cy="837.1" r="3.15"/><circle cx="93.4" cy="835.3" r="3.15"/><circle cx="82.9" cy="871.3" r="3.15"/><circle cx="102.0" cy="838.8" r="3.15"/><circle cx="106.3" cy="836.4" r="3.15"/><circle cx="96.3" cy="828.5" r="3.15"/><circle cx="96.1" cy="840.6" r="3.15"/><circle cx="84.9" cy="866.6" r="3.15"/><circle cx="83.3" cy="851.4" r="3.15"/><circle cx="91.9" cy="844.3" r="3.15"/><circle cx="108.8" cy="840.1" r="3.15"/><circle cx="110.5" cy="844.4" r="3.15"/><circle cx="103.2" cy="858.9" r="3.15"/><circle cx="110.8" cy="852.0" r="3.15"/><circle cx="103.6" cy="825.3" r="3.15"/><circle cx="111.7" cy="866.6" r="3.15"/><circle cx="94.3" cy="839.7" r="3.15"/><circle cx="108.2" cy="854.6" r="3.15"/><circle cx="109.0" cy="842.1" r="3.15"/><circle cx="104.6" cy="849.9" r="3.15"/><circle cx="105.5" cy="855.2" r="3.15"/><circle cx="114.7" cy="836.9" r="3.15"/><circle cx="88.1" cy="838.6" r="3.15"/><circle cx="85.2" cy="830.7" r="3.15"/><circle cx="110.8" cy="865.7" r="3.15"/><circle cx="105.9" cy="859.3" r="3.15"/><circle cx="101.6" cy="851.4" r="3.15"/><circle cx="94.4" cy="826.8" r="3.15"/><circle cx="102.6" cy="856.6" r="3.15"/><circle cx="108.2" cy="849.5" r="3.15"/><circle cx="82.4" cy="858.8" r="3.15"/><circle cx="97.7" cy="847.5" r="3.15"/><circle cx="104.0" cy="847.9" r="3.15"/><circle cx="97.7" cy="862.6" r="3.15"/><circle cx="81.9" cy="828.0" r="3.15"/><circle cx="112.6" cy="839.9" r="3.15"/><circle cx="81.9" cy="827.5" r="3.15"/><circle cx="102.9" cy="857.9" r="3.15"/><circle cx="94.4" cy="865.5" r="3.15"/><circle cx="93.2" cy="863.7" r="3.15"/><circle cx="104.0" cy="822.5" r="3.15"/><circle cx="113.1" cy="835.6" r="3.15"/><circle cx="92.0" cy="835.7" r="3.15"/><circle cx="112.4" cy="860.5" r="3.15"/><circle cx="95.0" cy="842.8" r="3.15"/><circle cx="111.3" cy="850.3" r="3.15"/><circle cx="106.4" cy="866.2" r="3.15"/><circle cx="92.9" cy="844.7" r="3.15"/><circle cx="107.1" cy="858.8" r="3.15"/><circle cx="85.7" cy="861.9" r="3.15"/><circle cx="101.7" cy="841.6" r="3.15"/><circle cx="82.2" cy="834.3" r="3.15"/><circle cx="88.2" cy="818.5" r="3.15"/><circle cx="104.6" cy="831.5" r="3.15"/><circle cx="88.8" cy="877.6" r="3.15"/><circle cx="102.1" cy="838.2" r="3.15"/><circle cx="95.5" cy="858.9" r="3.15"/><circle cx="97.2" cy="821.2" r="3.15"/><circle cx="94.8" cy="822.6" r="3.15"/><circle cx="91.8" cy="865.6" r="3.15"/><circle cx="106.4" cy="834.4" r="3.15"/><circle cx="87.9" cy="847.5" r="3.15"/><circle cx="85.2" cy="821.1" r="3.15"/><circle cx="87.0" cy="832.9" r="3.15"/><circle cx="94.3" cy="833.2" r="3.15"/><circle cx="90.4" cy="825.1" r="3.15"/><circle cx="96.8" cy="847.9" r="3.15"/><circle cx="84.1" cy="834.9" r="3.15"/><circle cx="94.7" cy="848.9" r="3.15"/><circle cx="101.7" cy="821.6" r="3.15"/><circle cx="95.1" cy="865.9" r="3.15"/><circle cx="81.6" cy="866.7" r="3.15"/><circle cx="107.9" cy="833.2" r="3.15"/><circle cx="81.8" cy="858.0" r="3.15"/><circle cx="85.6" cy="870.8" r="3.15"/><circle cx="85.0" cy="833.1" r="3.15"/><circle cx="87.6" cy="854.1" r="3.15"/><circle cx="96.2" cy="845.1" r="3.15"/><circle cx="81.6" cy="823.7" r="3.15"/><circle cx="114.5" cy="846.7" r="3.15"/><circle cx="86.1" cy="863.8" r="3.15"/><circle cx="109.8" cy="845.8" r="3.15"/><circle cx="102.2" cy="868.1" r="3.15"/><circle cx="108.1" cy="841.1" r="3.15"/><circle cx="97.2" cy="863.0" r="3.15"/><circle cx="107.1" cy="863.1" r="3.15"/><circle cx="93.4" cy="857.2" r="3.15"/><circle cx="105.0" cy="867.3" r="3.15"/><circle cx="86.9" cy="859.4" r="3.15"/><circle cx="88.3" cy="876.8" r="3.15"/><circle cx="87.9" cy="827.8" r="3.15"/><circle cx="88.8" cy="829.3" r="3.15"/><circle cx="103.2" cy="834.5" r="3.15"/><circle cx="82.5" cy="846.9" r="3.15"/><circle cx="92.9" cy="836.2" r="3.15"/><circle cx="104.5" cy="825.6" r="3.15"/><circle cx="98.6" cy="843.6" r="3.15"/><circle cx="111.6" cy="833.1" r="3.15"/><circle cx="87.0" cy="826.9" r="3.15"/><circle cx="104.3" cy="837.3" r="3.15"/><circle cx="81.8" cy="855.0" r="3.15"/><circle cx="116.6" cy="854.5" r="3.15"/><circle cx="103.2" cy="839.4" r="3.15"/><circle cx="86.6" cy="847.3" r="3.15"/><circle cx="91.6" cy="866.1" r="3.15"/><circle cx="96.0" cy="831.8" r="3.15"/><circle cx="80.1" cy="855.9" r="3.15"/><circle cx="101.6" cy="855.9" r="3.15"/><circle cx="94.6" cy="859.5" r="3.15"/><circle cx="89.2" cy="854.1" r="3.15"/><circle cx="83.7" cy="857.8" r="3.15"/><circle cx="110.1" cy="834.3" r="3.15"/><circle cx="89.1" cy="859.0" r="3.15"/><circle cx="84.2" cy="846.6" r="3.15"/><circle cx="102.7" cy="849.3" r="3.15"/><circle cx="85.5" cy="860.4" r="3.15"/><circle cx="107.3" cy="852.3" r="3.15"/><circle cx="92.2" cy="845.1" r="3.15"/><circle cx="93.7" cy="849.9" r="3.15"/><circle cx="89.7" cy="836.4" r="3.15"/><circle cx="94.2" cy="840.0" r="3.15"/><circle cx="97.4" cy="845.2" r="3.15"/><circle cx="98.8" cy="840.0" r="3.15"/><circle cx="86.7" cy="845.0" r="3.15"/><circle cx="98.8" cy="831.3" r="3.15"/><circle cx="103.9" cy="865.9" r="3.15"/><circle cx="113.1" cy="840.6" r="3.15"/><circle cx="103.5" cy="840.1" r="3.15"/><circle cx="108.2" cy="846.4" r="3.15"/><circle cx="97.0" cy="828.8" r="3.15"/><circle cx="94.6" cy="841.2" r="3.15"/><circle cx="85.4" cy="865.9" r="3.15"/><circle cx="109.9" cy="843.0" r="3.15"/><circle cx="92.7" cy="847.9" r="3.15"/><circle cx="103.0" cy="846.1" r="3.15"/><circle cx="101.2" cy="846.5" r="3.15"/><circle cx="110.6" cy="863.5" r="3.15"/><circle cx="92.2" cy="862.7" r="3.15"/><circle cx="103.8" cy="860.3" r="3.15"/><circle cx="94.2" cy="842.7" r="3.15"/><circle cx="99.6" cy="867.2" r="3.15"/><circle cx="105.6" cy="854.1" r="3.15"/><circle cx="91.2" cy="833.9" r="3.15"/><circle cx="104.0" cy="828.7" r="3.15"/><circle cx="104.8" cy="848.0" r="3.15"/><circle cx="103.6" cy="849.4" r="3.15"/><circle cx="91.4" cy="850.0" r="3.15"/><circle cx="110.6" cy="860.3" r="3.15"/><circle cx="94.8" cy="874.5" r="3.15"/><circle cx="86.7" cy="843.2" r="3.15"/><circle cx="97.4" cy="858.1" r="3.15"/><circle cx="104.5" cy="844.6" r="3.15"/><circle cx="100.8" cy="848.6" r="3.15"/><circle cx="80.1" cy="842.6" r="3.15"/><circle cx="85.0" cy="855.4" r="3.15"/><circle cx="98.2" cy="835.1" r="3.15"/><circle cx="87.3" cy="842.6" r="3.15"/><circle cx="85.4" cy="859.9" r="3.15"/><circle cx="89.6" cy="851.0" r="3.15"/><circle cx="99.0" cy="838.9" r="3.15"/><circle cx="107.2" cy="854.7" r="3.15"/><circle cx="85.8" cy="825.7" r="3.15"/><circle cx="100.5" cy="870.6" r="3.15"/><circle cx="106.9" cy="830.9" r="3.15"/><circle cx="100.5" cy="848.6" r="3.15"/><circle cx="97.4" cy="864.3" r="3.15"/><circle cx="103.8" cy="841.2" r="3.15"/><circle cx="104.1" cy="859.4" r="3.15"/><circle cx="86.7" cy="849.3" r="3.15"/><circle cx="97.8" cy="835.1" r="3.15"/><circle cx="105.1" cy="857.4" r="3.15"/><circle cx="108.6" cy="851.5" r="3.15"/><circle cx="96.9" cy="836.8" r="3.15"/><circle cx="97.9" cy="849.1" r="3.15"/><circle cx="96.1" cy="859.1" r="3.15"/><circle cx="102.6" cy="841.4" r="3.15"/><circle cx="86.3" cy="839.6" r="3.15"/><circle cx="90.7" cy="835.7" r="3.15"/><circle cx="98.5" cy="855.7" r="3.15"/><circle cx="86.4" cy="852.0" r="3.15"/><circle cx="80.6" cy="859.0" r="3.15"/><circle cx="91.8" cy="833.5" r="3.15"/><circle cx="89.2" cy="845.2" r="3.15"/><circle cx="107.2" cy="854.6" r="3.15"/><circle cx="91.5" cy="833.9" r="3.15"/><circle cx="91.4" cy="859.7" r="3.15"/><circle cx="98.0" cy="834.7" r="3.15"/><circle cx="105.5" cy="846.7" r="3.15"/><circle cx="101.1" cy="842.5" r="3.15"/><circle cx="84.6" cy="859.0" r="3.15"/><circle cx="114.3" cy="827.5" r="3.15"/><circle cx="83.9" cy="849.9" r="3.15"/><circle cx="98.1" cy="853.2" r="3.15"/><circle cx="93.6" cy="873.7" r="3.15"/><circle cx="103.8" cy="863.0" r="3.15"/><circle cx="111.2" cy="828.0" r="3.15"/><circle cx="99.9" cy="857.6" r="3.15"/><circle cx="90.6" cy="848.4" r="3.15"/><circle cx="95.1" cy="839.5" r="3.15"/><circle cx="82.2" cy="862.1" r="3.15"/><circle cx="93.7" cy="824.7" r="3.15"/><circle cx="104.9" cy="858.2" r="3.15"/><circle cx="101.4" cy="859.1" r="3.15"/><circle cx="102.1" cy="855.0" r="3.15"/><circle cx="106.2" cy="855.5" r="3.15"/><circle cx="98.1" cy="862.7" r="3.15"/><circle cx="110.2" cy="854.2" r="3.15"/><circle cx="86.0" cy="860.9" r="3.15"/><circle cx="99.7" cy="839.0" r="3.15"/><circle cx="102.1" cy="845.2" r="3.15"/><circle cx="94.2" cy="850.5" r="3.15"/><circle cx="108.3" cy="844.9" r="3.15"/><circle cx="81.0" cy="859.4" r="3.15"/><circle cx="97.0" cy="850.0" r="3.15"/><circle cx="106.4" cy="844.5" r="3.15"/><circle cx="84.2" cy="841.5" r="3.15"/><circle cx="92.4" cy="840.6" r="3.15"/><circle cx="102.7" cy="856.2" r="3.15"/><circle cx="104.6" cy="843.1" r="3.15"/><circle cx="89.2" cy="848.3" r="3.15"/><circle cx="107.6" cy="867.7" r="3.15"/><circle cx="115.3" cy="838.8" r="3.15"/><circle cx="97.8" cy="861.0" r="3.15"/><circle cx="94.7" cy="860.4" r="3.15"/><circle cx="100.6" cy="858.0" r="3.15"/><circle cx="95.4" cy="840.1" r="3.15"/><circle cx="104.0" cy="868.3" r="3.15"/><circle cx="93.3" cy="855.6" r="3.15"/><circle cx="84.6" cy="862.5" r="3.15"/><circle cx="94.2" cy="840.3" r="3.15"/><circle cx="91.9" cy="858.0" r="3.15"/><circle cx="115.1" cy="830.3" r="3.15"/><circle cx="113.4" cy="833.5" r="3.15"/><circle cx="94.9" cy="855.5" r="3.15"/><circle cx="88.1" cy="850.4" r="3.15"/><circle cx="95.6" cy="825.9" r="3.15"/><circle cx="100.4" cy="837.0" r="3.15"/><circle cx="86.4" cy="853.3" r="3.15"/><circle cx="85.7" cy="871.4" r="3.15"/><circle cx="87.9" cy="836.7" r="3.15"/><circle cx="90.1" cy="844.2" r="3.15"/><circle cx="80.9" cy="864.4" r="3.15"/><circle cx="92.8" cy="859.2" r="3.15"/><circle cx="112.3" cy="856.0" r="3.15"/><circle cx="92.7" cy="838.0" r="3.15"/><circle cx="107.6" cy="848.3" r="3.15"/><circle cx="106.4" cy="833.2" r="3.15"/><circle cx="101.4" cy="850.7" r="3.15"/><circle cx="91.8" cy="868.6" r="3.15"/><circle cx="101.9" cy="845.4" r="3.15"/><circle cx="98.8" cy="846.9" r="3.15"/><circle cx="95.4" cy="847.3" r="3.15"/><circle cx="95.8" cy="830.8" r="3.15"/><circle cx="91.5" cy="844.2" r="3.15"/><circle cx="111.0" cy="831.8" r="3.15"/><circle cx="101.9" cy="848.1" r="3.15"/><circle cx="88.6" cy="843.5" r="3.15"/><circle cx="103.6" cy="840.2" r="3.15"/><circle cx="96.2" cy="833.2" r="3.15"/><circle cx="91.8" cy="845.1" r="3.15"/><circle cx="115.6" cy="852.6" r="3.15"/><circle cx="94.6" cy="862.3" r="3.15"/><circle cx="99.0" cy="835.7" r="3.15"/><circle cx="102.4" cy="852.0" r="3.15"/><circle cx="88.3" cy="853.6" r="3.15"/><circle cx="95.9" cy="836.6" r="3.15"/><circle cx="87.4" cy="850.4" r="3.15"/><circle cx="92.9" cy="851.9" r="3.15"/><circle cx="84.6" cy="857.6" r="3.15"/><circle cx="106.4" cy="838.5" r="3.15"/><circle cx="94.9" cy="857.9" r="3.15"/><circle cx="103.8" cy="864.6" r="3.15"/><circle cx="100.5" cy="839.2" r="3.15"/><circle cx="107.2" cy="841.0" r="3.15"/><circle cx="100.7" cy="836.4" r="3.15"/><circle cx="99.5" cy="844.3" r="3.15"/><circle cx="102.5" cy="862.9" r="3.15"/><circle cx="109.5" cy="849.6" r="3.15"/><circle cx="86.1" cy="830.8" r="3.15"/><circle cx="94.1" cy="838.8" r="3.15"/><circle cx="93.2" cy="856.9" r="3.15"/><circle cx="96.2" cy="850.7" r="3.15"/><circle cx="106.3" cy="847.8" r="3.15"/><circle cx="92.0" cy="857.3" r="3.15"/><circle cx="115.2" cy="836.3" r="3.15"/><circle cx="90.6" cy="841.7" r="3.15"/><circle cx="89.9" cy="848.4" r="3.15"/><circle cx="89.4" cy="834.7" r="3.15"/><circle cx="100.3" cy="844.8" r="3.15"/><circle cx="90.6" cy="848.6" r="3.15"/><circle cx="96.9" cy="852.9" r="3.15"/><circle cx="104.6" cy="850.9" r="3.15"/><circle cx="92.0" cy="870.4" r="3.15"/><circle cx="96.1" cy="858.3" r="3.15"/><circle cx="84.9" cy="846.7" r="3.15"/><circle cx="110.9" cy="853.3" r="3.15"/><circle cx="85.7" cy="863.4" r="3.15"/><circle cx="87.0" cy="850.1" r="3.15"/><circle cx="93.2" cy="848.9" r="3.15"/><circle cx="85.4" cy="851.2" r="3.15"/><circle cx="102.1" cy="838.3" r="3.15"/><circle cx="102.9" cy="853.2" r="3.15"/><circle cx="88.0" cy="834.4" r="3.15"/><circle cx="101.1" cy="851.5" r="3.15"/><circle cx="105.1" cy="842.0" r="3.15"/><circle cx="91.5" cy="860.9" r="3.15"/><circle cx="108.3" cy="848.4" r="3.15"/><circle cx="98.7" cy="847.5" r="3.15"/><circle cx="102.5" cy="856.6" r="3.15"/><circle cx="99.1" cy="874.0" r="3.15"/><circle cx="105.2" cy="852.1" r="3.15"/><circle cx="96.6" cy="875.0" r="3.15"/><circle cx="118.0" cy="859.4" r="3.15"/><circle cx="123.3" cy="863.7" r="3.15"/><circle cx="139.4" cy="864.9" r="3.15"/><circle cx="135.9" cy="857.5" r="3.15"/><circle cx="143.0" cy="861.5" r="3.15"/><circle cx="156.2" cy="862.9" r="3.15"/><circle cx="134.3" cy="865.4" r="3.15"/><circle cx="123.4" cy="856.4" r="3.15"/><circle cx="132.2" cy="852.3" r="3.15"/><circle cx="132.9" cy="850.6" r="3.15"/><circle cx="143.3" cy="864.6" r="3.15"/><circle cx="126.5" cy="858.1" r="3.15"/><circle cx="135.0" cy="847.3" r="3.15"/><circle cx="143.0" cy="855.9" r="3.15"/><circle cx="133.2" cy="864.4" r="3.15"/><circle cx="136.6" cy="854.1" r="3.15"/><circle cx="151.4" cy="862.6" r="3.15"/><circle cx="134.4" cy="844.3" r="3.15"/><circle cx="150.9" cy="867.2" r="3.15"/><circle cx="116.7" cy="859.4" r="3.15"/><circle cx="122.8" cy="859.3" r="3.15"/><circle cx="130.8" cy="853.5" r="3.15"/><circle cx="138.2" cy="862.8" r="3.15"/><circle cx="129.7" cy="845.2" r="3.15"/><circle cx="122.1" cy="853.6" r="3.15"/><circle cx="129.3" cy="858.7" r="3.15"/><circle cx="125.6" cy="841.2" r="3.15"/><circle cx="135.2" cy="857.9" r="3.15"/><circle cx="138.5" cy="867.9" r="3.15"/><circle cx="115.5" cy="847.0" r="3.15"/><circle cx="138.1" cy="857.1" r="3.15"/><circle cx="123.8" cy="863.9" r="3.15"/><circle cx="134.4" cy="862.6" r="3.15"/><circle cx="134.8" cy="870.0" r="3.15"/><circle cx="126.2" cy="842.0" r="3.15"/><circle cx="130.5" cy="857.6" r="3.15"/><circle cx="163.9" cy="855.6" r="3.15"/><circle cx="143.7" cy="864.4" r="3.15"/><circle cx="122.2" cy="841.2" r="3.15"/><circle cx="137.2" cy="863.5" r="3.15"/><circle cx="124.6" cy="855.1" r="3.15"/><circle cx="117.2" cy="853.0" r="3.15"/><circle cx="131.2" cy="861.8" r="3.15"/><circle cx="127.3" cy="852.5" r="3.15"/><circle cx="130.3" cy="853.2" r="3.15"/><circle cx="128.3" cy="868.0" r="3.15"/><circle cx="140.4" cy="861.5" r="3.15"/><circle cx="159.9" cy="855.0" r="3.15"/><circle cx="122.5" cy="851.3" r="3.15"/><circle cx="148.2" cy="872.0" r="3.15"/><circle cx="147.2" cy="863.5" r="3.15"/><circle cx="149.3" cy="871.3" r="3.15"/><circle cx="125.6" cy="869.0" r="3.15"/><circle cx="131.7" cy="848.4" r="3.15"/><circle cx="144.3" cy="859.7" r="3.15"/><circle cx="127.8" cy="864.0" r="3.15"/><circle cx="137.4" cy="854.6" r="3.15"/><circle cx="133.9" cy="849.4" r="3.15"/><circle cx="143.1" cy="868.6" r="3.15"/><circle cx="130.7" cy="859.1" r="3.15"/><circle cx="135.6" cy="861.9" r="3.15"/><circle cx="122.7" cy="849.9" r="3.15"/><circle cx="137.4" cy="856.0" r="3.15"/><circle cx="129.6" cy="861.6" r="3.15"/><circle cx="132.7" cy="849.6" r="3.15"/><circle cx="128.2" cy="859.7" r="3.15"/><circle cx="127.1" cy="859.4" r="3.15"/><circle cx="116.7" cy="855.2" r="3.15"/><circle cx="135.9" cy="855.9" r="3.15"/><circle cx="138.2" cy="870.5" r="3.15"/><circle cx="125.7" cy="862.8" r="3.15"/><circle cx="122.0" cy="861.8" r="3.15"/><circle cx="120.3" cy="859.4" r="3.15"/><circle cx="153.8" cy="853.9" r="3.15"/><circle cx="136.3" cy="850.2" r="3.15"/><circle cx="145.1" cy="867.5" r="3.15"/><circle cx="143.9" cy="863.7" r="3.15"/><circle cx="135.9" cy="849.9" r="3.15"/><circle cx="136.2" cy="868.3" r="3.15"/><circle cx="150.0" cy="860.2" r="3.15"/><circle cx="125.3" cy="864.7" r="3.15"/><circle cx="120.4" cy="847.1" r="3.15"/><circle cx="128.5" cy="855.8" r="3.15"/><circle cx="130.5" cy="859.1" r="3.15"/><circle cx="125.6" cy="862.6" r="3.15"/><circle cx="139.9" cy="849.3" r="3.15"/><circle cx="148.8" cy="871.0" r="3.15"/><circle cx="121.0" cy="835.3" r="3.15"/><circle cx="138.0" cy="863.1" r="3.15"/><circle cx="131.5" cy="853.1" r="3.15"/><circle cx="142.5" cy="863.1" r="3.15"/><circle cx="119.6" cy="854.1" r="3.15"/><circle cx="132.9" cy="865.0" r="3.15"/><circle cx="121.6" cy="861.2" r="3.15"/><circle cx="140.3" cy="864.2" r="3.15"/><circle cx="144.4" cy="856.9" r="3.15"/><circle cx="127.2" cy="857.4" r="3.15"/><circle cx="134.1" cy="856.0" r="3.15"/><circle cx="130.6" cy="842.8" r="3.15"/><circle cx="122.1" cy="855.4" r="3.15"/><circle cx="120.1" cy="843.4" r="3.15"/><circle cx="132.9" cy="864.1" r="3.15"/><circle cx="125.9" cy="854.1" r="3.15"/><circle cx="121.3" cy="855.4" r="3.15"/><circle cx="134.2" cy="854.4" r="3.15"/><circle cx="149.4" cy="867.5" r="3.15"/><circle cx="122.3" cy="848.9" r="3.15"/><circle cx="132.4" cy="852.7" r="3.15"/><circle cx="125.2" cy="854.8" r="3.15"/><circle cx="126.4" cy="851.6" r="3.15"/><circle cx="140.6" cy="852.2" r="3.15"/><circle cx="121.5" cy="869.2" r="3.15"/><circle cx="147.3" cy="866.0" r="3.15"/><circle cx="122.5" cy="848.5" r="3.15"/><circle cx="133.9" cy="869.0" r="3.15"/><circle cx="118.1" cy="855.8" r="3.15"/><circle cx="132.9" cy="859.1" r="3.15"/><circle cx="126.2" cy="856.9" r="3.15"/><circle cx="150.0" cy="855.2" r="3.15"/><circle cx="116.9" cy="860.4" r="3.15"/><circle cx="142.6" cy="858.4" r="3.15"/><circle cx="120.1" cy="838.2" r="3.15"/><circle cx="134.6" cy="855.2" r="3.15"/><circle cx="134.2" cy="858.0" r="3.15"/><circle cx="139.2" cy="872.1" r="3.15"/><circle cx="138.4" cy="852.2" r="3.15"/><circle cx="120.5" cy="857.9" r="3.15"/><circle cx="112.3" cy="860.6" r="3.15"/><circle cx="133.2" cy="866.7" r="3.15"/><circle cx="123.2" cy="859.1" r="3.15"/><circle cx="142.4" cy="862.9" r="3.15"/><circle cx="122.5" cy="864.7" r="3.15"/><circle cx="142.0" cy="857.5" r="3.15"/><circle cx="118.5" cy="857.3" r="3.15"/><circle cx="141.0" cy="858.8" r="3.15"/><circle cx="133.3" cy="861.0" r="3.15"/><circle cx="139.2" cy="863.9" r="3.15"/><circle cx="125.0" cy="858.7" r="3.15"/><circle cx="120.8" cy="849.8" r="3.15"/><circle cx="148.1" cy="863.3" r="3.15"/><circle cx="143.0" cy="862.7" r="3.15"/><circle cx="130.8" cy="859.0" r="3.15"/><circle cx="137.3" cy="855.1" r="3.15"/><circle cx="114.6" cy="846.8" r="3.15"/><circle cx="144.9" cy="861.1" r="3.15"/><circle cx="139.3" cy="855.0" r="3.15"/><circle cx="127.8" cy="872.2" r="3.15"/><circle cx="145.7" cy="870.8" r="3.15"/><circle cx="136.9" cy="849.9" r="3.15"/><circle cx="141.4" cy="863.7" r="3.15"/><circle cx="131.3" cy="862.8" r="3.15"/><circle cx="126.7" cy="873.5" r="3.15"/><circle cx="150.0" cy="866.3" r="3.15"/><circle cx="131.0" cy="870.3" r="3.15"/><circle cx="121.7" cy="863.3" r="3.15"/><circle cx="129.5" cy="842.6" r="3.15"/><circle cx="119.3" cy="866.3" r="3.15"/><circle cx="149.5" cy="858.8" r="3.15"/><circle cx="149.9" cy="857.1" r="3.15"/><circle cx="133.6" cy="862.1" r="3.15"/><circle cx="122.1" cy="862.9" r="3.15"/><circle cx="136.8" cy="852.1" r="3.15"/><circle cx="134.6" cy="861.4" r="3.15"/><circle cx="133.0" cy="869.3" r="3.15"/><circle cx="151.8" cy="855.3" r="3.15"/><circle cx="136.9" cy="852.0" r="3.15"/><circle cx="128.2" cy="868.6" r="3.15"/><circle cx="140.2" cy="877.6" r="3.15"/><circle cx="146.9" cy="869.8" r="3.15"/><circle cx="120.9" cy="851.0" r="3.15"/><circle cx="112.5" cy="845.3" r="3.15"/><circle cx="123.8" cy="864.5" r="3.15"/><circle cx="151.9" cy="852.2" r="3.15"/><circle cx="152.7" cy="861.1" r="3.15"/><circle cx="132.9" cy="853.4" r="3.15"/><circle cx="170.9" cy="861.3" r="3.15"/><circle cx="167.9" cy="853.5" r="3.15"/><circle cx="165.7" cy="867.4" r="3.15"/><circle cx="150.7" cy="860.1" r="3.15"/><circle cx="177.6" cy="868.5" r="3.15"/><circle cx="172.7" cy="858.7" r="3.15"/><circle cx="165.1" cy="858.6" r="3.15"/><circle cx="176.2" cy="849.2" r="3.15"/><circle cx="173.8" cy="860.3" r="3.15"/><circle cx="160.7" cy="870.3" r="3.15"/><circle cx="165.6" cy="860.0" r="3.15"/><circle cx="153.8" cy="864.3" r="3.15"/><circle cx="150.9" cy="856.3" r="3.15"/><circle cx="158.5" cy="860.1" r="3.15"/><circle cx="180.1" cy="863.5" r="3.15"/><circle cx="175.4" cy="846.4" r="3.15"/><circle cx="172.5" cy="853.1" r="3.15"/><circle cx="180.1" cy="849.7" r="3.15"/><circle cx="167.1" cy="863.2" r="3.15"/><circle cx="153.1" cy="873.7" r="3.15"/><circle cx="151.5" cy="865.6" r="3.15"/><circle cx="158.6" cy="864.7" r="3.15"/><circle cx="168.2" cy="854.2" r="3.15"/><circle cx="174.5" cy="844.5" r="3.15"/><circle cx="157.6" cy="861.3" r="3.15"/><circle cx="179.5" cy="855.0" r="3.15"/><circle cx="170.8" cy="859.4" r="3.15"/><circle cx="165.0" cy="844.4" r="3.15"/><circle cx="164.3" cy="861.8" r="3.15"/><circle cx="155.5" cy="861.7" r="3.15"/><circle cx="158.7" cy="860.8" r="3.15"/><circle cx="153.8" cy="853.3" r="3.15"/><circle cx="154.5" cy="846.7" r="3.15"/><circle cx="150.5" cy="861.4" r="3.15"/><circle cx="167.2" cy="868.7" r="3.15"/><circle cx="178.2" cy="861.3" r="3.15"/><circle cx="179.7" cy="854.8" r="3.15"/><circle cx="169.0" cy="851.1" r="3.15"/><circle cx="155.0" cy="848.6" r="3.15"/><circle cx="172.9" cy="852.4" r="3.15"/><circle cx="146.1" cy="846.8" r="3.15"/><circle cx="164.8" cy="858.3" r="3.15"/><circle cx="171.1" cy="862.6" r="3.15"/><circle cx="164.0" cy="874.0" r="3.15"/><circle cx="152.0" cy="870.1" r="3.15"/><circle cx="160.8" cy="849.2" r="3.15"/><circle cx="156.6" cy="858.9" r="3.15"/><circle cx="153.5" cy="866.3" r="3.15"/><circle cx="150.0" cy="862.6" r="3.15"/><circle cx="167.0" cy="875.3" r="3.15"/><circle cx="165.4" cy="853.8" r="3.15"/><circle cx="176.6" cy="843.1" r="3.15"/><circle cx="158.9" cy="867.0" r="3.15"/><circle cx="162.6" cy="865.8" r="3.15"/><circle cx="171.5" cy="841.6" r="3.15"/><circle cx="161.9" cy="859.1" r="3.15"/><circle cx="156.2" cy="844.5" r="3.15"/><circle cx="173.3" cy="855.8" r="3.15"/><circle cx="178.1" cy="856.2" r="3.15"/><circle cx="153.2" cy="847.3" r="3.15"/><circle cx="167.6" cy="865.1" r="3.15"/><circle cx="180.5" cy="857.5" r="3.15"/><circle cx="156.3" cy="866.0" r="3.15"/><circle cx="167.2" cy="840.5" r="3.15"/><circle cx="165.2" cy="870.5" r="3.15"/><circle cx="165.5" cy="844.1" r="3.15"/><circle cx="163.8" cy="852.5" r="3.15"/><circle cx="153.6" cy="837.7" r="3.15"/><circle cx="170.0" cy="857.4" r="3.15"/><circle cx="173.1" cy="872.7" r="3.15"/><circle cx="149.5" cy="851.7" r="3.15"/><circle cx="176.8" cy="851.9" r="3.15"/><circle cx="144.0" cy="892.0" r="3.15"/><circle cx="148.0" cy="889.4" r="3.15"/><circle cx="153.0" cy="890.0" r="3.15"/><circle cx="155.0" cy="894.0" r="3.15"/><circle cx="149.4" cy="895.4" r="3.15"/><circle cx="146.0" cy="896.6" r="3.15"/><circle cx="159.0" cy="898.4" r="3.15"/><circle cx="152.0" cy="901.6" r="3.15"/><circle cx="140.0" cy="900.0" r="3.15"/><circle cx="167.6" cy="897.0" r="3.15"/><circle cx="172.4" cy="896.6" r="3.15"/><circle cx="86.0" cy="884.0" r="3.15"/><circle cx="95.0" cy="884.0" r="3.15"/><circle cx="80.0" cy="878.4" r="3.15"/><circle cx="111.0" cy="878.0" r="3.15"/><circle cx="112.0" cy="872.4" r="3.15"/><circle cx="119.0" cy="868.0" r="3.15"/><circle cx="131.0" cy="873.0" r="3.15"/><circle cx="136.0" cy="875.0" r="3.15"/><circle cx="138.0" cy="882.0" r="3.15"/><circle cx="140.0" cy="881.0" r="3.15"/><circle cx="153.0" cy="882.0" r="3.15"/><circle cx="154.0" cy="879.0" r="3.15"/><circle cx="179.0" cy="880.0" r="3.15"/><circle cx="204.0" cy="766.0" r="3.15"/><circle cx="192.0" cy="771.0" r="3.15"/><circle cx="196.4" cy="770.4" r="3.15"/><circle cx="190.0" cy="775.4" r="3.15"/><circle cx="195.0" cy="778.6" r="3.15"/><circle cx="196.4" cy="779.4" r="3.15"/><circle cx="223.0" cy="773.0" r="3.15"/><circle cx="201.0" cy="788.0" r="3.15"/><circle cx="206.6" cy="788.6" r="3.15"/><circle cx="194.4" cy="796.6" r="3.15"/><circle cx="205.6" cy="802.4" r="3.15"/><circle cx="191.0" cy="837.6" r="3.15"/><circle cx="203.0" cy="837.6" r="3.15"/><circle cx="220.0" cy="838.6" r="3.15"/><circle cx="233.6" cy="839.0" r="3.15"/><circle cx="182.0" cy="842.6" r="3.15"/><circle cx="194.0" cy="842.0" r="3.15"/><circle cx="200.0" cy="842.4" r="3.15"/><circle cx="212.0" cy="841.6" r="3.15"/><circle cx="225.6" cy="842.0" r="3.15"/><circle cx="231.0" cy="846.0" r="3.15"/><circle cx="183.0" cy="847.0" r="3.15"/><circle cx="188.0" cy="847.0" r="3.15"/><circle cx="211.0" cy="846.0" r="3.15"/><circle cx="215.6" cy="847.0" r="3.15"/><circle cx="220.0" cy="848.0" r="3.15"/><circle cx="186.0" cy="850.0" r="3.15"/><circle cx="212.0" cy="849.4" r="3.15"/><circle cx="222.4" cy="850.6" r="3.15"/><circle cx="227.0" cy="851.0" r="3.15"/><circle cx="197.0" cy="851.0" r="3.15"/><circle cx="213.0" cy="852.4" r="3.15"/><circle cx="201.0" cy="853.6" r="3.15"/><circle cx="198.0" cy="855.4" r="3.15"/><circle cx="222.0" cy="854.0" r="3.15"/><circle cx="228.6" cy="856.6" r="3.15"/><circle cx="242.0" cy="857.0" r="3.15"/><circle cx="255.0" cy="852.6" r="3.15"/><circle cx="259.0" cy="850.6" r="3.15"/><circle cx="265.4" cy="853.4" r="3.15"/><circle cx="181.0" cy="853.0" r="3.15"/><circle cx="192.0" cy="857.4" r="3.15"/><circle cx="222.0" cy="858.0" r="3.15"/><circle cx="187.0" cy="860.0" r="3.15"/><circle cx="185.0" cy="862.0" r="3.15"/><circle cx="203.0" cy="861.0" r="3.15"/><circle cx="209.0" cy="859.6" r="3.15"/><circle cx="212.0" cy="861.0" r="3.15"/><circle cx="232.4" cy="862.0" r="3.15"/><circle cx="218.0" cy="864.4" r="3.15"/><circle cx="193.0" cy="865.4" r="3.15"/><circle cx="204.0" cy="865.0" r="3.15"/><circle cx="202.0" cy="867.0" r="3.15"/><circle cx="181.0" cy="865.0" r="3.15"/><circle cx="237.0" cy="869.6" r="3.15"/><circle cx="209.0" cy="869.0" r="3.15"/><circle cx="217.0" cy="868.6" r="3.15"/><circle cx="195.0" cy="870.0" r="3.15"/><circle cx="188.0" cy="873.0" r="3.15"/><circle cx="200.0" cy="873.0" r="3.15"/><circle cx="217.6" cy="873.6" r="3.15"/><circle cx="220.0" cy="873.0" r="3.15"/><circle cx="293.4" cy="876.6" r="3.15"/><circle cx="304.4" cy="888.0" r="3.15"/><circle cx="222.0" cy="868.6" r="3.15"/>
</g>
<rect x="56.6" y="736.9" width="260" height="236.1" fill="none" stroke="#000" stroke-width="1.28"/>
<text x="65.4" y="996.6" font-family='"Liberation Serif", serif' font-size="16" text-anchor="middle">0.00</text>
<text x="120.05" y="996.6" font-family='"Liberation Serif", serif' font-size="16" text-anchor="middle">0.25</text>
<text x="174.7" y="996.6" font-family='"Liberation Serif", serif' font-size="16" text-anchor="middle">0.50</text>
<text x="229.35" y="996.6" font-family='"Liberation Serif", serif' font-size="16" text-anchor="middle">0.75</text>
<text x="284" y="996.6" font-family='"Liberation Serif", serif' font-size="16" text-anchor="middle">1.00</text>
<text x="44.3" y="791.2" font-family='"Liberation Serif", serif' font-size="16" text-anchor="end">6</text>
<text x="44.3" y="850.8" font-family='"Liberation Serif", serif' font-size="16" text-anchor="end">4</text>
<text x="44.3" y="910.5" font-family='"Liberation Serif", serif' font-size="16" text-anchor="end">2</text>
<text x="44.3" y="970.2" font-family='"Liberation Serif", serif' font-size="16" text-anchor="end">0</text>
<path d="M65.4 973v6.24M120.05 973v6.24M174.7 973v6.24M229.35 973v6.24M284 973v6.24M56.6 785.7h-6.24M56.6 845.3h-6.24M56.6 905h-6.24M56.6 964.7h-6.24" stroke="#000" stroke-width="1.28" fill="none"/>
<path d="M282.7 1008.6L290.5 1016.4M282.7 1016.4L290.5 1008.6" stroke="#000" stroke-width="1.05" fill="none"/>
<text x="293.8" y="1017" font-family='"Liberation Serif", serif' font-size="16" text-anchor="start">10</text>
<text x="310" y="1010.4" font-family='"Liberation Serif", serif' font-size="11.2" text-anchor="start">5</text>
<text x="104.2" y="727.1" font-family='"Liberation Serif", serif' font-size="19.2" text-anchor="start" font-style="italic">ρ</text>
<text x="113.4" y="730.1" font-family='"Liberation Serif", serif' font-size="13.4" text-anchor="start" font-style="italic">s</text>
<text x="126" y="727.1" font-family='"Liberation Serif", serif' font-size="19.2" text-anchor="start" textLength="15" lengthAdjust="spacingAndGlyphs">=</text>
<text x="146.8" y="727.1" font-family='"Liberation Serif", serif' font-size="19.2" text-anchor="start">0.14</text>
<text x="181.4" y="727.1" font-family='"Liberation Serif", serif' font-size="19.2" text-anchor="start">,</text>
<text x="190.9" y="727.1" font-family='"Liberation Serif", serif' font-size="19.2" text-anchor="start" font-style="italic">ρ</text>
<text x="200.2" y="730.1" font-family='"Liberation Serif", serif' font-size="13.4" text-anchor="start" font-style="italic">p</text>
<text x="214.5" y="727.1" font-family='"Liberation Serif", serif' font-size="19.2" text-anchor="start" textLength="15" lengthAdjust="spacingAndGlyphs">=</text>
<text x="235" y="727.1" font-family='"Liberation Serif", serif' font-size="19.2" text-anchor="start">0.17</text>
<text x="186.6" y="1018.9" font-family='"Liberation Sans", sans-serif' font-size="15.3" text-anchor="middle" textLength="119" lengthAdjust="spacingAndGlyphs" class="sans"><tspan font-size="18.2" dy="0.7">(</tspan><tspan dy="-0.7">Pointcloud, CD</tspan><tspan font-size="18.2" dy="0.7">)</tspan></text>
<text x="186.6" y="1037.5" font-family='"Liberation Sans", sans-serif' font-size="15.3" text-anchor="middle" class="sans"><tspan font-size="18.2" dy="0.7">(</tspan><tspan dy="-0.7">e</tspan><tspan font-size="18.2" dy="0.7">)</tspan></text>
<g transform="translate(25.7 854.95) rotate(-90)"><text x="0" y="0" font-family='"Liberation Sans", sans-serif' font-size="15.3" text-anchor="middle" textLength="126.2" lengthAdjust="spacingAndGlyphs" class="sans"><tspan font-size="18.2" dy="0.7">(</tspan><tspan dy="-0.7">Voxel, NMF, ED</tspan><tspan font-size="18.2" dy="0.7">)</tspan></text></g>
</g>
<g id="plot-f">
<clipPath id="clip-f"><rect x="423" y="736.9" width="260" height="236.1"/></clipPath>
<g clip-path="url(#clip-f)" fill="#1f77b4" fill-opacity="0.5">
<circle cx="456.7" cy="764.9" r="3.15"/><circle cx="461.0" cy="759.5" r="3.15"/><circle cx="460.1" cy="754.5" r="3.15"/><circle cx="463.5" cy="749.5" r="3.15"/><circle cx="457.5" cy="763.1" r="3.15"/><circle cx="454.9" cy="764.9" r="3.15"/><circle cx="456.7" cy="764.5" r="3.15"/><circle cx="454.8" cy="758.9" r="3.15"/><circle cx="458.0" cy="766.9" r="3.15"/><circle cx="463.7" cy="755.6" r="3.15"/><circle cx="455.1" cy="762.3" r="3.15"/><circle cx="456.6" cy="763.2" r="3.15"/><circle cx="463.9" cy="748.6" r="3.15"/><circle cx="463.0" cy="752.7" r="3.15"/><circle cx="461.2" cy="747.0" r="3.15"/><circle cx="460.6" cy="759.9" r="3.15"/><circle cx="459.7" cy="758.4" r="3.15"/><circle cx="466.3" cy="753.3" r="3.15"/><circle cx="458.5" cy="759.7" r="3.15"/><circle cx="452.5" cy="764.0" r="3.15"/><circle cx="458.2" cy="753.9" r="3.15"/><circle cx="459.9" cy="751.9" r="3.15"/><circle cx="456.5" cy="765.9" r="3.15"/><circle cx="462.0" cy="749.9" r="3.15"/><circle cx="456.6" cy="762.3" r="3.15"/><circle cx="458.3" cy="755.5" r="3.15"/><circle cx="454.6" cy="756.2" r="3.15"/><circle cx="459.9" cy="756.0" r="3.15"/><circle cx="463.0" cy="748.4" r="3.15"/><circle cx="462.8" cy="761.0" r="3.15"/><circle cx="462.3" cy="750.7" r="3.15"/><circle cx="454.5" cy="762.4" r="3.15"/><circle cx="458.8" cy="760.6" r="3.15"/><circle cx="458.7" cy="756.9" r="3.15"/><circle cx="464.1" cy="754.3" r="3.15"/><circle cx="462.5" cy="754.3" r="3.15"/><circle cx="455.2" cy="758.0" r="3.15"/><circle cx="461.1" cy="754.4" r="3.15"/><circle cx="460.5" cy="753.5" r="3.15"/><circle cx="460.5" cy="758.2" r="3.15"/><circle cx="463.3" cy="752.7" r="3.15"/><circle cx="457.0" cy="752.1" r="3.15"/><circle cx="459.6" cy="754.7" r="3.15"/><circle cx="454.2" cy="765.0" r="3.15"/><circle cx="460.3" cy="751.0" r="3.15"/><circle cx="460.8" cy="754.8" r="3.15"/><circle cx="460.7" cy="753.3" r="3.15"/><circle cx="459.4" cy="762.9" r="3.15"/><circle cx="465.2" cy="752.6" r="3.15"/><circle cx="460.9" cy="747.4" r="3.15"/><circle cx="465.2" cy="756.0" r="3.15"/><circle cx="463.0" cy="754.4" r="3.15"/><circle cx="452.6" cy="763.2" r="3.15"/><circle cx="458.4" cy="753.7" r="3.15"/><circle cx="456.8" cy="758.8" r="3.15"/><circle cx="464.8" cy="749.3" r="3.15"/><circle cx="460.7" cy="764.1" r="3.15"/><circle cx="459.9" cy="765.9" r="3.15"/><circle cx="458.2" cy="766.6" r="3.15"/><circle cx="457.9" cy="760.8" r="3.15"/><circle cx="461.8" cy="748.3" r="3.15"/><circle cx="459.7" cy="749.6" r="3.15"/><circle cx="463.5" cy="751.5" r="3.15"/><circle cx="462.9" cy="754.4" r="3.15"/><circle cx="459.7" cy="755.4" r="3.15"/><circle cx="460.7" cy="763.2" r="3.15"/><circle cx="458.8" cy="760.6" r="3.15"/><circle cx="452.7" cy="764.4" r="3.15"/><circle cx="454.9" cy="764.2" r="3.15"/><circle cx="460.2" cy="761.3" r="3.15"/><circle cx="454.4" cy="764.0" r="3.15"/><circle cx="462.0" cy="752.4" r="3.15"/><circle cx="465.8" cy="749.3" r="3.15"/><circle cx="464.5" cy="748.7" r="3.15"/><circle cx="461.6" cy="753.8" r="3.15"/><circle cx="460.0" cy="771.0" r="3.15"/><circle cx="470.6" cy="763.6" r="3.15"/><circle cx="457.0" cy="768.6" r="3.15"/><circle cx="467.0" cy="748.0" r="3.15"/><circle cx="481.5" cy="761.6" r="3.15"/><circle cx="484.5" cy="765.0" r="3.15"/><circle cx="480.4" cy="760.0" r="3.15"/><circle cx="478.1" cy="761.0" r="3.15"/><circle cx="488.3" cy="764.1" r="3.15"/><circle cx="484.3" cy="761.1" r="3.15"/><circle cx="485.7" cy="763.5" r="3.15"/><circle cx="479.4" cy="762.1" r="3.15"/><circle cx="488.0" cy="765.8" r="3.15"/><circle cx="481.2" cy="760.0" r="3.15"/><circle cx="489.4" cy="761.0" r="3.15"/><circle cx="480.2" cy="763.4" r="3.15"/><circle cx="477.8" cy="758.9" r="3.15"/><circle cx="488.5" cy="766.8" r="3.15"/><circle cx="479.7" cy="759.2" r="3.15"/><circle cx="486.5" cy="762.1" r="3.15"/><circle cx="485.1" cy="758.1" r="3.15"/><circle cx="479.3" cy="758.3" r="3.15"/><circle cx="483.6" cy="761.2" r="3.15"/><circle cx="477.5" cy="757.1" r="3.15"/><circle cx="484.2" cy="756.9" r="3.15"/><circle cx="479.7" cy="764.0" r="3.15"/><circle cx="479.0" cy="759.4" r="3.15"/><circle cx="478.1" cy="762.1" r="3.15"/><circle cx="489.0" cy="754.0" r="3.15"/><circle cx="494.6" cy="753.6" r="3.15"/><circle cx="477.0" cy="757.4" r="3.15"/><circle cx="492.0" cy="764.0" r="3.15"/><circle cx="486.0" cy="768.0" r="3.15"/><circle cx="507.6" cy="773.5" r="3.15"/><circle cx="503.1" cy="776.6" r="3.15"/><circle cx="499.1" cy="776.3" r="3.15"/><circle cx="503.0" cy="780.2" r="3.15"/><circle cx="503.0" cy="777.2" r="3.15"/><circle cx="500.7" cy="772.3" r="3.15"/><circle cx="496.9" cy="775.2" r="3.15"/><circle cx="503.6" cy="776.3" r="3.15"/><circle cx="501.9" cy="780.1" r="3.15"/><circle cx="500.8" cy="781.3" r="3.15"/><circle cx="499.5" cy="776.9" r="3.15"/><circle cx="504.5" cy="776.2" r="3.15"/><circle cx="491.6" cy="781.0" r="3.15"/><circle cx="498.0" cy="771.4" r="3.15"/><circle cx="510.0" cy="784.0" r="3.15"/><circle cx="514.4" cy="783.0" r="3.15"/><circle cx="513.0" cy="778.0" r="3.15"/><circle cx="515.0" cy="773.0" r="3.15"/><circle cx="499.0" cy="782.0" r="3.15"/><circle cx="516.1" cy="761.8" r="3.15"/><circle cx="527.1" cy="765.4" r="3.15"/><circle cx="516.1" cy="783.0" r="3.15"/><circle cx="519.0" cy="767.6" r="3.15"/><circle cx="515.9" cy="768.0" r="3.15"/><circle cx="520.6" cy="766.3" r="3.15"/><circle cx="522.7" cy="768.0" r="3.15"/><circle cx="520.5" cy="757.5" r="3.15"/><circle cx="528.0" cy="771.6" r="3.15"/><circle cx="527.0" cy="757.8" r="3.15"/><circle cx="530.5" cy="775.7" r="3.15"/><circle cx="523.4" cy="769.1" r="3.15"/><circle cx="524.6" cy="764.5" r="3.15"/><circle cx="520.9" cy="770.0" r="3.15"/><circle cx="522.8" cy="761.7" r="3.15"/><circle cx="525.5" cy="767.9" r="3.15"/><circle cx="514.9" cy="770.6" r="3.15"/><circle cx="533.7" cy="772.6" r="3.15"/><circle cx="534.3" cy="769.1" r="3.15"/><circle cx="528.0" cy="769.5" r="3.15"/><circle cx="518.4" cy="754.9" r="3.15"/><circle cx="522.4" cy="765.9" r="3.15"/><circle cx="525.0" cy="765.4" r="3.15"/><circle cx="527.8" cy="763.4" r="3.15"/><circle cx="523.7" cy="766.5" r="3.15"/><circle cx="530.0" cy="774.6" r="3.15"/><circle cx="517.1" cy="765.2" r="3.15"/><circle cx="527.1" cy="773.8" r="3.15"/><circle cx="520.2" cy="773.2" r="3.15"/><circle cx="533.8" cy="778.9" r="3.15"/><circle cx="525.1" cy="770.9" r="3.15"/><circle cx="527.4" cy="772.8" r="3.15"/><circle cx="526.1" cy="775.1" r="3.15"/><circle cx="527.6" cy="763.2" r="3.15"/><circle cx="543.0" cy="772.4" r="3.15"/><circle cx="548.0" cy="765.0" r="3.15"/><circle cx="553.0" cy="762.6" r="3.15"/><circle cx="521.0" cy="759.0" r="3.15"/><circle cx="526.0" cy="760.0" r="3.15"/><circle cx="535.0" cy="768.0" r="3.15"/><circle cx="449.9" cy="832.8" r="3.15"/><circle cx="459.7" cy="822.0" r="3.15"/><circle cx="456.9" cy="821.2" r="3.15"/><circle cx="454.1" cy="817.6" r="3.15"/><circle cx="460.3" cy="829.3" r="3.15"/><circle cx="448.2" cy="826.4" r="3.15"/><circle cx="461.5" cy="823.6" r="3.15"/><circle cx="445.4" cy="826.5" r="3.15"/><circle cx="453.1" cy="826.3" r="3.15"/><circle cx="448.3" cy="816.3" r="3.15"/><circle cx="452.4" cy="815.4" r="3.15"/><circle cx="455.4" cy="816.4" r="3.15"/><circle cx="466.6" cy="819.4" r="3.15"/><circle cx="446.2" cy="824.5" r="3.15"/><circle cx="451.5" cy="821.6" r="3.15"/><circle cx="452.7" cy="827.7" r="3.15"/><circle cx="453.6" cy="827.5" r="3.15"/><circle cx="458.5" cy="818.2" r="3.15"/><circle cx="457.1" cy="822.9" r="3.15"/><circle cx="453.8" cy="822.6" r="3.15"/><circle cx="452.7" cy="827.0" r="3.15"/><circle cx="464.3" cy="818.4" r="3.15"/><circle cx="454.2" cy="827.5" r="3.15"/><circle cx="444.7" cy="827.4" r="3.15"/><circle cx="453.4" cy="834.7" r="3.15"/><circle cx="455.1" cy="822.4" r="3.15"/><circle cx="456.1" cy="825.0" r="3.15"/><circle cx="456.6" cy="829.1" r="3.15"/><circle cx="450.5" cy="829.0" r="3.15"/><circle cx="450.6" cy="821.8" r="3.15"/><circle cx="447.4" cy="830.7" r="3.15"/><circle cx="458.8" cy="820.5" r="3.15"/><circle cx="463.9" cy="824.1" r="3.15"/><circle cx="448.0" cy="824.9" r="3.15"/><circle cx="454.7" cy="829.4" r="3.15"/><circle cx="449.1" cy="821.6" r="3.15"/><circle cx="453.1" cy="825.2" r="3.15"/><circle cx="460.7" cy="826.7" r="3.15"/><circle cx="450.3" cy="830.3" r="3.15"/><circle cx="457.1" cy="825.9" r="3.15"/><circle cx="459.2" cy="826.4" r="3.15"/><circle cx="448.8" cy="827.4" r="3.15"/><circle cx="452.4" cy="826.4" r="3.15"/><circle cx="454.7" cy="826.4" r="3.15"/><circle cx="464.2" cy="820.3" r="3.15"/><circle cx="453.7" cy="826.3" r="3.15"/><circle cx="460.1" cy="824.5" r="3.15"/><circle cx="456.0" cy="821.0" r="3.15"/><circle cx="457.7" cy="827.9" r="3.15"/><circle cx="462.2" cy="830.3" r="3.15"/><circle cx="456.6" cy="826.4" r="3.15"/><circle cx="458.3" cy="827.6" r="3.15"/><circle cx="451.4" cy="825.8" r="3.15"/><circle cx="460.5" cy="825.4" r="3.15"/><circle cx="451.2" cy="827.3" r="3.15"/><circle cx="452.4" cy="831.6" r="3.15"/><circle cx="450.6" cy="833.5" r="3.15"/><circle cx="451.9" cy="827.0" r="3.15"/><circle cx="454.1" cy="818.8" r="3.15"/><circle cx="447.9" cy="819.9" r="3.15"/><circle cx="451.6" cy="821.5" r="3.15"/><circle cx="458.2" cy="823.6" r="3.15"/><circle cx="460.3" cy="817.1" r="3.15"/><circle cx="455.4" cy="819.5" r="3.15"/><circle cx="452.1" cy="825.6" r="3.15"/><circle cx="455.9" cy="824.6" r="3.15"/><circle cx="454.8" cy="828.4" r="3.15"/><circle cx="450.1" cy="829.8" r="3.15"/><circle cx="456.1" cy="822.8" r="3.15"/><circle cx="460.7" cy="826.4" r="3.15"/><circle cx="453.1" cy="819.2" r="3.15"/><circle cx="462.4" cy="824.7" r="3.15"/><circle cx="459.4" cy="819.1" r="3.15"/><circle cx="458.5" cy="821.9" r="3.15"/><circle cx="450.7" cy="835.1" r="3.15"/><circle cx="460.7" cy="830.3" r="3.15"/><circle cx="449.6" cy="831.6" r="3.15"/><circle cx="448.7" cy="828.6" r="3.15"/><circle cx="453.4" cy="825.4" r="3.15"/><circle cx="455.3" cy="820.6" r="3.15"/><circle cx="444.9" cy="833.3" r="3.15"/><circle cx="457.0" cy="818.8" r="3.15"/><circle cx="453.8" cy="825.8" r="3.15"/><circle cx="454.1" cy="835.8" r="3.15"/><circle cx="456.6" cy="829.3" r="3.15"/><circle cx="454.1" cy="817.9" r="3.15"/><circle cx="461.0" cy="826.7" r="3.15"/><circle cx="448.4" cy="824.1" r="3.15"/><circle cx="460.7" cy="825.1" r="3.15"/><circle cx="459.3" cy="834.6" r="3.15"/><circle cx="452.6" cy="819.2" r="3.15"/><circle cx="462.1" cy="828.5" r="3.15"/><circle cx="459.0" cy="819.6" r="3.15"/><circle cx="459.4" cy="818.2" r="3.15"/><circle cx="459.2" cy="824.3" r="3.15"/><circle cx="466.9" cy="817.8" r="3.15"/><circle cx="457.2" cy="829.2" r="3.15"/><circle cx="460.9" cy="817.6" r="3.15"/><circle cx="455.7" cy="825.6" r="3.15"/><circle cx="454.5" cy="819.1" r="3.15"/><circle cx="459.7" cy="823.0" r="3.15"/><circle cx="458.2" cy="822.7" r="3.15"/><circle cx="449.2" cy="825.9" r="3.15"/><circle cx="452.3" cy="825.2" r="3.15"/><circle cx="454.7" cy="822.2" r="3.15"/><circle cx="464.4" cy="826.5" r="3.15"/><circle cx="452.1" cy="818.0" r="3.15"/><circle cx="454.2" cy="828.0" r="3.15"/><circle cx="461.2" cy="830.7" r="3.15"/><circle cx="445.2" cy="822.1" r="3.15"/><circle cx="454.8" cy="827.4" r="3.15"/><circle cx="463.7" cy="827.6" r="3.15"/><circle cx="458.1" cy="829.7" r="3.15"/><circle cx="450.6" cy="825.1" r="3.15"/><circle cx="462.1" cy="828.3" r="3.15"/><circle cx="453.2" cy="830.8" r="3.15"/><circle cx="456.3" cy="820.1" r="3.15"/><circle cx="457.5" cy="818.0" r="3.15"/><circle cx="457.3" cy="826.2" r="3.15"/><circle cx="449.8" cy="826.9" r="3.15"/><circle cx="454.9" cy="824.5" r="3.15"/><circle cx="457.6" cy="829.0" r="3.15"/><circle cx="455.6" cy="818.4" r="3.15"/><circle cx="458.9" cy="827.5" r="3.15"/><circle cx="453.9" cy="824.3" r="3.15"/><circle cx="481.3" cy="823.5" r="3.15"/><circle cx="483.2" cy="820.4" r="3.15"/><circle cx="488.5" cy="818.7" r="3.15"/><circle cx="478.4" cy="821.1" r="3.15"/><circle cx="470.3" cy="834.6" r="3.15"/><circle cx="483.6" cy="813.2" r="3.15"/><circle cx="482.7" cy="828.8" r="3.15"/><circle cx="488.1" cy="821.4" r="3.15"/><circle cx="485.4" cy="813.4" r="3.15"/><circle cx="480.1" cy="811.0" r="3.15"/><circle cx="465.9" cy="830.1" r="3.15"/><circle cx="480.0" cy="821.5" r="3.15"/><circle cx="483.2" cy="816.3" r="3.15"/><circle cx="470.5" cy="822.5" r="3.15"/><circle cx="483.2" cy="822.7" r="3.15"/><circle cx="480.5" cy="824.6" r="3.15"/><circle cx="484.8" cy="821.5" r="3.15"/><circle cx="474.0" cy="820.3" r="3.15"/><circle cx="482.2" cy="827.8" r="3.15"/><circle cx="472.5" cy="822.3" r="3.15"/><circle cx="466.5" cy="825.7" r="3.15"/><circle cx="476.7" cy="838.1" r="3.15"/><circle cx="477.8" cy="834.1" r="3.15"/><circle cx="485.0" cy="829.3" r="3.15"/><circle cx="484.4" cy="829.4" r="3.15"/><circle cx="491.4" cy="814.9" r="3.15"/><circle cx="481.6" cy="828.7" r="3.15"/><circle cx="482.0" cy="819.0" r="3.15"/><circle cx="478.9" cy="827.1" r="3.15"/><circle cx="474.3" cy="825.2" r="3.15"/><circle cx="482.5" cy="821.8" r="3.15"/><circle cx="468.8" cy="829.1" r="3.15"/><circle cx="472.8" cy="825.3" r="3.15"/><circle cx="478.4" cy="811.0" r="3.15"/><circle cx="481.2" cy="825.2" r="3.15"/><circle cx="479.7" cy="814.6" r="3.15"/><circle cx="489.1" cy="826.6" r="3.15"/><circle cx="477.8" cy="831.3" r="3.15"/><circle cx="475.1" cy="824.6" r="3.15"/><circle cx="476.9" cy="830.8" r="3.15"/><circle cx="475.5" cy="833.5" r="3.15"/><circle cx="476.6" cy="812.3" r="3.15"/><circle cx="474.1" cy="829.3" r="3.15"/><circle cx="468.4" cy="826.5" r="3.15"/><circle cx="467.0" cy="824.9" r="3.15"/><circle cx="483.9" cy="829.5" r="3.15"/><circle cx="481.9" cy="829.9" r="3.15"/><circle cx="469.5" cy="825.0" r="3.15"/><circle cx="491.0" cy="825.0" r="3.15"/><circle cx="492.9" cy="817.7" r="3.15"/><circle cx="472.4" cy="822.4" r="3.15"/><circle cx="485.6" cy="819.6" r="3.15"/><circle cx="481.1" cy="826.9" r="3.15"/><circle cx="488.3" cy="818.3" r="3.15"/><circle cx="477.1" cy="829.5" r="3.15"/><circle cx="479.3" cy="824.7" r="3.15"/><circle cx="494.5" cy="817.1" r="3.15"/><circle cx="485.4" cy="827.2" r="3.15"/><circle cx="472.2" cy="830.1" r="3.15"/><circle cx="480.0" cy="831.3" r="3.15"/><circle cx="477.8" cy="826.9" r="3.15"/><circle cx="473.7" cy="830.9" r="3.15"/><circle cx="472.1" cy="816.8" r="3.15"/><circle cx="475.7" cy="826.9" r="3.15"/><circle cx="473.0" cy="825.4" r="3.15"/><circle cx="485.7" cy="821.9" r="3.15"/><circle cx="477.5" cy="825.7" r="3.15"/><circle cx="479.0" cy="816.5" r="3.15"/><circle cx="486.2" cy="820.7" r="3.15"/><circle cx="480.4" cy="828.8" r="3.15"/><circle cx="490.3" cy="825.3" r="3.15"/><circle cx="479.5" cy="823.0" r="3.15"/><circle cx="485.4" cy="813.3" r="3.15"/><circle cx="484.9" cy="819.7" r="3.15"/><circle cx="469.8" cy="831.9" r="3.15"/><circle cx="473.1" cy="818.8" r="3.15"/><circle cx="475.3" cy="826.9" r="3.15"/><circle cx="482.7" cy="829.5" r="3.15"/><circle cx="470.0" cy="828.1" r="3.15"/><circle cx="487.0" cy="806.4" r="3.15"/><circle cx="484.4" cy="820.2" r="3.15"/><circle cx="487.0" cy="816.7" r="3.15"/><circle cx="472.5" cy="822.2" r="3.15"/><circle cx="484.7" cy="822.9" r="3.15"/><circle cx="476.0" cy="831.0" r="3.15"/><circle cx="475.0" cy="818.4" r="3.15"/><circle cx="469.2" cy="831.9" r="3.15"/><circle cx="478.3" cy="816.9" r="3.15"/><circle cx="474.5" cy="836.1" r="3.15"/><circle cx="480.1" cy="815.8" r="3.15"/><circle cx="467.4" cy="823.6" r="3.15"/><circle cx="490.1" cy="812.1" r="3.15"/><circle cx="476.8" cy="829.2" r="3.15"/><circle cx="487.5" cy="831.5" r="3.15"/><circle cx="484.9" cy="820.1" r="3.15"/><circle cx="481.2" cy="820.2" r="3.15"/><circle cx="471.2" cy="825.8" r="3.15"/><circle cx="475.5" cy="833.9" r="3.15"/><circle cx="477.8" cy="823.7" r="3.15"/><circle cx="474.5" cy="834.5" r="3.15"/><circle cx="476.5" cy="824.8" r="3.15"/><circle cx="474.5" cy="829.7" r="3.15"/><circle cx="482.2" cy="823.7" r="3.15"/><circle cx="483.2" cy="817.7" r="3.15"/><circle cx="479.1" cy="828.0" r="3.15"/><circle cx="483.8" cy="819.0" r="3.15"/><circle cx="483.8" cy="824.8" r="3.15"/><circle cx="479.8" cy="831.1" r="3.15"/><circle cx="480.7" cy="823.6" r="3.15"/><circle cx="483.5" cy="820.1" r="3.15"/><circle cx="474.2" cy="824.5" r="3.15"/><circle cx="475.5" cy="826.5" r="3.15"/><circle cx="489.5" cy="827.5" r="3.15"/><circle cx="480.6" cy="817.8" r="3.15"/><circle cx="494.1" cy="819.8" r="3.15"/><circle cx="470.8" cy="830.5" r="3.15"/><circle cx="487.9" cy="827.5" r="3.15"/><circle cx="485.0" cy="829.7" r="3.15"/><circle cx="476.2" cy="835.5" r="3.15"/><circle cx="475.2" cy="831.4" r="3.15"/><circle cx="485.9" cy="829.4" r="3.15"/><circle cx="480.5" cy="816.1" r="3.15"/><circle cx="491.2" cy="813.8" r="3.15"/><circle cx="477.1" cy="817.5" r="3.15"/><circle cx="472.9" cy="834.3" r="3.15"/><circle cx="484.6" cy="815.1" r="3.15"/><circle cx="471.6" cy="838.5" r="3.15"/><circle cx="481.8" cy="826.0" r="3.15"/><circle cx="484.0" cy="816.8" r="3.15"/><circle cx="477.0" cy="822.1" r="3.15"/><circle cx="483.5" cy="819.6" r="3.15"/><circle cx="476.6" cy="828.7" r="3.15"/><circle cx="471.7" cy="824.5" r="3.15"/><circle cx="476.7" cy="816.5" r="3.15"/><circle cx="483.6" cy="817.6" r="3.15"/><circle cx="475.6" cy="826.1" r="3.15"/><circle cx="484.2" cy="819.5" r="3.15"/><circle cx="479.8" cy="817.9" r="3.15"/><circle cx="475.0" cy="828.3" r="3.15"/><circle cx="470.1" cy="819.7" r="3.15"/><circle cx="493.6" cy="830.7" r="3.15"/><circle cx="488.8" cy="820.6" r="3.15"/><circle cx="486.6" cy="822.8" r="3.15"/><circle cx="473.5" cy="821.4" r="3.15"/><circle cx="471.7" cy="827.1" r="3.15"/><circle cx="470.3" cy="816.0" r="3.15"/><circle cx="468.3" cy="825.9" r="3.15"/><circle cx="478.8" cy="828.9" r="3.15"/><circle cx="477.8" cy="821.3" r="3.15"/><circle cx="486.1" cy="813.0" r="3.15"/><circle cx="475.7" cy="818.9" r="3.15"/><circle cx="461.8" cy="820.9" r="3.15"/><circle cx="479.0" cy="817.8" r="3.15"/><circle cx="470.4" cy="820.7" r="3.15"/><circle cx="483.1" cy="831.5" r="3.15"/><circle cx="476.1" cy="822.4" r="3.15"/><circle cx="465.7" cy="831.7" r="3.15"/><circle cx="464.0" cy="825.4" r="3.15"/><circle cx="482.2" cy="828.5" r="3.15"/><circle cx="474.8" cy="817.4" r="3.15"/><circle cx="473.7" cy="830.9" r="3.15"/><circle cx="481.1" cy="836.0" r="3.15"/><circle cx="488.3" cy="817.6" r="3.15"/><circle cx="479.8" cy="824.9" r="3.15"/><circle cx="479.0" cy="815.7" r="3.15"/><circle cx="493.6" cy="829.7" r="3.15"/><circle cx="476.2" cy="821.6" r="3.15"/><circle cx="481.8" cy="821.0" r="3.15"/><circle cx="474.5" cy="820.6" r="3.15"/><circle cx="482.6" cy="821.0" r="3.15"/><circle cx="487.4" cy="825.8" r="3.15"/><circle cx="469.4" cy="820.2" r="3.15"/><circle cx="467.1" cy="816.7" r="3.15"/><circle cx="483.7" cy="818.5" r="3.15"/><circle cx="472.4" cy="829.4" r="3.15"/><circle cx="475.9" cy="815.0" r="3.15"/><circle cx="483.2" cy="818.6" r="3.15"/><circle cx="476.5" cy="818.0" r="3.15"/><circle cx="473.2" cy="821.2" r="3.15"/><circle cx="477.5" cy="818.1" r="3.15"/><circle cx="481.3" cy="815.8" r="3.15"/><circle cx="482.0" cy="829.1" r="3.15"/><circle cx="482.7" cy="831.1" r="3.15"/><circle cx="476.1" cy="835.7" r="3.15"/><circle cx="481.0" cy="809.5" r="3.15"/><circle cx="492.8" cy="813.9" r="3.15"/><circle cx="479.1" cy="828.7" r="3.15"/><circle cx="482.8" cy="829.1" r="3.15"/><circle cx="479.2" cy="821.1" r="3.15"/><circle cx="485.7" cy="818.5" r="3.15"/><circle cx="468.3" cy="816.6" r="3.15"/><circle cx="475.5" cy="829.1" r="3.15"/><circle cx="480.3" cy="819.5" r="3.15"/><circle cx="491.3" cy="824.2" r="3.15"/><circle cx="479.6" cy="827.0" r="3.15"/><circle cx="479.1" cy="824.0" r="3.15"/><circle cx="486.0" cy="813.8" r="3.15"/><circle cx="470.0" cy="820.7" r="3.15"/><circle cx="480.7" cy="819.1" r="3.15"/><circle cx="477.5" cy="824.6" r="3.15"/><circle cx="478.0" cy="821.8" r="3.15"/><circle cx="473.7" cy="812.5" r="3.15"/><circle cx="470.4" cy="825.9" r="3.15"/><circle cx="466.0" cy="828.6" r="3.15"/><circle cx="477.8" cy="837.6" r="3.15"/><circle cx="481.0" cy="819.2" r="3.15"/><circle cx="473.1" cy="828.4" r="3.15"/><circle cx="481.5" cy="818.7" r="3.15"/><circle cx="479.5" cy="829.7" r="3.15"/><circle cx="487.0" cy="819.2" r="3.15"/><circle cx="478.8" cy="836.3" r="3.15"/><circle cx="473.7" cy="820.3" r="3.15"/><circle cx="470.4" cy="827.8" r="3.15"/><circle cx="475.9" cy="823.1" r="3.15"/><circle cx="482.2" cy="816.8" r="3.15"/><circle cx="476.0" cy="834.3" r="3.15"/><circle cx="474.5" cy="826.4" r="3.15"/><circle cx="481.7" cy="819.1" r="3.15"/><circle cx="485.2" cy="826.4" r="3.15"/><circle cx="473.1" cy="825.2" r="3.15"/><circle cx="484.0" cy="812.5" r="3.15"/><circle cx="483.1" cy="825.6" r="3.15"/><circle cx="471.7" cy="821.2" r="3.15"/><circle cx="484.6" cy="818.2" r="3.15"/><circle cx="480.1" cy="823.1" r="3.15"/><circle cx="472.4" cy="821.7" r="3.15"/><circle cx="489.4" cy="818.6" r="3.15"/><circle cx="486.5" cy="823.3" r="3.15"/><circle cx="470.7" cy="816.7" r="3.15"/><circle cx="482.1" cy="818.5" r="3.15"/><circle cx="488.6" cy="815.6" r="3.15"/><circle cx="476.1" cy="831.1" r="3.15"/><circle cx="474.0" cy="828.3" r="3.15"/><circle cx="477.5" cy="832.2" r="3.15"/><circle cx="473.0" cy="830.9" r="3.15"/><circle cx="487.0" cy="809.9" r="3.15"/><circle cx="491.3" cy="813.9" r="3.15"/><circle cx="484.6" cy="811.1" r="3.15"/><circle cx="483.9" cy="817.5" r="3.15"/><circle cx="484.8" cy="813.2" r="3.15"/><circle cx="492.5" cy="809.4" r="3.15"/><circle cx="487.3" cy="813.4" r="3.15"/><circle cx="482.7" cy="808.9" r="3.15"/><circle cx="482.4" cy="814.4" r="3.15"/><circle cx="490.7" cy="813.9" r="3.15"/><circle cx="487.4" cy="814.5" r="3.15"/><circle cx="494.9" cy="811.1" r="3.15"/><circle cx="486.9" cy="811.8" r="3.15"/><circle cx="486.4" cy="810.6" r="3.15"/><circle cx="488.9" cy="809.4" r="3.15"/><circle cx="477.9" cy="812.7" r="3.15"/><circle cx="483.2" cy="813.3" r="3.15"/><circle cx="486.4" cy="809.2" r="3.15"/><circle cx="491.8" cy="815.9" r="3.15"/><circle cx="484.7" cy="815.6" r="3.15"/><circle cx="485.3" cy="812.6" r="3.15"/><circle cx="485.9" cy="809.1" r="3.15"/><circle cx="485.2" cy="815.0" r="3.15"/><circle cx="486.4" cy="813.8" r="3.15"/><circle cx="488.1" cy="809.9" r="3.15"/><circle cx="488.0" cy="813.8" r="3.15"/><circle cx="489.8" cy="810.1" r="3.15"/><circle cx="485.0" cy="812.6" r="3.15"/><circle cx="493.4" cy="804.0" r="3.15"/><circle cx="498.0" cy="807.6" r="3.15"/><circle cx="476.0" cy="843.0" r="3.15"/><circle cx="449.0" cy="811.0" r="3.15"/><circle cx="444.0" cy="825.0" r="3.15"/><circle cx="495.0" cy="834.0" r="3.15"/><circle cx="496.0" cy="820.0" r="3.15"/><circle cx="510.4" cy="814.8" r="3.15"/><circle cx="505.8" cy="813.7" r="3.15"/><circle cx="515.1" cy="814.4" r="3.15"/><circle cx="509.5" cy="809.5" r="3.15"/><circle cx="509.1" cy="816.1" r="3.15"/><circle cx="511.6" cy="815.6" r="3.15"/><circle cx="511.9" cy="805.7" r="3.15"/><circle cx="512.3" cy="811.5" r="3.15"/><circle cx="516.1" cy="807.4" r="3.15"/><circle cx="506.1" cy="809.1" r="3.15"/><circle cx="510.4" cy="813.1" r="3.15"/><circle cx="513.2" cy="817.1" r="3.15"/><circle cx="507.0" cy="823.2" r="3.15"/><circle cx="508.9" cy="819.1" r="3.15"/><circle cx="508.2" cy="820.1" r="3.15"/><circle cx="516.8" cy="819.7" r="3.15"/><circle cx="520.3" cy="821.6" r="3.15"/><circle cx="504.0" cy="816.3" r="3.15"/><circle cx="521.8" cy="821.9" r="3.15"/><circle cx="508.6" cy="819.0" r="3.15"/><circle cx="523.5" cy="816.7" r="3.15"/><circle cx="519.9" cy="822.3" r="3.15"/><circle cx="529.2" cy="825.9" r="3.15"/><circle cx="530.1" cy="820.6" r="3.15"/><circle cx="520.8" cy="824.3" r="3.15"/><circle cx="532.2" cy="820.7" r="3.15"/><circle cx="528.7" cy="821.5" r="3.15"/><circle cx="518.4" cy="821.2" r="3.15"/><circle cx="530.1" cy="822.7" r="3.15"/><circle cx="531.4" cy="822.3" r="3.15"/><circle cx="526.0" cy="821.3" r="3.15"/><circle cx="532.7" cy="820.8" r="3.15"/><circle cx="531.2" cy="818.5" r="3.15"/><circle cx="527.2" cy="817.7" r="3.15"/><circle cx="534.9" cy="818.4" r="3.15"/><circle cx="534.9" cy="823.0" r="3.15"/><circle cx="520.2" cy="825.5" r="3.15"/><circle cx="521.0" cy="819.1" r="3.15"/><circle cx="531.9" cy="817.0" r="3.15"/><circle cx="527.5" cy="821.6" r="3.15"/><circle cx="529.7" cy="809.7" r="3.15"/><circle cx="532.5" cy="807.9" r="3.15"/><circle cx="527.5" cy="815.7" r="3.15"/><circle cx="532.7" cy="815.6" r="3.15"/><circle cx="521.3" cy="808.6" r="3.15"/><circle cx="533.3" cy="817.5" r="3.15"/><circle cx="529.6" cy="820.1" r="3.15"/><circle cx="519.5" cy="809.9" r="3.15"/><circle cx="530.6" cy="801.2" r="3.15"/><circle cx="532.4" cy="816.2" r="3.15"/><circle cx="532.5" cy="810.9" r="3.15"/><circle cx="530.6" cy="813.3" r="3.15"/><circle cx="532.3" cy="810.4" r="3.15"/><circle cx="528.5" cy="811.5" r="3.15"/><circle cx="527.1" cy="806.5" r="3.15"/><circle cx="522.0" cy="809.0" r="3.15"/><circle cx="530.9" cy="800.4" r="3.15"/><circle cx="538.2" cy="815.0" r="3.15"/><circle cx="532.7" cy="797.5" r="3.15"/><circle cx="515.5" cy="813.9" r="3.15"/><circle cx="541.3" cy="801.1" r="3.15"/><circle cx="536.2" cy="806.3" r="3.15"/><circle cx="511.6" cy="804.0" r="3.15"/><circle cx="516.4" cy="803.4" r="3.15"/><circle cx="521.0" cy="802.6" r="3.15"/><circle cx="526.6" cy="803.0" r="3.15"/><circle cx="537.0" cy="800.4" r="3.15"/><circle cx="540.0" cy="802.0" r="3.15"/><circle cx="545.0" cy="804.0" r="3.15"/><circle cx="546.0" cy="808.0" r="3.15"/><circle cx="550.0" cy="807.4" r="3.15"/><circle cx="541.0" cy="809.0" r="3.15"/><circle cx="536.6" cy="808.0" r="3.15"/><circle cx="532.0" cy="813.0" r="3.15"/><circle cx="504.6" cy="814.0" r="3.15"/><circle cx="505.0" cy="821.0" r="3.15"/><circle cx="509.0" cy="821.4" r="3.15"/><circle cx="533.6" cy="824.4" r="3.15"/><circle cx="538.0" cy="821.0" r="3.15"/><circle cx="542.6" cy="820.4" r="3.15"/><circle cx="548.0" cy="820.4" r="3.15"/><circle cx="554.0" cy="814.0" r="3.15"/><circle cx="454.8" cy="863.4" r="3.15"/><circle cx="458.9" cy="865.5" r="3.15"/><circle cx="457.5" cy="864.9" r="3.15"/><circle cx="456.8" cy="860.4" r="3.15"/><circle cx="454.9" cy="866.1" r="3.15"/><circle cx="458.9" cy="865.7" r="3.15"/><circle cx="460.4" cy="864.3" r="3.15"/><circle cx="452.0" cy="866.8" r="3.15"/><circle cx="456.2" cy="866.1" r="3.15"/><circle cx="450.9" cy="864.8" r="3.15"/><circle cx="456.6" cy="862.1" r="3.15"/><circle cx="449.7" cy="864.8" r="3.15"/><circle cx="460.5" cy="862.7" r="3.15"/><circle cx="449.7" cy="865.0" r="3.15"/><circle cx="461.9" cy="868.5" r="3.15"/><circle cx="456.6" cy="864.9" r="3.15"/><circle cx="458.0" cy="867.3" r="3.15"/><circle cx="453.1" cy="867.9" r="3.15"/><circle cx="455.2" cy="868.8" r="3.15"/><circle cx="457.3" cy="865.0" r="3.15"/><circle cx="458.4" cy="865.9" r="3.15"/><circle cx="458.6" cy="861.6" r="3.15"/><circle cx="451.3" cy="871.6" r="3.15"/><circle cx="452.8" cy="868.0" r="3.15"/><circle cx="457.4" cy="869.0" r="3.15"/><circle cx="453.9" cy="865.8" r="3.15"/><circle cx="466.0" cy="862.0" r="3.15"/><circle cx="459.6" cy="904.2" r="3.15"/><circle cx="459.6" cy="903.8" r="3.15"/><circle cx="455.3" cy="896.3" r="3.15"/><circle cx="456.4" cy="896.4" r="3.15"/><circle cx="461.4" cy="891.4" r="3.15"/><circle cx="456.6" cy="896.6" r="3.15"/><circle cx="456.1" cy="898.3" r="3.15"/><circle cx="452.2" cy="888.9" r="3.15"/><circle cx="452.0" cy="890.0" r="3.15"/><circle cx="457.9" cy="903.2" r="3.15"/><circle cx="456.5" cy="904.3" r="3.15"/><circle cx="448.1" cy="891.7" r="3.15"/><circle cx="452.6" cy="899.2" r="3.15"/><circle cx="456.2" cy="895.3" r="3.15"/><circle cx="452.1" cy="899.3" r="3.15"/><circle cx="460.0" cy="895.3" r="3.15"/><circle cx="455.6" cy="891.6" r="3.15"/><circle cx="457.6" cy="900.0" r="3.15"/><circle cx="451.6" cy="884.9" r="3.15"/><circle cx="454.3" cy="891.8" r="3.15"/><circle cx="454.6" cy="893.6" r="3.15"/><circle cx="456.5" cy="898.3" r="3.15"/><circle cx="454.0" cy="893.3" r="3.15"/><circle cx="452.8" cy="892.0" r="3.15"/><circle cx="452.7" cy="895.0" r="3.15"/><circle cx="451.1" cy="893.9" r="3.15"/><circle cx="458.5" cy="895.7" r="3.15"/><circle cx="459.2" cy="888.0" r="3.15"/><circle cx="454.3" cy="895.7" r="3.15"/><circle cx="454.0" cy="885.2" r="3.15"/><circle cx="458.1" cy="892.5" r="3.15"/><circle cx="457.1" cy="888.8" r="3.15"/><circle cx="456.2" cy="891.0" r="3.15"/><circle cx="451.0" cy="887.3" r="3.15"/><circle cx="457.5" cy="888.5" r="3.15"/><circle cx="458.6" cy="890.8" r="3.15"/><circle cx="456.2" cy="891.3" r="3.15"/><circle cx="453.8" cy="900.0" r="3.15"/><circle cx="458.5" cy="894.8" r="3.15"/><circle cx="454.7" cy="891.8" r="3.15"/><circle cx="455.7" cy="894.7" r="3.15"/><circle cx="451.7" cy="896.2" r="3.15"/><circle cx="460.9" cy="899.7" r="3.15"/><circle cx="457.4" cy="899.0" r="3.15"/><circle cx="459.1" cy="896.1" r="3.15"/><circle cx="457.7" cy="892.7" r="3.15"/><circle cx="455.1" cy="897.0" r="3.15"/><circle cx="462.3" cy="893.0" r="3.15"/><circle cx="453.0" cy="895.9" r="3.15"/><circle cx="458.9" cy="896.5" r="3.15"/><circle cx="451.9" cy="889.6" r="3.15"/><circle cx="457.6" cy="887.7" r="3.15"/><circle cx="457.2" cy="904.2" r="3.15"/><circle cx="457.0" cy="898.1" r="3.15"/><circle cx="456.4" cy="893.5" r="3.15"/><circle cx="457.0" cy="901.0" r="3.15"/><circle cx="456.4" cy="898.1" r="3.15"/><circle cx="458.6" cy="899.8" r="3.15"/><circle cx="447.9" cy="900.8" r="3.15"/><circle cx="456.2" cy="898.8" r="3.15"/><circle cx="471.2" cy="890.4" r="3.15"/><circle cx="476.3" cy="879.4" r="3.15"/><circle cx="478.6" cy="878.9" r="3.15"/><circle cx="476.9" cy="872.3" r="3.15"/><circle cx="472.7" cy="876.3" r="3.15"/><circle cx="468.4" cy="888.5" r="3.15"/><circle cx="461.8" cy="885.3" r="3.15"/><circle cx="465.8" cy="883.6" r="3.15"/><circle cx="465.6" cy="880.3" r="3.15"/><circle cx="467.7" cy="888.6" r="3.15"/><circle cx="471.2" cy="874.5" r="3.15"/><circle cx="473.0" cy="894.4" r="3.15"/><circle cx="458.5" cy="890.5" r="3.15"/><circle cx="467.4" cy="897.4" r="3.15"/><circle cx="466.5" cy="882.0" r="3.15"/><circle cx="467.8" cy="884.5" r="3.15"/><circle cx="464.1" cy="878.6" r="3.15"/><circle cx="473.6" cy="884.6" r="3.15"/><circle cx="462.7" cy="883.6" r="3.15"/><circle cx="465.7" cy="894.2" r="3.15"/><circle cx="464.7" cy="889.1" r="3.15"/><circle cx="473.0" cy="893.8" r="3.15"/><circle cx="461.7" cy="887.5" r="3.15"/><circle cx="474.4" cy="897.1" r="3.15"/><circle cx="469.5" cy="887.1" r="3.15"/><circle cx="475.5" cy="881.2" r="3.15"/><circle cx="468.6" cy="884.9" r="3.15"/><circle cx="475.6" cy="900.3" r="3.15"/><circle cx="471.5" cy="887.0" r="3.15"/><circle cx="471.2" cy="886.3" r="3.15"/><circle cx="469.7" cy="882.1" r="3.15"/><circle cx="466.9" cy="892.6" r="3.15"/><circle cx="471.6" cy="887.5" r="3.15"/><circle cx="470.0" cy="875.9" r="3.15"/><circle cx="475.2" cy="890.7" r="3.15"/><circle cx="465.3" cy="882.5" r="3.15"/><circle cx="472.2" cy="896.5" r="3.15"/><circle cx="478.4" cy="882.0" r="3.15"/><circle cx="464.0" cy="881.1" r="3.15"/><circle cx="471.3" cy="889.0" r="3.15"/><circle cx="474.8" cy="879.9" r="3.15"/><circle cx="468.8" cy="887.6" r="3.15"/><circle cx="465.6" cy="884.0" r="3.15"/><circle cx="476.9" cy="878.9" r="3.15"/><circle cx="479.7" cy="883.9" r="3.15"/><circle cx="463.2" cy="884.7" r="3.15"/><circle cx="471.3" cy="886.8" r="3.15"/><circle cx="470.6" cy="887.6" r="3.15"/><circle cx="471.4" cy="890.1" r="3.15"/><circle cx="465.5" cy="894.9" r="3.15"/><circle cx="465.2" cy="886.5" r="3.15"/><circle cx="470.2" cy="889.4" r="3.15"/><circle cx="463.0" cy="888.1" r="3.15"/><circle cx="463.1" cy="897.7" r="3.15"/><circle cx="461.1" cy="880.1" r="3.15"/><circle cx="472.3" cy="883.8" r="3.15"/><circle cx="472.4" cy="886.5" r="3.15"/><circle cx="479.1" cy="879.2" r="3.15"/><circle cx="473.7" cy="890.0" r="3.15"/><circle cx="468.4" cy="886.0" r="3.15"/><circle cx="468.0" cy="879.6" r="3.15"/><circle cx="473.3" cy="888.3" r="3.15"/><circle cx="476.3" cy="871.9" r="3.15"/><circle cx="468.9" cy="885.9" r="3.15"/><circle cx="467.7" cy="891.0" r="3.15"/><circle cx="477.2" cy="876.5" r="3.15"/><circle cx="470.1" cy="888.7" r="3.15"/><circle cx="469.1" cy="871.8" r="3.15"/><circle cx="474.6" cy="872.3" r="3.15"/><circle cx="469.0" cy="887.3" r="3.15"/><circle cx="481.2" cy="869.6" r="3.15"/><circle cx="472.4" cy="881.2" r="3.15"/><circle cx="482.2" cy="881.4" r="3.15"/><circle cx="468.5" cy="882.1" r="3.15"/><circle cx="470.1" cy="883.0" r="3.15"/><circle cx="474.9" cy="884.0" r="3.15"/><circle cx="467.2" cy="880.8" r="3.15"/><circle cx="478.2" cy="891.5" r="3.15"/><circle cx="465.7" cy="873.8" r="3.15"/><circle cx="470.5" cy="874.2" r="3.15"/><circle cx="465.9" cy="885.0" r="3.15"/><circle cx="466.7" cy="886.2" r="3.15"/><circle cx="466.0" cy="886.9" r="3.15"/><circle cx="465.0" cy="895.8" r="3.15"/><circle cx="476.2" cy="895.3" r="3.15"/><circle cx="472.3" cy="891.7" r="3.15"/><circle cx="469.5" cy="888.2" r="3.15"/><circle cx="464.0" cy="880.4" r="3.15"/><circle cx="480.3" cy="890.4" r="3.15"/><circle cx="464.9" cy="889.3" r="3.15"/><circle cx="466.9" cy="892.7" r="3.15"/><circle cx="475.8" cy="870.8" r="3.15"/><circle cx="468.0" cy="883.8" r="3.15"/><circle cx="468.1" cy="874.4" r="3.15"/><circle cx="474.8" cy="870.8" r="3.15"/><circle cx="468.0" cy="895.1" r="3.15"/><circle cx="482.6" cy="882.7" r="3.15"/><circle cx="468.4" cy="884.8" r="3.15"/><circle cx="470.5" cy="883.2" r="3.15"/><circle cx="465.3" cy="888.6" r="3.15"/><circle cx="472.2" cy="893.3" r="3.15"/><circle cx="461.8" cy="898.9" r="3.15"/><circle cx="475.1" cy="890.7" r="3.15"/><circle cx="472.9" cy="887.6" r="3.15"/><circle cx="471.0" cy="889.0" r="3.15"/><circle cx="469.9" cy="893.0" r="3.15"/><circle cx="468.8" cy="889.9" r="3.15"/><circle cx="464.6" cy="887.0" r="3.15"/><circle cx="470.0" cy="871.6" r="3.15"/><circle cx="467.3" cy="901.0" r="3.15"/><circle cx="472.6" cy="896.8" r="3.15"/><circle cx="464.6" cy="886.3" r="3.15"/><circle cx="473.7" cy="877.1" r="3.15"/><circle cx="470.8" cy="893.5" r="3.15"/><circle cx="462.1" cy="888.0" r="3.15"/><circle cx="474.1" cy="875.0" r="3.15"/><circle cx="467.1" cy="895.1" r="3.15"/><circle cx="473.6" cy="894.6" r="3.15"/><circle cx="479.9" cy="879.3" r="3.15"/><circle cx="471.8" cy="884.0" r="3.15"/><circle cx="468.4" cy="883.0" r="3.15"/><circle cx="467.1" cy="878.9" r="3.15"/><circle cx="462.7" cy="893.7" r="3.15"/><circle cx="471.3" cy="882.0" r="3.15"/><circle cx="474.9" cy="893.3" r="3.15"/><circle cx="469.5" cy="900.6" r="3.15"/><circle cx="470.7" cy="871.8" r="3.15"/><circle cx="471.7" cy="884.5" r="3.15"/><circle cx="462.2" cy="881.9" r="3.15"/><circle cx="465.5" cy="881.3" r="3.15"/><circle cx="465.8" cy="884.2" r="3.15"/><circle cx="478.4" cy="884.6" r="3.15"/><circle cx="470.9" cy="881.2" r="3.15"/><circle cx="473.6" cy="890.0" r="3.15"/><circle cx="465.8" cy="892.7" r="3.15"/><circle cx="477.8" cy="886.7" r="3.15"/><circle cx="472.3" cy="893.1" r="3.15"/><circle cx="468.9" cy="891.0" r="3.15"/><circle cx="475.2" cy="882.1" r="3.15"/><circle cx="473.7" cy="882.8" r="3.15"/><circle cx="474.5" cy="883.0" r="3.15"/><circle cx="478.0" cy="880.5" r="3.15"/><circle cx="467.6" cy="888.0" r="3.15"/><circle cx="463.4" cy="877.3" r="3.15"/><circle cx="469.0" cy="874.8" r="3.15"/><circle cx="472.7" cy="882.0" r="3.15"/><circle cx="481.3" cy="884.9" r="3.15"/><circle cx="480.4" cy="891.1" r="3.15"/><circle cx="469.6" cy="887.8" r="3.15"/><circle cx="470.6" cy="886.9" r="3.15"/><circle cx="475.3" cy="893.8" r="3.15"/><circle cx="464.7" cy="890.1" r="3.15"/><circle cx="474.4" cy="886.1" r="3.15"/><circle cx="468.0" cy="887.5" r="3.15"/><circle cx="466.5" cy="890.1" r="3.15"/><circle cx="474.5" cy="890.7" r="3.15"/><circle cx="474.8" cy="886.7" r="3.15"/><circle cx="470.6" cy="883.1" r="3.15"/><circle cx="459.2" cy="887.7" r="3.15"/><circle cx="474.0" cy="880.2" r="3.15"/><circle cx="480.9" cy="890.4" r="3.15"/><circle cx="473.7" cy="884.1" r="3.15"/><circle cx="467.4" cy="891.7" r="3.15"/><circle cx="467.3" cy="896.3" r="3.15"/><circle cx="463.0" cy="890.2" r="3.15"/><circle cx="470.8" cy="897.6" r="3.15"/><circle cx="472.8" cy="886.6" r="3.15"/><circle cx="461.1" cy="895.4" r="3.15"/><circle cx="466.7" cy="880.5" r="3.15"/><circle cx="465.9" cy="890.3" r="3.15"/><circle cx="472.4" cy="882.9" r="3.15"/><circle cx="472.7" cy="875.7" r="3.15"/><circle cx="468.7" cy="881.0" r="3.15"/><circle cx="472.4" cy="903.0" r="3.15"/><circle cx="473.1" cy="893.5" r="3.15"/><circle cx="469.2" cy="888.3" r="3.15"/><circle cx="469.9" cy="894.3" r="3.15"/><circle cx="471.3" cy="879.6" r="3.15"/><circle cx="466.0" cy="891.7" r="3.15"/><circle cx="463.1" cy="893.3" r="3.15"/><circle cx="460.6" cy="888.9" r="3.15"/><circle cx="467.5" cy="880.4" r="3.15"/><circle cx="472.3" cy="884.3" r="3.15"/><circle cx="474.8" cy="894.1" r="3.15"/><circle cx="475.9" cy="880.9" r="3.15"/><circle cx="469.8" cy="898.5" r="3.15"/><circle cx="471.6" cy="881.8" r="3.15"/><circle cx="470.5" cy="890.2" r="3.15"/><circle cx="462.7" cy="884.3" r="3.15"/><circle cx="481.8" cy="875.7" r="3.15"/><circle cx="473.1" cy="873.7" r="3.15"/><circle cx="473.8" cy="874.2" r="3.15"/><circle cx="484.4" cy="872.5" r="3.15"/><circle cx="481.5" cy="868.6" r="3.15"/><circle cx="481.4" cy="871.6" r="3.15"/><circle cx="481.0" cy="869.6" r="3.15"/><circle cx="483.3" cy="871.6" r="3.15"/><circle cx="480.6" cy="867.1" r="3.15"/><circle cx="479.9" cy="867.7" r="3.15"/><circle cx="471.9" cy="871.4" r="3.15"/><circle cx="484.2" cy="868.7" r="3.15"/><circle cx="476.7" cy="873.3" r="3.15"/><circle cx="481.1" cy="877.6" r="3.15"/><circle cx="479.9" cy="871.7" r="3.15"/><circle cx="476.7" cy="870.1" r="3.15"/><circle cx="479.3" cy="869.9" r="3.15"/><circle cx="480.1" cy="874.3" r="3.15"/><circle cx="482.4" cy="867.5" r="3.15"/><circle cx="476.8" cy="874.8" r="3.15"/><circle cx="477.5" cy="874.3" r="3.15"/><circle cx="480.0" cy="866.0" r="3.15"/><circle cx="477.8" cy="869.8" r="3.15"/><circle cx="481.7" cy="875.1" r="3.15"/><circle cx="477.1" cy="876.9" r="3.15"/><circle cx="474.0" cy="871.8" r="3.15"/><circle cx="478.2" cy="868.6" r="3.15"/><circle cx="476.3" cy="875.8" r="3.15"/><circle cx="475.9" cy="868.6" r="3.15"/><circle cx="474.9" cy="870.8" r="3.15"/><circle cx="477.7" cy="872.7" r="3.15"/><circle cx="482.1" cy="870.9" r="3.15"/><circle cx="477.8" cy="870.1" r="3.15"/><circle cx="475.8" cy="869.9" r="3.15"/><circle cx="481.0" cy="869.6" r="3.15"/><circle cx="480.3" cy="869.6" r="3.15"/><circle cx="488.2" cy="878.3" r="3.15"/><circle cx="496.2" cy="883.0" r="3.15"/><circle cx="489.5" cy="883.0" r="3.15"/><circle cx="487.4" cy="887.0" r="3.15"/><circle cx="483.2" cy="882.7" r="3.15"/><circle cx="495.0" cy="881.3" r="3.15"/><circle cx="498.5" cy="890.3" r="3.15"/><circle cx="494.2" cy="884.9" r="3.15"/><circle cx="497.3" cy="887.8" r="3.15"/><circle cx="484.4" cy="878.9" r="3.15"/><circle cx="487.3" cy="883.2" r="3.15"/><circle cx="484.7" cy="884.7" r="3.15"/><circle cx="485.0" cy="878.6" r="3.15"/><circle cx="491.6" cy="883.4" r="3.15"/><circle cx="493.8" cy="888.7" r="3.15"/><circle cx="489.7" cy="881.3" r="3.15"/><circle cx="493.7" cy="882.5" r="3.15"/><circle cx="489.9" cy="881.4" r="3.15"/><circle cx="494.7" cy="884.1" r="3.15"/><circle cx="492.4" cy="881.8" r="3.15"/><circle cx="500.4" cy="882.5" r="3.15"/><circle cx="488.5" cy="880.1" r="3.15"/><circle cx="489.0" cy="875.1" r="3.15"/><circle cx="492.6" cy="880.7" r="3.15"/><circle cx="487.3" cy="884.4" r="3.15"/><circle cx="486.2" cy="880.4" r="3.15"/><circle cx="485.5" cy="879.7" r="3.15"/><circle cx="495.4" cy="888.8" r="3.15"/><circle cx="483.5" cy="881.7" r="3.15"/><circle cx="488.2" cy="884.7" r="3.15"/><circle cx="492.6" cy="881.2" r="3.15"/><circle cx="499.2" cy="885.8" r="3.15"/><circle cx="501.4" cy="884.1" r="3.15"/><circle cx="500.5" cy="890.2" r="3.15"/><circle cx="492.4" cy="887.9" r="3.15"/><circle cx="497.4" cy="887.1" r="3.15"/><circle cx="492.8" cy="886.1" r="3.15"/><circle cx="485.0" cy="873.6" r="3.15"/><circle cx="491.9" cy="887.4" r="3.15"/><circle cx="495.8" cy="885.4" r="3.15"/><circle cx="513.5" cy="889.5" r="3.15"/><circle cx="517.5" cy="886.6" r="3.15"/><circle cx="513.5" cy="889.7" r="3.15"/><circle cx="513.7" cy="889.2" r="3.15"/><circle cx="505.2" cy="890.3" r="3.15"/><circle cx="516.4" cy="893.5" r="3.15"/><circle cx="505.1" cy="891.4" r="3.15"/><circle cx="509.7" cy="892.2" r="3.15"/><circle cx="511.3" cy="887.4" r="3.15"/><circle cx="510.7" cy="890.3" r="3.15"/><circle cx="512.6" cy="883.9" r="3.15"/><circle cx="509.3" cy="887.9" r="3.15"/><circle cx="496.7" cy="887.8" r="3.15"/><circle cx="506.7" cy="890.3" r="3.15"/><circle cx="512.3" cy="894.3" r="3.15"/><circle cx="515.7" cy="884.7" r="3.15"/><circle cx="508.0" cy="880.4" r="3.15"/><circle cx="510.0" cy="885.5" r="3.15"/><circle cx="522.7" cy="894.7" r="3.15"/><circle cx="502.4" cy="881.4" r="3.15"/><circle cx="500.6" cy="891.0" r="3.15"/><circle cx="501.8" cy="880.9" r="3.15"/><circle cx="512.7" cy="892.3" r="3.15"/><circle cx="507.6" cy="890.2" r="3.15"/><circle cx="521.1" cy="890.1" r="3.15"/><circle cx="502.9" cy="888.7" r="3.15"/><circle cx="515.0" cy="890.8" r="3.15"/><circle cx="512.7" cy="887.1" r="3.15"/><circle cx="501.4" cy="881.7" r="3.15"/><circle cx="512.4" cy="889.0" r="3.15"/><circle cx="513.2" cy="886.1" r="3.15"/><circle cx="508.4" cy="893.9" r="3.15"/><circle cx="512.5" cy="887.8" r="3.15"/><circle cx="515.6" cy="898.2" r="3.15"/><circle cx="509.2" cy="892.4" r="3.15"/><circle cx="519.0" cy="888.3" r="3.15"/><circle cx="518.8" cy="889.8" r="3.15"/><circle cx="518.9" cy="890.4" r="3.15"/><circle cx="499.8" cy="891.4" r="3.15"/><circle cx="518.0" cy="892.4" r="3.15"/><circle cx="517.9" cy="891.8" r="3.15"/><circle cx="511.8" cy="891.1" r="3.15"/><circle cx="494.7" cy="893.1" r="3.15"/><circle cx="510.6" cy="893.2" r="3.15"/><circle cx="501.8" cy="882.1" r="3.15"/><circle cx="507.1" cy="889.4" r="3.15"/><circle cx="512.0" cy="887.7" r="3.15"/><circle cx="514.4" cy="892.6" r="3.15"/><circle cx="502.0" cy="890.6" r="3.15"/><circle cx="520.4" cy="888.2" r="3.15"/><circle cx="505.7" cy="886.5" r="3.15"/><circle cx="511.4" cy="885.6" r="3.15"/><circle cx="507.7" cy="881.6" r="3.15"/><circle cx="514.3" cy="891.6" r="3.15"/><circle cx="509.0" cy="889.0" r="3.15"/><circle cx="507.9" cy="887.4" r="3.15"/><circle cx="505.1" cy="892.0" r="3.15"/><circle cx="504.9" cy="885.1" r="3.15"/><circle cx="505.5" cy="887.5" r="3.15"/><circle cx="513.8" cy="884.6" r="3.15"/><circle cx="518.8" cy="883.4" r="3.15"/><circle cx="514.0" cy="889.5" r="3.15"/><circle cx="511.8" cy="886.2" r="3.15"/><circle cx="502.2" cy="888.8" r="3.15"/><circle cx="514.0" cy="891.1" r="3.15"/><circle cx="509.4" cy="886.1" r="3.15"/><circle cx="506.1" cy="885.2" r="3.15"/><circle cx="502.7" cy="890.5" r="3.15"/><circle cx="498.1" cy="887.9" r="3.15"/><circle cx="505.5" cy="882.0" r="3.15"/><circle cx="508.5" cy="894.4" r="3.15"/><circle cx="516.9" cy="882.4" r="3.15"/><circle cx="509.5" cy="892.1" r="3.15"/><circle cx="507.3" cy="894.4" r="3.15"/><circle cx="517.9" cy="889.6" r="3.15"/><circle cx="514.1" cy="888.7" r="3.15"/><circle cx="517.8" cy="887.1" r="3.15"/><circle cx="515.8" cy="885.3" r="3.15"/><circle cx="505.7" cy="876.8" r="3.15"/><circle cx="510.4" cy="891.1" r="3.15"/><circle cx="510.2" cy="898.0" r="3.15"/><circle cx="510.1" cy="888.0" r="3.15"/><circle cx="504.8" cy="895.6" r="3.15"/><circle cx="519.1" cy="890.2" r="3.15"/><circle cx="509.3" cy="889.2" r="3.15"/><circle cx="518.5" cy="897.0" r="3.15"/><circle cx="525.2" cy="892.5" r="3.15"/><circle cx="524.3" cy="897.8" r="3.15"/><circle cx="521.7" cy="890.3" r="3.15"/><circle cx="524.5" cy="893.2" r="3.15"/><circle cx="522.6" cy="894.2" r="3.15"/><circle cx="531.0" cy="898.8" r="3.15"/><circle cx="513.2" cy="899.9" r="3.15"/><circle cx="519.3" cy="892.1" r="3.15"/><circle cx="523.7" cy="893.8" r="3.15"/><circle cx="527.7" cy="893.1" r="3.15"/><circle cx="516.9" cy="893.6" r="3.15"/><circle cx="520.5" cy="898.7" r="3.15"/><circle cx="523.6" cy="897.1" r="3.15"/><circle cx="523.1" cy="890.2" r="3.15"/><circle cx="526.4" cy="894.9" r="3.15"/><circle cx="519.0" cy="894.4" r="3.15"/><circle cx="521.5" cy="893.5" r="3.15"/><circle cx="521.8" cy="890.0" r="3.15"/><circle cx="521.4" cy="895.8" r="3.15"/><circle cx="527.5" cy="888.4" r="3.15"/><circle cx="525.9" cy="898.7" r="3.15"/><circle cx="527.1" cy="896.8" r="3.15"/><circle cx="526.0" cy="892.6" r="3.15"/><circle cx="521.9" cy="897.1" r="3.15"/><circle cx="518.9" cy="899.4" r="3.15"/><circle cx="520.2" cy="897.6" r="3.15"/><circle cx="524.5" cy="896.1" r="3.15"/><circle cx="521.3" cy="888.9" r="3.15"/><circle cx="521.3" cy="896.7" r="3.15"/><circle cx="523.6" cy="891.2" r="3.15"/><circle cx="528.4" cy="895.5" r="3.15"/><circle cx="528.8" cy="897.2" r="3.15"/><circle cx="525.7" cy="895.5" r="3.15"/><circle cx="515.7" cy="889.9" r="3.15"/><circle cx="527.8" cy="892.6" r="3.15"/><circle cx="520.4" cy="891.4" r="3.15"/><circle cx="530.7" cy="898.0" r="3.15"/><circle cx="527.7" cy="898.8" r="3.15"/><circle cx="524.0" cy="891.6" r="3.15"/><circle cx="538.3" cy="889.2" r="3.15"/><circle cx="546.1" cy="887.9" r="3.15"/><circle cx="532.9" cy="889.3" r="3.15"/><circle cx="541.3" cy="891.9" r="3.15"/><circle cx="528.1" cy="887.9" r="3.15"/><circle cx="546.4" cy="895.5" r="3.15"/><circle cx="539.4" cy="886.8" r="3.15"/><circle cx="545.5" cy="887.3" r="3.15"/><circle cx="535.6" cy="891.0" r="3.15"/><circle cx="535.0" cy="893.9" r="3.15"/><circle cx="531.3" cy="892.0" r="3.15"/><circle cx="540.0" cy="892.6" r="3.15"/><circle cx="533.5" cy="889.6" r="3.15"/><circle cx="543.8" cy="894.9" r="3.15"/><circle cx="541.4" cy="891.8" r="3.15"/><circle cx="545.0" cy="891.0" r="3.15"/><circle cx="532.5" cy="894.3" r="3.15"/><circle cx="534.8" cy="887.1" r="3.15"/><circle cx="555.5" cy="894.3" r="3.15"/><circle cx="539.8" cy="887.7" r="3.15"/><circle cx="540.0" cy="890.3" r="3.15"/><circle cx="538.5" cy="890.5" r="3.15"/><circle cx="528.7" cy="893.7" r="3.15"/><circle cx="549.7" cy="891.8" r="3.15"/><circle cx="542.4" cy="889.7" r="3.15"/><circle cx="533.5" cy="889.2" r="3.15"/><circle cx="545.5" cy="894.4" r="3.15"/><circle cx="543.1" cy="892.7" r="3.15"/><circle cx="548.9" cy="894.1" r="3.15"/><circle cx="537.9" cy="893.6" r="3.15"/><circle cx="552.3" cy="889.5" r="3.15"/><circle cx="536.9" cy="884.1" r="3.15"/><circle cx="539.8" cy="892.5" r="3.15"/><circle cx="541.2" cy="890.0" r="3.15"/><circle cx="545.7" cy="891.6" r="3.15"/><circle cx="545.1" cy="890.5" r="3.15"/><circle cx="498.2" cy="858.4" r="3.15"/><circle cx="503.0" cy="853.9" r="3.15"/><circle cx="498.4" cy="853.0" r="3.15"/><circle cx="503.9" cy="854.8" r="3.15"/><circle cx="496.6" cy="853.8" r="3.15"/><circle cx="505.9" cy="853.1" r="3.15"/><circle cx="502.3" cy="853.0" r="3.15"/><circle cx="497.6" cy="852.8" r="3.15"/><circle cx="501.7" cy="858.6" r="3.15"/><circle cx="498.0" cy="854.3" r="3.15"/><circle cx="499.7" cy="851.6" r="3.15"/><circle cx="492.9" cy="854.7" r="3.15"/><circle cx="495.7" cy="851.5" r="3.15"/><circle cx="501.2" cy="856.4" r="3.15"/><circle cx="501.2" cy="852.9" r="3.15"/><circle cx="486.0" cy="857.0" r="3.15"/><circle cx="487.0" cy="859.0" r="3.15"/><circle cx="485.0" cy="863.0" r="3.15"/><circle cx="506.6" cy="863.6" r="3.15"/><circle cx="525.0" cy="878.0" r="3.15"/><circle cx="550.6" cy="866.0" r="3.15"/><circle cx="553.0" cy="874.0" r="3.15"/><circle cx="520.0" cy="905.0" r="3.15"/><circle cx="532.4" cy="903.0" r="3.15"/><circle cx="544.0" cy="902.0" r="3.15"/><circle cx="508.6" cy="903.0" r="3.15"/><circle cx="442.7" cy="959.8" r="3.15"/><circle cx="436.8" cy="961.2" r="3.15"/><circle cx="438.9" cy="959.2" r="3.15"/><circle cx="439.6" cy="958.1" r="3.15"/><circle cx="435.6" cy="956.9" r="3.15"/><circle cx="440.6" cy="960.8" r="3.15"/><circle cx="440.7" cy="957.2" r="3.15"/><circle cx="437.9" cy="961.1" r="3.15"/><circle cx="441.0" cy="954.9" r="3.15"/><circle cx="439.8" cy="960.0" r="3.15"/><circle cx="441.4" cy="956.5" r="3.15"/><circle cx="437.1" cy="956.4" r="3.15"/><circle cx="443.3" cy="959.2" r="3.15"/><circle cx="435.3" cy="957.2" r="3.15"/><circle cx="438.9" cy="957.4" r="3.15"/><circle cx="439.0" cy="956.5" r="3.15"/><circle cx="442.2" cy="958.3" r="3.15"/><circle cx="440.9" cy="957.0" r="3.15"/><circle cx="444.3" cy="956.8" r="3.15"/><circle cx="441.7" cy="954.9" r="3.15"/><circle cx="440.9" cy="960.2" r="3.15"/><circle cx="441.6" cy="955.5" r="3.15"/><circle cx="441.3" cy="956.1" r="3.15"/><circle cx="438.3" cy="961.7" r="3.15"/><circle cx="440.5" cy="955.3" r="3.15"/><circle cx="438.8" cy="954.6" r="3.15"/><circle cx="439.4" cy="958.8" r="3.15"/><circle cx="440.4" cy="958.5" r="3.15"/><circle cx="442.0" cy="957.8" r="3.15"/><circle cx="441.7" cy="960.2" r="3.15"/><circle cx="443.3" cy="954.5" r="3.15"/><circle cx="434.9" cy="960.2" r="3.15"/><circle cx="440.0" cy="953.2" r="3.15"/><circle cx="438.6" cy="959.0" r="3.15"/><circle cx="439.5" cy="955.4" r="3.15"/><circle cx="441.6" cy="955.8" r="3.15"/><circle cx="440.7" cy="958.0" r="3.15"/><circle cx="443.1" cy="958.6" r="3.15"/><circle cx="441.4" cy="956.5" r="3.15"/><circle cx="437.4" cy="959.2" r="3.15"/><circle cx="443.1" cy="956.6" r="3.15"/><circle cx="442.0" cy="956.1" r="3.15"/><circle cx="440.4" cy="959.1" r="3.15"/><circle cx="439.8" cy="958.6" r="3.15"/><circle cx="436.0" cy="961.1" r="3.15"/><circle cx="439.9" cy="958.9" r="3.15"/><circle cx="435.3" cy="961.3" r="3.15"/><circle cx="437.9" cy="956.9" r="3.15"/><circle cx="441.2" cy="958.1" r="3.15"/><circle cx="440.4" cy="959.8" r="3.15"/><circle cx="444.3" cy="957.2" r="3.15"/><circle cx="442.4" cy="956.4" r="3.15"/><circle cx="439.2" cy="959.4" r="3.15"/><circle cx="436.7" cy="961.1" r="3.15"/><circle cx="443.9" cy="956.3" r="3.15"/><circle cx="443.2" cy="956.0" r="3.15"/><circle cx="440.2" cy="961.3" r="3.15"/><circle cx="438.4" cy="958.3" r="3.15"/><circle cx="438.7" cy="954.6" r="3.15"/><circle cx="440.9" cy="958.0" r="3.15"/><circle cx="442.4" cy="957.9" r="3.15"/><circle cx="442.9" cy="957.7" r="3.15"/><circle cx="442.2" cy="957.2" r="3.15"/><circle cx="440.0" cy="957.5" r="3.15"/><circle cx="444.5" cy="954.3" r="3.15"/><circle cx="442.5" cy="956.5" r="3.15"/><circle cx="440.5" cy="956.8" r="3.15"/><circle cx="440.4" cy="958.1" r="3.15"/><circle cx="440.5" cy="959.5" r="3.15"/><circle cx="437.8" cy="957.2" r="3.15"/><circle cx="559.4" cy="756.0" r="3.15"/><circle cx="562.0" cy="759.0" r="3.15"/><circle cx="562.0" cy="764.0" r="3.15"/><circle cx="563.6" cy="764.6" r="3.15"/><circle cx="569.0" cy="758.0" r="3.15"/><circle cx="569.6" cy="763.0" r="3.15"/><circle cx="572.0" cy="758.6" r="3.15"/><circle cx="573.6" cy="762.6" r="3.15"/><circle cx="575.0" cy="758.0" r="3.15"/><circle cx="578.4" cy="758.0" r="3.15"/><circle cx="581.0" cy="761.0" r="3.15"/><circle cx="582.0" cy="763.0" r="3.15"/><circle cx="583.0" cy="763.4" r="3.15"/><circle cx="585.0" cy="760.6" r="3.15"/><circle cx="586.0" cy="762.0" r="3.15"/><circle cx="581.0" cy="766.6" r="3.15"/><circle cx="590.6" cy="763.0" r="3.15"/><circle cx="581.4" cy="790.6" r="3.15"/><circle cx="564.0" cy="796.6" r="3.15"/><circle cx="567.0" cy="797.0" r="3.15"/><circle cx="562.4" cy="800.4" r="3.15"/><circle cx="569.0" cy="798.0" r="3.15"/><circle cx="571.6" cy="799.0" r="3.15"/><circle cx="570.0" cy="803.0" r="3.15"/><circle cx="576.4" cy="798.6" r="3.15"/><circle cx="577.6" cy="798.2" r="3.15"/><circle cx="582.4" cy="804.0" r="3.15"/><circle cx="585.0" cy="803.4" r="3.15"/><circle cx="588.0" cy="802.0" r="3.15"/><circle cx="600.6" cy="801.4" r="3.15"/><circle cx="620.0" cy="795.0" r="3.15"/><circle cx="556.4" cy="813.6" r="3.15"/><circle cx="557.6" cy="814.0" r="3.15"/><circle cx="574.6" cy="837.4" r="3.15"/><circle cx="580.0" cy="839.0" r="3.15"/><circle cx="583.0" cy="834.0" r="3.15"/><circle cx="582.4" cy="840.0" r="3.15"/><circle cx="589.0" cy="836.0" r="3.15"/><circle cx="591.0" cy="837.0" r="3.15"/><circle cx="595.4" cy="836.4" r="3.15"/><circle cx="589.0" cy="842.0" r="3.15"/><circle cx="592.0" cy="842.0" r="3.15"/><circle cx="593.0" cy="846.0" r="3.15"/><circle cx="599.6" cy="841.0" r="3.15"/><circle cx="600.4" cy="842.0" r="3.15"/><circle cx="601.0" cy="844.6" r="3.15"/><circle cx="605.0" cy="837.0" r="3.15"/><circle cx="609.0" cy="843.0" r="3.15"/><circle cx="612.4" cy="841.0" r="3.15"/><circle cx="616.0" cy="844.0" r="3.15"/><circle cx="615.0" cy="847.0" r="3.15"/><circle cx="612.4" cy="848.6" r="3.15"/><circle cx="617.0" cy="843.0" r="3.15"/><circle cx="620.4" cy="837.6" r="3.15"/><circle cx="623.4" cy="833.0" r="3.15"/><circle cx="626.0" cy="840.0" r="3.15"/><circle cx="630.0" cy="833.6" r="3.15"/><circle cx="630.4" cy="834.4" r="3.15"/><circle cx="639.0" cy="828.4" r="3.15"/><circle cx="645.4" cy="831.4" r="3.15"/><circle cx="639.0" cy="838.0" r="3.15"/><circle cx="666.4" cy="833.0" r="3.15"/><circle cx="671.0" cy="832.6" r="3.15"/><circle cx="583.6" cy="848.4" r="3.15"/><circle cx="639.0" cy="850.0" r="3.15"/><circle cx="597.0" cy="864.4" r="3.15"/><circle cx="617.0" cy="864.8" r="3.15"/><circle cx="556.0" cy="870.4" r="3.15"/><circle cx="564.4" cy="869.6" r="3.15"/><circle cx="564.0" cy="872.0" r="3.15"/><circle cx="570.4" cy="865.4" r="3.15"/><circle cx="572.4" cy="867.4" r="3.15"/><circle cx="576.0" cy="868.0" r="3.15"/><circle cx="582.0" cy="870.6" r="3.15"/><circle cx="586.6" cy="871.0" r="3.15"/><circle cx="567.0" cy="875.0" r="3.15"/><circle cx="569.6" cy="877.4" r="3.15"/><circle cx="557.6" cy="884.4" r="3.15"/><circle cx="548.0" cy="886.0" r="3.15"/><circle cx="551.0" cy="886.6" r="3.15"/><circle cx="552.0" cy="889.0" r="3.15"/><circle cx="556.0" cy="891.0" r="3.15"/><circle cx="564.4" cy="888.6" r="3.15"/><circle cx="565.6" cy="889.0" r="3.15"/><circle cx="564.4" cy="890.6" r="3.15"/><circle cx="573.4" cy="889.0" r="3.15"/><circle cx="575.6" cy="892.6" r="3.15"/><circle cx="584.6" cy="893.0" r="3.15"/><circle cx="600.0" cy="890.2" r="3.15"/><circle cx="577.6" cy="897.4" r="3.15"/><circle cx="569.0" cy="896.0" r="3.15"/><circle cx="569.0" cy="899.4" r="3.15"/><circle cx="564.0" cy="898.6" r="3.15"/><circle cx="558.0" cy="900.8" r="3.15"/><circle cx="593.6" cy="898.0" r="3.15"/><circle cx="548.0" cy="896.0" r="3.15"/>
</g>
<rect x="423" y="736.9" width="260" height="236.1" fill="none" stroke="#000" stroke-width="1.28"/>
<text x="432" y="996.6" font-family='"Liberation Serif", serif' font-size="16" text-anchor="middle">0.0</text>
<text x="495.1" y="996.6" font-family='"Liberation Serif", serif' font-size="16" text-anchor="middle">2.5</text>
<text x="558.2" y="996.6" font-family='"Liberation Serif", serif' font-size="16" text-anchor="middle">5.0</text>
<text x="621.3" y="996.6" font-family='"Liberation Serif", serif' font-size="16" text-anchor="middle">7.5</text>
<text x="410.7" y="785.6" font-family='"Liberation Serif", serif' font-size="16" text-anchor="end">60</text>
<text x="410.7" y="846.3" font-family='"Liberation Serif", serif' font-size="16" text-anchor="end">40</text>
<text x="410.7" y="907" font-family='"Liberation Serif", serif' font-size="16" text-anchor="end">20</text>
<path d="M432 973v6.24M495.1 973v6.24M558.2 973v6.24M621.3 973v6.24M423 780.1h-6.24M423 840.8h-6.24M423 901.5h-6.24M423 962.3h-6.24" stroke="#000" stroke-width="1.28" fill="none"/>
<path d="M649.1 1008.6L656.9 1016.4M649.1 1016.4L656.9 1008.6" stroke="#000" stroke-width="1.05" fill="none"/>
<text x="660.2" y="1017" font-family='"Liberation Serif", serif' font-size="16" text-anchor="start">10</text>
<text x="676.4" y="1010.4" font-family='"Liberation Serif", serif' font-size="11.2" text-anchor="start">4</text>
<text x="470.6" y="727.1" font-family='"Liberation Serif", serif' font-size="19.2" text-anchor="start" font-style="italic">ρ</text>
<text x="479.8" y="730.1" font-family='"Liberation Serif", serif' font-size="13.4" text-anchor="start" font-style="italic">s</text>
<text x="492.4" y="727.1" font-family='"Liberation Serif", serif' font-size="19.2" text-anchor="start" textLength="15" lengthAdjust="spacingAndGlyphs">=</text>
<text x="513.2" y="727.1" font-family='"Liberation Serif", serif' font-size="19.2" text-anchor="start">0.26</text>
<text x="547.8" y="727.1" font-family='"Liberation Serif", serif' font-size="19.2" text-anchor="start">,</text>
<text x="557.3" y="727.1" font-family='"Liberation Serif", serif' font-size="19.2" text-anchor="start" font-style="italic">ρ</text>
<text x="566.6" y="730.1" font-family='"Liberation Serif", serif' font-size="13.4" text-anchor="start" font-style="italic">p</text>
<text x="580.9" y="727.1" font-family='"Liberation Serif", serif' font-size="19.2" text-anchor="start" textLength="15" lengthAdjust="spacingAndGlyphs">=</text>
<text x="601.4" y="727.1" font-family='"Liberation Serif", serif' font-size="19.2" text-anchor="start">0.26</text>
<text x="553" y="1018.9" font-family='"Liberation Sans", sans-serif' font-size="15.3" text-anchor="middle" textLength="119" lengthAdjust="spacingAndGlyphs" class="sans"><tspan font-size="18.2" dy="0.7">(</tspan><tspan dy="-0.7">Pointcloud, CD</tspan><tspan font-size="18.2" dy="0.7">)</tspan></text>
<text x="553" y="1037.5" font-family='"Liberation Sans", sans-serif' font-size="15.3" text-anchor="middle" class="sans"><tspan font-size="18.2" dy="0.7">(</tspan><tspan dy="-0.7">f</tspan><tspan font-size="18.2" dy="0.7">)</tspan></text>
<g transform="translate(383.5 854.95) rotate(-90)"><text x="0" y="0" font-family='"Liberation Sans", sans-serif' font-size="15.3" text-anchor="middle" textLength="132.8" lengthAdjust="spacingAndGlyphs" class="sans"><tspan font-size="18.2" dy="0.7">(</tspan><tspan dy="-0.7">Voxel, t-SNE, ED</tspan><tspan font-size="18.2" dy="0.7">)</tspan></text></g>
</g>
<g id="plot-g">
<clipPath id="clip-g"><rect x="56.6" y="1093.3" width="260" height="236.6"/></clipPath>
<g clip-path="url(#clip-g)" fill="#1f77b4" fill-opacity="0.5">
<circle cx="93.0" cy="1107.6" r="3.15"/><circle cx="110.1" cy="1111.3" r="3.15"/><circle cx="109.1" cy="1111.1" r="3.15"/><circle cx="105.9" cy="1107.3" r="3.15"/><circle cx="104.8" cy="1110.7" r="3.15"/><circle cx="113.3" cy="1108.4" r="3.15"/><circle cx="105.0" cy="1112.1" r="3.15"/><circle cx="109.5" cy="1106.3" r="3.15"/><circle cx="109.2" cy="1106.1" r="3.15"/><circle cx="102.6" cy="1113.6" r="3.15"/><circle cx="104.9" cy="1109.4" r="3.15"/><circle cx="109.3" cy="1109.5" r="3.15"/><circle cx="109.7" cy="1110.3" r="3.15"/><circle cx="106.5" cy="1111.2" r="3.15"/><circle cx="105.0" cy="1105.6" r="3.15"/><circle cx="107.6" cy="1109.7" r="3.15"/><circle cx="103.3" cy="1105.6" r="3.15"/><circle cx="109.8" cy="1108.2" r="3.15"/><circle cx="113.8" cy="1109.0" r="3.15"/><circle cx="106.4" cy="1107.2" r="3.15"/><circle cx="111.0" cy="1105.2" r="3.15"/><circle cx="105.9" cy="1108.9" r="3.15"/><circle cx="104.3" cy="1105.3" r="3.15"/><circle cx="99.0" cy="1114.5" r="3.15"/><circle cx="116.1" cy="1108.1" r="3.15"/><circle cx="118.2" cy="1115.3" r="3.15"/><circle cx="115.7" cy="1109.4" r="3.15"/><circle cx="105.9" cy="1105.8" r="3.15"/><circle cx="103.3" cy="1109.9" r="3.15"/><circle cx="104.2" cy="1110.8" r="3.15"/><circle cx="106.5" cy="1104.9" r="3.15"/><circle cx="106.9" cy="1103.9" r="3.15"/><circle cx="100.3" cy="1109.7" r="3.15"/><circle cx="111.9" cy="1110.0" r="3.15"/><circle cx="100.9" cy="1107.9" r="3.15"/><circle cx="110.4" cy="1108.9" r="3.15"/><circle cx="101.3" cy="1107.6" r="3.15"/><circle cx="110.4" cy="1114.6" r="3.15"/><circle cx="106.1" cy="1111.4" r="3.15"/><circle cx="106.7" cy="1106.6" r="3.15"/><circle cx="110.7" cy="1107.9" r="3.15"/><circle cx="107.2" cy="1110.5" r="3.15"/><circle cx="101.6" cy="1107.0" r="3.15"/><circle cx="127.9" cy="1108.1" r="3.15"/><circle cx="121.5" cy="1105.8" r="3.15"/><circle cx="128.4" cy="1109.9" r="3.15"/><circle cx="125.0" cy="1105.1" r="3.15"/><circle cx="121.2" cy="1103.7" r="3.15"/><circle cx="120.9" cy="1108.4" r="3.15"/><circle cx="128.3" cy="1106.1" r="3.15"/><circle cx="128.3" cy="1110.5" r="3.15"/><circle cx="125.3" cy="1107.7" r="3.15"/><circle cx="115.6" cy="1108.1" r="3.15"/><circle cx="126.0" cy="1106.9" r="3.15"/><circle cx="124.1" cy="1108.5" r="3.15"/><circle cx="127.5" cy="1107.4" r="3.15"/><circle cx="87.4" cy="1135.2" r="3.15"/><circle cx="92.9" cy="1132.5" r="3.15"/><circle cx="81.7" cy="1138.8" r="3.15"/><circle cx="80.3" cy="1136.0" r="3.15"/><circle cx="87.0" cy="1135.8" r="3.15"/><circle cx="92.7" cy="1134.3" r="3.15"/><circle cx="87.1" cy="1135.0" r="3.15"/><circle cx="87.6" cy="1132.2" r="3.15"/><circle cx="83.9" cy="1135.2" r="3.15"/><circle cx="79.0" cy="1135.1" r="3.15"/><circle cx="90.3" cy="1131.1" r="3.15"/><circle cx="84.4" cy="1137.0" r="3.15"/><circle cx="92.4" cy="1130.7" r="3.15"/><circle cx="85.0" cy="1133.4" r="3.15"/><circle cx="90.3" cy="1135.9" r="3.15"/><circle cx="88.3" cy="1135.3" r="3.15"/><circle cx="89.6" cy="1134.1" r="3.15"/><circle cx="96.6" cy="1130.4" r="3.15"/><circle cx="92.5" cy="1133.9" r="3.15"/><circle cx="79.7" cy="1135.7" r="3.15"/><circle cx="89.0" cy="1132.3" r="3.15"/><circle cx="95.6" cy="1132.9" r="3.15"/><circle cx="88.7" cy="1135.5" r="3.15"/><circle cx="85.2" cy="1138.2" r="3.15"/><circle cx="94.6" cy="1132.3" r="3.15"/><circle cx="89.7" cy="1131.7" r="3.15"/><circle cx="83.2" cy="1135.7" r="3.15"/><circle cx="87.9" cy="1137.3" r="3.15"/><circle cx="88.9" cy="1139.0" r="3.15"/><circle cx="86.9" cy="1130.7" r="3.15"/><circle cx="91.0" cy="1133.8" r="3.15"/><circle cx="90.7" cy="1132.4" r="3.15"/><circle cx="94.6" cy="1128.1" r="3.15"/><circle cx="108.8" cy="1126.4" r="3.15"/><circle cx="110.0" cy="1132.9" r="3.15"/><circle cx="114.8" cy="1130.6" r="3.15"/><circle cx="100.5" cy="1130.7" r="3.15"/><circle cx="103.6" cy="1133.0" r="3.15"/><circle cx="100.8" cy="1132.1" r="3.15"/><circle cx="98.8" cy="1126.0" r="3.15"/><circle cx="106.1" cy="1131.8" r="3.15"/><circle cx="98.0" cy="1128.6" r="3.15"/><circle cx="98.8" cy="1130.4" r="3.15"/><circle cx="101.7" cy="1129.1" r="3.15"/><circle cx="112.1" cy="1135.0" r="3.15"/><circle cx="102.1" cy="1133.3" r="3.15"/><circle cx="106.5" cy="1133.8" r="3.15"/><circle cx="111.0" cy="1131.8" r="3.15"/><circle cx="95.8" cy="1130.7" r="3.15"/><circle cx="93.4" cy="1133.7" r="3.15"/><circle cx="98.1" cy="1131.9" r="3.15"/><circle cx="93.5" cy="1132.9" r="3.15"/><circle cx="108.8" cy="1128.3" r="3.15"/><circle cx="107.0" cy="1132.2" r="3.15"/><circle cx="98.6" cy="1125.2" r="3.15"/><circle cx="99.9" cy="1130.5" r="3.15"/><circle cx="103.1" cy="1132.4" r="3.15"/><circle cx="102.2" cy="1127.2" r="3.15"/><circle cx="111.0" cy="1128.5" r="3.15"/><circle cx="107.9" cy="1134.5" r="3.15"/><circle cx="106.7" cy="1133.1" r="3.15"/><circle cx="104.0" cy="1128.6" r="3.15"/><circle cx="100.8" cy="1133.0" r="3.15"/><circle cx="103.4" cy="1129.7" r="3.15"/><circle cx="103.4" cy="1133.1" r="3.15"/><circle cx="101.5" cy="1126.0" r="3.15"/><circle cx="96.2" cy="1130.9" r="3.15"/><circle cx="98.1" cy="1128.7" r="3.15"/><circle cx="97.1" cy="1129.0" r="3.15"/><circle cx="106.7" cy="1127.1" r="3.15"/><circle cx="118.4" cy="1130.6" r="3.15"/><circle cx="138.3" cy="1125.6" r="3.15"/><circle cx="146.8" cy="1126.0" r="3.15"/><circle cx="144.5" cy="1127.9" r="3.15"/><circle cx="145.1" cy="1126.4" r="3.15"/><circle cx="134.8" cy="1122.8" r="3.15"/><circle cx="138.8" cy="1123.8" r="3.15"/><circle cx="138.6" cy="1122.4" r="3.15"/><circle cx="150.3" cy="1127.5" r="3.15"/><circle cx="142.7" cy="1124.5" r="3.15"/><circle cx="138.3" cy="1126.3" r="3.15"/><circle cx="145.7" cy="1127.1" r="3.15"/><circle cx="142.4" cy="1128.5" r="3.15"/><circle cx="145.1" cy="1128.0" r="3.15"/><circle cx="134.8" cy="1124.4" r="3.15"/><circle cx="139.5" cy="1125.0" r="3.15"/><circle cx="149.0" cy="1122.5" r="3.15"/><circle cx="136.3" cy="1129.2" r="3.15"/><circle cx="137.6" cy="1125.4" r="3.15"/><circle cx="143.3" cy="1129.3" r="3.15"/><circle cx="140.3" cy="1127.7" r="3.15"/><circle cx="137.1" cy="1125.8" r="3.15"/><circle cx="143.9" cy="1124.6" r="3.15"/><circle cx="136.9" cy="1125.8" r="3.15"/><circle cx="143.9" cy="1125.2" r="3.15"/><circle cx="159.6" cy="1124.0" r="3.15"/><circle cx="161.0" cy="1127.0" r="3.15"/><circle cx="145.0" cy="1122.0" r="3.15"/><circle cx="135.5" cy="1135.5" r="3.15"/><circle cx="152.7" cy="1142.5" r="3.15"/><circle cx="140.7" cy="1140.8" r="3.15"/><circle cx="156.0" cy="1141.8" r="3.15"/><circle cx="145.3" cy="1140.4" r="3.15"/><circle cx="143.3" cy="1137.9" r="3.15"/><circle cx="146.8" cy="1139.2" r="3.15"/><circle cx="144.0" cy="1139.3" r="3.15"/><circle cx="148.3" cy="1137.4" r="3.15"/><circle cx="148.8" cy="1139.7" r="3.15"/><circle cx="139.9" cy="1141.0" r="3.15"/><circle cx="143.3" cy="1141.3" r="3.15"/><circle cx="143.0" cy="1136.5" r="3.15"/><circle cx="151.9" cy="1139.0" r="3.15"/><circle cx="150.3" cy="1140.0" r="3.15"/><circle cx="146.6" cy="1133.8" r="3.15"/><circle cx="146.1" cy="1139.1" r="3.15"/><circle cx="144.2" cy="1137.6" r="3.15"/><circle cx="141.9" cy="1136.6" r="3.15"/><circle cx="147.3" cy="1139.5" r="3.15"/><circle cx="154.1" cy="1138.1" r="3.15"/><circle cx="136.5" cy="1138.7" r="3.15"/><circle cx="159.6" cy="1134.4" r="3.15"/><circle cx="136.0" cy="1140.0" r="3.15"/><circle cx="104.2" cy="1154.0" r="3.15"/><circle cx="103.0" cy="1144.8" r="3.15"/><circle cx="104.8" cy="1143.1" r="3.15"/><circle cx="107.1" cy="1142.8" r="3.15"/><circle cx="106.5" cy="1148.4" r="3.15"/><circle cx="98.3" cy="1148.5" r="3.15"/><circle cx="103.5" cy="1153.0" r="3.15"/><circle cx="98.9" cy="1147.3" r="3.15"/><circle cx="100.6" cy="1150.2" r="3.15"/><circle cx="103.9" cy="1151.3" r="3.15"/><circle cx="99.5" cy="1152.9" r="3.15"/><circle cx="102.6" cy="1152.1" r="3.15"/><circle cx="101.5" cy="1146.4" r="3.15"/><circle cx="100.1" cy="1149.3" r="3.15"/><circle cx="96.7" cy="1155.8" r="3.15"/><circle cx="104.0" cy="1146.3" r="3.15"/><circle cx="97.8" cy="1154.9" r="3.15"/><circle cx="104.7" cy="1152.0" r="3.15"/><circle cx="97.8" cy="1149.0" r="3.15"/><circle cx="99.6" cy="1155.2" r="3.15"/><circle cx="100.8" cy="1156.7" r="3.15"/><circle cx="97.6" cy="1152.7" r="3.15"/><circle cx="106.4" cy="1148.5" r="3.15"/><circle cx="96.2" cy="1153.9" r="3.15"/><circle cx="100.7" cy="1153.3" r="3.15"/><circle cx="105.6" cy="1143.5" r="3.15"/><circle cx="102.9" cy="1148.8" r="3.15"/><circle cx="104.1" cy="1149.8" r="3.15"/><circle cx="97.8" cy="1153.6" r="3.15"/><circle cx="107.5" cy="1149.3" r="3.15"/><circle cx="103.3" cy="1151.9" r="3.15"/><circle cx="107.8" cy="1147.3" r="3.15"/><circle cx="100.1" cy="1148.2" r="3.15"/><circle cx="107.1" cy="1144.9" r="3.15"/><circle cx="102.6" cy="1150.1" r="3.15"/><circle cx="99.1" cy="1153.1" r="3.15"/><circle cx="95.3" cy="1153.1" r="3.15"/><circle cx="107.1" cy="1143.7" r="3.15"/><circle cx="108.4" cy="1145.0" r="3.15"/><circle cx="100.3" cy="1149.5" r="3.15"/><circle cx="100.4" cy="1156.4" r="3.15"/><circle cx="102.8" cy="1157.2" r="3.15"/><circle cx="98.4" cy="1154.3" r="3.15"/><circle cx="102.1" cy="1146.8" r="3.15"/><circle cx="100.2" cy="1155.3" r="3.15"/><circle cx="98.1" cy="1151.9" r="3.15"/><circle cx="101.9" cy="1145.7" r="3.15"/><circle cx="97.1" cy="1151.8" r="3.15"/><circle cx="98.9" cy="1155.9" r="3.15"/><circle cx="104.8" cy="1152.0" r="3.15"/><circle cx="95.4" cy="1149.7" r="3.15"/><circle cx="104.8" cy="1146.3" r="3.15"/><circle cx="100.6" cy="1144.9" r="3.15"/><circle cx="101.6" cy="1152.1" r="3.15"/><circle cx="99.1" cy="1152.6" r="3.15"/><circle cx="100.9" cy="1142.8" r="3.15"/><circle cx="101.3" cy="1153.5" r="3.15"/><circle cx="103.0" cy="1147.3" r="3.15"/><circle cx="106.5" cy="1147.5" r="3.15"/><circle cx="108.8" cy="1145.8" r="3.15"/><circle cx="103.2" cy="1149.0" r="3.15"/><circle cx="100.8" cy="1153.3" r="3.15"/><circle cx="100.1" cy="1172.3" r="3.15"/><circle cx="115.0" cy="1168.4" r="3.15"/><circle cx="119.1" cy="1171.1" r="3.15"/><circle cx="115.7" cy="1165.0" r="3.15"/><circle cx="119.9" cy="1172.0" r="3.15"/><circle cx="122.5" cy="1166.2" r="3.15"/><circle cx="112.2" cy="1165.9" r="3.15"/><circle cx="124.1" cy="1163.3" r="3.15"/><circle cx="124.6" cy="1167.9" r="3.15"/><circle cx="114.2" cy="1169.5" r="3.15"/><circle cx="112.4" cy="1170.9" r="3.15"/><circle cx="116.4" cy="1168.4" r="3.15"/><circle cx="106.9" cy="1172.8" r="3.15"/><circle cx="109.4" cy="1168.1" r="3.15"/><circle cx="121.5" cy="1170.0" r="3.15"/><circle cx="104.5" cy="1170.3" r="3.15"/><circle cx="111.4" cy="1168.8" r="3.15"/><circle cx="113.0" cy="1166.1" r="3.15"/><circle cx="115.5" cy="1165.3" r="3.15"/><circle cx="116.4" cy="1171.9" r="3.15"/><circle cx="127.0" cy="1166.9" r="3.15"/><circle cx="107.3" cy="1165.8" r="3.15"/><circle cx="121.4" cy="1173.5" r="3.15"/><circle cx="117.3" cy="1173.2" r="3.15"/><circle cx="115.9" cy="1168.4" r="3.15"/><circle cx="107.3" cy="1164.7" r="3.15"/><circle cx="109.7" cy="1173.9" r="3.15"/><circle cx="114.5" cy="1168.2" r="3.15"/><circle cx="111.0" cy="1164.1" r="3.15"/><circle cx="104.0" cy="1172.2" r="3.15"/><circle cx="115.1" cy="1165.3" r="3.15"/><circle cx="105.8" cy="1168.4" r="3.15"/><circle cx="111.4" cy="1166.7" r="3.15"/><circle cx="122.3" cy="1168.1" r="3.15"/><circle cx="116.2" cy="1168.1" r="3.15"/><circle cx="102.0" cy="1169.9" r="3.15"/><circle cx="107.6" cy="1170.2" r="3.15"/><circle cx="115.5" cy="1172.1" r="3.15"/><circle cx="118.8" cy="1166.5" r="3.15"/><circle cx="104.3" cy="1166.8" r="3.15"/><circle cx="113.2" cy="1166.5" r="3.15"/><circle cx="116.7" cy="1170.2" r="3.15"/><circle cx="104.3" cy="1168.2" r="3.15"/><circle cx="111.9" cy="1166.0" r="3.15"/><circle cx="107.5" cy="1169.2" r="3.15"/><circle cx="114.8" cy="1164.9" r="3.15"/><circle cx="112.0" cy="1170.9" r="3.15"/><circle cx="122.5" cy="1165.0" r="3.15"/><circle cx="116.8" cy="1169.5" r="3.15"/><circle cx="128.2" cy="1166.1" r="3.15"/><circle cx="113.3" cy="1162.5" r="3.15"/><circle cx="118.2" cy="1169.6" r="3.15"/><circle cx="112.6" cy="1165.6" r="3.15"/><circle cx="119.9" cy="1169.2" r="3.15"/><circle cx="110.6" cy="1166.3" r="3.15"/><circle cx="107.1" cy="1172.4" r="3.15"/><circle cx="114.3" cy="1167.9" r="3.15"/><circle cx="128.7" cy="1167.8" r="3.15"/><circle cx="122.9" cy="1167.3" r="3.15"/><circle cx="125.2" cy="1166.3" r="3.15"/><circle cx="129.0" cy="1169.6" r="3.15"/><circle cx="115.3" cy="1167.1" r="3.15"/><circle cx="112.0" cy="1165.5" r="3.15"/><circle cx="123.3" cy="1165.5" r="3.15"/><circle cx="106.5" cy="1165.3" r="3.15"/><circle cx="114.2" cy="1173.6" r="3.15"/><circle cx="114.1" cy="1165.0" r="3.15"/><circle cx="112.3" cy="1171.6" r="3.15"/><circle cx="103.4" cy="1167.1" r="3.15"/><circle cx="120.1" cy="1167.7" r="3.15"/><circle cx="109.6" cy="1168.2" r="3.15"/><circle cx="115.3" cy="1169.2" r="3.15"/><circle cx="136.1" cy="1174.0" r="3.15"/><circle cx="132.7" cy="1173.1" r="3.15"/><circle cx="133.4" cy="1174.3" r="3.15"/><circle cx="136.2" cy="1173.1" r="3.15"/><circle cx="140.2" cy="1174.6" r="3.15"/><circle cx="134.1" cy="1172.5" r="3.15"/><circle cx="135.3" cy="1176.5" r="3.15"/><circle cx="137.6" cy="1174.2" r="3.15"/><circle cx="132.0" cy="1175.1" r="3.15"/><circle cx="131.9" cy="1175.2" r="3.15"/><circle cx="143.1" cy="1171.8" r="3.15"/><circle cx="161.0" cy="1168.6" r="3.15"/><circle cx="165.0" cy="1172.0" r="3.15"/><circle cx="165.0" cy="1176.0" r="3.15"/><circle cx="170.0" cy="1168.4" r="3.15"/><circle cx="172.4" cy="1170.0" r="3.15"/><circle cx="175.0" cy="1171.0" r="3.15"/><circle cx="177.0" cy="1172.4" r="3.15"/><circle cx="180.0" cy="1175.0" r="3.15"/><circle cx="173.6" cy="1167.6" r="3.15"/><circle cx="178.0" cy="1169.0" r="3.15"/><circle cx="186.0" cy="1170.0" r="3.15"/><circle cx="104.6" cy="1179.6" r="3.15"/><circle cx="104.4" cy="1184.0" r="3.15"/><circle cx="111.7" cy="1181.6" r="3.15"/><circle cx="104.2" cy="1180.9" r="3.15"/><circle cx="113.9" cy="1177.5" r="3.15"/><circle cx="116.5" cy="1176.0" r="3.15"/><circle cx="105.7" cy="1178.6" r="3.15"/><circle cx="104.6" cy="1183.8" r="3.15"/><circle cx="99.3" cy="1183.9" r="3.15"/><circle cx="109.1" cy="1179.9" r="3.15"/><circle cx="104.7" cy="1178.1" r="3.15"/><circle cx="103.8" cy="1185.9" r="3.15"/><circle cx="106.8" cy="1176.5" r="3.15"/><circle cx="104.3" cy="1185.4" r="3.15"/><circle cx="100.7" cy="1187.2" r="3.15"/><circle cx="104.6" cy="1183.1" r="3.15"/><circle cx="112.3" cy="1180.8" r="3.15"/><circle cx="113.1" cy="1176.8" r="3.15"/><circle cx="116.6" cy="1179.2" r="3.15"/><circle cx="105.6" cy="1179.0" r="3.15"/><circle cx="107.7" cy="1181.4" r="3.15"/><circle cx="108.9" cy="1186.5" r="3.15"/><circle cx="101.8" cy="1181.1" r="3.15"/><circle cx="108.8" cy="1182.9" r="3.15"/><circle cx="101.6" cy="1181.1" r="3.15"/><circle cx="107.5" cy="1183.5" r="3.15"/><circle cx="107.9" cy="1180.5" r="3.15"/><circle cx="112.2" cy="1186.2" r="3.15"/><circle cx="98.3" cy="1186.1" r="3.15"/><circle cx="105.3" cy="1186.6" r="3.15"/><circle cx="117.5" cy="1182.4" r="3.15"/><circle cx="107.0" cy="1180.8" r="3.15"/><circle cx="106.2" cy="1180.7" r="3.15"/><circle cx="102.3" cy="1184.3" r="3.15"/><circle cx="109.6" cy="1183.6" r="3.15"/><circle cx="114.9" cy="1179.4" r="3.15"/><circle cx="122.6" cy="1191.6" r="3.15"/><circle cx="125.8" cy="1193.1" r="3.15"/><circle cx="123.5" cy="1189.6" r="3.15"/><circle cx="117.0" cy="1191.5" r="3.15"/><circle cx="117.7" cy="1189.5" r="3.15"/><circle cx="129.2" cy="1195.0" r="3.15"/><circle cx="123.7" cy="1190.4" r="3.15"/><circle cx="109.2" cy="1189.0" r="3.15"/><circle cx="115.2" cy="1190.0" r="3.15"/><circle cx="128.4" cy="1192.3" r="3.15"/><circle cx="129.2" cy="1188.8" r="3.15"/><circle cx="119.8" cy="1192.8" r="3.15"/><circle cx="125.1" cy="1192.6" r="3.15"/><circle cx="128.2" cy="1190.4" r="3.15"/><circle cx="124.1" cy="1192.0" r="3.15"/><circle cx="111.1" cy="1190.7" r="3.15"/><circle cx="110.1" cy="1193.8" r="3.15"/><circle cx="115.2" cy="1189.4" r="3.15"/><circle cx="113.3" cy="1189.4" r="3.15"/><circle cx="120.2" cy="1189.0" r="3.15"/><circle cx="128.7" cy="1192.2" r="3.15"/><circle cx="112.7" cy="1190.1" r="3.15"/><circle cx="118.2" cy="1191.6" r="3.15"/><circle cx="117.9" cy="1193.2" r="3.15"/><circle cx="127.3" cy="1189.6" r="3.15"/><circle cx="112.3" cy="1189.4" r="3.15"/><circle cx="91.4" cy="1198.5" r="3.15"/><circle cx="93.2" cy="1197.9" r="3.15"/><circle cx="90.1" cy="1199.4" r="3.15"/><circle cx="86.2" cy="1203.4" r="3.15"/><circle cx="87.7" cy="1195.6" r="3.15"/><circle cx="89.6" cy="1191.2" r="3.15"/><circle cx="90.4" cy="1196.9" r="3.15"/><circle cx="83.8" cy="1193.9" r="3.15"/><circle cx="86.5" cy="1202.0" r="3.15"/><circle cx="85.4" cy="1197.4" r="3.15"/><circle cx="95.4" cy="1191.2" r="3.15"/><circle cx="87.9" cy="1199.9" r="3.15"/><circle cx="91.6" cy="1202.7" r="3.15"/><circle cx="93.2" cy="1203.6" r="3.15"/><circle cx="91.6" cy="1206.9" r="3.15"/><circle cx="85.1" cy="1199.0" r="3.15"/><circle cx="89.6" cy="1198.8" r="3.15"/><circle cx="90.7" cy="1199.1" r="3.15"/><circle cx="86.7" cy="1195.1" r="3.15"/><circle cx="85.6" cy="1203.8" r="3.15"/><circle cx="86.6" cy="1201.6" r="3.15"/><circle cx="96.4" cy="1196.2" r="3.15"/><circle cx="91.9" cy="1196.3" r="3.15"/><circle cx="88.6" cy="1198.2" r="3.15"/><circle cx="86.4" cy="1207.9" r="3.15"/><circle cx="90.2" cy="1194.9" r="3.15"/><circle cx="83.8" cy="1207.5" r="3.15"/><circle cx="84.2" cy="1205.0" r="3.15"/><circle cx="88.0" cy="1207.3" r="3.15"/><circle cx="87.7" cy="1193.4" r="3.15"/><circle cx="90.8" cy="1204.6" r="3.15"/><circle cx="83.7" cy="1203.2" r="3.15"/><circle cx="87.7" cy="1195.8" r="3.15"/><circle cx="85.4" cy="1202.3" r="3.15"/><circle cx="95.1" cy="1198.2" r="3.15"/><circle cx="92.1" cy="1197.5" r="3.15"/><circle cx="90.2" cy="1196.0" r="3.15"/><circle cx="84.6" cy="1202.2" r="3.15"/><circle cx="87.2" cy="1199.9" r="3.15"/><circle cx="90.1" cy="1192.3" r="3.15"/><circle cx="94.2" cy="1200.8" r="3.15"/><circle cx="87.0" cy="1201.7" r="3.15"/><circle cx="88.1" cy="1196.6" r="3.15"/><circle cx="89.2" cy="1200.0" r="3.15"/><circle cx="86.9" cy="1202.6" r="3.15"/><circle cx="86.7" cy="1203.5" r="3.15"/><circle cx="83.7" cy="1197.4" r="3.15"/><circle cx="90.1" cy="1206.8" r="3.15"/><circle cx="91.3" cy="1201.1" r="3.15"/><circle cx="88.7" cy="1196.4" r="3.15"/><circle cx="88.0" cy="1188.6" r="3.15"/><circle cx="92.3" cy="1199.9" r="3.15"/><circle cx="86.2" cy="1200.7" r="3.15"/><circle cx="83.7" cy="1206.0" r="3.15"/><circle cx="85.1" cy="1191.6" r="3.15"/><circle cx="89.2" cy="1203.5" r="3.15"/><circle cx="87.1" cy="1207.5" r="3.15"/><circle cx="84.3" cy="1193.2" r="3.15"/><circle cx="84.1" cy="1191.5" r="3.15"/><circle cx="91.0" cy="1200.3" r="3.15"/><circle cx="87.4" cy="1196.0" r="3.15"/><circle cx="87.5" cy="1193.8" r="3.15"/><circle cx="90.6" cy="1195.7" r="3.15"/><circle cx="84.6" cy="1203.1" r="3.15"/><circle cx="83.8" cy="1202.0" r="3.15"/><circle cx="89.6" cy="1191.9" r="3.15"/><circle cx="82.2" cy="1208.3" r="3.15"/><circle cx="91.3" cy="1198.1" r="3.15"/><circle cx="108.5" cy="1199.7" r="3.15"/><circle cx="110.5" cy="1200.0" r="3.15"/><circle cx="117.0" cy="1202.1" r="3.15"/><circle cx="109.2" cy="1198.3" r="3.15"/><circle cx="104.3" cy="1197.5" r="3.15"/><circle cx="112.0" cy="1202.6" r="3.15"/><circle cx="113.2" cy="1203.3" r="3.15"/><circle cx="107.4" cy="1206.2" r="3.15"/><circle cx="107.7" cy="1203.7" r="3.15"/><circle cx="103.1" cy="1207.4" r="3.15"/><circle cx="117.9" cy="1207.5" r="3.15"/><circle cx="110.2" cy="1204.5" r="3.15"/><circle cx="100.8" cy="1198.8" r="3.15"/><circle cx="106.3" cy="1200.5" r="3.15"/><circle cx="110.3" cy="1200.9" r="3.15"/><circle cx="108.4" cy="1200.8" r="3.15"/><circle cx="101.0" cy="1199.5" r="3.15"/><circle cx="108.5" cy="1203.6" r="3.15"/><circle cx="114.6" cy="1201.9" r="3.15"/><circle cx="104.0" cy="1202.8" r="3.15"/><circle cx="107.3" cy="1196.7" r="3.15"/><circle cx="102.1" cy="1205.7" r="3.15"/><circle cx="105.8" cy="1203.8" r="3.15"/><circle cx="107.2" cy="1199.1" r="3.15"/><circle cx="100.3" cy="1202.2" r="3.15"/><circle cx="113.2" cy="1204.2" r="3.15"/><circle cx="110.4" cy="1198.2" r="3.15"/><circle cx="106.3" cy="1204.2" r="3.15"/><circle cx="105.2" cy="1203.4" r="3.15"/><circle cx="108.8" cy="1197.5" r="3.15"/><circle cx="111.4" cy="1198.1" r="3.15"/><circle cx="110.9" cy="1206.4" r="3.15"/><circle cx="112.7" cy="1200.4" r="3.15"/><circle cx="103.4" cy="1202.8" r="3.15"/><circle cx="109.4" cy="1202.1" r="3.15"/><circle cx="112.4" cy="1203.1" r="3.15"/><circle cx="106.3" cy="1201.2" r="3.15"/><circle cx="104.4" cy="1205.4" r="3.15"/><circle cx="109.6" cy="1200.7" r="3.15"/><circle cx="101.6" cy="1201.6" r="3.15"/><circle cx="98.0" cy="1200.0" r="3.15"/><circle cx="100.0" cy="1202.0" r="3.15"/><circle cx="131.4" cy="1203.0" r="3.15"/><circle cx="129.4" cy="1200.5" r="3.15"/><circle cx="139.4" cy="1193.7" r="3.15"/><circle cx="140.8" cy="1194.2" r="3.15"/><circle cx="130.4" cy="1197.8" r="3.15"/><circle cx="137.6" cy="1194.9" r="3.15"/><circle cx="142.4" cy="1199.4" r="3.15"/><circle cx="133.6" cy="1201.3" r="3.15"/><circle cx="131.7" cy="1196.9" r="3.15"/><circle cx="134.0" cy="1197.2" r="3.15"/><circle cx="132.2" cy="1199.9" r="3.15"/><circle cx="134.1" cy="1192.6" r="3.15"/><circle cx="137.5" cy="1196.3" r="3.15"/><circle cx="141.9" cy="1197.9" r="3.15"/><circle cx="141.7" cy="1193.7" r="3.15"/><circle cx="140.3" cy="1198.4" r="3.15"/><circle cx="139.8" cy="1197.4" r="3.15"/><circle cx="133.6" cy="1195.4" r="3.15"/><circle cx="156.1" cy="1190.0" r="3.15"/><circle cx="179.7" cy="1185.3" r="3.15"/><circle cx="176.7" cy="1191.8" r="3.15"/><circle cx="171.8" cy="1191.1" r="3.15"/><circle cx="160.6" cy="1190.3" r="3.15"/><circle cx="156.7" cy="1190.9" r="3.15"/><circle cx="164.0" cy="1191.6" r="3.15"/><circle cx="175.4" cy="1188.9" r="3.15"/><circle cx="177.6" cy="1189.3" r="3.15"/><circle cx="147.7" cy="1192.3" r="3.15"/><circle cx="180.5" cy="1187.0" r="3.15"/><circle cx="159.2" cy="1191.3" r="3.15"/><circle cx="174.7" cy="1189.9" r="3.15"/><circle cx="165.9" cy="1192.0" r="3.15"/><circle cx="150.1" cy="1188.3" r="3.15"/><circle cx="176.3" cy="1191.3" r="3.15"/><circle cx="166.0" cy="1190.3" r="3.15"/><circle cx="142.4" cy="1187.0" r="3.15"/><circle cx="177.5" cy="1187.6" r="3.15"/><circle cx="147.4" cy="1187.6" r="3.15"/><circle cx="148.1" cy="1191.8" r="3.15"/><circle cx="162.1" cy="1186.7" r="3.15"/><circle cx="155.9" cy="1190.7" r="3.15"/><circle cx="152.6" cy="1192.2" r="3.15"/><circle cx="167.0" cy="1189.4" r="3.15"/><circle cx="163.3" cy="1191.1" r="3.15"/><circle cx="163.0" cy="1193.3" r="3.15"/><circle cx="146.9" cy="1189.4" r="3.15"/><circle cx="90.6" cy="1217.1" r="3.15"/><circle cx="95.3" cy="1217.2" r="3.15"/><circle cx="84.1" cy="1222.3" r="3.15"/><circle cx="94.1" cy="1216.7" r="3.15"/><circle cx="92.5" cy="1213.2" r="3.15"/><circle cx="81.2" cy="1217.1" r="3.15"/><circle cx="88.2" cy="1215.3" r="3.15"/><circle cx="93.5" cy="1224.9" r="3.15"/><circle cx="90.6" cy="1219.5" r="3.15"/><circle cx="85.5" cy="1214.9" r="3.15"/><circle cx="87.4" cy="1220.8" r="3.15"/><circle cx="90.5" cy="1214.6" r="3.15"/><circle cx="98.0" cy="1216.9" r="3.15"/><circle cx="93.9" cy="1222.0" r="3.15"/><circle cx="94.1" cy="1213.1" r="3.15"/><circle cx="88.6" cy="1221.7" r="3.15"/><circle cx="94.2" cy="1221.5" r="3.15"/><circle cx="94.0" cy="1218.7" r="3.15"/><circle cx="93.3" cy="1217.2" r="3.15"/><circle cx="93.8" cy="1218.4" r="3.15"/><circle cx="88.5" cy="1221.7" r="3.15"/><circle cx="95.6" cy="1219.1" r="3.15"/><circle cx="85.0" cy="1217.7" r="3.15"/><circle cx="98.6" cy="1217.2" r="3.15"/><circle cx="86.7" cy="1222.9" r="3.15"/><circle cx="90.6" cy="1218.6" r="3.15"/><circle cx="86.9" cy="1222.4" r="3.15"/><circle cx="93.8" cy="1221.5" r="3.15"/><circle cx="100.2" cy="1213.3" r="3.15"/><circle cx="86.1" cy="1219.8" r="3.15"/><circle cx="92.0" cy="1218.4" r="3.15"/><circle cx="91.3" cy="1214.1" r="3.15"/><circle cx="94.7" cy="1215.3" r="3.15"/><circle cx="93.9" cy="1216.0" r="3.15"/><circle cx="92.9" cy="1218.8" r="3.15"/><circle cx="91.2" cy="1213.8" r="3.15"/><circle cx="101.3" cy="1218.2" r="3.15"/><circle cx="80.3" cy="1221.0" r="3.15"/><circle cx="93.2" cy="1220.6" r="3.15"/><circle cx="92.3" cy="1221.5" r="3.15"/><circle cx="85.8" cy="1221.9" r="3.15"/><circle cx="89.9" cy="1223.7" r="3.15"/><circle cx="84.8" cy="1214.5" r="3.15"/><circle cx="81.9" cy="1224.4" r="3.15"/><circle cx="87.8" cy="1218.2" r="3.15"/><circle cx="90.5" cy="1216.6" r="3.15"/><circle cx="80.4" cy="1217.4" r="3.15"/><circle cx="89.0" cy="1221.6" r="3.15"/><circle cx="95.1" cy="1219.4" r="3.15"/><circle cx="92.2" cy="1219.4" r="3.15"/><circle cx="92.7" cy="1219.1" r="3.15"/><circle cx="83.9" cy="1219.6" r="3.15"/><circle cx="94.6" cy="1217.0" r="3.15"/><circle cx="93.8" cy="1221.7" r="3.15"/><circle cx="94.5" cy="1214.4" r="3.15"/><circle cx="97.6" cy="1217.7" r="3.15"/><circle cx="88.0" cy="1222.3" r="3.15"/><circle cx="98.6" cy="1217.6" r="3.15"/><circle cx="96.4" cy="1216.7" r="3.15"/><circle cx="84.6" cy="1224.3" r="3.15"/><circle cx="93.8" cy="1217.8" r="3.15"/><circle cx="89.8" cy="1223.2" r="3.15"/><circle cx="118.5" cy="1211.6" r="3.15"/><circle cx="109.4" cy="1209.4" r="3.15"/><circle cx="111.2" cy="1207.3" r="3.15"/><circle cx="107.8" cy="1208.3" r="3.15"/><circle cx="117.4" cy="1212.4" r="3.15"/><circle cx="118.4" cy="1214.1" r="3.15"/><circle cx="106.0" cy="1210.2" r="3.15"/><circle cx="116.1" cy="1206.9" r="3.15"/><circle cx="107.6" cy="1209.4" r="3.15"/><circle cx="115.1" cy="1210.1" r="3.15"/><circle cx="118.2" cy="1212.6" r="3.15"/><circle cx="106.8" cy="1206.8" r="3.15"/><circle cx="113.9" cy="1206.8" r="3.15"/><circle cx="114.4" cy="1210.1" r="3.15"/><circle cx="152.7" cy="1213.7" r="3.15"/><circle cx="144.8" cy="1214.9" r="3.15"/><circle cx="140.2" cy="1213.7" r="3.15"/><circle cx="140.2" cy="1215.1" r="3.15"/><circle cx="143.5" cy="1210.2" r="3.15"/><circle cx="149.5" cy="1214.7" r="3.15"/><circle cx="139.3" cy="1215.4" r="3.15"/><circle cx="132.8" cy="1216.6" r="3.15"/><circle cx="149.8" cy="1216.3" r="3.15"/><circle cx="137.1" cy="1219.0" r="3.15"/><circle cx="129.8" cy="1212.9" r="3.15"/><circle cx="149.0" cy="1216.7" r="3.15"/><circle cx="129.4" cy="1210.2" r="3.15"/><circle cx="145.1" cy="1217.3" r="3.15"/><circle cx="130.6" cy="1212.0" r="3.15"/><circle cx="140.7" cy="1211.5" r="3.15"/><circle cx="132.4" cy="1215.7" r="3.15"/><circle cx="147.1" cy="1216.5" r="3.15"/><circle cx="135.0" cy="1212.1" r="3.15"/><circle cx="151.5" cy="1216.3" r="3.15"/><circle cx="142.2" cy="1212.9" r="3.15"/><circle cx="136.6" cy="1212.2" r="3.15"/><circle cx="139.1" cy="1216.8" r="3.15"/><circle cx="143.6" cy="1216.0" r="3.15"/><circle cx="150.1" cy="1217.0" r="3.15"/><circle cx="141.5" cy="1214.1" r="3.15"/><circle cx="146.2" cy="1214.0" r="3.15"/><circle cx="150.8" cy="1216.4" r="3.15"/><circle cx="131.9" cy="1214.4" r="3.15"/><circle cx="139.2" cy="1210.2" r="3.15"/><circle cx="132.3" cy="1211.0" r="3.15"/><circle cx="133.0" cy="1209.2" r="3.15"/><circle cx="124.8" cy="1213.6" r="3.15"/><circle cx="131.5" cy="1213.5" r="3.15"/><circle cx="143.0" cy="1212.4" r="3.15"/><circle cx="134.0" cy="1214.5" r="3.15"/><circle cx="133.9" cy="1212.0" r="3.15"/><circle cx="151.0" cy="1218.4" r="3.15"/><circle cx="174.8" cy="1210.6" r="3.15"/><circle cx="161.1" cy="1209.0" r="3.15"/><circle cx="173.8" cy="1209.1" r="3.15"/><circle cx="169.2" cy="1206.7" r="3.15"/><circle cx="167.5" cy="1207.2" r="3.15"/><circle cx="168.2" cy="1210.0" r="3.15"/><circle cx="160.4" cy="1206.9" r="3.15"/><circle cx="172.1" cy="1210.0" r="3.15"/><circle cx="175.7" cy="1209.1" r="3.15"/><circle cx="166.4" cy="1205.5" r="3.15"/><circle cx="177.8" cy="1208.4" r="3.15"/><circle cx="163.0" cy="1208.2" r="3.15"/><circle cx="175.9" cy="1207.7" r="3.15"/><circle cx="163.1" cy="1210.2" r="3.15"/><circle cx="164.5" cy="1210.4" r="3.15"/><circle cx="174.3" cy="1212.5" r="3.15"/><circle cx="168.8" cy="1210.6" r="3.15"/><circle cx="176.0" cy="1210.1" r="3.15"/><circle cx="176.4" cy="1212.0" r="3.15"/><circle cx="159.4" cy="1207.4" r="3.15"/><circle cx="158.2" cy="1208.9" r="3.15"/><circle cx="177.8" cy="1209.5" r="3.15"/><circle cx="156.1" cy="1205.9" r="3.15"/><circle cx="163.5" cy="1205.4" r="3.15"/><circle cx="111.6" cy="1240.3" r="3.15"/><circle cx="116.9" cy="1239.0" r="3.15"/><circle cx="107.4" cy="1232.5" r="3.15"/><circle cx="105.5" cy="1231.0" r="3.15"/><circle cx="119.7" cy="1236.6" r="3.15"/><circle cx="123.5" cy="1239.4" r="3.15"/><circle cx="104.0" cy="1228.7" r="3.15"/><circle cx="124.0" cy="1240.1" r="3.15"/><circle cx="106.2" cy="1234.4" r="3.15"/><circle cx="117.2" cy="1235.9" r="3.15"/><circle cx="103.7" cy="1234.5" r="3.15"/><circle cx="109.5" cy="1236.9" r="3.15"/><circle cx="118.4" cy="1238.8" r="3.15"/><circle cx="104.1" cy="1232.4" r="3.15"/><circle cx="119.1" cy="1238.6" r="3.15"/><circle cx="98.5" cy="1230.3" r="3.15"/><circle cx="116.8" cy="1237.7" r="3.15"/><circle cx="106.6" cy="1236.2" r="3.15"/><circle cx="102.7" cy="1235.5" r="3.15"/><circle cx="128.4" cy="1237.1" r="3.15"/><circle cx="101.6" cy="1233.0" r="3.15"/><circle cx="113.4" cy="1237.3" r="3.15"/><circle cx="102.3" cy="1229.7" r="3.15"/><circle cx="122.6" cy="1240.0" r="3.15"/><circle cx="99.7" cy="1230.9" r="3.15"/><circle cx="119.3" cy="1236.3" r="3.15"/><circle cx="123.6" cy="1237.9" r="3.15"/><circle cx="97.6" cy="1233.1" r="3.15"/><circle cx="111.7" cy="1236.2" r="3.15"/><circle cx="119.8" cy="1240.0" r="3.15"/><circle cx="123.1" cy="1238.8" r="3.15"/><circle cx="127.0" cy="1241.1" r="3.15"/><circle cx="122.6" cy="1241.3" r="3.15"/><circle cx="99.4" cy="1235.8" r="3.15"/><circle cx="111.0" cy="1236.7" r="3.15"/><circle cx="118.6" cy="1239.1" r="3.15"/><circle cx="115.0" cy="1238.2" r="3.15"/><circle cx="114.9" cy="1240.2" r="3.15"/><circle cx="109.3" cy="1232.7" r="3.15"/><circle cx="112.7" cy="1236.7" r="3.15"/><circle cx="109.7" cy="1235.4" r="3.15"/><circle cx="112.1" cy="1234.3" r="3.15"/><circle cx="127.2" cy="1242.2" r="3.15"/><circle cx="114.6" cy="1235.9" r="3.15"/><circle cx="117.7" cy="1238.5" r="3.15"/><circle cx="118.8" cy="1238.3" r="3.15"/><circle cx="107.7" cy="1230.7" r="3.15"/><circle cx="114.8" cy="1235.0" r="3.15"/><circle cx="117.6" cy="1237.0" r="3.15"/><circle cx="120.3" cy="1242.5" r="3.15"/><circle cx="105.4" cy="1232.1" r="3.15"/><circle cx="122.4" cy="1237.6" r="3.15"/><circle cx="108.7" cy="1234.9" r="3.15"/><circle cx="98.5" cy="1233.7" r="3.15"/><circle cx="115.9" cy="1235.0" r="3.15"/><circle cx="123.5" cy="1241.6" r="3.15"/><circle cx="104.4" cy="1235.0" r="3.15"/><circle cx="111.9" cy="1238.0" r="3.15"/><circle cx="123.1" cy="1239.4" r="3.15"/><circle cx="105.6" cy="1235.6" r="3.15"/><circle cx="108.6" cy="1234.4" r="3.15"/><circle cx="127.7" cy="1239.2" r="3.15"/><circle cx="112.9" cy="1236.5" r="3.15"/><circle cx="113.8" cy="1237.6" r="3.15"/><circle cx="121.8" cy="1239.7" r="3.15"/><circle cx="97.3" cy="1232.4" r="3.15"/><circle cx="105.2" cy="1231.4" r="3.15"/><circle cx="107.6" cy="1234.6" r="3.15"/><circle cx="107.3" cy="1232.9" r="3.15"/><circle cx="105.8" cy="1235.8" r="3.15"/><circle cx="107.8" cy="1235.1" r="3.15"/><circle cx="116.1" cy="1239.8" r="3.15"/><circle cx="153.2" cy="1241.6" r="3.15"/><circle cx="133.5" cy="1239.2" r="3.15"/><circle cx="138.0" cy="1238.5" r="3.15"/><circle cx="139.0" cy="1235.6" r="3.15"/><circle cx="152.4" cy="1239.3" r="3.15"/><circle cx="152.0" cy="1242.3" r="3.15"/><circle cx="152.4" cy="1238.5" r="3.15"/><circle cx="132.8" cy="1238.4" r="3.15"/><circle cx="137.9" cy="1242.1" r="3.15"/><circle cx="136.1" cy="1238.3" r="3.15"/><circle cx="139.0" cy="1237.7" r="3.15"/><circle cx="147.8" cy="1239.4" r="3.15"/><circle cx="135.9" cy="1239.2" r="3.15"/><circle cx="152.0" cy="1242.3" r="3.15"/><circle cx="147.8" cy="1240.2" r="3.15"/><circle cx="145.2" cy="1239.2" r="3.15"/><circle cx="151.8" cy="1238.0" r="3.15"/><circle cx="148.5" cy="1236.3" r="3.15"/><circle cx="148.4" cy="1237.2" r="3.15"/><circle cx="133.7" cy="1235.6" r="3.15"/><circle cx="150.3" cy="1239.9" r="3.15"/><circle cx="137.9" cy="1236.2" r="3.15"/><circle cx="151.7" cy="1240.5" r="3.15"/><circle cx="136.4" cy="1235.1" r="3.15"/><circle cx="142.7" cy="1237.8" r="3.15"/><circle cx="149.5" cy="1240.7" r="3.15"/><circle cx="132.1" cy="1236.8" r="3.15"/><circle cx="154.1" cy="1241.2" r="3.15"/><circle cx="147.6" cy="1238.7" r="3.15"/><circle cx="141.8" cy="1235.2" r="3.15"/><circle cx="106.5" cy="1244.7" r="3.15"/><circle cx="100.9" cy="1247.2" r="3.15"/><circle cx="99.1" cy="1251.2" r="3.15"/><circle cx="99.1" cy="1245.4" r="3.15"/><circle cx="106.4" cy="1248.0" r="3.15"/><circle cx="103.7" cy="1251.5" r="3.15"/><circle cx="100.2" cy="1245.4" r="3.15"/><circle cx="100.2" cy="1252.4" r="3.15"/><circle cx="102.5" cy="1245.3" r="3.15"/><circle cx="107.4" cy="1245.6" r="3.15"/><circle cx="102.4" cy="1244.0" r="3.15"/><circle cx="95.7" cy="1245.7" r="3.15"/><circle cx="103.5" cy="1247.7" r="3.15"/><circle cx="97.1" cy="1247.5" r="3.15"/><circle cx="107.1" cy="1247.8" r="3.15"/><circle cx="98.5" cy="1246.6" r="3.15"/><circle cx="101.3" cy="1245.1" r="3.15"/><circle cx="104.3" cy="1245.7" r="3.15"/><circle cx="106.2" cy="1244.2" r="3.15"/><circle cx="98.9" cy="1243.6" r="3.15"/><circle cx="100.9" cy="1243.7" r="3.15"/><circle cx="105.7" cy="1247.8" r="3.15"/><circle cx="101.6" cy="1246.7" r="3.15"/><circle cx="109.1" cy="1248.8" r="3.15"/><circle cx="96.3" cy="1248.8" r="3.15"/><circle cx="101.1" cy="1245.2" r="3.15"/><circle cx="104.3" cy="1249.6" r="3.15"/><circle cx="103.3" cy="1245.9" r="3.15"/><circle cx="100.1" cy="1249.9" r="3.15"/><circle cx="94.7" cy="1249.4" r="3.15"/><circle cx="98.9" cy="1248.9" r="3.15"/><circle cx="95.8" cy="1242.7" r="3.15"/><circle cx="101.2" cy="1249.6" r="3.15"/><circle cx="97.2" cy="1245.9" r="3.15"/><circle cx="100.1" cy="1249.4" r="3.15"/><circle cx="107.3" cy="1243.3" r="3.15"/><circle cx="105.7" cy="1248.7" r="3.15"/><circle cx="103.0" cy="1241.9" r="3.15"/><circle cx="98.4" cy="1248.1" r="3.15"/><circle cx="103.3" cy="1243.7" r="3.15"/><circle cx="83.4" cy="1255.4" r="3.15"/><circle cx="86.5" cy="1252.3" r="3.15"/><circle cx="82.5" cy="1251.9" r="3.15"/><circle cx="80.9" cy="1253.3" r="3.15"/><circle cx="89.3" cy="1254.5" r="3.15"/><circle cx="86.5" cy="1258.2" r="3.15"/><circle cx="88.1" cy="1252.9" r="3.15"/><circle cx="89.5" cy="1249.1" r="3.15"/><circle cx="84.6" cy="1258.1" r="3.15"/><circle cx="78.7" cy="1256.0" r="3.15"/><circle cx="84.0" cy="1248.5" r="3.15"/><circle cx="81.7" cy="1253.2" r="3.15"/><circle cx="90.7" cy="1251.6" r="3.15"/><circle cx="81.3" cy="1251.3" r="3.15"/><circle cx="83.8" cy="1254.9" r="3.15"/><circle cx="87.9" cy="1253.4" r="3.15"/><circle cx="88.7" cy="1255.5" r="3.15"/><circle cx="84.3" cy="1254.2" r="3.15"/><circle cx="85.4" cy="1259.1" r="3.15"/><circle cx="88.3" cy="1250.7" r="3.15"/><circle cx="85.0" cy="1252.3" r="3.15"/><circle cx="83.6" cy="1252.1" r="3.15"/><circle cx="84.2" cy="1259.1" r="3.15"/><circle cx="85.0" cy="1254.6" r="3.15"/><circle cx="86.8" cy="1250.9" r="3.15"/><circle cx="90.9" cy="1251.2" r="3.15"/><circle cx="96.0" cy="1259.4" r="3.15"/><circle cx="94.7" cy="1257.0" r="3.15"/><circle cx="98.6" cy="1258.4" r="3.15"/><circle cx="105.9" cy="1258.6" r="3.15"/><circle cx="94.4" cy="1259.3" r="3.15"/><circle cx="93.9" cy="1259.6" r="3.15"/><circle cx="101.6" cy="1260.5" r="3.15"/><circle cx="105.8" cy="1260.8" r="3.15"/><circle cx="96.8" cy="1258.3" r="3.15"/><circle cx="99.1" cy="1259.9" r="3.15"/><circle cx="99.2" cy="1258.7" r="3.15"/><circle cx="99.5" cy="1259.9" r="3.15"/><circle cx="93.6" cy="1258.0" r="3.15"/><circle cx="97.2" cy="1260.4" r="3.15"/><circle cx="94.5" cy="1257.9" r="3.15"/><circle cx="95.1" cy="1259.6" r="3.15"/><circle cx="102.9" cy="1263.4" r="3.15"/><circle cx="102.9" cy="1261.1" r="3.15"/><circle cx="106.2" cy="1259.8" r="3.15"/><circle cx="103.1" cy="1258.4" r="3.15"/><circle cx="111.0" cy="1259.0" r="3.15"/><circle cx="114.0" cy="1259.5" r="3.15"/><circle cx="117.5" cy="1259.0" r="3.15"/><circle cx="81.9" cy="1268.7" r="3.15"/><circle cx="83.1" cy="1269.7" r="3.15"/><circle cx="82.1" cy="1269.6" r="3.15"/><circle cx="81.9" cy="1270.3" r="3.15"/><circle cx="80.3" cy="1270.4" r="3.15"/><circle cx="79.0" cy="1271.3" r="3.15"/><circle cx="80.8" cy="1271.4" r="3.15"/><circle cx="84.8" cy="1267.9" r="3.15"/><circle cx="78.8" cy="1264.4" r="3.15"/><circle cx="85.9" cy="1268.2" r="3.15"/><circle cx="83.2" cy="1266.5" r="3.15"/><circle cx="87.6" cy="1272.1" r="3.15"/><circle cx="82.5" cy="1266.8" r="3.15"/><circle cx="87.5" cy="1268.3" r="3.15"/><circle cx="77.6" cy="1268.7" r="3.15"/><circle cx="81.8" cy="1267.9" r="3.15"/><circle cx="81.8" cy="1270.4" r="3.15"/><circle cx="79.7" cy="1269.4" r="3.15"/><circle cx="79.6" cy="1267.0" r="3.15"/><circle cx="86.3" cy="1265.9" r="3.15"/><circle cx="80.8" cy="1269.8" r="3.15"/><circle cx="79.4" cy="1269.0" r="3.15"/><circle cx="83.6" cy="1271.8" r="3.15"/><circle cx="77.8" cy="1272.8" r="3.15"/><circle cx="81.5" cy="1267.6" r="3.15"/><circle cx="80.6" cy="1265.4" r="3.15"/><circle cx="77.5" cy="1271.5" r="3.15"/><circle cx="117.7" cy="1274.9" r="3.15"/><circle cx="125.0" cy="1274.1" r="3.15"/><circle cx="115.7" cy="1276.0" r="3.15"/><circle cx="118.5" cy="1274.6" r="3.15"/><circle cx="115.3" cy="1273.1" r="3.15"/><circle cx="119.0" cy="1272.6" r="3.15"/><circle cx="117.9" cy="1269.6" r="3.15"/><circle cx="127.1" cy="1273.5" r="3.15"/><circle cx="115.2" cy="1275.6" r="3.15"/><circle cx="123.1" cy="1274.7" r="3.15"/><circle cx="120.9" cy="1271.5" r="3.15"/><circle cx="126.1" cy="1275.3" r="3.15"/><circle cx="121.6" cy="1272.6" r="3.15"/><circle cx="117.9" cy="1272.3" r="3.15"/><circle cx="125.3" cy="1278.7" r="3.15"/><circle cx="110.9" cy="1276.3" r="3.15"/><circle cx="121.8" cy="1272.6" r="3.15"/><circle cx="118.7" cy="1274.7" r="3.15"/><circle cx="122.5" cy="1274.9" r="3.15"/><circle cx="115.6" cy="1271.2" r="3.15"/><circle cx="124.3" cy="1273.2" r="3.15"/><circle cx="126.3" cy="1272.4" r="3.15"/><circle cx="120.7" cy="1272.7" r="3.15"/><circle cx="118.6" cy="1274.9" r="3.15"/><circle cx="116.5" cy="1272.4" r="3.15"/><circle cx="120.6" cy="1276.2" r="3.15"/><circle cx="131.0" cy="1276.0" r="3.15"/><circle cx="131.4" cy="1265.4" r="3.15"/><circle cx="139.0" cy="1264.6" r="3.15"/><circle cx="135.0" cy="1250.6" r="3.15"/><circle cx="177.0" cy="1237.0" r="3.15"/><circle cx="181.6" cy="1233.0" r="3.15"/><circle cx="166.6" cy="1253.8" r="3.15"/><circle cx="155.2" cy="1252.3" r="3.15"/><circle cx="157.1" cy="1250.0" r="3.15"/><circle cx="154.6" cy="1265.5" r="3.15"/><circle cx="145.3" cy="1252.0" r="3.15"/><circle cx="147.5" cy="1255.5" r="3.15"/><circle cx="176.4" cy="1250.3" r="3.15"/><circle cx="148.5" cy="1260.9" r="3.15"/><circle cx="163.3" cy="1245.0" r="3.15"/><circle cx="172.3" cy="1262.2" r="3.15"/><circle cx="176.7" cy="1246.6" r="3.15"/><circle cx="171.2" cy="1256.5" r="3.15"/><circle cx="142.7" cy="1248.8" r="3.15"/><circle cx="155.1" cy="1261.1" r="3.15"/><circle cx="159.5" cy="1256.1" r="3.15"/><circle cx="174.0" cy="1246.7" r="3.15"/><circle cx="151.9" cy="1255.6" r="3.15"/><circle cx="157.9" cy="1253.5" r="3.15"/><circle cx="168.9" cy="1264.5" r="3.15"/><circle cx="156.4" cy="1245.8" r="3.15"/><circle cx="144.9" cy="1259.1" r="3.15"/><circle cx="142.5" cy="1258.5" r="3.15"/><circle cx="153.0" cy="1260.2" r="3.15"/><circle cx="156.8" cy="1245.9" r="3.15"/><circle cx="157.5" cy="1253.0" r="3.15"/><circle cx="156.6" cy="1262.2" r="3.15"/><circle cx="171.3" cy="1256.7" r="3.15"/><circle cx="165.6" cy="1259.4" r="3.15"/><circle cx="168.4" cy="1251.1" r="3.15"/><circle cx="168.6" cy="1258.3" r="3.15"/><circle cx="169.8" cy="1252.2" r="3.15"/><circle cx="150.7" cy="1259.5" r="3.15"/><circle cx="172.6" cy="1253.8" r="3.15"/><circle cx="154.0" cy="1261.3" r="3.15"/><circle cx="176.9" cy="1251.9" r="3.15"/><circle cx="140.4" cy="1254.8" r="3.15"/><circle cx="169.2" cy="1251.4" r="3.15"/><circle cx="169.2" cy="1253.3" r="3.15"/><circle cx="146.0" cy="1250.6" r="3.15"/><circle cx="152.3" cy="1257.0" r="3.15"/><circle cx="148.2" cy="1250.8" r="3.15"/><circle cx="169.7" cy="1259.3" r="3.15"/><circle cx="158.3" cy="1262.9" r="3.15"/><circle cx="153.8" cy="1261.0" r="3.15"/><circle cx="152.4" cy="1259.2" r="3.15"/><circle cx="162.8" cy="1253.3" r="3.15"/><circle cx="142.9" cy="1262.9" r="3.15"/><circle cx="165.6" cy="1256.0" r="3.15"/><circle cx="166.4" cy="1247.7" r="3.15"/><circle cx="161.5" cy="1249.9" r="3.15"/><circle cx="134.8" cy="1254.8" r="3.15"/><circle cx="165.4" cy="1260.8" r="3.15"/><circle cx="161.4" cy="1259.3" r="3.15"/><circle cx="155.7" cy="1262.9" r="3.15"/><circle cx="161.9" cy="1251.9" r="3.15"/><circle cx="149.4" cy="1258.8" r="3.15"/><circle cx="161.8" cy="1260.8" r="3.15"/><circle cx="150.5" cy="1253.2" r="3.15"/><circle cx="158.7" cy="1252.7" r="3.15"/><circle cx="141.3" cy="1256.9" r="3.15"/><circle cx="166.0" cy="1242.8" r="3.15"/><circle cx="169.8" cy="1245.0" r="3.15"/><circle cx="155.2" cy="1251.3" r="3.15"/><circle cx="148.2" cy="1254.0" r="3.15"/><circle cx="165.8" cy="1249.3" r="3.15"/><circle cx="160.5" cy="1260.9" r="3.15"/><circle cx="176.2" cy="1254.1" r="3.15"/><circle cx="168.4" cy="1254.5" r="3.15"/><circle cx="166.1" cy="1252.7" r="3.15"/><circle cx="146.0" cy="1261.9" r="3.15"/><circle cx="164.7" cy="1252.7" r="3.15"/><circle cx="156.3" cy="1254.6" r="3.15"/><circle cx="167.5" cy="1250.2" r="3.15"/><circle cx="172.7" cy="1256.7" r="3.15"/><circle cx="146.5" cy="1260.1" r="3.15"/><circle cx="162.9" cy="1245.2" r="3.15"/><circle cx="177.6" cy="1258.1" r="3.15"/><circle cx="164.4" cy="1248.4" r="3.15"/><circle cx="148.8" cy="1258.8" r="3.15"/><circle cx="156.8" cy="1252.7" r="3.15"/><circle cx="150.0" cy="1244.7" r="3.15"/><circle cx="163.2" cy="1259.8" r="3.15"/><circle cx="150.1" cy="1251.5" r="3.15"/><circle cx="147.5" cy="1261.4" r="3.15"/><circle cx="143.3" cy="1260.1" r="3.15"/><circle cx="153.8" cy="1252.8" r="3.15"/><circle cx="157.7" cy="1258.5" r="3.15"/><circle cx="150.2" cy="1258.9" r="3.15"/><circle cx="157.2" cy="1254.1" r="3.15"/><circle cx="156.7" cy="1253.0" r="3.15"/><circle cx="174.3" cy="1254.4" r="3.15"/><circle cx="168.6" cy="1259.0" r="3.15"/><circle cx="173.0" cy="1252.1" r="3.15"/><circle cx="160.0" cy="1265.2" r="3.15"/><circle cx="164.1" cy="1253.1" r="3.15"/><circle cx="141.5" cy="1262.5" r="3.15"/><circle cx="167.5" cy="1244.2" r="3.15"/><circle cx="155.5" cy="1255.6" r="3.15"/><circle cx="163.1" cy="1251.6" r="3.15"/><circle cx="157.3" cy="1250.9" r="3.15"/><circle cx="171.3" cy="1252.9" r="3.15"/><circle cx="155.5" cy="1257.1" r="3.15"/><circle cx="176.4" cy="1255.0" r="3.15"/><circle cx="143.5" cy="1257.8" r="3.15"/><circle cx="161.9" cy="1250.1" r="3.15"/><circle cx="141.7" cy="1255.4" r="3.15"/><circle cx="161.9" cy="1255.2" r="3.15"/><circle cx="172.9" cy="1255.3" r="3.15"/><circle cx="140.4" cy="1250.6" r="3.15"/><circle cx="148.3" cy="1250.2" r="3.15"/><circle cx="151.9" cy="1258.7" r="3.15"/><circle cx="165.3" cy="1256.0" r="3.15"/><circle cx="168.7" cy="1253.6" r="3.15"/><circle cx="146.7" cy="1258.8" r="3.15"/><circle cx="138.9" cy="1252.1" r="3.15"/><circle cx="159.1" cy="1256.6" r="3.15"/><circle cx="156.1" cy="1251.7" r="3.15"/><circle cx="148.5" cy="1258.1" r="3.15"/><circle cx="169.8" cy="1250.0" r="3.15"/><circle cx="157.2" cy="1250.9" r="3.15"/><circle cx="170.1" cy="1256.7" r="3.15"/><circle cx="156.4" cy="1257.1" r="3.15"/><circle cx="172.2" cy="1256.8" r="3.15"/><circle cx="141.9" cy="1266.7" r="3.15"/><circle cx="157.5" cy="1255.4" r="3.15"/><circle cx="180.0" cy="1253.0" r="3.15"/><circle cx="183.0" cy="1255.0" r="3.15"/><circle cx="186.0" cy="1253.6" r="3.15"/><circle cx="181.0" cy="1262.4" r="3.15"/><circle cx="184.0" cy="1263.0" r="3.15"/><circle cx="183.0" cy="1279.0" r="3.15"/><circle cx="186.0" cy="1276.0" r="3.15"/><circle cx="184.4" cy="1274.0" r="3.15"/><circle cx="74.1" cy="1316.9" r="3.15"/><circle cx="75.6" cy="1313.5" r="3.15"/><circle cx="74.5" cy="1315.5" r="3.15"/><circle cx="75.6" cy="1314.3" r="3.15"/><circle cx="75.6" cy="1319.3" r="3.15"/><circle cx="73.2" cy="1317.5" r="3.15"/><circle cx="71.1" cy="1314.7" r="3.15"/><circle cx="69.2" cy="1315.6" r="3.15"/><circle cx="76.7" cy="1318.2" r="3.15"/><circle cx="72.6" cy="1315.9" r="3.15"/><circle cx="74.1" cy="1318.4" r="3.15"/><circle cx="71.7" cy="1318.5" r="3.15"/><circle cx="75.1" cy="1317.9" r="3.15"/><circle cx="70.9" cy="1317.2" r="3.15"/><circle cx="72.2" cy="1318.2" r="3.15"/><circle cx="70.4" cy="1318.7" r="3.15"/><circle cx="74.3" cy="1315.8" r="3.15"/><circle cx="74.3" cy="1315.6" r="3.15"/><circle cx="69.7" cy="1318.7" r="3.15"/><circle cx="73.1" cy="1316.9" r="3.15"/><circle cx="68.9" cy="1317.3" r="3.15"/><circle cx="73.3" cy="1315.5" r="3.15"/><circle cx="73.7" cy="1314.7" r="3.15"/><circle cx="75.4" cy="1316.5" r="3.15"/><circle cx="73.1" cy="1318.0" r="3.15"/><circle cx="69.5" cy="1317.2" r="3.15"/><circle cx="67.4" cy="1314.7" r="3.15"/><circle cx="74.1" cy="1315.9" r="3.15"/><circle cx="71.6" cy="1316.5" r="3.15"/><circle cx="70.2" cy="1317.3" r="3.15"/><circle cx="72.4" cy="1316.2" r="3.15"/><circle cx="69.7" cy="1316.4" r="3.15"/><circle cx="71.3" cy="1316.1" r="3.15"/><circle cx="72.1" cy="1313.6" r="3.15"/><circle cx="72.2" cy="1318.2" r="3.15"/><circle cx="72.9" cy="1316.8" r="3.15"/><circle cx="71.3" cy="1315.0" r="3.15"/><circle cx="77.6" cy="1318.3" r="3.15"/><circle cx="73.3" cy="1316.5" r="3.15"/><circle cx="71.5" cy="1314.9" r="3.15"/><circle cx="71.8" cy="1317.8" r="3.15"/><circle cx="72.6" cy="1316.9" r="3.15"/><circle cx="74.8" cy="1316.4" r="3.15"/><circle cx="71.8" cy="1315.6" r="3.15"/><circle cx="76.3" cy="1318.4" r="3.15"/><circle cx="73.6" cy="1317.5" r="3.15"/><circle cx="71.8" cy="1319.6" r="3.15"/><circle cx="75.5" cy="1316.9" r="3.15"/><circle cx="75.4" cy="1315.7" r="3.15"/><circle cx="71.0" cy="1316.8" r="3.15"/><circle cx="73.7" cy="1318.3" r="3.15"/><circle cx="74.1" cy="1318.6" r="3.15"/><circle cx="71.4" cy="1315.7" r="3.15"/><circle cx="72.5" cy="1314.1" r="3.15"/><circle cx="72.0" cy="1315.5" r="3.15"/><circle cx="70.3" cy="1317.9" r="3.15"/><circle cx="71.6" cy="1316.6" r="3.15"/><circle cx="72.1" cy="1318.1" r="3.15"/><circle cx="72.1" cy="1314.6" r="3.15"/><circle cx="68.0" cy="1315.6" r="3.15"/><circle cx="72.6" cy="1318.1" r="3.15"/><circle cx="70.9" cy="1313.9" r="3.15"/><circle cx="75.9" cy="1317.5" r="3.15"/><circle cx="73.3" cy="1317.9" r="3.15"/><circle cx="71.7" cy="1314.6" r="3.15"/><circle cx="72.0" cy="1315.3" r="3.15"/><circle cx="73.5" cy="1317.8" r="3.15"/><circle cx="73.9" cy="1314.8" r="3.15"/><circle cx="72.7" cy="1315.8" r="3.15"/><circle cx="73.6" cy="1314.2" r="3.15"/><circle cx="75.8" cy="1313.9" r="3.15"/><circle cx="71.8" cy="1318.7" r="3.15"/><circle cx="69.2" cy="1316.8" r="3.15"/><circle cx="71.7" cy="1316.7" r="3.15"/><circle cx="75.0" cy="1318.3" r="3.15"/><circle cx="71.5" cy="1316.3" r="3.15"/><circle cx="74.0" cy="1315.2" r="3.15"/><circle cx="69.1" cy="1318.5" r="3.15"/><circle cx="68.8" cy="1315.5" r="3.15"/><circle cx="71.2" cy="1317.9" r="3.15"/><circle cx="73.4" cy="1318.8" r="3.15"/><circle cx="72.0" cy="1314.5" r="3.15"/><circle cx="74.7" cy="1315.2" r="3.15"/><circle cx="76.1" cy="1316.5" r="3.15"/><circle cx="72.0" cy="1316.1" r="3.15"/><circle cx="81.0" cy="1314.6" r="3.15"/><circle cx="89.6" cy="1314.8" r="3.15"/><circle cx="199.0" cy="1173.4" r="3.15"/><circle cx="266.6" cy="1173.6" r="3.15"/><circle cx="180.6" cy="1187.4" r="3.15"/><circle cx="180.0" cy="1194.6" r="3.15"/><circle cx="180.0" cy="1210.0" r="3.15"/><circle cx="190.6" cy="1211.4" r="3.15"/><circle cx="198.4" cy="1232.0" r="3.15"/><circle cx="194.0" cy="1236.0" r="3.15"/><circle cx="193.0" cy="1237.6" r="3.15"/><circle cx="199.0" cy="1235.6" r="3.15"/><circle cx="200.0" cy="1238.0" r="3.15"/><circle cx="195.6" cy="1241.0" r="3.15"/><circle cx="204.0" cy="1235.6" r="3.15"/><circle cx="205.0" cy="1238.4" r="3.15"/><circle cx="211.0" cy="1232.0" r="3.15"/><circle cx="212.0" cy="1232.6" r="3.15"/><circle cx="215.4" cy="1234.4" r="3.15"/><circle cx="226.6" cy="1233.0" r="3.15"/><circle cx="228.0" cy="1234.0" r="3.15"/><circle cx="231.6" cy="1236.6" r="3.15"/><circle cx="233.0" cy="1235.0" r="3.15"/><circle cx="237.0" cy="1232.6" r="3.15"/><circle cx="242.0" cy="1234.0" r="3.15"/><circle cx="243.6" cy="1232.0" r="3.15"/><circle cx="246.0" cy="1230.0" r="3.15"/><circle cx="252.4" cy="1233.0" r="3.15"/><circle cx="254.0" cy="1235.0" r="3.15"/><circle cx="255.6" cy="1237.0" r="3.15"/><circle cx="230.4" cy="1239.0" r="3.15"/><circle cx="231.6" cy="1244.4" r="3.15"/><circle cx="231.6" cy="1249.0" r="3.15"/><circle cx="229.0" cy="1256.0" r="3.15"/><circle cx="239.6" cy="1246.6" r="3.15"/><circle cx="246.0" cy="1252.4" r="3.15"/><circle cx="250.0" cy="1248.0" r="3.15"/><circle cx="252.4" cy="1247.6" r="3.15"/><circle cx="256.0" cy="1254.4" r="3.15"/><circle cx="259.6" cy="1246.4" r="3.15"/><circle cx="262.4" cy="1243.0" r="3.15"/><circle cx="276.4" cy="1247.0" r="3.15"/><circle cx="277.4" cy="1251.0" r="3.15"/><circle cx="284.6" cy="1248.0" r="3.15"/><circle cx="286.0" cy="1251.0" r="3.15"/><circle cx="292.4" cy="1248.6" r="3.15"/><circle cx="297.4" cy="1247.4" r="3.15"/><circle cx="304.4" cy="1247.0" r="3.15"/><circle cx="191.6" cy="1248.0" r="3.15"/><circle cx="187.0" cy="1250.4" r="3.15"/><circle cx="189.0" cy="1255.0" r="3.15"/><circle cx="194.0" cy="1253.0" r="3.15"/><circle cx="196.0" cy="1254.4" r="3.15"/><circle cx="198.0" cy="1253.6" r="3.15"/><circle cx="200.0" cy="1254.4" r="3.15"/><circle cx="202.0" cy="1252.4" r="3.15"/><circle cx="204.0" cy="1251.0" r="3.15"/><circle cx="207.0" cy="1249.6" r="3.15"/><circle cx="208.0" cy="1253.0" r="3.15"/><circle cx="212.0" cy="1249.6" r="3.15"/><circle cx="213.0" cy="1253.0" r="3.15"/><circle cx="217.6" cy="1252.0" r="3.15"/><circle cx="199.4" cy="1258.0" r="3.15"/><circle cx="188.4" cy="1260.0" r="3.15"/><circle cx="189.0" cy="1263.0" r="3.15"/><circle cx="190.0" cy="1274.0" r="3.15"/><circle cx="192.0" cy="1277.0" r="3.15"/><circle cx="194.4" cy="1276.4" r="3.15"/><circle cx="189.0" cy="1280.0" r="3.15"/><circle cx="203.0" cy="1275.6" r="3.15"/><circle cx="205.6" cy="1276.0" r="3.15"/><circle cx="207.0" cy="1277.6" r="3.15"/><circle cx="206.0" cy="1271.6" r="3.15"/><circle cx="208.0" cy="1276.0" r="3.15"/><circle cx="221.0" cy="1274.4" r="3.15"/><circle cx="222.4" cy="1277.6" r="3.15"/><circle cx="227.4" cy="1275.0" r="3.15"/>
</g>
<rect x="56.6" y="1093.3" width="260" height="236.6" fill="none" stroke="#000" stroke-width="1.28"/>
<text x="64.9" y="1353.5" font-family='"Liberation Serif", serif' font-size="16" text-anchor="middle">0.00</text>
<text x="126.9" y="1353.5" font-family='"Liberation Serif", serif' font-size="16" text-anchor="middle">0.25</text>
<text x="188.9" y="1353.5" font-family='"Liberation Serif", serif' font-size="16" text-anchor="middle">0.50</text>
<text x="250.9" y="1353.5" font-family='"Liberation Serif", serif' font-size="16" text-anchor="middle">0.75</text>
<text x="312.9" y="1353.5" font-family='"Liberation Serif", serif' font-size="16" text-anchor="middle">1.00</text>
<text x="44.3" y="1150.5" font-family='"Liberation Serif", serif' font-size="16" text-anchor="end">30</text>
<text x="44.3" y="1208.9" font-family='"Liberation Serif", serif' font-size="16" text-anchor="end">20</text>
<text x="44.3" y="1267.1" font-family='"Liberation Serif", serif' font-size="16" text-anchor="end">10</text>
<text x="44.3" y="1325.4" font-family='"Liberation Serif", serif' font-size="16" text-anchor="end">0</text>
<path d="M64.9 1329.9v6.24M126.9 1329.9v6.24M188.9 1329.9v6.24M250.9 1329.9v6.24M312.9 1329.9v6.24M56.6 1145h-6.24M56.6 1203.4h-6.24M56.6 1261.6h-6.24M56.6 1319.9h-6.24" stroke="#000" stroke-width="1.28" fill="none"/>
<path d="M282.7 1365.5L290.5 1373.3M282.7 1373.3L290.5 1365.5" stroke="#000" stroke-width="1.05" fill="none"/>
<text x="293.8" y="1373.9" font-family='"Liberation Serif", serif' font-size="16" text-anchor="start">10</text>
<text x="310" y="1367.3" font-family='"Liberation Serif", serif' font-size="11.2" text-anchor="start">5</text>
<text x="104.2" y="1083.5" font-family='"Liberation Serif", serif' font-size="19.2" text-anchor="start" font-style="italic">ρ</text>
<text x="113.4" y="1086.5" font-family='"Liberation Serif", serif' font-size="13.4" text-anchor="start" font-style="italic">s</text>
<text x="126" y="1083.5" font-family='"Liberation Serif", serif' font-size="19.2" text-anchor="start" textLength="15" lengthAdjust="spacingAndGlyphs">=</text>
<text x="146.8" y="1083.5" font-family='"Liberation Serif", serif' font-size="19.2" text-anchor="start">0.12</text>
<text x="181.4" y="1083.5" font-family='"Liberation Serif", serif' font-size="19.2" text-anchor="start">,</text>
<text x="190.9" y="1083.5" font-family='"Liberation Serif", serif' font-size="19.2" text-anchor="start" font-style="italic">ρ</text>
<text x="200.2" y="1086.5" font-family='"Liberation Serif", serif' font-size="13.4" text-anchor="start" font-style="italic">p</text>
<text x="214.5" y="1083.5" font-family='"Liberation Serif", serif' font-size="19.2" text-anchor="start" textLength="15" lengthAdjust="spacingAndGlyphs">=</text>
<text x="235" y="1083.5" font-family='"Liberation Serif", serif' font-size="19.2" text-anchor="start">0.01</text>
<text x="186.6" y="1375.8" font-family='"Liberation Sans", sans-serif' font-size="15.3" text-anchor="middle" textLength="119" lengthAdjust="spacingAndGlyphs" class="sans"><tspan font-size="18.2" dy="0.7">(</tspan><tspan dy="-0.7">Pointcloud, CD</tspan><tspan font-size="18.2" dy="0.7">)</tspan></text>
<text x="186.6" y="1394.4" font-family='"Liberation Sans", sans-serif' font-size="15.3" text-anchor="middle" class="sans"><tspan font-size="18.2" dy="0.7">(</tspan><tspan dy="-0.7">g</tspan><tspan font-size="18.2" dy="0.7">)</tspan></text>
<g transform="translate(17.1 1211.6) rotate(-90)"><text x="0" y="0" font-family='"Liberation Sans", sans-serif' font-size="15.3" text-anchor="middle" textLength="137.4" lengthAdjust="spacingAndGlyphs" class="sans"><tspan font-size="18.2" dy="0.7">(</tspan><tspan dy="-0.7">Voxel, UMAP, ED</tspan><tspan font-size="18.2" dy="0.7">)</tspan></text></g>
</g>
</svg>
</body>
</html>
